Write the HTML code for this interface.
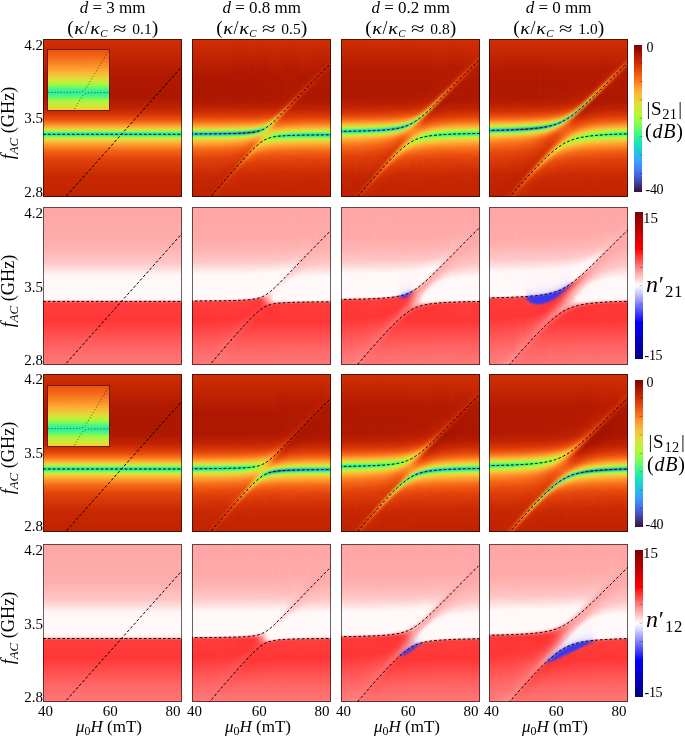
<!DOCTYPE html>
<html><head><meta charset="utf-8"><title>figure</title>
<style>
html,body{margin:0;padding:0;background:#fff}
#tx{opacity:.999}
#f{position:relative;width:685px;height:736px;overflow:hidden;background:#fff;font-family:"Liberation Serif",serif;color:#000}
.p{position:absolute;width:139px;height:158px;overflow:hidden}
.p i{position:absolute;top:0;height:100%;width:6px}
.p b i{-webkit-mask-image:linear-gradient(90deg,transparent,#000 50%,transparent);mask-image:linear-gradient(90deg,transparent,#000 50%,transparent)}
.ins{position:absolute;width:61px;height:60px;overflow:hidden}
.ins i{position:absolute;top:0;height:100%;width:2px}
svg{position:absolute;left:0;top:0}
.cb{position:absolute;left:634.5px;width:8px}
.t1,.t2{position:absolute;width:200px;text-align:center;white-space:nowrap}
.t1{top:-1px;font-size:17px;line-height:18px}
.t2{top:18px;font-size:15.5px;line-height:20px}
.t2 em{font-style:normal;font-size:19.5px;position:relative;top:.3px}
.t2 .k{display:inline-block;font-size:16.5px;transform:scaleX(1.22);margin:0 1.4px}
.t2 .sl{font-size:18px}
.t2 .ap{display:inline-block;font-size:17px;transform:scaleX(1.45);margin:0 7.5px 0 8px}
.t2 sub,.yl sub,.xl sub,.cs sub,.cn sub{font-size:70%;vertical-align:baseline;position:relative;top:.28em;line-height:0}
.t2 sub{font-style:italic}
.yl sub{font-style:italic}
.xt{position:absolute;top:702.5px;width:40px;text-align:center;font-size:15px;line-height:17px}
.xl{position:absolute;top:717px;width:120px;text-align:center;font-size:17px;line-height:19px;white-space:nowrap}
.yt{position:absolute;left:0;width:43px;text-align:right;font-size:15px;line-height:17px}
.yl{position:absolute;left:-42.1px;width:100px;height:20px;margin-top:-10px;text-align:center;font-size:18.3px;line-height:20px;white-space:nowrap;transform:rotate(-90deg)}
.ct{position:absolute;left:646.5px;font-size:14.5px;line-height:17px;white-space:nowrap}
.c4{left:645.6px;font-size:14px;letter-spacing:-.35px}
.c1{left:642.9px;font-size:15px}
.cs,.cd,.cn{position:absolute;white-space:nowrap}
.cs{left:646.4px;font-size:19px;line-height:24px;letter-spacing:.7px}
.cs sub{font-size:76%!important;letter-spacing:.3px}
.cd{left:645px;font-size:20px;line-height:24px;letter-spacing:.8px}
.cn{left:646px;font-size:24px;line-height:28px;letter-spacing:.8px}
</style></head>
<body><div id="f">
<div class="p" style="left:43px;top:39px;background:linear-gradient(#d02f05 0.5px,#af1801 38.5px,#ad1701 58.5px,#c02302 69.5px,#d63506 75.5px,#ec520f 80.5px,#f7701b 83.5px,#fcaa33 87.5px,#edcc38 89.5px,#dbde38 90.5px,#beee3b 91.5px,#92f750 92.5px,#5bf27c 93.5px,#2fe4ab 94.5px,#25dfb8 95.5px,#3eeb98 96.5px,#71f767 97.5px,#a4f644 98.5px,#c7eb38 99.5px,#dedc37 100.5px,#f6c038 102.5px,#fda832 104.5px,#f56717 111.5px,#e3440a 119.5px,#c82903 136.5px,#c12302 157.5px)"></div>
<div class="p" style="left:192px;top:39px"><i style="left:-3px;background:linear-gradient(#d02f05 0.5px,#af1801 37.5px,#ac1701 57.5px,#b61c02 65.5px,#ca2a04 72.5px,#e3450a 78.5px,#f56817 82.5px,#fd9e2e 86.5px,#f6bf38 88.5px,#ead138 89.5px,#d4e337 90.5px,#b1f33f 91.5px,#7bf562 92.5px,#46dda3 93.5px,#36b5da 94.5px,#36b5da 95.5px,#45dda4 96.5px,#78f664 97.5px,#acf540 98.5px,#cee837 99.5px,#e4d838 100.5px,#f1c939 101.5px,#fcaf35 103.5px,#fc8424 107.5px,#f46416 111.5px,#e2430a 119.5px,#ca2a04 134.5px,#be2202 157.5px)"></i><i style="left:3px;background:linear-gradient(#d02f05 0.5px,#af1801 37.5px,#ac1701 57.5px,#b61c02 65.5px,#cb2a04 72.5px,#e3450a 78.5px,#f56817 82.5px,#fd9e2e 86.5px,#f6bf38 88.5px,#e9d138 89.5px,#d3e437 90.5px,#b0f340 91.5px,#79f563 92.5px,#45dba5 93.5px,#36b2db 94.5px,#36b4d9 95.5px,#46dea1 96.5px,#7af662 97.5px,#adf43f 98.5px,#cfe737 99.5px,#e4d738 100.5px,#f1c839 101.5px,#fcae34 103.5px,#fc8323 107.5px,#f36416 111.5px,#e2420a 119.5px,#c92903 135.5px,#be2102 157.5px)"></i><i style="left:9px;background:linear-gradient(#d02f05 0.5px,#af1801 37.5px,#ac1701 57.5px,#b61c02 65.5px,#cb2a04 72.5px,#e3450a 78.5px,#f56817 82.5px,#fd9f2f 86.5px,#f5c038 88.5px,#e8d238 89.5px,#d2e537 90.5px,#aef340 91.5px,#77f466 92.5px,#44d9a8 93.5px,#37afdc 94.5px,#37b4d7 95.5px,#48df9e 96.5px,#7cf660 97.5px,#b0f43f 98.5px,#d1e637 99.5px,#e5d638 100.5px,#f2c739 101.5px,#fcae34 103.5px,#f66a18 110.5px,#e4450a 118.5px,#c82903 135.5px,#be2102 157.5px)"></i><i style="left:15px;background:linear-gradient(#d02f05 0.5px,#af1801 37.5px,#ac1701 57.5px,#b61c02 65.5px,#cb2a04 72.5px,#e4450a 78.5px,#f56817 82.5px,#fd9f2f 86.5px,#f5c138 88.5px,#e8d338 89.5px,#d1e538 90.5px,#abf442 91.5px,#73f369 92.5px,#42d6ab 93.5px,#37acdc 94.5px,#37b4d5 95.5px,#4ae19b 96.5px,#80f65d 97.5px,#b2f33e 98.5px,#d2e537 99.5px,#e6d538 100.5px,#f3c639 101.5px,#fdac34 103.5px,#fb8223 107.5px,#f36315 111.5px,#e14209 119.5px,#c62703 137.5px,#be2202 152.5px,#c42503 157.5px)"></i><i style="left:21px;background:linear-gradient(#d02f05 0.5px,#af1801 37.5px,#ac1701 57.5px,#b81e02 66.5px,#cb2b04 72.5px,#e4450a 78.5px,#f56817 82.5px,#fda02f 86.5px,#f5c138 88.5px,#e7d438 89.5px,#cfe638 90.5px,#a9f443 91.5px,#70f26d 92.5px,#41d2af 93.5px,#38a8dc 94.5px,#38b5d1 95.5px,#4de296 96.5px,#83f75a 97.5px,#b5f23d 98.5px,#d4e437 99.5px,#e8d438 100.5px,#f3c539 101.5px,#fdab33 103.5px,#f56818 110.5px,#ec520f 114.5px,#e14109 119.5px,#c42503 139.5px,#c12302 147.5px,#ce2e04 152.5px,#c42503 157.5px)"></i><i style="left:27px;background:linear-gradient(#d02f05 0.5px,#af1801 37.5px,#ac1701 57.5px,#b81e02 66.5px,#cb2b04 72.5px,#e4450a 78.5px,#f56817 82.5px,#fda12f 86.5px,#f4c338 88.5px,#e6d538 89.5px,#cde738 90.5px,#a5f545 91.5px,#6bf172 92.5px,#3fccb4 93.5px,#38a3db 94.5px,#38b6cc 95.5px,#51e490 96.5px,#89f756 97.5px,#b9f13b 98.5px,#d7e237 99.5px,#ead239 100.5px,#fda933 103.5px,#f56717 110.5px,#eb510e 114.5px,#e04109 119.5px,#c42503 137.5px,#c42503 141.5px,#d43306 145.5px,#c62703 150.5px,#c12302 157.5px)"></i><i style="left:33px;background:linear-gradient(#d02f05 0.5px,#af1801 37.5px,#ac1701 57.5px,#b81e02 66.5px,#cb2b04 72.5px,#e4450a 78.5px,#f56818 82.5px,#fda230 86.5px,#f3c438 88.5px,#e4d738 89.5px,#cae938 90.5px,#a0f548 91.5px,#65ee78 92.5px,#3dc4b9 93.5px,#399cd8 94.5px,#3ab8c5 95.5px,#57e789 96.5px,#90f751 97.5px,#beef3a 98.5px,#dae037 99.5px,#f6c039 101.5px,#fda632 103.5px,#f46516 110.5px,#ea4f0e 114.5px,#df3f09 119.5px,#c82903 132.5px,#c92903 134.5px,#db3b07 138.5px,#c82903 144.5px,#c12302 157.5px)"></i><i style="left:39px;background:linear-gradient(#d02f05 0.5px,#b21a01 30.5px,#ac1701 49.5px,#af1801 61.5px,#c02302 69.5px,#d73606 75.5px,#e84d0d 79.5px,#f9771e 83.5px,#fab436 87.5px,#e2d938 89.5px,#c6eb39 90.5px,#99f64c 91.5px,#5ee981 92.5px,#3bb8bc 93.5px,#3995d1 94.5px,#3cbcba 95.5px,#60eb7e 96.5px,#9af64b 97.5px,#c5ec39 98.5px,#dfdc38 99.5px,#efcb39 100.5px,#fcaf35 102.5px,#f7701b 108.5px,#e6490b 115.5px,#d02f05 126.5px,#d43406 128.5px,#e5480b 131.5px,#cc2b04 138.5px,#c12302 157.5px)"></i><i style="left:45px;background:linear-gradient(#d02f05 0.5px,#b21a01 30.5px,#ac1701 50.5px,#b01901 62.5px,#c42503 70.5px,#d73606 75.5px,#e94d0d 79.5px,#f66b19 82.5px,#fda531 86.5px,#f0c838 88.5px,#dedc38 89.5px,#c0ed3b 90.5px,#8ef554 91.5px,#54e08c 92.5px,#39a4ba 93.5px,#378ec1 94.5px,#41c5a8 95.5px,#6ff06e 96.5px,#a8f444 97.5px,#cee738 98.5px,#e5d638 99.5px,#f3c539 100.5px,#fda932 102.5px,#fc8524 105.5px,#f36315 109.5px,#e84b0c 113.5px,#db3a07 118.5px,#dc3d08 121.5px,#f05d13 124.5px,#f05d13 125.5px,#dc3b08 129.5px,#d13005 133.5px,#c62703 142.5px,#c12302 157.5px)"></i><i style="left:51px;background:linear-gradient(#d02f05 0.5px,#b21a01 30.5px,#ac1701 49.5px,#af1801 61.5px,#c12302 69.5px,#d33205 74.5px,#e94e0d 79.5px,#f66b19 82.5px,#fca832 86.5px,#edcd38 88.5px,#d8e038 89.5px,#b4f13f 90.5px,#7df262 91.5px,#47cb99 92.5px,#368aad 93.5px,#3794ac 94.5px,#4fd78f 95.5px,#89f458 96.5px,#bcee3c 97.5px,#dcdd38 98.5px,#f8ba37 100.5px,#fe9c2e 102.5px,#f76f1a 106.5px,#e4460b 112.5px,#e4470b 114.5px,#e9520f 115.5px,#f7761e 117.5px,#fa7d21 118.5px,#f9781e 119.5px,#ef5c13 121.5px,#e6490b 123.5px,#d83706 128.5px,#c82903 138.5px,#c12302 157.5px)"></i><i style="left:57px;background:linear-gradient(#d02f05 0.5px,#b21a01 30.5px,#ac1701 50.5px,#af1801 61.5px,#c12302 69.5px,#d43205 74.5px,#ea4f0d 79.5px,#f76e1a 82.5px,#fd9c2d 85.5px,#f5c038 87.5px,#e6d338 88.5px,#cbe739 89.5px,#9df34c 90.5px,#60e27d 91.5px,#3ba2a3 92.5px,#3684a6 93.5px,#46bf98 94.5px,#7bee65 95.5px,#b6ee40 96.5px,#dbdd38 97.5px,#f0c838 98.5px,#fda430 100.5px,#fa7a1f 103.5px,#f36215 106.5px,#f36717 108.5px,#fc9d2e 111.5px,#fda430 112.5px,#fd9c2d 113.5px,#f25f14 117.5px,#e14109 123.5px,#ca2a04 136.5px,#c12302 157.5px)"></i><i style="left:63px;background:linear-gradient(#d02f05 0.5px,#b21a01 30.5px,#ac1701 50.5px,#af1901 61.5px,#c12302 69.5px,#d83707 75.5px,#ea500e 79.5px,#f8721c 82.5px,#fda430 85.5px,#eccc38 87.5px,#d3e139 88.5px,#a4f04a 89.5px,#65e17d 90.5px,#3eabad 91.5px,#3b9eaf 92.5px,#59d388 93.5px,#96ef53 94.5px,#cae63b 95.5px,#e7d338 96.5px,#f5c138 97.5px,#fda632 99.5px,#fe992c 101.5px,#fd9b2d 102.5px,#f6bc37 105.5px,#f4c439 106.5px,#f5c239 107.5px,#fd992c 110.5px,#fa7d21 112.5px,#f26114 115.5px,#e84b0c 119.5px,#dd3c08 124.5px,#c92903 137.5px,#c12302 157.5px)"></i><i style="left:69px;background:linear-gradient(#d02f05 0.5px,#b21a01 30.5px,#ac1701 50.5px,#af1901 61.5px,#c12403 69.5px,#d53406 74.5px,#e74b0c 78.5px,#f66c19 81.5px,#fca330 84.5px,#f5bb36 85.5px,#e0d539 86.5px,#b5eb44 87.5px,#76f466 88.5px,#49f18a 89.5px,#53f183 90.5px,#85f45c 91.5px,#b4f040 92.5px,#d1e637 93.5px,#e8d639 95.5px,#ecd139 97.5px,#d7e436 102.5px,#e9d439 104.5px,#f9b937 106.5px,#fe9e2e 108.5px,#fa7b1f 111.5px,#f36215 114.5px,#e04009 122.5px,#c82903 137.5px,#c12302 157.5px)"></i><i style="left:75px;background:linear-gradient(#d02f05 0.5px,#af1801 38.5px,#af1901 61.5px,#bf2202 68.5px,#d73506 74.5px,#eb520f 78.5px,#f7721c 80.5px,#f5ad30 82.5px,#e0d036 83.5px,#c3ea39 84.5px,#b3f33c 85.5px,#beec3b 86.5px,#ebcb38 88.5px,#f4c239 89.5px,#f5c43a 91.5px,#dfdd37 94.5px,#bbf338 96.5px,#96fd45 98.5px,#98fd44 99.5px,#c0f137 101.5px,#e7d538 103.5px,#f9b938 105.5px,#fea02f 107.5px,#f9751d 111.5px,#f15e13 114.5px,#e84b0c 118.5px,#cc2b04 134.5px,#c12302 157.5px)"></i><i style="left:81px;background:linear-gradient(#d02f05 0.5px,#af1801 38.5px,#af1801 60.5px,#bd2102 67.5px,#d13005 72.5px,#e64b0d 75.5px,#ef6115 76.5px,#f58321 77.5px,#f1ab2e 78.5px,#e5ca34 79.5px,#e1ce33 80.5px,#f77e20 83.5px,#f8751d 84.5px,#fa7d20 86.5px,#fda12f 89.5px,#f6c038 91.5px,#d6e237 93.5px,#b9f13b 94.5px,#8ffa4e 95.5px,#63fa6d 96.5px,#4cf880 97.5px,#5cfa72 98.5px,#85fb54 99.5px,#aef63d 100.5px,#ccea37 101.5px,#e1db38 102.5px,#f7bf39 104.5px,#fda631 106.5px,#fa7a1f 110.5px,#f36315 113.5px,#e14209 121.5px,#ca2a04 135.5px,#c12302 157.5px)"></i><i style="left:87px;background:linear-gradient(#d02f05 0.5px,#af1801 37.5px,#af1801 60.5px,#b91e02 65.5px,#c62703 68.5px,#d93c08 70.5px,#e65210 71.5px,#f79329 73.5px,#f69b2b 74.5px,#e44b0d 77.5px,#e2420a 79.5px,#f46617 84.5px,#fcab33 89.5px,#edcd39 91.5px,#dae037 92.5px,#bcf03a 93.5px,#90f94f 94.5px,#59f678 95.5px,#32ef9b 96.5px,#35f098 97.5px,#5df773 98.5px,#91fa4d 99.5px,#b9f23a 100.5px,#d4e437 101.5px,#e7d538 102.5px,#f9ba38 104.5px,#fe972c 107.5px,#f7701b 111.5px,#e94e0d 117.5px,#cd2c04 133.5px,#c12302 157.5px)"></i><i style="left:93px;background:linear-gradient(#d02f05 0.5px,#b21a01 31.5px,#b11901 60.5px,#b81d02 62.5px,#ca2c04 64.5px,#f06617 67.5px,#f06919 68.5px,#cf3106 71.5px,#cc2b04 73.5px,#de3d08 78.5px,#ee5811 82.5px,#f9781e 85.5px,#fab336 89.5px,#e5d638 91.5px,#cde838 92.5px,#a8f642 93.5px,#73f864 94.5px,#3def94 95.5px,#24e6ae 96.5px,#36ed9b 97.5px,#67f86d 98.5px,#9bf947 99.5px,#c1ef38 100.5px,#dae137 101.5px,#ead239 102.5px,#fab737 104.5px,#f9771e 110.5px,#e94d0d 117.5px,#cd2c04 133.5px,#c12302 157.5px)"></i><i style="left:99px;background:linear-gradient(#d02f05 0.5px,#b21a01 31.5px,#af1801 53.5px,#b91f02 57.5px,#e4490c 61.5px,#e2480c 62.5px,#bf2303 65.5px,#bb1f02 67.5px,#c12302 70.5px,#d73606 76.5px,#e84b0c 80.5px,#f7701b 84.5px,#fda832 88.5px,#efca39 90.5px,#dfdc38 91.5px,#c3ed39 92.5px,#9af849 93.5px,#60f574 94.5px,#30e8a6 95.5px,#22e1b7 96.5px,#3aec99 97.5px,#6ff867 98.5px,#a2f743 99.5px,#c6ed37 100.5px,#ddde37 101.5px,#f5c239 103.5px,#fda933 105.5px,#f46717 112.5px,#e3430a 120.5px,#ca2a04 135.5px,#c12302 157.5px)"></i><i style="left:105px;background:linear-gradient(#d02f05 0.5px,#af1801 38.5px,#b01901 49.5px,#b81e02 51.5px,#dc3d08 55.5px,#d73907 56.5px,#be2303 58.5px,#b11a01 60.5px,#b31b01 64.5px,#c12302 70.5px,#d83706 76.5px,#e84c0d 80.5px,#f8731c 84.5px,#fcac33 88.5px,#edcd39 90.5px,#dadf37 91.5px,#bdf03a 92.5px,#8ff850 93.5px,#55f280 94.5px,#2ae2b2 95.5px,#23ddbc 96.5px,#3fec97 97.5px,#75f862 98.5px,#a7f741 99.5px,#c9eb37 100.5px,#dfdc37 101.5px,#f6c039 103.5px,#fda832 105.5px,#fb7e21 109.5px,#f46617 112.5px,#e2430a 120.5px,#ca2a04 135.5px,#c12302 157.5px)"></i><i style="left:111px;background:linear-gradient(#d02f05 0.5px,#af1801 38.5px,#b31b01 44.5px,#d53406 49.5px,#b41b02 53.5px,#af1801 55.5px,#b01901 62.5px,#bf2202 69.5px,#d43305 75.5px,#e94d0d 80.5px,#f8741c 84.5px,#fcae34 88.5px,#ebd039 90.5px,#d7e237 91.5px,#b8f13c 92.5px,#87f856 93.5px,#4def89 94.5px,#28ddba 95.5px,#25dbbf 96.5px,#42ec94 97.5px,#79f85f 98.5px,#abf63f 99.5px,#ccea37 100.5px,#e1db38 101.5px,#f7bf39 103.5px,#fda732 105.5px,#f46516 112.5px,#e2430a 120.5px,#ca2a04 135.5px,#c12302 157.5px)"></i><i style="left:117px;background:linear-gradient(#d02f05 0.5px,#b21a01 32.5px,#b41b02 38.5px,#cf2f05 43.5px,#b31a01 47.5px,#ac1701 55.5px,#b01901 62.5px,#c22403 70.5px,#dd3c08 77.5px,#ee5610 81.5px,#fd9029 86.5px,#f5c038 89.5px,#d4e337 91.5px,#b3f33d 92.5px,#81f85a 93.5px,#47ed90 94.5px,#27d9c0 95.5px,#26d9c1 96.5px,#45ed92 97.5px,#7df85c 98.5px,#aef53e 99.5px,#cde937 100.5px,#e2da38 101.5px,#f7be38 103.5px,#fda631 105.5px,#f46516 112.5px,#eb500e 116.5px,#e04009 121.5px,#c92903 136.5px,#c12302 157.5px)"></i><i style="left:123px;background:linear-gradient(#d02f05 0.5px,#b41b01 30.5px,#b51c02 32.5px,#ca2a04 37.5px,#b31b01 41.5px,#ac1701 51.5px,#b01901 62.5px,#c22403 70.5px,#d93807 76.5px,#ea4e0d 80.5px,#f9761e 84.5px,#fbb035 88.5px,#e8d338 90.5px,#d2e537 91.5px,#b0f33f 92.5px,#7cf85e 93.5px,#44ea96 94.5px,#26d7c5 95.5px,#28d8c1 96.5px,#48ed90 97.5px,#80f95a 98.5px,#aff53e 99.5px,#cfe837 100.5px,#e3d938 101.5px,#f8bd38 103.5px,#fda531 105.5px,#fa7c20 109.5px,#f46516 112.5px,#e2430a 120.5px,#ca2a04 135.5px,#c12302 157.5px)"></i><i style="left:129px;background:linear-gradient(#d02f05 0.5px,#b81d02 25.5px,#c62703 31.5px,#b21a01 36.5px,#ac1701 50.5px,#b01901 62.5px,#c22403 70.5px,#d93807 76.5px,#ea4f0e 80.5px,#f9761e 84.5px,#fbb235 88.5px,#e7d438 90.5px,#d1e637 91.5px,#adf440 92.5px,#78f761 93.5px,#41e89b 94.5px,#26d4c8 95.5px,#29d8c2 96.5px,#4aed8e 97.5px,#82f959 98.5px,#b1f43d 99.5px,#d0e737 100.5px,#e4d838 101.5px,#f8bd38 103.5px,#fda531 105.5px,#fa7c20 109.5px,#f46516 112.5px,#e2430a 120.5px,#ca2a04 135.5px,#c12302 157.5px)"></i><i style="left:135px;background:linear-gradient(#d02f05 0.5px,#bf2202 19.5px,#c62703 25.5px,#b81e02 28.5px,#b21a01 32.5px,#ac1701 50.5px,#b01901 62.5px,#bf2202 69.5px,#d53406 75.5px,#ea4f0e 80.5px,#f9771e 84.5px,#fbb235 88.5px,#e6d538 90.5px,#cfe737 91.5px,#abf541 92.5px,#75f764 93.5px,#3fe79e 94.5px,#27d2cb 95.5px,#2ad7c1 96.5px,#4cee8c 97.5px,#84f957 98.5px,#b3f43c 99.5px,#d1e737 100.5px,#e5d738 101.5px,#f8bc38 103.5px,#fea531 105.5px,#fa7b20 109.5px,#f46416 112.5px,#e2430a 120.5px,#ca2a04 135.5px,#c12302 157.5px)"></i><b><i style="left:0px;background:linear-gradient(#d02f05 0.5px,#af1801 37.5px,#ac1701 57.5px,#b61c02 65.5px,#cb2a04 72.5px,#e3450a 78.5px,#f56817 82.5px,#fd9e2e 86.5px,#f6bf38 88.5px,#e9d138 89.5px,#d4e437 90.5px,#b0f33f 91.5px,#7af563 92.5px,#46dda4 93.5px,#36b4db 94.5px,#36b5da 95.5px,#45dea3 96.5px,#79f663 97.5px,#adf440 98.5px,#cfe837 99.5px,#e4d838 100.5px,#f1c939 101.5px,#fcaf35 103.5px,#fc8423 107.5px,#f46416 111.5px,#e2420a 119.5px,#c92903 135.5px,#be2102 157.5px)"></i><i style="left:6px;background:linear-gradient(#d02f05 0.5px,#af1801 37.5px,#ac1701 57.5px,#b61c02 65.5px,#cb2a04 72.5px,#e3450a 78.5px,#f56817 82.5px,#fd9e2e 86.5px,#f5c038 88.5px,#e9d238 89.5px,#d3e437 90.5px,#aff340 91.5px,#78f465 92.5px,#44daa6 93.5px,#37b1db 94.5px,#36b4d8 95.5px,#47dfa0 96.5px,#7bf661 97.5px,#aef43f 98.5px,#d0e737 99.5px,#e5d738 100.5px,#f1c839 101.5px,#fcae34 103.5px,#fc8323 107.5px,#f36416 111.5px,#e2420a 119.5px,#c92903 135.5px,#be2102 157.5px)"></i><i style="left:12px;background:linear-gradient(#d02f05 0.5px,#af1801 37.5px,#ac1701 57.5px,#b61c02 65.5px,#cb2a04 72.5px,#e4450a 78.5px,#f56817 82.5px,#fd9f2f 86.5px,#f5c138 88.5px,#e8d338 89.5px,#d1e538 90.5px,#acf441 91.5px,#75f467 92.5px,#43d8aa 93.5px,#37aedc 94.5px,#37b4d6 95.5px,#49e09d 96.5px,#7ef65f 97.5px,#b1f43e 98.5px,#d1e637 99.5px,#e6d638 100.5px,#f2c739 101.5px,#fcad34 103.5px,#f56a18 110.5px,#ec530f 114.5px,#e24209 119.5px,#c82903 135.5px,#be2102 157.5px)"></i><i style="left:18px;background:linear-gradient(#d02f05 0.5px,#af1801 37.5px,#ac1701 57.5px,#b81e02 66.5px,#ce2e04 73.5px,#e4450a 78.5px,#f56817 82.5px,#fda02f 86.5px,#f5c138 88.5px,#e7d338 89.5px,#d0e638 90.5px,#aaf442 91.5px,#72f36b 92.5px,#42d4ad 93.5px,#37aadc 94.5px,#37b5d3 95.5px,#4be199 96.5px,#82f65c 97.5px,#b3f33d 98.5px,#d3e537 99.5px,#e7d538 100.5px,#f3c639 101.5px,#fdac34 103.5px,#fb8122 107.5px,#f36215 111.5px,#ea4e0d 115.5px,#df3f09 120.5px,#c32503 140.5px,#bf2202 150.5px,#ca2a04 157.5px)"></i><i style="left:24px;background:linear-gradient(#d02f05 0.5px,#af1801 37.5px,#ac1701 57.5px,#b81e02 66.5px,#cb2b04 72.5px,#e4450a 78.5px,#f56817 82.5px,#fda02f 86.5px,#f4c238 88.5px,#e6d438 89.5px,#cee738 90.5px,#a7f444 91.5px,#6df26f 92.5px,#40cfb2 93.5px,#38a5dc 94.5px,#38b5cf 95.5px,#4fe394 96.5px,#86f758 97.5px,#b7f23c 98.5px,#d5e337 99.5px,#e8d338 100.5px,#f4c439 101.5px,#fdaa33 103.5px,#fb8022 107.5px,#f26115 111.5px,#e14109 119.5px,#c42503 138.5px,#c22403 144.5px,#d13005 149.5px,#c22403 157.5px)"></i><i style="left:30px;background:linear-gradient(#d02f05 0.5px,#af1801 37.5px,#ac1701 57.5px,#b81e02 66.5px,#cb2b04 72.5px,#e4450a 78.5px,#f56817 82.5px,#fda130 86.5px,#f4c338 88.5px,#e5d638 89.5px,#cce838 90.5px,#a2f546 91.5px,#68ef75 92.5px,#3ec8b6 93.5px,#38a0da 94.5px,#39b6c9 95.5px,#54e68d 96.5px,#8cf754 97.5px,#bbf03b 98.5px,#d9e137 99.5px,#ebd139 100.5px,#fda832 103.5px,#fc8725 106.5px,#f46617 110.5px,#eb500e 114.5px,#e04009 119.5px,#c52603 135.5px,#c72803 138.5px,#d73606 142.5px,#c72803 147.5px,#c12302 157.5px)"></i><i style="left:36px;background:linear-gradient(#d02f05 0.5px,#af1801 37.5px,#ac1701 57.5px,#b81e02 66.5px,#cb2b04 72.5px,#e4460a 78.5px,#f56918 82.5px,#fda330 86.5px,#f2c538 88.5px,#e3d838 89.5px,#c8ea39 90.5px,#9df54a 91.5px,#62ec7c 92.5px,#3cbfbb 93.5px,#3999d5 94.5px,#3bb9c0 95.5px,#5be984 96.5px,#94f74e 97.5px,#c1ee39 98.5px,#dcde37 99.5px,#edce39 100.5px,#fbb135 102.5px,#fc8424 106.5px,#f36416 110.5px,#e14109 118.5px,#cc2c04 129.5px,#ce2e04 131.5px,#e04009 135.5px,#ca2a04 141.5px,#c12302 157.5px)"></i><i style="left:42px;background:linear-gradient(#d02f05 0.5px,#b21a01 30.5px,#ac1701 49.5px,#af1801 61.5px,#c02302 69.5px,#d73606 75.5px,#e94d0d 79.5px,#f9771e 83.5px,#fab536 87.5px,#e0da38 89.5px,#c3ec3a 90.5px,#94f550 91.5px,#59e586 92.5px,#3aafbc 93.5px,#3891ca 94.5px,#3ec0b2 95.5px,#6e7 96.5px,#a0f547 97.5px,#c9ea38 98.5px,#e2d938 99.5px,#f9ba37 101.5px,#fe942a 104.5px,#f76e1a 108.5px,#e5470b 115.5px,#d43306 123.5px,#eb520f 128.5px,#d83706 132.5px,#cf2e04 135.5px,#c12302 157.5px)"></i><i style="left:48px;background:linear-gradient(#d02f05 0.5px,#b21a01 30.5px,#ac1701 50.5px,#b01901 62.5px,#c42503 70.5px,#d73606 75.5px,#e94d0d 79.5px,#f66b19 82.5px,#fda732 86.5px,#efca39 88.5px,#dcde38 89.5px,#bbef3c 90.5px,#86f45a 91.5px,#4ed793 92.5px,#3797b4 93.5px,#378eb5 94.5px,#46cc9d 95.5px,#7af264 96.5px,#b1f240 97.5px,#d5e337 98.5px,#ead138 99.5px,#f5c038 100.5px,#fda330 102.5px,#f46516 108.5px,#df3f09 115.5px,#de3e09 117.5px,#e2460b 118.5px,#f56c19 121.5px,#f56a18 122.5px,#e14109 126.5px,#d53406 130.5px,#c82803 139.5px,#c12302 157.5px)"></i><i style="left:54px;background:linear-gradient(#d02f05 0.5px,#af1801 38.5px,#ac1701 57.5px,#be2102 68.5px,#d33205 74.5px,#e94e0d 79.5px,#fa7a1f 83.5px,#fd992c 85.5px,#f7bc37 87.5px,#ead038 88.5px,#d3e338 89.5px,#abf243 90.5px,#70ed6d 91.5px,#41ba9f 92.5px,#3581a9 93.5px,#3ba4a5 94.5px,#60e37d 95.5px,#9df34c 96.5px,#cbe839 97.5px,#e6d538 98.5px,#fbb035 100.5px,#f9791f 104.5px,#eb500e 109.5px,#eb5410 111.5px,#fb8a26 114.5px,#fd9029 115.5px,#fc8925 116.5px,#f46818 118.5px,#ec520f 120.5px,#dd3d08 125.5px,#c82803 138.5px,#c12302 157.5px)"></i><i style="left:60px;background:linear-gradient(#d02f05 0.5px,#af1801 38.5px,#ad1701 57.5px,#be2102 68.5px,#d43305 74.5px,#ea4f0e 79.5px,#f7701b 82.5px,#fab135 86.5px,#f2c538 87.5px,#e0d938 88.5px,#beec3d 89.5px,#86f05c 90.5px,#4dca91 91.5px,#378da6 92.5px,#3c9fa1 93.5px,#63de7b 94.5px,#a2f04b 95.5px,#d1e239 96.5px,#ebcd38 97.5px,#f8ba37 98.5px,#fd8c27 101.5px,#fa7b20 103.5px,#fa7f21 105.5px,#faae34 108.5px,#fab536 109.5px,#fcaf35 110.5px,#fa7f21 113.5px,#f46717 115.5px,#ec520f 118.5px,#e24209 122.5px,#ca2a04 136.5px,#c12302 157.5px)"></i><i style="left:66px;background:linear-gradient(#d02f05 0.5px,#b21a01 30.5px,#ac1701 50.5px,#af1901 61.5px,#c12302 69.5px,#d93807 75.5px,#eb520f 79.5px,#f8761d 82.5px,#fbac33 85.5px,#f3c137 86.5px,#ded839 87.5px,#b4ec44 88.5px,#73ed72 89.5px,#40d4b3 90.5px,#3bcac0 91.5px,#5ee28a 92.5px,#99f151 93.5px,#c7e93a 94.5px,#e2da38 95.5px,#f6c239 97.5px,#fab838 99.5px,#f5c038 101.5px,#ebd139 103.5px,#eecf39 105.5px,#fda832 108.5px,#f66c19 113.5px,#ec520f 117.5px,#e14109 122.5px,#ca2a04 136.5px,#c12302 157.5px)"></i><i style="left:72px;background:linear-gradient(#d02f05 0.5px,#b21a01 30.5px,#ac1701 50.5px,#af1901 61.5px,#c22403 69.5px,#d63406 74.5px,#e94d0d 78.5px,#f8741d 81.5px,#fba12e 83.5px,#f1be35 84.5px,#d6db3a 85.5px,#acf143 86.5px,#8afa52 87.5px,#8bf952 88.5px,#c9e73b 90.5px,#dcde38 91.5px,#e5d938 92.5px,#e2db38 95.5px,#bbf436 99.5px,#b9f535 100.5px,#d1e835 102.5px,#eecd39 104.5px,#fda531 107.5px,#fb8122 110.5px,#f46717 113.5px,#eb500e 117.5px,#e24209 121.5px,#cb2a04 135.5px,#c12302 157.5px)"></i><i style="left:78px;background:linear-gradient(#d02f05 0.5px,#af1801 38.5px,#af1801 60.5px,#bf2202 68.5px,#d83707 74.5px,#eb520f 77.5px,#f26516 78.5px,#f3a72d 80.5px,#e2cc34 81.5px,#d0e236 82.5px,#d0e036 83.5px,#f3b231 85.5px,#fba12e 86.5px,#fe9f2f 88.5px,#fcb035 90.5px,#f0ca39 92.5px,#e3d938 93.5px,#b2f53c 95.5px,#72fd60 97.5px,#6efd63 98.5px,#86fd52 99.5px,#a8f83f 100.5px,#dcdf37 102.5px,#f5c239 104.5px,#fda933 106.5px,#fa7c20 110.5px,#f36416 113.5px,#e14209 121.5px,#ca2a04 136.5px,#c12302 157.5px)"></i><i style="left:84px;background:linear-gradient(#d02f05 0.5px,#af1801 38.5px,#af1801 60.5px,#be2102 67.5px,#ca2a04 70.5px,#d93a07 72.5px,#e44a0d 73.5px,#ef6717 74.5px,#f2af30 76.5px,#eeb630 77.5px,#ee6014 80.5px,#ed5610 81.5px,#f15d13 83.5px,#f76e1a 85.5px,#fda531 89.5px,#f1c739 91.5px,#e2d938 92.5px,#c9ea38 93.5px,#a3f744 94.5px,#44f489 96.5px,#3af391 97.5px,#5af876 98.5px,#8bfa50 99.5px,#b4f43b 100.5px,#d1e736 101.5px,#e4d838 102.5px,#f8bc38 104.5px,#fea431 106.5px,#fa791f 110.5px,#f36215 113.5px,#e3440a 120.5px,#ca2a04 135.5px,#c12302 157.5px)"></i><i style="left:90px;background:linear-gradient(#d02f05 0.5px,#b21a01 31.5px,#b31b01 62.5px,#be2102 65.5px,#d13206 67.5px,#df450b 68.5px,#f57a20 70.5px,#f58022 71.5px,#d93c08 74.5px,#d63506 76.5px,#e5470b 80.5px,#f15f14 83.5px,#fd9028 87.5px,#f5c038 90.5px,#d3e437 92.5px,#b1f33e 93.5px,#80f95a 94.5px,#48f388 95.5px,#29eaa6 96.5px,#34ee9b 97.5px,#97f94a 99.5px,#bef039 100.5px,#d7e237 101.5px,#e9d339 102.5px,#f9b937 104.5px,#fe952b 107.5px,#f76f1a 111.5px,#e94d0d 117.5px,#cd2c04 133.5px,#c12302 157.5px)"></i><i style="left:96px;background:linear-gradient(#d02f05 0.5px,#b21a01 31.5px,#b01901 57.5px,#bb2002 60.5px,#d23407 62.5px,#ea5511 64.5px,#e95611 65.5px,#c72904 68.5px,#c42503 71.5px,#da3907 77.5px,#eb510e 81.5px,#fa7a1f 85.5px,#f9b636 89.5px,#e1d938 91.5px,#c8eb38 92.5px,#a0f746 93.5px,#69f76c 94.5px,#35eb9e 95.5px,#23e3b3 96.5px,#38ec9a 97.5px,#6bf86a 98.5px,#9ff845 99.5px,#c4ee38 100.5px,#dcdf37 101.5px,#ebd039 102.5px,#fab637 104.5px,#f9761d 110.5px,#e94d0d 117.5px,#cd2c04 133.5px,#c12302 157.5px)"></i><i style="left:102px;background:linear-gradient(#d02f05 0.5px,#b21a01 30.5px,#af1801 50.5px,#b91e02 54.5px,#e0420a 58.5px,#dc3e09 59.5px,#c22603 61.5px,#b51c02 63.5px,#c12302 70.5px,#d33205 75.5px,#e84c0c 80.5px,#f7711b 84.5px,#fcaa33 88.5px,#eecc39 90.5px,#dcde37 91.5px,#c0ee3a 92.5px,#94f84d 93.5px,#5af47a 94.5px,#2de5ac 95.5px,#22dfba 96.5px,#3dec98 97.5px,#72f864 98.5px,#a5f742 99.5px,#c8ec37 100.5px,#dedd37 101.5px,#f6c139 103.5px,#fda832 105.5px,#fb7e21 109.5px,#f46617 112.5px,#e2430a 120.5px,#ca2a04 135.5px,#c12302 157.5px)"></i><i style="left:108px;background:linear-gradient(#d02f05 0.5px,#af1801 38.5px,#b31b01 47.5px,#d83807 52.5px,#b41c02 56.5px,#af1901 58.5px,#b11901 63.5px,#c12403 70.5px,#d83706 76.5px,#e94d0d 80.5px,#f8731c 84.5px,#fcad34 88.5px,#ecce39 90.5px,#d9e137 91.5px,#baf13b 92.5px,#8bf853 93.5px,#50f185 94.5px,#29dfb6 95.5px,#24dcbe 96.5px,#41ec96 97.5px,#77f861 98.5px,#a9f640 99.5px,#caea37 100.5px,#e0db38 101.5px,#f7bf39 103.5px,#fda832 105.5px,#fb7d21 109.5px,#f46616 112.5px,#e2430a 120.5px,#c92903 136.5px,#c12302 157.5px)"></i><i style="left:114px;background:linear-gradient(#d02f05 0.5px,#b01901 38.5px,#b41b01 41.5px,#d23105 46.5px,#b91e02 49.5px,#af1801 52.5px,#ad1701 59.5px,#c22403 70.5px,#dd3c08 77.5px,#ed5610 81.5px,#fd8f28 86.5px,#f6bf38 89.5px,#d6e337 91.5px,#b5f23d 92.5px,#84f858 93.5px,#4aee8d 94.5px,#27dbbd 95.5px,#26dac0 96.5px,#44ec93 97.5px,#7bf85e 98.5px,#acf53f 99.5px,#cce937 100.5px,#e2da38 101.5px,#f7be38 103.5px,#fda631 105.5px,#f46516 112.5px,#eb500e 116.5px,#e14109 121.5px,#c92903 136.5px,#c12302 157.5px)"></i><i style="left:120px;background:linear-gradient(#d02f05 0.5px,#b21a01 32.5px,#b51c02 35.5px,#cc2c04 40.5px,#b31a01 44.5px,#ac1701 53.5px,#b01901 62.5px,#c22403 70.5px,#dd3c08 77.5px,#ee5610 81.5px,#fd9129 86.5px,#f5c138 89.5px,#d4e437 91.5px,#b2f33e 92.5px,#7ff85c 93.5px,#45ec93 94.5px,#26d8c2 95.5px,#27d9c1 96.5px,#47ed90 97.5px,#7ff95b 98.5px,#aff53e 99.5px,#cee837 100.5px,#e3d938 101.5px,#f7bd38 103.5px,#fda531 105.5px,#f46516 112.5px,#eb500e 116.5px,#e04009 121.5px,#c92903 136.5px,#c12302 157.5px)"></i><i style="left:126px;background:linear-gradient(#d02f05 0.5px,#b51c02 27.5px,#c82903 34.5px,#b31b01 38.5px,#ac1701 51.5px,#b01901 62.5px,#c22403 70.5px,#d93807 76.5px,#ea4f0e 80.5px,#f9761e 84.5px,#fbb135 88.5px,#e8d338 90.5px,#d2e537 91.5px,#aff43f 92.5px,#7af760 93.5px,#42e998 94.5px,#26d5c7 95.5px,#28d8c1 96.5px,#49ed8e 97.5px,#81f959 98.5px,#b1f43d 99.5px,#cfe837 100.5px,#e3d838 101.5px,#f8bd38 103.5px,#fda531 105.5px,#fa7c20 109.5px,#f46516 112.5px,#e2430a 120.5px,#ca2a04 135.5px,#c12302 157.5px)"></i><i style="left:132px;background:linear-gradient(#d02f05 0.5px,#bb2002 22.5px,#c62703 28.5px,#b31a01 33.5px,#ac1701 50.5px,#b01901 62.5px,#c22403 70.5px,#d93807 76.5px,#ea4f0e 80.5px,#f9771e 84.5px,#fbb235 88.5px,#e7d438 90.5px,#d0e637 91.5px,#adf440 92.5px,#77f762 93.5px,#40e79d 94.5px,#27d3ca 95.5px,#2ad7c2 96.5px,#4bee8d 97.5px,#83f958 98.5px,#b2f43d 99.5px,#d1e737 100.5px,#e4d738 101.5px,#f8bc38 103.5px,#fea531 105.5px,#fc8524 108.5px,#f46416 112.5px,#e2430a 120.5px,#ca2a04 135.5px,#c12302 157.5px)"></i><i style="left:138px;background:linear-gradient(#d02f05 0.5px,#c12302 17.5px,#c72803 22.5px,#b81e02 26.5px,#b21a01 32.5px,#ac1701 50.5px,#ad1701 59.5px,#bf2202 69.5px,#d53406 75.5px,#ea4f0e 80.5px,#f9771e 84.5px,#fbb335 88.5px,#e6d538 90.5px,#cfe737 91.5px,#aaf541 92.5px,#74f665 93.5px,#3ee6a0 94.5px,#27d1cc 95.5px,#2bd7c2 96.5px,#4dee8c 97.5px,#85f957 98.5px,#b3f43c 99.5px,#d1e637 100.5px,#e5d738 101.5px,#f8bc38 103.5px,#fea431 105.5px,#f46416 112.5px,#e2430a 120.5px,#ca2a04 135.5px,#c12302 157.5px)"></i></b></div>
<div class="p" style="left:341px;top:39px"><i style="left:-3px;background:linear-gradient(#d02f05 0.5px,#b51b01 28.5px,#af1801 41.5px,#b01901 58.5px,#c32403 68.5px,#d53406 73.5px,#e74a0c 77.5px,#f56817 80.5px,#fda431 84.5px,#f1c839 86.5px,#e0da38 87.5px,#c5ec39 88.5px,#99f74b 89.5px,#5ef17b 90.5px,#32dab9 91.5px,#28ccd2 92.5px,#38dfad 93.5px,#69f46f 94.5px,#a2f645 95.5px,#c9ea38 96.5px,#e2d938 97.5px,#f0c939 98.5px,#fcad34 100.5px,#fd8c27 103.5px,#f46617 108.5px,#e24209 117.5px,#c62703 136.5px,#be2102 157.5px)"></i><i style="left:3px;background:linear-gradient(#d02f05 0.5px,#b51b01 28.5px,#af1801 41.5px,#af1801 57.5px,#c32403 68.5px,#d53406 73.5px,#ec530f 78.5px,#f8751d 81.5px,#fda631 84.5px,#f0c939 86.5px,#dedc38 87.5px,#c2ed3a 88.5px,#94f74e 89.5px,#59ef82 90.5px,#30d6bf 91.5px,#29ccd2 92.5px,#3ce1a8 93.5px,#6ff56a 94.5px,#a7f543 95.5px,#cce838 96.5px,#e4d838 97.5px,#f2c739 98.5px,#fdab33 100.5px,#fd8a26 103.5px,#f66c19 107.5px,#eb510e 112.5px,#e14209 117.5px,#c72703 135.5px,#be2102 157.5px)"></i><i style="left:9px;background:linear-gradient(#d02f05 0.5px,#b51b01 28.5px,#af1801 41.5px,#af1801 57.5px,#c32403 68.5px,#d53406 73.5px,#ec530f 78.5px,#f9761e 81.5px,#fda732 84.5px,#efca39 86.5px,#dcdd37 87.5px,#beef3b 88.5px,#8ef752 89.5px,#53ed89 90.5px,#2fd3c5 91.5px,#2bccd1 92.5px,#40e3a2 93.5px,#76f664 94.5px,#acf440 95.5px,#d0e637 96.5px,#e6d538 97.5px,#f3c539 98.5px,#fda933 100.5px,#fc8825 103.5px,#f66a18 107.5px,#eb510e 112.5px,#e14109 117.5px,#c62703 135.5px,#be2102 157.5px)"></i><i style="left:15px;background:linear-gradient(#d02f05 0.5px,#b21a01 32.5px,#af1801 56.5px,#ba1f02 65.5px,#d13005 72.5px,#e84c0c 77.5px,#f56a18 80.5px,#fca932 84.5px,#edcd39 86.5px,#d9df37 87.5px,#b9f03c 88.5px,#86f758 89.5px,#4ce992 90.5px,#2ececc 91.5px,#2dccd0 92.5px,#46e69a 93.5px,#7ef75e 94.5px,#b3f23e 95.5px,#d4e437 96.5px,#e9d238 97.5px,#fbb436 99.5px,#fc8624 103.5px,#f56918 107.5px,#ea500e 112.5px,#df3e08 118.5px,#c92903 132.5px,#be2202 147.5px,#c02202 151.5px,#d33205 155.5px,#d43305 157.5px)"></i><i style="left:21px;background:linear-gradient(#d02f05 0.5px,#b21a01 32.5px,#af1801 56.5px,#b81e02 64.5px,#cd2d04 71.5px,#e84c0d 77.5px,#f66b19 80.5px,#fcab33 84.5px,#ebcf38 86.5px,#d6e237 87.5px,#b3f23f 88.5px,#7df660 89.5px,#45e49e 90.5px,#2ec9d3 91.5px,#30cdcb 92.5px,#4fea90 93.5px,#89f756 94.5px,#baf03c 95.5px,#d9e037 96.5px,#ecce39 97.5px,#fcb035 99.5px,#fd8c27 102.5px,#f66d19 106.5px,#ec520f 111.5px,#e03f09 117.5px,#cc2c04 129.5px,#c12302 140.5px,#c52603 145.5px,#dd3d08 149.5px,#cb2b04 153.5px,#c32503 157.5px)"></i><i style="left:27px;background:linear-gradient(#d02f05 0.5px,#b21a01 32.5px,#af1801 56.5px,#bb1f02 65.5px,#d23105 72.5px,#e94d0d 77.5px,#f66c19 80.5px,#fcae34 84.5px,#e8d238 86.5px,#d0e538 87.5px,#aaf443 88.5px,#71f46b 89.5px,#3eddad 90.5px,#2ec4d9 91.5px,#34d1c3 92.5px,#5aee82 93.5px,#96f64d 94.5px,#c3ec39 95.5px,#dfdb38 96.5px,#f0ca39 97.5px,#fcab33 99.5px,#fc8825 102.5px,#f56918 106.5px,#eb500e 111.5px,#de3e08 117.5px,#c32503 136.5px,#c72803 138.5px,#e6490c 142.5px,#cc2c04 147.5px,#c12302 157.5px)"></i><i style="left:33px;background:linear-gradient(#d02f05 0.5px,#b21a01 32.5px,#af1801 55.5px,#b81e02 64.5px,#ce2d04 71.5px,#e5460b 76.5px,#f76e1a 80.5px,#fd9f2f 83.5px,#f3c338 85.5px,#e4d738 86.5px,#c9e939 87.5px,#9df54a 88.5px,#61ef7b 89.5px,#38d2bf 90.5px,#30c0db 91.5px,#3cd8b4 92.5px,#6cf270 93.5px,#a6f444 94.5px,#cee738 95.5px,#e6d538 96.5px,#f4c338 97.5px,#fda531 99.5px,#fb8223 102.5px,#f46516 106.5px,#e94d0d 111.5px,#dc3c08 117.5px,#ca2a04 130.5px,#d33406 132.5px,#ee5a12 135.5px,#ee5811 136.5px,#d83807 139.5px,#ce2e04 141.5px,#c12302 157.5px)"></i><i style="left:39px;background:linear-gradient(#d02f05 0.5px,#b21a01 32.5px,#af1801 55.5px,#b91e02 64.5px,#cf2e04 71.5px,#e5470b 76.5px,#f36416 79.5px,#fda330 83.5px,#f0c938 85.5px,#dddc38 86.5px,#bdee3c 87.5px,#8af657 88.5px,#4fe594 89.5px,#35c3d2 90.5px,#34c1d5 91.5px,#4ce39a 92.5px,#85f55b 93.5px,#baef3d 94.5px,#dbde38 95.5px,#eecb39 96.5px,#fdaa33 98.5px,#fc8323 101.5px,#f46416 105.5px,#e84c0c 110.5px,#d93707 117.5px,#d33205 124.5px,#e2490d 126.5px,#f5701b 128.5px,#f8751d 129.5px,#dd3e08 133.5px,#d33205 135.5px,#c62703 144.5px,#c12302 157.5px)"></i><i style="left:45px;background:linear-gradient(#d02f05 0.5px,#b21a01 32.5px,#af1801 54.5px,#b91e02 64.5px,#cf2e04 71.5px,#e6490b 76.5px,#f46617 79.5px,#fca932 83.5px,#ead038 85.5px,#d2e438 86.5px,#a9f344 87.5px,#6df072 88.5px,#3fd0b8 89.5px,#35b6dc 90.5px,#3fcfba 91.5px,#6cef74 92.5px,#a8f345 93.5px,#d2e438 94.5px,#ead038 95.5px,#fcab33 97.5px,#fb8022 100.5px,#f46516 103.5px,#e84c0c 108.5px,#d93807 114.5px,#d73606 116.5px,#dd3e09 118.5px,#e54d0e 119.5px,#f78223 121.5px,#fb942a 122.5px,#fc932a 123.5px,#ec5611 126.5px,#e6490c 127.5px,#d93807 130.5px,#c82903 139.5px,#c12302 157.5px)"></i><i style="left:51px;background:linear-gradient(#d02f05 0.5px,#b21a01 32.5px,#af1801 53.5px,#b71d02 63.5px,#cc2c04 70.5px,#e2430a 75.5px,#f56b19 79.5px,#fd9e2e 82.5px,#f1c638 84.5px,#dddb38 85.5px,#baee3e 86.5px,#81f261 87.5px,#4ad7a4 88.5px,#38b3d6 89.5px,#3ec3c3 90.5px,#65e97e 91.5px,#a4f249 92.5px,#d2e239 93.5px,#ebcd38 94.5px,#fda430 96.5px,#fb8223 98.5px,#f26115 101.5px,#e14109 108.5px,#df4009 110.5px,#e74f0e 112.5px,#ee6517 113.5px,#f7a42e 115.5px,#f8b535 116.5px,#f9b235 117.5px,#f98524 119.5px,#f05d13 121.5px,#e14109 125.5px,#cb2a04 136.5px,#c12302 157.5px)"></i><i style="left:57px;background:linear-gradient(#d02f05 0.5px,#b21a01 32.5px,#af1801 53.5px,#b91e02 64.5px,#cd2c04 70.5px,#e4460b 75.5px,#f36416 78.5px,#fbab33 82.5px,#f3c137 83.5px,#e0d838 84.5px,#bbec3f 85.5px,#80ef65 86.5px,#4ad0aa 87.5px,#3ab3d1 88.5px,#4acdad 89.5px,#80ec67 90.5px,#bee940 91.5px,#e3d338 92.5px,#f5bb36 93.5px,#fca430 94.5px,#fa7f21 96.5px,#f46717 98.5px,#ed540f 101.5px,#eb520f 104.5px,#f26516 106.5px,#f67b1f 107.5px,#f0b932 109.5px,#e9ce36 110.5px,#e9d238 111.5px,#f0c637 112.5px,#fb962b 114.5px,#f7701b 116.5px,#ec540f 119.5px,#e4450a 122.5px,#cb2b04 135.5px,#c12302 157.5px)"></i><i style="left:63px;background:linear-gradient(#d02f05 0.5px,#b51b01 28.5px,#af1801 42.5px,#b21a01 59.5px,#c32503 67.5px,#d73606 72.5px,#ec540f 76.5px,#f66e1a 78.5px,#faad33 81.5px,#eec637 82.5px,#d0df3c 83.5px,#97ee57 84.5px,#56e295 85.5px,#3bcfc0 86.5px,#53db9f 87.5px,#92ea5f 88.5px,#cddf3e 89.5px,#edc738 90.5px,#fab034 91.5px,#fd9d2e 92.5px,#fa7b20 95.5px,#f8731c 97.5px,#f9751d 99.5px,#fb8a26 101.5px,#fa9d2d 102.5px,#e6cf36 104.5px,#d7e236 105.5px,#d2e735 106.5px,#dcdf36 107.5px,#f7b936 109.5px,#fca531 110.5px,#fc8424 112.5px,#f66d19 114.5px,#ed5510 117.5px,#e6480b 120.5px,#ca2a04 135.5px,#c12302 157.5px)"></i><i style="left:69px;background:linear-gradient(#d02f05 0.5px,#b51b01 28.5px,#af1801 42.5px,#b21a01 59.5px,#be2102 65.5px,#d13005 70.5px,#e6490c 74.5px,#f8741d 77.5px,#f8a830 79.5px,#e5c838 80.5px,#b5e548 81.5px,#71f06e 82.5px,#4cee8a 83.5px,#6dec75 84.5px,#b1e34d 85.5px,#e1cb3a 86.5px,#f6b233 87.5px,#fc9f2e 88.5px,#fd942a 89.5px,#fd8b26 91.5px,#fe942a 95.5px,#f5bc36 98.5px,#d3e337 100.5px,#bff136 101.5px,#b7f636 102.5px,#c1f136 103.5px,#d5e436 104.5px,#e7d438 105.5px,#fbb335 107.5px,#f8721c 112.5px,#e84c0c 118.5px,#da3907 125.5px,#cb2b04 134.5px,#c12302 157.5px)"></i><i style="left:75px;background:linear-gradient(#d02f05 0.5px,#b21a01 32.5px,#af1801 51.5px,#bd2102 64.5px,#d13005 69.5px,#e3450a 72.5px,#f26516 74.5px,#f68322 75.5px,#eeab2f 76.5px,#ccd43e 77.5px,#98ed54 78.5px,#80f160 79.5px,#a1e252 80.5px,#d5c13a 81.5px,#f19b2a 82.5px,#f77e20 83.5px,#f66f1a 84.5px,#f56918 86.5px,#fb8122 90.5px,#f8b836 94.5px,#edcb38 95.5px,#bcf03a 97.5px,#9ffa43 98.5px,#90fe49 99.5px,#9afc44 100.5px,#b3f53a 101.5px,#e3d938 103.5px,#f8bb38 105.5px,#fe9f2f 107.5px,#f8731c 111.5px,#e94d0d 117.5px,#db3a07 124.5px,#cc2c04 133.5px,#c12302 157.5px)"></i><i style="left:81px;background:linear-gradient(#d02f05 0.5px,#b21a01 32.5px,#af1801 49.5px,#b51c01 59.5px,#be2102 63.5px,#d03005 67.5px,#e1450b 69.5px,#ec5e14 70.5px,#f08622 71.5px,#e3b631 72.5px,#c5dc3c 73.5px,#b4e441 74.5px,#c5c739 75.5px,#df9427 76.5px,#e66516 77.5px,#e2490c 78.5px,#de3e09 79.5px,#dd3d08 80.5px,#e74a0c 83.5px,#f26215 86.5px,#f9791f 88.5px,#fcab33 91.5px,#e8d238 93.5px,#d0e538 94.5px,#aef43f 95.5px,#86fb53 96.5px,#6afc66 97.5px,#6ffc62 98.5px,#b4f43b 100.5px,#e4d738 102.5px,#f9ba38 104.5px,#fea130 106.5px,#f46617 112.5px,#e2430a 120.5px,#c92903 136.5px,#c12302 157.5px)"></i><i style="left:87px;background:linear-gradient(#d02f05 0.5px,#b21a01 33.5px,#af1801 46.5px,#bb1f02 60.5px,#c42503 62.5px,#d73b08 64.5px,#e55511 65.5px,#ef7e1f 66.5px,#ecac2d 67.5px,#e1c732 68.5px,#deba2d 69.5px,#dc5711 71.5px,#d13708 72.5px,#c92a04 73.5px,#c82903 75.5px,#d93807 79.5px,#ec530f 83.5px,#f8731c 86.5px,#fda230 89.5px,#f1c738 91.5px,#e0da38 92.5px,#c4ec39 93.5px,#9df846 94.5px,#6ffb64 95.5px,#50f87c 96.5px,#59f975 97.5px,#80fb57 98.5px,#aaf73f 99.5px,#caeb37 100.5px,#e0dc37 101.5px,#f7bf38 103.5px,#fda631 105.5px,#fa7b20 109.5px,#f36316 112.5px,#e24209 120.5px,#c82903 136.5px,#c12302 157.5px)"></i><i style="left:93px;background:linear-gradient(#d02f05 0.5px,#b21a01 33.5px,#b21a01 50.5px,#b81e02 55.5px,#c12403 57.5px,#cb2d05 58.5px,#d93f0a 59.5px,#f38523 61.5px,#f5a22d 62.5px,#f09c2a 63.5px,#d6490e 65.5px,#c62d06 66.5px,#b81e02 68.5px,#bd2102 71.5px,#d63506 77.5px,#e84c0d 81.5px,#f9751d 85.5px,#fda330 88.5px,#f2c638 90.5px,#e2d938 91.5px,#c8ea38 92.5px,#a3f744 93.5px,#48f685 95.5px,#42f589 96.5px,#65f96c 97.5px,#95fa4a 98.5px,#bbf139 99.5px,#d6e337 100.5px,#e8d438 101.5px,#fab837 103.5px,#fe952b 106.5px,#f7701b 110.5px,#e74a0c 117.5px,#cb2a04 134.5px,#c12302 157.5px)"></i><i style="left:99px;background:linear-gradient(#d02f05 0.5px,#b21a01 33.5px,#b71d02 50.5px,#c52804 52.5px,#d23607 53.5px,#f06e1b 55.5px,#f78524 56.5px,#f38223 57.5px,#d13d0b 59.5px,#bf2604 60.5px,#b41c02 61.5px,#af1901 64.5px,#be2102 70.5px,#d63406 76.5px,#e74b0c 80.5px,#f8721c 84.5px,#fcae34 88.5px,#e9d138 90.5px,#d4e337 91.5px,#b4f33d 92.5px,#86fa55 93.5px,#52f67c 94.5px,#36f196 95.5px,#45f488 96.5px,#74fa61 97.5px,#a4f842 98.5px,#c6ed37 99.5px,#dede37 100.5px,#f6c139 102.5px,#fda832 104.5px,#f46717 111.5px,#eb510e 115.5px,#e14109 120.5px,#c82903 136.5px,#c12302 157.5px)"></i><i style="left:105px;background:linear-gradient(#d02f05 0.5px,#b51c01 28.5px,#b61c02 44.5px,#c22503 46.5px,#ce3006 47.5px,#ec5c14 49.5px,#f36e1b 50.5px,#f06b1a 51.5px,#ce3508 53.5px,#bd2303 54.5px,#b31b02 55.5px,#ac1701 61.5px,#c02302 70.5px,#d83706 76.5px,#e94e0d 80.5px,#f66b19 83.5px,#fda531 87.5px,#f1c739 89.5px,#e2d938 90.5px,#c9ea38 91.5px,#a3f744 92.5px,#3ff28f 94.5px,#30ef9c 95.5px,#4df582 96.5px,#80fa58 97.5px,#aef53e 98.5px,#cde937 99.5px,#e2d938 100.5px,#f8bd38 102.5px,#fda531 104.5px,#f46516 111.5px,#e2430a 119.5px,#c82803 136.5px,#c12302 157.5px)"></i><i style="left:111px;background:linear-gradient(#d02f05 0.5px,#b51c01 28.5px,#b61c02 38.5px,#cb2d05 41.5px,#ee5c13 44.5px,#ea5812 45.5px,#ca2f06 47.5px,#bc2103 48.5px,#af1901 50.5px,#ad1701 60.5px,#bf2202 69.5px,#d53406 75.5px,#eb510e 80.5px,#fa7d20 84.5px,#fcaa33 87.5px,#eecc39 89.5px,#dcde37 90.5px,#bfef39 91.5px,#95f94c 92.5px,#5ef774 93.5px,#33ef9b 94.5px,#2fee9e 95.5px,#55f67b 96.5px,#8afa52 97.5px,#b5f33b 98.5px,#d3e637 99.5px,#e6d638 100.5px,#f9ba38 102.5px,#fea330 104.5px,#f46516 111.5px,#eb500e 115.5px,#e14109 120.5px,#c82803 136.5px,#c12302 157.5px)"></i><i style="left:117px;background:linear-gradient(#d02f05 0.5px,#b51c02 31.5px,#bf2202 34.5px,#e74d0e 38.5px,#e3490d 39.5px,#ba2002 42.5px,#b11901 44.5px,#ad1701 59.5px,#c02202 69.5px,#d63506 75.5px,#ec530f 80.5px,#fd8e28 85.5px,#f6bf38 88.5px,#d6e237 90.5px,#b7f23c 91.5px,#89f954 92.5px,#51f57f 93.5px,#2ceca2 94.5px,#31ed9d 95.5px,#5cf775 96.5px,#92f94d 97.5px,#bbf13a 98.5px,#d6e337 99.5px,#e8d438 100.5px,#fab837 102.5px,#fe962b 105.5px,#f8721c 109.5px,#e84c0c 116.5px,#d93807 124.5px,#ca2a04 134.5px,#c12302 157.5px)"></i><i style="left:123px;background:linear-gradient(#d13005 0.5px,#ba1f02 26.5px,#c62803 29.5px,#e0420a 32.5px,#dd3f09 33.5px,#c42704 35.5px,#b51c02 37.5px,#ac1701 49.5px,#af1801 61.5px,#c02302 69.5px,#d73606 75.5px,#e84c0d 79.5px,#f8751d 83.5px,#fbb135 87.5px,#e7d438 89.5px,#d2e537 90.5px,#b0f43e 91.5px,#7ef95b 92.5px,#47f289 93.5px,#28eaa8 94.5px,#34ed9b 95.5px,#98f949 97.5px,#bfef39 98.5px,#d9e137 99.5px,#ead239 100.5px,#fab637 102.5px,#fe952b 105.5px,#f8711b 109.5px,#e84b0c 116.5px,#cb2b04 133.5px,#c12302 157.5px)"></i><i style="left:129px;background:linear-gradient(#d13005 0.5px,#bf2202 20.5px,#c72803 23.5px,#db3b08 26.5px,#b61c02 31.5px,#af1801 39.5px,#af1901 61.5px,#c12302 69.5px,#d33205 74.5px,#e94d0d 79.5px,#f9771e 83.5px,#fab436 87.5px,#e5d638 89.5px,#cde837 90.5px,#aaf541 91.5px,#76f961 92.5px,#40f090 93.5px,#26e8ab 94.5px,#37ee99 95.5px,#68f86b 96.5px,#9df846 97.5px,#c3ee38 98.5px,#dcdf37 99.5px,#f5c239 101.5px,#fda933 103.5px,#fb8122 107.5px,#f36315 111.5px,#e2420a 119.5px,#c82803 136.5px,#c12302 157.5px)"></i><i style="left:135px;background:linear-gradient(#d13005 0.5px,#c62703 15.5px,#d73706 20.5px,#b81d02 26.5px,#af1801 38.5px,#af1801 60.5px,#c12302 69.5px,#d83706 75.5px,#e94e0d 79.5px,#f66b19 82.5px,#fda531 86.5px,#f2c639 88.5px,#e3d838 89.5px,#caea38 90.5px,#a4f643 91.5px,#6ff867 92.5px,#3aee96 93.5px,#25e7ad 94.5px,#3aee97 95.5px,#6df868 96.5px,#a1f844 97.5px,#c6ed38 98.5px,#dedd37 99.5px,#f6c039 101.5px,#fda832 103.5px,#f56918 110.5px,#e4450a 118.5px,#c92903 135.5px,#c12302 157.5px)"></i><b><i style="left:0px;background:linear-gradient(#d02f05 0.5px,#b51b01 28.5px,#af1801 41.5px,#af1801 57.5px,#c32403 68.5px,#d53406 73.5px,#e74a0c 77.5px,#f56817 80.5px,#fda531 84.5px,#f0c839 86.5px,#e0db38 87.5px,#c3ec39 88.5px,#96f74d 89.5px,#5bf07e 90.5px,#31d8bc 91.5px,#29ccd2 92.5px,#3ae0ab 93.5px,#6cf56d 94.5px,#a4f644 95.5px,#cbe938 96.5px,#e3d838 97.5px,#f1c839 98.5px,#fcac34 100.5px,#fd8b26 103.5px,#f66c19 107.5px,#ec520f 112.5px,#e24209 117.5px,#c82803 134.5px,#be2102 157.5px)"></i><i style="left:6px;background:linear-gradient(#d02f05 0.5px,#b51b01 28.5px,#af1801 41.5px,#af1801 57.5px,#c32403 68.5px,#da3907 74.5px,#ec530f 78.5px,#f9761d 81.5px,#fda631 84.5px,#efca39 86.5px,#dedc38 87.5px,#c0ee3a 88.5px,#91f750 89.5px,#56ee85 90.5px,#30d4c2 91.5px,#2acbd2 92.5px,#3ee2a6 93.5px,#72f668 94.5px,#a9f542 95.5px,#cee737 96.5px,#e5d638 97.5px,#f3c639 98.5px,#fdaa33 100.5px,#fd8926 103.5px,#f46516 108.5px,#e14109 117.5px,#c72703 135.5px,#be2102 157.5px)"></i><i style="left:12px;background:linear-gradient(#d02f05 0.5px,#b21a01 32.5px,#af1801 56.5px,#b81d02 64.5px,#cd2d04 71.5px,#e84b0c 77.5px,#f56918 80.5px,#fca832 84.5px,#eecc39 86.5px,#dbdf37 87.5px,#bcef3b 88.5px,#8af755 89.5px,#4feb8d 90.5px,#2ed0c8 91.5px,#2cccd1 92.5px,#43e59f 93.5px,#7af661 94.5px,#aff33f 95.5px,#d2e537 96.5px,#e7d438 97.5px,#f4c439 98.5px,#fda832 100.5px,#fc8725 103.5px,#f36315 108.5px,#e14109 117.5px,#c32503 138.5px,#be2102 153.5px,#c62803 157.5px)"></i><i style="left:18px;background:linear-gradient(#d02f05 0.5px,#b51b01 28.5px,#af1801 41.5px,#af1901 57.5px,#c32503 68.5px,#da3907 74.5px,#ed5510 78.5px,#fc8825 82.5px,#f7bc37 85.5px,#ecce38 86.5px,#d8e137 87.5px,#b6f13d 88.5px,#82f65c 89.5px,#48e798 90.5px,#2ecbcf 91.5px,#2eccce 92.5px,#4ae895 93.5px,#83f75a 94.5px,#b6f13d 95.5px,#d7e237 96.5px,#f6c038 98.5px,#fda531 100.5px,#fc8424 103.5px,#f36215 108.5px,#de3e08 118.5px,#c12302 140.5px,#c02202 147.5px,#d93807 152.5px,#c72803 157.5px)"></i><i style="left:24px;background:linear-gradient(#d02f05 0.5px,#b21a01 32.5px,#af1801 56.5px,#bb1f02 65.5px,#d23105 72.5px,#e84c0d 77.5px,#f66c19 80.5px,#fcac33 84.5px,#ead138 86.5px,#d3e438 87.5px,#aff340 88.5px,#77f565 89.5px,#41e1a5 90.5px,#2ec6d6 91.5px,#32cfc7 92.5px,#54ec89 93.5px,#8ff752 94.5px,#bfee3a 95.5px,#dcde37 96.5px,#eecc39 97.5px,#fcae34 99.5px,#fd8a26 102.5px,#f66b19 106.5px,#eb510e 111.5px,#df3f08 117.5px,#c12302 139.5px,#c92a04 142.5px,#e0420a 145.5px,#e1420a 146.5px,#cc2b04 150.5px,#c22403 157.5px)"></i><i style="left:30px;background:linear-gradient(#d02f05 0.5px,#b21a01 32.5px,#af1801 56.5px,#b81e02 64.5px,#ce2d04 71.5px,#e4460b 76.5px,#f26115 79.5px,#fd9d2e 83.5px,#f4c138 85.5px,#e6d438 86.5px,#cde738 87.5px,#a4f546 88.5px,#69f272 89.5px,#3bd7b5 90.5px,#2fc1db 91.5px,#38d4bc 92.5px,#62f079 93.5px,#9ef649 94.5px,#c8ea39 95.5px,#e3d838 96.5px,#f2c739 97.5px,#fda832 99.5px,#fc8524 102.5px,#f56817 106.5px,#ea4f0d 111.5px,#de3d08 117.5px,#c62703 133.5px,#cc2d04 135.5px,#e84e0e 138.5px,#ea510e 139.5px,#cd2d04 144.5px,#c12302 157.5px)"></i><i style="left:36px;background:linear-gradient(#d02f05 0.5px,#b21a01 32.5px,#af1801 55.5px,#b81e02 64.5px,#ce2d04 71.5px,#e5470b 76.5px,#f36215 79.5px,#fda12f 83.5px,#f2c638 85.5px,#e1d938 86.5px,#c4ec3a 87.5px,#94f64f 88.5px,#58eb87 89.5px,#36cbc8 90.5px,#32bfda 91.5px,#43dda8 92.5px,#77f466 93.5px,#b0f240 94.5px,#d4e338 95.5px,#ead038 96.5px,#fcaf34 98.5px,#fc8825 101.5px,#f56817 105.5px,#ea4f0d 110.5px,#dd3c08 116.5px,#ce2e04 127.5px,#da3d09 129.5px,#ef5f15 131.5px,#f36717 132.5px,#f16115 133.5px,#da3a07 136.5px,#d02f05 138.5px,#c62703 145.5px,#c12302 157.5px)"></i><i style="left:42px;background:linear-gradient(#d02f05 0.5px,#b21a01 32.5px,#af1801 54.5px,#b91e02 64.5px,#cf2e04 71.5px,#e6480b 76.5px,#f8731c 80.5px,#fda631 83.5px,#edcc38 85.5px,#d8e038 86.5px,#b4f13f 87.5px,#7df462 88.5px,#46dca5 89.5px,#35bcd9 90.5px,#38c6cb 91.5px,#59e988 92.5px,#95f54f 93.5px,#c5eb3a 94.5px,#e2d838 95.5px,#f3c538 96.5px,#fda330 98.5px,#fa7d20 101.5px,#f46516 104.5px,#e6480b 110.5px,#d83706 116.5px,#d43205 119.5px,#d83807 121.5px,#df430b 122.5px,#f98223 125.5px,#fb8423 126.5px,#e1430a 130.5px,#d43306 133.5px,#c82903 140.5px,#c12302 157.5px)"></i><i style="left:48px;background:linear-gradient(#d02f05 0.5px,#b21a01 32.5px,#af1801 54.5px,#b71d02 63.5px,#cb2b04 70.5px,#e2430a 75.5px,#f56918 79.5px,#fd9a2d 82.5px,#f4c138 84.5px,#e5d538 85.5px,#c8e93a 86.5px,#98f44f 87.5px,#5be788 88.5px,#3ac1ca 89.5px,#37b7d7 90.5px,#4cdca0 91.5px,#85f35d 92.5px,#bced3d 93.5px,#dfda38 94.5px,#f2c538 95.5px,#fda02f 97.5px,#fb8222 99.5px,#f36416 102.5px,#dd3c08 111.5px,#db3a07 113.5px,#e2460b 115.5px,#ea5912 116.5px,#f8942a 118.5px,#fba531 119.5px,#fca230 120.5px,#f16115 123.5px,#eb520f 124.5px,#db3a07 128.5px,#c82803 139.5px,#c12302 157.5px)"></i><i style="left:54px;background:linear-gradient(#d02f05 0.5px,#b21a01 32.5px,#af1801 53.5px,#b91e02 64.5px,#cc2c04 70.5px,#e3440a 75.5px,#f26014 78.5px,#fca430 82.5px,#ebce38 84.5px,#d1e339 85.5px,#a3f249 86.5px,#65e87f 87.5px,#3ec0c2 88.5px,#3ab3d1 89.5px,#52d99c 90.5px,#8df15a 91.5px,#c5e83c 92.5px,#e6d238 93.5px,#f6bb36 94.5px,#fca531 95.5px,#fb8022 97.5px,#f56817 99.5px,#ec520f 102.5px,#e6480b 105.5px,#e5470b 107.5px,#ec5912 109.5px,#f2701b 110.5px,#f4b131 112.5px,#f1c437 113.5px,#f3c338 114.5px,#fb982b 116.5px,#f56c19 118.5px,#f15f14 119.5px,#e14109 124.5px,#ca2a04 136.5px,#c12302 157.5px)"></i><i style="left:60px;background:linear-gradient(#d02f05 0.5px,#b21a01 32.5px,#af1801 53.5px,#b81d02 63.5px,#cd2d04 70.5px,#e5480b 75.5px,#f46818 78.5px,#fca02f 81.5px,#f8b635 82.5px,#e9ce38 83.5px,#cae53c 84.5px,#92ef59 85.5px,#54db9a 86.5px,#3bbecb 87.5px,#4acdb0 88.5px,#81ea6b 89.5px,#bfe641 90.5px,#e6d038 91.5px,#f7b735 92.5px,#fca12f 93.5px,#fb7f21 95.5px,#f66b19 97.5px,#f26114 99.5px,#f26014 101.5px,#f6701b 103.5px,#f89d2c 105.5px,#e4d336 107.5px,#ddde36 108.5px,#e2d937 109.5px,#f9b133 111.5px,#fc9b2d 112.5px,#f66d19 115.5px,#ed540f 118.5px,#e5460b 121.5px,#cb2a04 135.5px,#c12302 157.5px)"></i><i style="left:66px;background:linear-gradient(#d02f05 0.5px,#b21a01 32.5px,#af1801 52.5px,#b81e02 63.5px,#cf2f05 70.5px,#e3450a 74.5px,#f46717 77.5px,#faa731 80.5px,#eec337 81.5px,#cbdf3f 82.5px,#8ced5e 83.5px,#4ce794 84.5px,#41e1a4 85.5px,#73e977 86.5px,#b7e449 87.5px,#e3ce39 88.5px,#f6b735 89.5px,#fca430 90.5px,#fd8e28 92.5px,#fc8424 96.5px,#fd9129 98.5px,#f8b133 100.5px,#dbdc36 102.5px,#cbeb35 103.5px,#c7ef35 104.5px,#d2e736 105.5px,#f2c538 107.5px,#fda230 109.5px,#fc8524 111.5px,#f46617 114.5px,#e74a0c 119.5px,#cc2b04 134.5px,#c12302 157.5px)"></i><i style="left:72px;background:linear-gradient(#d02f05 0.5px,#b51b01 28.5px,#af1801 42.5px,#b21a01 58.5px,#bf2202 65.5px,#d33205 70.5px,#e4460b 73.5px,#f16014 75.5px,#f99228 77.5px,#eeb633 78.5px,#c8d941 79.5px,#8cef5c 80.5px,#66f372 81.5px,#81ec65 82.5px,#bed947 83.5px,#e9ba35 84.5px,#f99e2d 85.5px,#fc8c27 86.5px,#fb8223 87.5px,#fb7f22 89.5px,#fe952b 93.5px,#f5be37 96.5px,#d1e437 98.5px,#b7f339 99.5px,#a6fa3d 100.5px,#a9fa3b 101.5px,#bcf237 102.5px,#e7d538 104.5px,#fab636 106.5px,#fd8d27 109.5px,#f76e1a 112.5px,#e84b0c 118.5px,#cb2b04 134.5px,#c12302 157.5px)"></i><i style="left:78px;background:linear-gradient(#d02f05 0.5px,#b21a01 33.5px,#af1801 50.5px,#b51c02 60.5px,#bf2202 64.5px,#d02f05 68.5px,#e5480c 71.5px,#ed5d13 72.5px,#f37f20 73.5px,#eaac2f 74.5px,#c8d63e 75.5px,#a0ec4d 76.5px,#9fe64f 77.5px,#c6c53d 78.5px,#e69629 79.5px,#ef6f1a 80.5px,#ed5912 81.5px,#ea500e 83.5px,#ef5811 85.5px,#f7711b 88.5px,#fd992c 91.5px,#f6bd37 93.5px,#e8d138 94.5px,#d1e538 95.5px,#b0f43e 96.5px,#8dfc4e 97.5px,#7afe59 98.5px,#86fd51 99.5px,#c4ee37 101.5px,#dbdf37 102.5px,#f6c139 104.5px,#fda631 106.5px,#fa791f 110.5px,#f26115 113.5px,#e04009 121.5px,#c92903 136.5px,#c12302 157.5px)"></i><i style="left:84px;background:linear-gradient(#d02f05 0.5px,#b21a01 32.5px,#af1801 48.5px,#bd2102 62.5px,#cd2d04 65.5px,#e1490d 67.5px,#ec6918 68.5px,#ee9727 69.5px,#dec432 70.5px,#ced936 71.5px,#d1c431 72.5px,#de9023 73.5px,#e05d14 74.5px,#d83f0a 75.5px,#d23206 76.5px,#d33205 78.5px,#e4460b 82.5px,#f15f14 85.5px,#f9771e 87.5px,#fca832 90.5px,#ecce38 92.5px,#d6e137 93.5px,#b6f23c 94.5px,#65fb6b 96.5px,#5bfa73 97.5px,#75fc5e 98.5px,#9ef945 99.5px,#c0ef38 100.5px,#d9e137 101.5px,#f5c339 103.5px,#fda933 105.5px,#fa7d20 109.5px,#f46516 112.5px,#e24209 120.5px,#c92903 136.5px,#c12302 157.5px)"></i><i style="left:90px;background:linear-gradient(#d02f05 0.5px,#b21a01 33.5px,#b21a01 52.5px,#ba1f02 58.5px,#c52703 60.5px,#d03206 61.5px,#de470d 62.5px,#ec6b19 63.5px,#f29728 64.5px,#eeb430 65.5px,#e9ac2c 66.5px,#d95010 68.5px,#cb3207 69.5px,#c22503 70.5px,#c22403 73.5px,#d83706 78.5px,#ea500e 82.5px,#fa7c20 86.5px,#fcac33 89.5px,#e9d138 91.5px,#d4e437 92.5px,#b3f33d 93.5px,#86fa54 94.5px,#58f876 95.5px,#46f685 96.5px,#5df972 97.5px,#8bfb50 98.5px,#b4f43b 99.5px,#d1e737 100.5px,#e4d738 101.5px,#f8bb38 103.5px,#fea330 105.5px,#fa791f 109.5px,#f36215 112.5px,#e14209 120.5px,#c82903 136.5px,#c12302 157.5px)"></i><i style="left:96px;background:linear-gradient(#d02f05 0.5px,#b21a01 33.5px,#b61c02 52.5px,#be2202 54.5px,#d53a08 56.5px,#f2781f 58.5px,#f79229 59.5px,#f38e27 60.5px,#d3430d 62.5px,#c22905 63.5px,#b71e02 64.5px,#b31a01 66.5px,#bc2002 70.5px,#d43305 76.5px,#ea500e 81.5px,#fa7b1f 85.5px,#fca932 88.5px,#eecc39 90.5px,#dbdf37 91.5px,#beef3a 92.5px,#94f94c 93.5px,#60f871 94.5px,#3df38f 95.5px,#43f589 96.5px,#6cfa67 97.5px,#9df946 98.5px,#c1ef38 99.5px,#dae037 100.5px,#f5c339 102.5px,#fdaa33 104.5px,#fb7f22 108.5px,#f26114 112.5px,#e14109 120.5px,#c82903 136.5px,#c12302 157.5px)"></i><i style="left:102px;background:linear-gradient(#d02f05 0.5px,#b21a01 33.5px,#b61d02 47.5px,#c32603 49.5px,#d03306 50.5px,#ee6417 52.5px,#f6791f 53.5px,#f2761e 54.5px,#cf390a 56.5px,#be2504 57.5px,#b31b02 58.5px,#ad1701 62.5px,#bf2202 70.5px,#d73606 76.5px,#e84d0d 80.5px,#f9751d 84.5px,#fda130 87.5px,#f4c338 89.5px,#e6d538 90.5px,#cee737 91.5px,#abf540 92.5px,#7afa5d 93.5px,#47f486 94.5px,#32f09a 95.5px,#49f585 96.5px,#7afa5c 97.5px,#a9f640 98.5px,#caeb37 99.5px,#e0db38 100.5px,#f7bf38 102.5px,#fda632 104.5px,#f46617 111.5px,#e3430a 119.5px,#c82803 136.5px,#c12302 157.5px)"></i><i style="left:108px;background:linear-gradient(#d02f05 0.5px,#b51c01 28.5px,#b61c02 41.5px,#cc2e05 44.5px,#f16417 47.5px,#ed6116 48.5px,#cc3207 50.5px,#b31b02 52.5px,#ad1701 54.5px,#ad1701 61.5px,#c12302 70.5px,#d93807 76.5px,#ea500e 80.5px,#f66e1a 83.5px,#fda832 87.5px,#f0ca39 89.5px,#dfdc37 90.5px,#c4ed38 91.5px,#9cf848 92.5px,#38f095 94.5px,#2fee9d 95.5px,#51f57e 96.5px,#86fa55 97.5px,#b2f43c 98.5px,#d0e737 99.5px,#e4d838 100.5px,#f8bc38 102.5px,#fea330 104.5px,#f46516 111.5px,#eb500e 115.5px,#e14109 120.5px,#c82803 136.5px,#c12302 157.5px)"></i><i style="left:114px;background:linear-gradient(#d02f05 0.5px,#b41b01 29.5px,#b61c02 35.5px,#c92b04 38.5px,#ea5410 41.5px,#e7500f 42.5px,#bb2002 45.5px,#ae1801 48.5px,#ad1701 60.5px,#bf2202 69.5px,#d63506 75.5px,#eb520f 80.5px,#fd8d27 85.5px,#f7bd38 88.5px,#d9e037 90.5px,#bbf03b 91.5px,#8ef950 92.5px,#57f67a 93.5px,#2fed9f 94.5px,#30ed9e 95.5px,#59f678 96.5px,#8efa4f 97.5px,#b8f23a 98.5px,#d5e437 99.5px,#e7d538 100.5px,#f9b937 102.5px,#fe972c 105.5px,#f8721c 109.5px,#e84c0c 116.5px,#d93807 124.5px,#ca2a04 134.5px,#c12302 157.5px)"></i><i style="left:120px;background:linear-gradient(#d02f05 0.5px,#b71d02 28.5px,#bf2202 31.5px,#e4470b 35.5px,#e0440b 36.5px,#ba1f02 39.5px,#b01901 42.5px,#ac1701 58.5px,#c02302 69.5px,#d23105 74.5px,#e84c0c 79.5px,#f8741c 83.5px,#fbb035 87.5px,#e9d238 89.5px,#d4e437 90.5px,#b3f33d 91.5px,#83f957 92.5px,#4cf384 93.5px,#2aeba5 94.5px,#32ed9c 95.5px,#95f94b 97.5px,#bdf039 98.5px,#d8e237 99.5px,#e9d239 100.5px,#fab737 102.5px,#fe952b 105.5px,#f8711b 109.5px,#e84c0c 116.5px,#d93807 124.5px,#ca2a04 134.5px,#c12302 157.5px)"></i><i style="left:126px;background:linear-gradient(#d13005 0.5px,#bc2002 23.5px,#c72803 26.5px,#dd3e08 29.5px,#da3b08 30.5px,#ba1f02 33.5px,#b31a01 35.5px,#ac1701 50.5px,#af1901 61.5px,#c12302 69.5px,#d33205 74.5px,#e94d0d 79.5px,#f9761e 83.5px,#fbb235 87.5px,#e6d538 89.5px,#cfe737 90.5px,#adf540 91.5px,#7af95e 92.5px,#43f18d 93.5px,#27e9a9 94.5px,#35ee9a 95.5px,#66f86e 96.5px,#9bf848 97.5px,#c1ef38 98.5px,#dbe037 99.5px,#ebd039 100.5px,#fab637 102.5px,#f8711b 109.5px,#e84b0c 116.5px,#cb2b04 133.5px,#c12302 157.5px)"></i><i style="left:132px;background:linear-gradient(#d13005 0.5px,#c32403 18.5px,#d93807 23.5px,#b81d02 28.5px,#af1801 38.5px,#af1901 61.5px,#c12302 69.5px,#d43205 74.5px,#e94e0d 79.5px,#f9771e 83.5px,#fab436 87.5px,#e4d738 89.5px,#cce937 90.5px,#a7f642 91.5px,#72f864 92.5px,#3def93 93.5px,#25e8ac 94.5px,#38ee98 95.5px,#6bf869 96.5px,#9ff845 97.5px,#c4ed38 98.5px,#dcde37 99.5px,#f6c139 101.5px,#fda832 103.5px,#fb8022 107.5px,#f36215 111.5px,#e2420a 119.5px,#c82803 136.5px,#c12302 157.5px)"></i><i style="left:138px;background:linear-gradient(#d13005 0.5px,#c82803 12.5px,#d63506 17.5px,#bb1f02 23.5px,#af1801 38.5px,#af1801 60.5px,#c22403 69.5px,#d43305 74.5px,#ea4e0d 79.5px,#f66c19 82.5px,#fda631 86.5px,#f1c739 88.5px,#e2d938 89.5px,#c8eb38 90.5px,#a2f745 91.5px,#6cf869 92.5px,#38ed99 93.5px,#24e7ae 94.5px,#3bee96 95.5px,#6ff866 96.5px,#a3f743 97.5px,#c7ec37 98.5px,#dedd37 99.5px,#f6c039 101.5px,#fda832 103.5px,#fb8022 107.5px,#f36215 111.5px,#e24209 119.5px,#c82803 136.5px,#c12302 157.5px)"></i></b></div>
<div class="p" style="left:489px;top:39px"><i style="left:-3px;background:linear-gradient(#d13005 0.5px,#b21a01 33.5px,#af1801 53.5px,#b91e02 64.5px,#ce2e04 71.5px,#e5470b 76.5px,#f76f1a 80.5px,#fda02f 83.5px,#f3c438 85.5px,#e3d738 86.5px,#c8ea39 87.5px,#9bf54b 88.5px,#60ec7e 89.5px,#3cc2c0 90.5px,#38a2dc 91.5px,#3cc2bf 92.5px,#60ec7e 93.5px,#9bf64b 94.5px,#c6eb39 95.5px,#e1d938 96.5px,#f1c839 97.5px,#fdaa33 99.5px,#fc8825 102.5px,#f66a18 106.5px,#ec520f 111.5px,#e04009 117.5px,#c62703 135.5px,#be2102 157.5px)"></i><i style="left:3px;background:linear-gradient(#d13005 0.5px,#b21a01 33.5px,#af1801 52.5px,#b91e02 64.5px,#ce2e04 71.5px,#e5470b 76.5px,#f36315 79.5px,#fda130 83.5px,#f1c638 85.5px,#e0da38 86.5px,#c3ec3a 87.5px,#94f64f 88.5px,#59e887 89.5px,#3ab9c5 90.5px,#389fd9 91.5px,#3ec7b7 92.5px,#68ef75 93.5px,#a2f547 94.5px,#cbe838 95.5px,#e4d738 96.5px,#f3c539 97.5px,#fda832 99.5px,#fc8524 102.5px,#f56918 106.5px,#eb510e 111.5px,#df3f09 117.5px,#c62703 135.5px,#be2102 157.5px)"></i><i style="left:9px;background:linear-gradient(#d13005 0.5px,#b21a01 33.5px,#af1801 52.5px,#b91e02 64.5px,#cf2e04 71.5px,#e5480b 76.5px,#f36416 79.5px,#fda330 83.5px,#f0c938 85.5px,#dedc38 86.5px,#beee3b 87.5px,#8cf555 88.5px,#52e190 89.5px,#39adc8 90.5px,#399dd2 91.5px,#42cdac 92.5px,#71f16c 93.5px,#aaf442 94.5px,#d1e538 95.5px,#e8d338 96.5px,#f5c238 97.5px,#fda431 99.5px,#fc8323 102.5px,#f66d19 105.5px,#ed540f 110.5px,#e14109 116.5px,#c62703 134.5px,#bc2002 157.5px)"></i><i style="left:15px;background:linear-gradient(#d13005 0.5px,#b51c01 28.5px,#af1801 43.5px,#b21a01 60.5px,#c12302 67.5px,#d83606 73.5px,#ea500e 77.5px,#f8731c 80.5px,#fda631 83.5px,#eecb38 85.5px,#dadf38 86.5px,#b7f03d 87.5px,#82f45e 88.5px,#4bd79b 89.5px,#39a0c7 90.5px,#399dc9 91.5px,#48d49f 92.5px,#7df461 93.5px,#b4f13f 94.5px,#d7e238 95.5px,#ebcf39 96.5px,#f7be38 97.5px,#fea12f 99.5px,#fb7f22 102.5px,#f46516 106.5px,#ea4e0d 111.5px,#de3e08 117.5px,#c12302 139.5px,#bf2202 157.5px)"></i><i style="left:21px;background:linear-gradient(#d13005 0.5px,#b51c01 28.5px,#af1801 43.5px,#b21a01 60.5px,#c12302 67.5px,#d33205 72.5px,#eb510e 77.5px,#f8751d 80.5px,#fd962b 82.5px,#f7bc37 84.5px,#ebcf38 85.5px,#d4e338 86.5px,#aef241 87.5px,#75f169 88.5px,#43c9a4 89.5px,#3890c0 90.5px,#39a2ba 91.5px,#52de8f 92.5px,#8cf556 93.5px,#beee3b 94.5px,#dddd38 95.5px,#f9b937 97.5px,#fd8f28 100.5px,#f8741c 103.5px,#e7490c 112.5px,#d23105 124.5px,#be2102 141.5px,#bf2202 149.5px,#dd3d08 154.5px,#d43306 157.5px)"></i><i style="left:27px;background:linear-gradient(#d13005 0.5px,#b51c01 28.5px,#af1801 43.5px,#b31a01 60.5px,#c22403 67.5px,#d93707 73.5px,#ec520f 77.5px,#f9771e 80.5px,#fcac33 83.5px,#e7d338 85.5px,#cde738 86.5px,#a2f448 87.5px,#65ea77 88.5px,#3db3a8 89.5px,#3683b2 90.5px,#3baeab 91.5px,#61e87c 92.5px,#9df44a 93.5px,#cae939 94.5px,#e5d638 95.5px,#fbb335 97.5px,#fc8926 100.5px,#f9761e 102.5px,#e74a0c 111.5px,#d43205 122.5px,#be2102 139.5px,#c42603 143.5px,#e64a0c 147.5px,#e74b0c 148.5px,#d02f05 152.5px,#c52603 157.5px)"></i><i style="left:33px;background:linear-gradient(#d13005 0.5px,#b51c01 28.5px,#af1801 43.5px,#b21a01 59.5px,#c22403 67.5px,#d43306 72.5px,#e74b0c 76.5px,#f66b19 79.5px,#fd9d2e 82.5px,#f2c438 84.5px,#e1d938 85.5px,#c2ec3b 86.5px,#90f454 87.5px,#54db89 88.5px,#3898a9 89.5px,#3584aa 90.5px,#44c49b 91.5px,#78f066 92.5px,#b2f140 93.5px,#d7e138 94.5px,#eccd38 95.5px,#fcaa33 97.5px,#fb8222 100.5px,#f56918 103.5px,#e94e0d 109.5px,#dd3d08 115.5px,#c82803 128.5px,#c32503 135.5px,#cd2e05 137.5px,#ec5811 140.5px,#f05d13 141.5px,#d13105 146.5px,#c32503 157.5px)"></i><i style="left:39px;background:linear-gradient(#d13005 0.5px,#b51c01 28.5px,#af1801 43.5px,#b21a01 59.5px,#c22403 67.5px,#da3907 73.5px,#ed5510 77.5px,#fa7e21 80.5px,#f9b636 83.5px,#eecb38 84.5px,#d8e038 85.5px,#b1f141 86.5px,#77ef68 87.5px,#44bf9a 88.5px,#3581a6 89.5px,#399ca4 90.5px,#5bdf82 91.5px,#98f34f 92.5px,#c8e93a 93.5px,#e5d538 94.5px,#fbaf34 96.5px,#fb8223 99.5px,#f76f1a 101.5px,#e6490b 109.5px,#d43306 118.5px,#c82903 128.5px,#d13206 130.5px,#f7731c 134.5px,#f6711b 135.5px,#e0420a 138.5px,#d53406 140.5px,#c82903 146.5px,#c12302 157.5px)"></i><i style="left:45px;background:linear-gradient(#d13005 0.5px,#b51c01 28.5px,#af1801 44.5px,#b21a01 59.5px,#c32403 67.5px,#d63506 72.5px,#e94e0d 76.5px,#f8721c 79.5px,#fcaa32 82.5px,#f5bf37 83.5px,#e5d438 84.5px,#c8e83a 85.5px,#95f351 86.5px,#58da85 87.5px,#3896a3 88.5px,#3687a4 89.5px,#4bc992 90.5px,#84f05e 91.5px,#bdec3d 92.5px,#e0d938 93.5px,#f2c438 94.5px,#fd9e2e 96.5px,#fb7f21 98.5px,#f56a18 100.5px,#ee5610 103.5px,#e24209 109.5px,#cf2e04 118.5px,#d03005 122.5px,#dd410a 124.5px,#f98825 127.5px,#fc9129 128.5px,#fb8825 129.5px,#e74c0d 132.5px,#d73606 135.5px,#c92903 143.5px,#c12302 157.5px)"></i><i style="left:51px;background:linear-gradient(#d13005 0.5px,#b51c01 28.5px,#af1801 44.5px,#b21a01 59.5px,#c32503 67.5px,#d23105 71.5px,#e6490c 75.5px,#f56918 78.5px,#fd9f2f 81.5px,#edcb38 83.5px,#d4e139 84.5px,#a7f147 85.5px,#68e577 86.5px,#3eaaa4 87.5px,#378cab 88.5px,#4ac296 89.5px,#82ed61 90.5px,#bdeb3f 91.5px,#e1d738 92.5px,#f4c037 93.5px,#fd962b 95.5px,#f56818 98.5px,#eb510e 101.5px,#e4460a 104.5px,#d53306 112.5px,#d83807 116.5px,#e75210 118.5px,#faa631 121.5px,#fbae34 122.5px,#fba330 123.5px,#f05d13 126.5px,#e5470b 128.5px,#dd3d08 130.5px,#ca2a04 139.5px,#c12302 157.5px)"></i><i style="left:57px;background:linear-gradient(#d13005 0.5px,#b51c01 28.5px,#af1801 44.5px,#b21a01 58.5px,#c12302 66.5px,#d43305 71.5px,#e84c0d 75.5px,#f7711b 78.5px,#fd982c 80.5px,#f0c638 82.5px,#d8dd39 83.5px,#a9ef48 84.5px,#69e47d 85.5px,#40b7ba 86.5px,#3dabc2 87.5px,#5bd78f 88.5px,#9bee53 89.5px,#d1e03b 90.5px,#eec737 91.5px,#faae33 92.5px,#fb8222 94.5px,#f26215 96.5px,#ea4f0e 98.5px,#e14109 101.5px,#da3907 107.5px,#e1430a 110.5px,#ef6215 112.5px,#f57f20 113.5px,#f3bb34 115.5px,#f0c738 116.5px,#f3c137 117.5px,#fb9329 119.5px,#f56a18 121.5px,#ec540f 123.5px,#e2430a 126.5px,#cb2b04 137.5px,#c12302 157.5px)"></i><i style="left:63px;background:linear-gradient(#d13005 0.5px,#b21a01 33.5px,#af1801 49.5px,#b71d02 62.5px,#c92903 68.5px,#e04109 73.5px,#f15e14 76.5px,#fc962b 79.5px,#f9af33 80.5px,#ecc938 81.5px,#cae23e 82.5px,#8eec5f 83.5px,#51d6a3 84.5px,#3dc0c8 85.5px,#58d69d 86.5px,#98e95a 87.5px,#d3db3c 88.5px,#f1bf36 89.5px,#fba32f 90.5px,#f8761d 92.5px,#ec520f 95.5px,#e4460a 98.5px,#e4460a 102.5px,#ef5b12 105.5px,#f46c19 106.5px,#f7a12d 108.5px,#e4d536 110.5px,#dfdc37 111.5px,#e6d437 112.5px,#faaa32 114.5px,#f8741d 117.5px,#ee5711 120.5px,#e5470b 123.5px,#cb2b04 136.5px,#c12302 157.5px)"></i><i style="left:69px;background:linear-gradient(#d13005 0.5px,#b21a01 33.5px,#af1801 48.5px,#ba1f02 63.5px,#d02f05 69.5px,#e5470b 73.5px,#f7711b 76.5px,#faa22e 78.5px,#edc036 79.5px,#c6dd43 80.5px,#84e56e 81.5px,#4dd1ad 82.5px,#4ccdb2 83.5px,#82e075 84.5px,#c5d945 85.5px,#edbc35 86.5px,#fa9e2d 87.5px,#f8751d 89.5px,#f36215 91.5px,#ef5911 95.5px,#f15e13 98.5px,#f66f1a 100.5px,#f97e21 101.5px,#f8aa31 103.5px,#dddb36 105.5px,#cfe835 106.5px,#cfea35 107.5px,#dbdf36 108.5px,#f7bb37 110.5px,#fca932 111.5px,#fa7d20 114.5px,#f56817 116.5px,#e7490c 121.5px,#cc2b04 135.5px,#c12302 157.5px)"></i><i style="left:75px;background:linear-gradient(#d13005 0.5px,#b21a01 33.5px,#b21a01 55.5px,#bc2002 63.5px,#cf2e05 68.5px,#e04109 71.5px,#ee5911 73.5px,#f88b25 75.5px,#eeb132 76.5px,#c5d347 77.5px,#82dc76 78.5px,#56cea5 79.5px,#6cd093 80.5px,#add15b 81.5px,#e3b738 82.5px,#f69328 83.5px,#f7781e 84.5px,#f26114 86.5px,#f15e13 89.5px,#f56918 93.5px,#fb8122 96.5px,#f7b635 99.5px,#d7e037 101.5px,#c3ef36 102.5px,#baf535 103.5px,#c1f135 104.5px,#d3e636 105.5px,#f2c739 107.5px,#fda832 109.5px,#f66c19 114.5px,#e94d0d 119.5px,#da3907 126.5px,#cb2b04 135.5px,#c12302 157.5px)"></i><i style="left:81px;background:linear-gradient(#d13005 0.5px,#b21a01 33.5px,#b21a01 54.5px,#bf2202 63.5px,#d23105 67.5px,#e1420a 69.5px,#ea530f 70.5px,#f1701a 71.5px,#ed9b2b 72.5px,#c9c545 73.5px,#8cd671 74.5px,#6ccf90 75.5px,#8ec676 76.5px,#caad44 77.5px,#e88123 78.5px,#ea5c13 79.5px,#e4490c 80.5px,#e1420a 81.5px,#e2420a 83.5px,#f46717 90.5px,#fa7c20 92.5px,#fbad33 95.5px,#e5d538 97.5px,#b6f539 99.5px,#a6fb3c 100.5px,#a7fb3b 101.5px,#b8f537 102.5px,#e1db38 104.5px,#efcc39 105.5px,#fcb035 107.5px,#f66c19 113.5px,#e74a0c 119.5px,#cb2b04 135.5px,#c12302 157.5px)"></i><i style="left:87px;background:linear-gradient(#d13005 0.5px,#b21a01 33.5px,#b21a01 52.5px,#bf2202 61.5px,#c82903 63.5px,#d93b08 65.5px,#e55210 66.5px,#eb7b1f 67.5px,#d9ab36 68.5px,#a9c856 69.5px,#85c66e 70.5px,#9bb35f 71.5px,#c98f37 72.5px,#db5f18 73.5px,#d53d0a 74.5px,#cc2e05 75.5px,#c92904 76.5px,#cc2b04 78.5px,#ed5510 86.5px,#f8741d 89.5px,#fda431 92.5px,#efca38 94.5px,#c3ee38 96.5px,#91fe49 98.5px,#8ffe4a 99.5px,#baf338 101.5px,#e4d838 103.5px,#f8bc38 105.5px,#fea230 107.5px,#f9771e 111.5px,#f26014 114.5px,#e84c0c 118.5px,#cc2b04 134.5px,#c12302 157.5px)"></i><i style="left:93px;background:linear-gradient(#d13005 0.5px,#b21a01 33.5px,#b21a01 49.5px,#bc2002 57.5px,#c72804 59.5px,#d13407 60.5px,#df4c0e 61.5px,#e7761e 62.5px,#d7a838 63.5px,#afc857 64.5px,#9dc363 65.5px,#b79d48 66.5px,#d06922 67.5px,#ce3e0c 68.5px,#c22804 69.5px,#b91e02 71.5px,#bd2002 73.5px,#d13005 78.5px,#e84c0d 83.5px,#f8731c 87.5px,#fda02f 90.5px,#f3c438 92.5px,#e4d638 93.5px,#aff63d 95.5px,#8efc4c 96.5px,#77fe5b 97.5px,#7cfe58 98.5px,#b5f53a 100.5px,#e2da38 102.5px,#f7be38 104.5px,#fda531 106.5px,#fa7a1f 110.5px,#f36315 113.5px,#e3440a 120.5px,#ca2a04 135.5px,#c12302 157.5px)"></i><i style="left:99px;background:linear-gradient(#d13005 0.5px,#b21a01 33.5px,#b21a01 46.5px,#ba1f02 52.5px,#c72904 54.5px,#d43908 55.5px,#e25813 56.5px,#e68824 57.5px,#d3b837 58.5px,#bacb44 59.5px,#bdae3b 60.5px,#cc7422 61.5px,#cb410d 62.5px,#be2604 63.5px,#b41c02 64.5px,#b01901 66.5px,#bc2002 71.5px,#d33205 77.5px,#ea4e0d 82.5px,#f9771e 86.5px,#fda431 89.5px,#f2c639 91.5px,#e2d938 92.5px,#aaf73f 94.5px,#83fc54 95.5px,#66fc69 96.5px,#66fc69 97.5px,#83fc54 98.5px,#a7f83f 99.5px,#dcdf37 101.5px,#f5c339 103.5px,#fdaa33 105.5px,#fb7f21 109.5px,#f46717 112.5px,#e2430a 120.5px,#c92903 136.5px,#c12302 157.5px)"></i><i style="left:105px;background:linear-gradient(#d13005 0.5px,#b21a01 34.5px,#ba1f02 47.5px,#cc2f06 49.5px,#dc470d 50.5px,#e96e1a 51.5px,#e99e28 52.5px,#dfbb2f 53.5px,#d9aa2a 54.5px,#ce430c 56.5px,#bf2704 57.5px,#b41c02 58.5px,#ad1701 63.5px,#bd2002 70.5px,#d33205 76.5px,#e94e0d 81.5px,#f9761d 85.5px,#fda130 88.5px,#f4c338 90.5px,#e6d538 91.5px,#d1e637 92.5px,#b1f43d 93.5px,#60fa6f 95.5px,#51f97a 96.5px,#68fb69 97.5px,#90fb4c 98.5px,#b5f43a 99.5px,#d1e736 100.5px,#e4d838 101.5px,#f8bc38 103.5px,#fe992d 106.5px,#f8731c 110.5px,#e84c0c 117.5px,#cb2b04 134.5px,#c12302 157.5px)"></i><i style="left:111px;background:linear-gradient(#d13005 0.5px,#b51b01 29.5px,#b81d02 41.5px,#c72a04 43.5px,#d63c09 44.5px,#e65b14 45.5px,#f08422 46.5px,#f0a22b 47.5px,#ea9827 48.5px,#d0400b 50.5px,#c02704 51.5px,#b61d02 52.5px,#ad1701 55.5px,#ac1701 61.5px,#bf2202 70.5px,#d63506 76.5px,#e74b0c 80.5px,#f7711b 84.5px,#fcab33 88.5px,#edcd39 90.5px,#dbdf37 91.5px,#c0ef39 92.5px,#99f948 93.5px,#6bfa67 94.5px,#49f783 95.5px,#4cf780 96.5px,#71fb62 97.5px,#9df945 98.5px,#c0f038 99.5px,#d9e137 100.5px,#f4c439 102.5px,#fdac34 104.5px,#f56918 111.5px,#e4450a 119.5px,#c92903 136.5px,#c12302 157.5px)"></i><i style="left:117px;background:linear-gradient(#d13005 0.5px,#b51c02 29.5px,#b71d02 35.5px,#c42703 37.5px,#d13507 38.5px,#e14d0f 39.5px,#ef6e1b 40.5px,#f58925 41.5px,#f18423 42.5px,#d03c0a 44.5px,#c02604 45.5px,#b71d02 46.5px,#ad1701 51.5px,#ad1701 60.5px,#c12302 70.5px,#d83706 76.5px,#e94e0d 80.5px,#f9771e 84.5px,#fbb235 88.5px,#e7d538 90.5px,#d1e637 91.5px,#b0f43d 92.5px,#83fa56 93.5px,#54f77b 94.5px,#3cf48f 95.5px,#4ef77f 96.5px,#7bfb5b 97.5px,#a8f740 98.5px,#c8ec37 99.5px,#dedd37 100.5px,#f6c039 102.5px,#fda832 104.5px,#f56817 111.5px,#ec520f 115.5px,#e14209 120.5px,#c92903 136.5px,#c12302 157.5px)"></i><i style="left:123px;background:linear-gradient(#d13005 0.5px,#b81e02 29.5px,#cd2f05 32.5px,#f3711c 35.5px,#f06f1c 36.5px,#d03709 38.5px,#c12604 39.5px,#b41b01 41.5px,#ad1701 58.5px,#b11a01 63.5px,#c22403 70.5px,#d93807 76.5px,#ea500e 80.5px,#f66e1a 83.5px,#fda732 87.5px,#f0c939 89.5px,#e0da38 90.5px,#c7eb38 91.5px,#a2f744 92.5px,#43f48a 94.5px,#36f195 95.5px,#53f77c 96.5px,#84fa55 97.5px,#b0f53d 98.5px,#cee837 99.5px,#e3d938 100.5px,#f8bd38 102.5px,#fda531 104.5px,#f46717 111.5px,#eb510e 115.5px,#e14109 120.5px,#c92903 136.5px,#c12302 157.5px)"></i><i style="left:129px;background:linear-gradient(#d13005 0.5px,#be2202 24.5px,#cb2c04 26.5px,#ed5d14 29.5px,#ec5d14 30.5px,#ce3307 32.5px,#c12503 33.5px,#b51c02 35.5px,#af1801 42.5px,#af1801 61.5px,#c32503 70.5px,#da3907 76.5px,#eb520f 80.5px,#fd8c27 85.5px,#f7bc38 88.5px,#dbdf37 90.5px,#bfef39 91.5px,#95f94b 92.5px,#61f871 93.5px,#37f195 94.5px,#34f098 95.5px,#59f777 96.5px,#8cfa50 97.5px,#b6f33b 98.5px,#d3e637 99.5px,#e6d638 100.5px,#f9bb38 102.5px,#fea330 104.5px,#fa7c20 108.5px,#f25f14 112.5px,#e14109 120.5px,#c82903 136.5px,#c12302 157.5px)"></i><i style="left:135px;background:linear-gradient(#d13005 0.5px,#c42503 18.5px,#cb2b04 20.5px,#e74f0e 23.5px,#e7500f 24.5px,#c22503 27.5px,#b61c02 30.5px,#af1801 60.5px,#c02302 69.5px,#d23105 74.5px,#e84b0c 79.5px,#f8741c 83.5px,#fbaf34 87.5px,#ead138 89.5px,#d6e337 90.5px,#b7f23b 91.5px,#8af952 92.5px,#54f67c 93.5px,#30ee9d 94.5px,#35f098 95.5px,#5ff872 96.5px,#93f94c 97.5px,#bbf139 98.5px,#d6e337 99.5px,#e8d438 100.5px,#f9b837 102.5px,#fe962b 105.5px,#f8731c 109.5px,#e94d0d 116.5px,#da3907 124.5px,#cb2b04 134.5px,#c12302 157.5px)"></i><b><i style="left:0px;background:linear-gradient(#d13005 0.5px,#b21a01 33.5px,#af1801 53.5px,#b91e02 64.5px,#ce2e04 71.5px,#e5470b 76.5px,#f36215 79.5px,#fda12f 83.5px,#f2c538 85.5px,#e2d938 86.5px,#c6eb39 87.5px,#98f64d 88.5px,#5dea82 89.5px,#3bbdc2 90.5px,#38a0db 91.5px,#3dc4bb 92.5px,#64ee7a 93.5px,#9ef549 94.5px,#c9ea38 95.5px,#e3d838 96.5px,#f2c739 97.5px,#fda933 99.5px,#fc8725 102.5px,#f7701b 105.5px,#ed5510 110.5px,#e24209 116.5px,#c62703 135.5px,#be2102 157.5px)"></i><i style="left:6px;background:linear-gradient(#d13005 0.5px,#b21a01 33.5px,#af1801 52.5px,#b91e02 64.5px,#cf2e04 71.5px,#e5470b 76.5px,#f36315 79.5px,#fda230 83.5px,#f1c838 85.5px,#dfdb38 86.5px,#c1ed3a 87.5px,#90f652 88.5px,#56e58c 89.5px,#3ab3c7 90.5px,#399ed6 91.5px,#40cab2 92.5px,#6cf071 93.5px,#a6f445 94.5px,#cee738 95.5px,#e6d538 96.5px,#f4c439 97.5px,#fda632 99.5px,#fc8424 102.5px,#f76e1a 105.5px,#ed540f 110.5px,#e14109 116.5px,#c72703 134.5px,#bc2002 157.5px)"></i><i style="left:12px;background:linear-gradient(#d13005 0.5px,#b51c01 28.5px,#af1801 43.5px,#b21a01 60.5px,#c12302 67.5px,#d73606 73.5px,#ea500e 77.5px,#f8721c 80.5px,#fda531 83.5px,#efca38 85.5px,#dcde38 86.5px,#bbef3c 87.5px,#87f559 88.5px,#4edd96 89.5px,#39a7c8 90.5px,#399dce 91.5px,#45d0a6 92.5px,#77f367 93.5px,#aff340 94.5px,#d4e438 95.5px,#e9d138 96.5px,#f6c038 97.5px,#fda330 99.5px,#fb8122 102.5px,#f46617 106.5px,#ea4f0e 111.5px,#df3e08 117.5px,#c42503 136.5px,#bc2002 157.5px)"></i><i style="left:18px;background:linear-gradient(#d13005 0.5px,#b51c01 28.5px,#af1801 43.5px,#b21a01 60.5px,#c12302 67.5px,#d33205 72.5px,#eb500e 77.5px,#f8731c 80.5px,#fd952a 82.5px,#f8ba37 84.5px,#eccd38 85.5px,#d7e138 86.5px,#b3f13f 87.5px,#7cf363 88.5px,#47d1a0 89.5px,#3898c5 90.5px,#389fc2 91.5px,#4cd997 92.5px,#84f45c 93.5px,#b9f03d 94.5px,#dadf38 95.5px,#edcd39 96.5px,#f8bc38 97.5px,#fd9229 100.5px,#f9761d 103.5px,#ef5a12 108.5px,#e5470b 113.5px,#ca2a04 130.5px,#bc2002 149.5px,#bf2202 153.5px,#d73606 157.5px)"></i><i style="left:24px;background:linear-gradient(#d13005 0.5px,#b51c01 28.5px,#af1801 43.5px,#b21a01 60.5px,#c12302 67.5px,#d83706 73.5px,#eb520f 77.5px,#f9761d 80.5px,#fd982c 82.5px,#f6bd37 84.5px,#e9d138 85.5px,#d1e538 86.5px,#a8f344 87.5px,#6dee70 88.5px,#40bfa7 89.5px,#3789b9 90.5px,#39a7b2 91.5px,#59e386 92.5px,#94f550 93.5px,#c4eb3a 94.5px,#e1d938 95.5px,#fab636 97.5px,#fd8c27 100.5px,#f8721b 103.5px,#e6480b 112.5px,#d13005 124.5px,#be2102 140.5px,#c12403 146.5px,#e3440a 151.5px,#c92903 157.5px)"></i><i style="left:30px;background:linear-gradient(#d13005 0.5px,#b51c01 28.5px,#af1801 43.5px,#b21a01 59.5px,#c22403 67.5px,#d93807 73.5px,#ec530f 77.5px,#f9781e 80.5px,#fbae34 83.5px,#e4d638 85.5px,#c8e939 86.5px,#99f44d 87.5px,#5de480 88.5px,#3aa6a9 89.5px,#3682ae 90.5px,#3fb8a3 91.5px,#6cec71 92.5px,#a7f345 93.5px,#d0e538 94.5px,#e8d238 95.5px,#fcaf34 97.5px,#fc8624 100.5px,#f66c19 103.5px,#ea500e 109.5px,#df3e08 115.5px,#c92a03 128.5px,#c02202 138.5px,#c82904 140.5px,#eb530f 144.5px,#ea510f 145.5px,#d03005 149.5px,#c32503 157.5px)"></i><i style="left:36px;background:linear-gradient(#d13005 0.5px,#b51c01 28.5px,#af1801 43.5px,#b21a01 59.5px,#c22403 67.5px,#d53306 72.5px,#e84c0c 76.5px,#f66c19 79.5px,#fda02f 82.5px,#f0c738 84.5px,#dddc38 85.5px,#bbee3d 86.5px,#84f25c 87.5px,#4ccf92 88.5px,#368ba8 89.5px,#378da8 90.5px,#4dd291 91.5px,#87f35a 92.5px,#bdee3c 93.5px,#dedb38 94.5px,#f0c838 95.5px,#fda531 97.5px,#fa7d20 100.5px,#f46516 103.5px,#e84c0c 109.5px,#dc3b07 115.5px,#c62703 128.5px,#c72803 132.5px,#d43507 134.5px,#f26516 137.5px,#f36617 138.5px,#df4009 141.5px,#d33205 143.5px,#c82903 148.5px,#c22403 157.5px)"></i><i style="left:42px;background:linear-gradient(#d13005 0.5px,#b51c01 28.5px,#af1801 44.5px,#b21a01 59.5px,#c32403 67.5px,#d53406 72.5px,#e94d0d 76.5px,#f7701b 79.5px,#fca631 82.5px,#eacf38 84.5px,#d1e439 85.5px,#a5f247 86.5px,#68e775 87.5px,#3daba0 88.5px,#357ea4 89.5px,#3fb09e 90.5px,#6de971 91.5px,#aaf145 92.5px,#d4e238 93.5px,#eccd38 94.5px,#fca732 96.5px,#fa7b20 99.5px,#f36215 102.5px,#e84c0d 107.5px,#d83606 115.5px,#cb2b04 123.5px,#d03005 126.5px,#d73908 127.5px,#f6771e 130.5px,#fa8223 131.5px,#f97c20 132.5px,#e3460b 135.5px,#d43305 138.5px,#c82803 145.5px,#c12302 157.5px)"></i><i style="left:48px;background:linear-gradient(#d13005 0.5px,#b21a01 33.5px,#b21a01 58.5px,#c02202 66.5px,#d63506 72.5px,#ea500e 76.5px,#f8751d 79.5px,#fbaf34 82.5px,#f2c438 83.5px,#deda38 84.5px,#baed3e 85.5px,#81ef61 86.5px,#49c595 87.5px,#3688a6 88.5px,#3b9fa2 89.5px,#61df7d 90.5px,#a0f14c 91.5px,#d0e439 92.5px,#eace38 93.5px,#f8b936 94.5px,#fb8223 97.5px,#f56a18 99.5px,#ed5410 102.5px,#e6490b 105.5px,#d23105 115.5px,#d43406 119.5px,#e34a0d 121.5px,#fb982c 124.5px,#fca02f 125.5px,#fc952b 126.5px,#eb5310 129.5px,#dc3b08 132.5px,#ca2a04 140.5px,#c12302 157.5px)"></i><i style="left:54px;background:linear-gradient(#d13005 0.5px,#b21a01 33.5px,#b21a01 58.5px,#c02302 66.5px,#d33205 71.5px,#e74a0c 75.5px,#f66d1a 78.5px,#fca631 81.5px,#f6bc37 82.5px,#e5d338 83.5px,#c4e93c 84.5px,#8cf05a 85.5px,#51cf95 86.5px,#399ab7 87.5px,#3facac 88.5px,#6ae279 89.5px,#aaee48 90.5px,#d8dd39 91.5px,#f0c537 92.5px,#fd982c 94.5px,#f46617 97.5px,#e94d0d 100.5px,#e14209 103.5px,#d73506 110.5px,#dd3d08 113.5px,#eb5b13 115.5px,#f7b233 118.5px,#f7bb37 119.5px,#f9b234 120.5px,#f46b19 123.5px,#ef5b12 124.5px,#e04009 128.5px,#cb2a04 138.5px,#c12302 157.5px)"></i><i style="left:60px;background:linear-gradient(#d13005 0.5px,#b21a01 33.5px,#af1801 50.5px,#b91e02 63.5px,#d02f05 70.5px,#e4460b 74.5px,#f46717 77.5px,#fca12f 80.5px,#f6b936 81.5px,#e4d238 82.5px,#bee940 83.5px,#7fec69 84.5px,#49ccae 85.5px,#3db5cb 86.5px,#56d49c 87.5px,#94eb5a 88.5px,#cee03d 89.5px,#eec637 90.5px,#faab32 91.5px,#fc9229 92.5px,#f56b19 94.5px,#e84c0d 97.5px,#df3f08 101.5px,#df3f09 105.5px,#eb5510 108.5px,#f68322 110.5px,#efc034 112.5px,#e9d137 113.5px,#ead038 114.5px,#f9a931 116.5px,#fa7d20 118.5px,#f66d1a 119.5px,#ef5911 121.5px,#e5470b 124.5px,#cc2b04 136.5px,#c12302 157.5px)"></i><i style="left:66px;background:linear-gradient(#d13005 0.5px,#b51c01 28.5px,#af1801 45.5px,#b51b01 60.5px,#c32403 66.5px,#d73606 71.5px,#e84c0d 74.5px,#f8771e 77.5px,#fba630 79.5px,#efc237 80.5px,#cede3e 81.5px,#90ea60 82.5px,#52d6a3 83.5px,#41c7c1 84.5px,#65dc8f 85.5px,#a9e552 86.5px,#ded03a 87.5px,#f6b233 88.5px,#fb962a 89.5px,#f66f1a 91.5px,#f05b12 93.5px,#eb510e 95.5px,#ea4e0d 99.5px,#f15f14 102.5px,#f56d1a 103.5px,#f99b2c 105.5px,#e5d136 107.5px,#d9e136 108.5px,#d7e336 109.5px,#e2d937 110.5px,#fab134 112.5px,#fd9d2e 113.5px,#fa7e21 115.5px,#f46717 117.5px,#e6480b 122.5px,#d83706 128.5px,#cb2b04 136.5px,#c12302 157.5px)"></i><i style="left:72px;background:linear-gradient(#d13005 0.5px,#b21a01 33.5px,#af1801 47.5px,#b71d02 61.5px,#c92903 67.5px,#dc3c08 71.5px,#ef5b12 74.5px,#fa8524 76.5px,#f8a42e 77.5px,#e3c639 78.5px,#aedf53 79.5px,#6ada8b 80.5px,#4ccbb2 81.5px,#6dd68e 82.5px,#b2d954 83.5px,#e5bf38 84.5px,#f89e2d 85.5px,#f8731c 87.5px,#f36416 89.5px,#f36215 93.5px,#f56918 96.5px,#f97a1f 98.5px,#f7b334 101.5px,#d8e036 103.5px,#c8ed35 104.5px,#c5f034 105.5px,#d0e835 106.5px,#f1c838 108.5px,#fda732 110.5px,#f56918 115.5px,#e84b0c 120.5px,#d93707 127.5px,#cc2b04 135.5px,#c12302 157.5px)"></i><i style="left:78px;background:linear-gradient(#d13005 0.5px,#b21a01 33.5px,#b21a01 54.5px,#bd2102 63.5px,#d33205 68.5px,#e74b0d 71.5px,#ef5d13 72.5px,#f5791e 73.5px,#f0a12d 74.5px,#cdc943 75.5px,#8dd96f 76.5px,#61d09a 77.5px,#77cd89 78.5px,#b7c454 79.5px,#e6a130 80.5px,#f37b1f 81.5px,#f06215 82.5px,#eb510e 84.5px,#ec520f 86.5px,#f76d1a 92.5px,#fb8122 94.5px,#fca12f 96.5px,#eec938 98.5px,#c5ee36 100.5px,#b3f738 101.5px,#b1f838 102.5px,#d2e636 104.5px,#f1c839 106.5px,#fcac33 108.5px,#f7701b 113.5px,#e84b0c 119.5px,#cc2c04 134.5px,#c12302 157.5px)"></i><i style="left:84px;background:linear-gradient(#d13005 0.5px,#b21a01 33.5px,#b21a01 53.5px,#bf2202 62.5px,#cc2c04 65.5px,#dc3d08 67.5px,#e64f0e 68.5px,#ee701b 69.5px,#e69f2e 70.5px,#bdc64c 71.5px,#86d174 72.5px,#7ec77f 73.5px,#adb359 74.5px,#d9892d 75.5px,#e35c15 76.5px,#dc410a 77.5px,#d63506 78.5px,#d53406 80.5px,#e3440a 84.5px,#f15e13 88.5px,#fb8022 91.5px,#fda22f 93.5px,#f0c838 95.5px,#c6ec37 97.5px,#abf83c 98.5px,#9afd43 99.5px,#9cfd41 100.5px,#aef83a 101.5px,#dbe037 103.5px,#ead139 104.5px,#fab637 106.5px,#f8711b 112.5px,#e94d0d 118.5px,#db3a07 125.5px,#cc2c04 134.5px,#c12302 157.5px)"></i><i style="left:90px;background:linear-gradient(#d13005 0.5px,#b21a01 33.5px,#b21a01 51.5px,#bd2102 59.5px,#c62703 61.5px,#da3f0a 63.5px,#e65f15 64.5px,#e58e28 65.5px,#c5b943 66.5px,#99c65e 67.5px,#96b65e 68.5px,#bd943e 69.5px,#d4631c 70.5px,#d03c0a 71.5px,#c62904 72.5px,#c02303 73.5px,#c22403 75.5px,#d73606 80.5px,#ed5510 85.5px,#f8741d 88.5px,#fda430 91.5px,#f0c838 93.5px,#dfdb37 94.5px,#c6ec37 95.5px,#8bfd4d 97.5px,#81fe54 98.5px,#8ffd4a 99.5px,#aaf83d 100.5px,#dbe037 102.5px,#f5c339 104.5px,#fdaa33 106.5px,#fa7d20 110.5px,#f46416 113.5px,#e14209 121.5px,#c82903 137.5px,#c12302 157.5px)"></i><i style="left:96px;background:linear-gradient(#d13005 0.5px,#b21a01 33.5px,#b21a01 48.5px,#bd2002 55.5px,#cb2e05 57.5px,#d9410b 58.5px,#e56517 59.5px,#e0972c 60.5px,#c1c346 61.5px,#a7cc55 62.5px,#b5a946 63.5px,#cc6f24 64.5px,#cc400d 65.5px,#c02704 66.5px,#b41b01 68.5px,#bc2002 72.5px,#d53406 78.5px,#eb520f 83.5px,#fa7c20 87.5px,#fcac33 90.5px,#ebcf38 92.5px,#d8e137 93.5px,#bcf139 94.5px,#77fd5c 96.5px,#6bfd65 97.5px,#7dfd57 98.5px,#9efa43 99.5px,#bef138 100.5px,#e7d538 102.5px,#f9ba38 104.5px,#fea130 106.5px,#f9781e 110.5px,#f26115 113.5px,#e14109 121.5px,#c82803 137.5px,#c12302 157.5px)"></i><i style="left:102px;background:linear-gradient(#d13005 0.5px,#b21a01 34.5px,#b21a01 44.5px,#bc2002 50.5px,#d03407 52.5px,#df4f0f 53.5px,#e87a1e 54.5px,#e0ab2e 55.5px,#cfc537 56.5px,#ccaf31 57.5px,#d2761e 58.5px,#cc420d 59.5px,#be2604 60.5px,#b31b02 61.5px,#ad1701 63.5px,#be2102 71.5px,#d63506 77.5px,#e74b0c 81.5px,#f7711b 85.5px,#fcac33 89.5px,#ecce39 91.5px,#d9e037 92.5px,#bef039 93.5px,#98fa48 94.5px,#70fc62 95.5px,#59fa74 96.5px,#65fb6a 97.5px,#89fc50 98.5px,#aff63c 99.5px,#e0db37 101.5px,#f7bf39 103.5px,#fda732 105.5px,#f46516 112.5px,#e2430a 120.5px,#ca2a04 135.5px,#c12302 157.5px)"></i><i style="left:108px;background:linear-gradient(#d13005 0.5px,#b41b01 29.5px,#b21a01 38.5px,#b81e02 44.5px,#c92c05 46.5px,#d9410b 47.5px,#e86416 48.5px,#ed9125 49.5px,#e9af2c 50.5px,#e3a228 51.5px,#cf420c 53.5px,#c02704 54.5px,#b51d02 55.5px,#ad1701 57.5px,#ad1701 62.5px,#be2102 70.5px,#d53406 76.5px,#ea500e 81.5px,#fa7a1f 85.5px,#fda732 88.5px,#f0c839 90.5px,#e1da38 91.5px,#c8eb38 92.5px,#a5f742 93.5px,#53f97a 95.5px,#4df87e 96.5px,#6cfb66 97.5px,#97fa48 98.5px,#bbf239 99.5px,#d5e437 100.5px,#f2c739 102.5px,#fcae34 104.5px,#fc8323 108.5px,#f36416 112.5px,#e2420a 120.5px,#ca2a04 135.5px,#c12302 157.5px)"></i><i style="left:114px;background:linear-gradient(#d13005 0.5px,#b51b01 29.5px,#b71d02 38.5px,#c52804 40.5px,#d33808 41.5px,#e45411 42.5px,#f0791e 43.5px,#f39528 44.5px,#ee8e25 45.5px,#d13e0b 47.5px,#c02704 48.5px,#b61d02 49.5px,#ad1701 53.5px,#ac1701 60.5px,#c02302 70.5px,#d73606 76.5px,#e84c0d 80.5px,#f8741c 84.5px,#fbaf34 88.5px,#ead138 90.5px,#d6e337 91.5px,#b8f23b 92.5px,#8efa4f 93.5px,#5ef971 94.5px,#41f58a 95.5px,#4cf780 96.5px,#76fb5f 97.5px,#a3f842 98.5px,#c4ee37 99.5px,#dcdf37 100.5px,#f5c239 102.5px,#fdaa33 104.5px,#fb8122 108.5px,#f36215 112.5px,#e24209 120.5px,#c92903 136.5px,#c12302 157.5px)"></i><i style="left:120px;background:linear-gradient(#d13005 0.5px,#b81d02 26.5px,#b81d02 32.5px,#c32603 34.5px,#cf3106 35.5px,#ed6417 37.5px,#f57d21 38.5px,#f17a20 39.5px,#d03a09 41.5px,#c12604 42.5px,#b31b01 44.5px,#ad1701 59.5px,#c22403 70.5px,#d43306 75.5px,#ea4f0e 80.5px,#f66d19 83.5px,#fda531 87.5px,#f2c639 89.5px,#cce937 91.5px,#a9f640 92.5px,#7afa5d 93.5px,#4bf683 94.5px,#38f393 95.5px,#50f77e 96.5px,#80fb58 97.5px,#acf63e 98.5px,#cbea37 99.5px,#e1db38 100.5px,#f7bf39 102.5px,#fda732 104.5px,#f56717 111.5px,#e3440a 119.5px,#ca2a04 135.5px,#c12302 157.5px)"></i><i style="left:126px;background:linear-gradient(#d13005 0.5px,#ba1f02 24.5px,#bd2002 27.5px,#cb2d05 29.5px,#f06618 32.5px,#ee6618 33.5px,#cf3508 35.5px,#c12503 36.5px,#b41b01 38.5px,#af1801 61.5px,#c02202 69.5px,#d53406 75.5px,#eb510e 80.5px,#fa7d20 84.5px,#fcaa33 87.5px,#efcb39 89.5px,#dddd37 90.5px,#c3ed38 91.5px,#9cf847 92.5px,#3df290 94.5px,#35f197 95.5px,#56f779 96.5px,#89fa52 97.5px,#b3f43c 98.5px,#d1e737 99.5px,#e4d838 100.5px,#f8bc38 102.5px,#fea431 104.5px,#f46617 111.5px,#eb510e 115.5px,#e14109 120.5px,#c92903 136.5px,#c12302 157.5px)"></i><i style="left:132px;background:linear-gradient(#d13005 0.5px,#c12302 21.5px,#cb2c04 23.5px,#ea5511 26.5px,#e95611 27.5px,#c12503 30.5px,#b61c02 32.5px,#af1801 41.5px,#af1801 60.5px,#c02302 69.5px,#d63506 75.5px,#ec530f 80.5px,#fd8e28 85.5px,#f6be38 88.5px,#d8e137 90.5px,#bbf13a 91.5px,#90f94e 92.5px,#5af776 93.5px,#33ef99 94.5px,#34f098 95.5px,#5cf775 96.5px,#90fa4e 97.5px,#b9f23a 98.5px,#d5e437 99.5px,#e7d538 100.5px,#f9b938 102.5px,#fe982c 105.5px,#f8731c 109.5px,#e94d0d 116.5px,#dc3b07 123.5px,#cc2c04 133.5px,#c12302 157.5px)"></i><i style="left:138px;background:linear-gradient(#d13005 0.5px,#c62703 15.5px,#cc2c04 17.5px,#e4490c 20.5px,#e54b0d 21.5px,#cf3106 23.5px,#be2102 25.5px,#b21a01 33.5px,#af1801 60.5px,#c12302 69.5px,#d73606 75.5px,#e84c0d 79.5px,#f8741d 83.5px,#fbb135 87.5px,#e8d338 89.5px,#d3e437 90.5px,#b3f33d 91.5px,#85f956 92.5px,#4ef581 93.5px,#2deda1 94.5px,#35ef98 95.5px,#96f94a 97.5px,#bef039 98.5px,#d8e237 99.5px,#e9d339 100.5px,#fab737 102.5px,#fe962b 105.5px,#f8721c 109.5px,#e94c0d 116.5px,#da3907 124.5px,#cb2a04 134.5px,#c12302 157.5px)"></i></b></div>
<div class="p" style="left:43px;top:207px;background:linear-gradient(#ffa5a5 0.5px,#ffaeae 37.5px,#ffc6c6 55.5px,#fff7f7 68.5px,#fff9f9 90.5px,#fff1f1 92.5px,#ffcece 93.5px,#ff8b8b 94.5px,#ff5151 95.5px,#ff3d3d 96.5px,#ff3636 113.5px,#ff6464 139.5px,#ff7878 157.5px)"></div>
<div class="p" style="left:192px;top:207px"><i style="left:-3px;background:linear-gradient(#ffa5a5 0.5px,#ffa9a9 29.5px,#ffb1b1 40.5px,#ffc6c6 54.5px,#fff8f8 67.5px,#fff9f9 90.5px,#fff8f8 91.5px,#ffefef 92.5px,#ffbdbd 93.5px,#ff6b6b 94.5px,#ff4242 95.5px,#ff3d3d 96.5px,#ff3535 113.5px,#ff5f5f 136.5px,#ff7979 157.5px)"></i><i style="left:3px;background:linear-gradient(#ffa5a5 0.5px,#ffa9a9 29.5px,#ffb1b1 40.5px,#ffc6c6 54.5px,#fff8f8 67.5px,#fff9f9 90.5px,#fff8f8 91.5px,#fee 92.5px,#ffbaba 93.5px,#ff6969 94.5px,#ff4242 95.5px,#ff3d3d 96.5px,#ff3535 113.5px,#ff6464 139.5px,#ff7979 157.5px)"></i><i style="left:9px;background:linear-gradient(#ffa5a5 0.5px,#ffa9a9 29.5px,#ffb1b1 40.5px,#ffc6c6 54.5px,#fff8f8 67.5px,#fff9f9 90.5px,#fff8f8 91.5px,#ffeded 92.5px,#ffb7b7 93.5px,#ff6767 94.5px,#ff4242 95.5px,#ff3d3d 96.5px,#ff3535 113.5px,#ff6060 136.5px,#ff7b7b 157.5px)"></i><i style="left:15px;background:linear-gradient(#ffa5a5 0.5px,#ffa9a9 29.5px,#ffb1b1 40.5px,#ffc9c9 55.5px,#fff8f8 67.5px,#fff9f9 90.5px,#fff8f8 91.5px,#ffebeb 92.5px,#ffb2b2 93.5px,#ff6262 94.5px,#ff4141 95.5px,#ff3d3d 96.5px,#ff3535 113.5px,#ff6060 136.5px,#ff7d7d 157.5px)"></i><i style="left:21px;background:linear-gradient(#ffa5a5 0.5px,#ffa9a9 29.5px,#ffb1b1 40.5px,#ffc9c9 55.5px,#fff8f8 67.5px,#fff9f9 90.5px,#fff8f8 91.5px,#ffeaea 92.5px,#ffadad 93.5px,#ff5f5f 94.5px,#ff4040 95.5px,#ff3d3d 96.5px,#ff3535 113.5px,#ff6c6c 143.5px,#ff7575 157.5px)"></i><i style="left:27px;background:linear-gradient(#ffa5a5 0.5px,#ffa9a9 29.5px,#ffb1b1 40.5px,#ffc9c9 55.5px,#fff8f8 67.5px,#fff9f9 90.5px,#fff8f8 91.5px,#ffe8e8 92.5px,#ffa8a8 93.5px,#ff5b5b 94.5px,#ff3f3f 95.5px,#ff3d3d 96.5px,#ff3636 113.5px,#ff6c6c 140.5px,#ff7575 157.5px)"></i><i style="left:33px;background:linear-gradient(#ffa5a5 0.5px,#ffa9a9 29.5px,#ffb1b1 40.5px,#ffc9c9 55.5px,#fff8f8 67.5px,#fff9f9 90.5px,#fff7f7 91.5px,#ffe2e2 92.5px,#f55 94.5px,#ff3f3f 95.5px,#ff3535 112.5px,#ff6565 134.5px,#ff6565 141.5px,#f77 157.5px)"></i><i style="left:39px;background:linear-gradient(#ffa5a5 0.5px,#ffa9a9 29.5px,#ffb1b1 40.5px,#ffc9c9 55.5px,#fff8f8 67.5px,#fff9f9 90.5px,#fff6f6 91.5px,#fdd 92.5px,#ff4f4f 94.5px,#ff3e3e 95.5px,#ff3636 112.5px,#ff5e5e 128.5px,#ff5e5e 136.5px,#f77 157.5px)"></i><i style="left:45px;background:linear-gradient(#ffa5a5 0.5px,#ffa9a9 29.5px,#ffb2b2 40.5px,#ffc7c7 54.5px,#fff8f8 67.5px,#fff9f9 90.5px,#fff4f4 91.5px,#ffd0d0 92.5px,#ff7e7e 93.5px,#ff4848 94.5px,#ff3d3d 95.5px,#ff3636 111.5px,#ff5454 121.5px,#ff5050 128.5px,#f77 157.5px)"></i><i style="left:51px;background:linear-gradient(#ffa5a5 0.5px,#ffa9a9 29.5px,#ffb2b2 40.5px,#ffc7c7 54.5px,#fff8f8 67.5px,#fff9f9 89.5px,#fff8f8 90.5px,#fee 91.5px,#ffb7b7 92.5px,#f66 93.5px,#ff4242 94.5px,#ff3d3d 95.5px,#ff3636 108.5px,#ff4b4b 115.5px,#ff4545 123.5px,#ff6464 140.5px,#f77 157.5px)"></i><i style="left:57px;background:linear-gradient(#ffa5a5 0.5px,#ffa9a9 29.5px,#ffb2b2 40.5px,#ffc7c7 54.5px,#fff9f9 67.5px,#fff9f9 89.5px,#fff5f5 90.5px,#ffd4d4 91.5px,#ff8484 92.5px,#ff4a4a 93.5px,#ff3e3e 94.5px,#ff3535 103.5px,#f44 109.5px,#ff3b3b 116.5px,#ff6464 140.5px,#f77 157.5px)"></i><i style="left:63px;background:linear-gradient(#ffa5a5 0.5px,#ffa9a9 29.5px,#ffb2b2 40.5px,#ffc7c7 54.5px,#fff7f7 66.5px,#fff9f9 88.5px,#fff4f4 89.5px,#ffd2d2 90.5px,#ff8585 91.5px,#ff4848 92.5px,#ff3838 93.5px,#ff3535 98.5px,#ff3d3d 104.5px,#ff3535 113.5px,#ff6464 140.5px,#f77 157.5px)"></i><i style="left:69px;background:linear-gradient(#ffa5a5 0.5px,#ffa9a9 29.5px,#ffb2b2 40.5px,#ffc8c8 54.5px,#fff8f8 66.5px,#fff9f9 86.5px,#fff5f5 87.5px,#ffe4e4 88.5px,#ff9c9c 90.5px,#ff7f7f 91.5px,#ff6d6d 92.5px,#ff5757 95.5px,#ff3737 102.5px,#ff3636 114.5px,#ff6060 137.5px,#f77 157.5px)"></i><i style="left:75px;background:linear-gradient(#ffa5a5 0.5px,#ffa9a9 29.5px,#ffb6b6 44.5px,#ffc8c8 54.5px,#fff8f8 66.5px,#fff9f9 82.5px,#fff6f6 84.5px,#ffd6d6 87.5px,#ffc2c2 91.5px,#faa 94.5px,#ff9b9b 95.5px,#ff4a4a 98.5px,#ff3b3b 99.5px,#ff3636 100.5px,#ff3636 114.5px,#ff6060 137.5px,#f77 157.5px)"></i><i style="left:81px;background:linear-gradient(#ffa5a5 0.5px,#ffadad 35.5px,#ffc6c6 53.5px,#fff7f7 65.5px,#fff9f9 77.5px,#ffebeb 81.5px,#fff8f8 85.5px,#fff9f9 91.5px,#fff3f3 93.5px,#ffdada 94.5px,#ff4e4e 97.5px,#ff3a3a 98.5px,#ff3737 99.5px,#ff3636 114.5px,#ff6060 137.5px,#f77 157.5px)"></i><i style="left:87px;background:linear-gradient(#ffa5a5 0.5px,#ffa9a9 29.5px,#ffb5b5 43.5px,#ffcaca 54.5px,#fff1f1 62.5px,#fff9f9 65.5px,#fff8f8 71.5px,#ffe4e4 75.5px,#fff9f9 80.5px,#fff9f9 92.5px,#fff4f4 93.5px,#ffd9d9 94.5px,#ff6161 96.5px,#ff3f3f 97.5px,#ff3838 98.5px,#ff3636 114.5px,#ff6565 140.5px,#f77 157.5px)"></i><i style="left:93px;background:linear-gradient(#ffa5a5 0.5px,#ffa9a9 29.5px,#ffb6b6 43.5px,#ffc9c9 53.5px,#fff7f7 63.5px,#fff6f6 65.5px,#ffd7d7 69.5px,#fff8f8 75.5px,#fff9f9 91.5px,#fff2f2 93.5px,#ffd0d0 94.5px,#ff5252 96.5px,#ff3b3b 97.5px,#ff3636 114.5px,#ff6565 140.5px,#f77 157.5px)"></i><i style="left:99px;background:linear-gradient(#ffa5a5 0.5px,#ffaeae 35.5px,#ffc0c0 49.5px,#ffe3e3 58.5px,#fcc 62.5px,#ffcaca 64.5px,#ffecec 69.5px,#fff8f8 72.5px,#fff9f9 91.5px,#fff0f0 93.5px,#ffc7c7 94.5px,#ff7f7f 95.5px,#ff4a4a 96.5px,#ff3a3a 97.5px,#ff3636 114.5px,#ff6565 140.5px,#f77 157.5px)"></i><i style="left:105px;background:linear-gradient(#ffa5a5 0.5px,#ffa9a9 29.5px,#ffb6b6 42.5px,#ffcaca 52.5px,#ffbebe 57.5px,#ffc9c9 61.5px,#fff7f7 70.5px,#fff9f9 91.5px,#fff8f8 92.5px,#fee 93.5px,#ffc0c0 94.5px,#ff7676 95.5px,#ff4545 96.5px,#ff3a3a 97.5px,#ff3636 114.5px,#ff6565 140.5px,#f77 157.5px)"></i><i style="left:111px;background:linear-gradient(#ffa5a5 0.5px,#ffa9a9 28.5px,#ffbdbd 46.5px,#ffb7b7 51.5px,#ffc9c9 59.5px,#fff1f1 67.5px,#fff8f8 70.5px,#fff9f9 91.5px,#fff8f8 92.5px,#ffecec 93.5px,#ffbaba 94.5px,#ff6e6e 95.5px,#ff4242 96.5px,#ff3b3b 97.5px,#ff3636 114.5px,#ff6565 140.5px,#f77 157.5px)"></i><i style="left:117px;background:linear-gradient(#ffa5a5 0.5px,#ffa9a9 28.5px,#ffb5b5 39.5px,#ffb2b2 46.5px,#ffcaca 58.5px,#fff8f8 69.5px,#fff9f9 91.5px,#fff8f8 92.5px,#ffeaea 93.5px,#ffb5b5 94.5px,#ff6a6a 95.5px,#ff4141 96.5px,#ff3b3b 97.5px,#ff3636 114.5px,#ff6565 140.5px,#f77 157.5px)"></i><i style="left:123px;background:linear-gradient(#ffa5a5 0.5px,#ffadad 40.5px,#ffc6c6 56.5px,#fff8f8 69.5px,#fff9f9 91.5px,#fff8f8 92.5px,#ffe9e9 93.5px,#ffb1b1 94.5px,#f66 95.5px,#ff4040 96.5px,#ff3b3b 97.5px,#ff3636 114.5px,#ff6565 140.5px,#f77 157.5px)"></i><i style="left:129px;background:linear-gradient(#ffa5a5 0.5px,#ffaeae 39.5px,#ffc4c4 55.5px,#fff9f9 69.5px,#fff9f9 91.5px,#fff8f8 92.5px,#ffe7e7 93.5px,#ffadad 94.5px,#ff6262 95.5px,#ff3f3f 96.5px,#ff3c3c 97.5px,#ff3636 114.5px,#ff6565 140.5px,#f77 157.5px)"></i><i style="left:135px;background:linear-gradient(#ffa5a5 0.5px,#ffaeae 38.5px,#ffc5c5 55.5px,#fff9f9 69.5px,#fff9f9 91.5px,#fff7f7 92.5px,#ffe6e6 93.5px,#faa 94.5px,#ff6060 95.5px,#ff3f3f 96.5px,#ff3c3c 97.5px,#ff3636 114.5px,#ff6565 140.5px,#f77 157.5px)"></i><b><i style="left:0px;background:linear-gradient(#ffa5a5 0.5px,#ffa9a9 29.5px,#ffb1b1 40.5px,#ffc6c6 54.5px,#fff8f8 67.5px,#fff9f9 90.5px,#fff8f8 91.5px,#fee 92.5px,#ffbcbc 93.5px,#ff6a6a 94.5px,#ff4242 95.5px,#ff3d3d 96.5px,#ff3535 113.5px,#ff6464 139.5px,#ff7979 157.5px)"></i><i style="left:6px;background:linear-gradient(#ffa5a5 0.5px,#ffa9a9 29.5px,#ffb1b1 40.5px,#ffc6c6 54.5px,#fff8f8 67.5px,#fff9f9 90.5px,#fff8f8 91.5px,#fee 92.5px,#ffb9b9 93.5px,#ff6969 94.5px,#ff4242 95.5px,#ff3d3d 96.5px,#ff3535 113.5px,#ff6464 139.5px,#ff7979 157.5px)"></i><i style="left:12px;background:linear-gradient(#ffa5a5 0.5px,#ffa9a9 29.5px,#ffb1b1 40.5px,#ffc6c6 54.5px,#fff8f8 67.5px,#fff9f9 90.5px,#fff8f8 91.5px,#ffecec 92.5px,#ffb5b5 93.5px,#ff6565 94.5px,#ff4141 95.5px,#ff3d3d 96.5px,#ff3535 113.5px,#ff5d5d 134.5px,#ff7d7d 157.5px)"></i><i style="left:18px;background:linear-gradient(#ffa5a5 0.5px,#ffa9a9 29.5px,#ffb1b1 40.5px,#ffc9c9 55.5px,#fff8f8 67.5px,#fff9f9 90.5px,#fff8f8 91.5px,#ffebeb 92.5px,#ffafaf 93.5px,#ff6060 94.5px,#ff4040 95.5px,#ff3d3d 96.5px,#ff3535 113.5px,#ff6868 141.5px,#ff7878 157.5px)"></i><i style="left:24px;background:linear-gradient(#ffa5a5 0.5px,#ffa9a9 29.5px,#ffb1b1 40.5px,#ffc9c9 55.5px,#fff8f8 67.5px,#fff9f9 90.5px,#fff8f8 91.5px,#ffe9e9 92.5px,#ffabab 93.5px,#ff5d5d 94.5px,#ff4040 95.5px,#ff3d3d 96.5px,#ff3636 113.5px,#ff7070 144.5px,#ff7575 157.5px)"></i><i style="left:30px;background:linear-gradient(#ffa5a5 0.5px,#ffa9a9 29.5px,#ffb1b1 40.5px,#ffc9c9 55.5px,#fff8f8 67.5px,#fff9f9 90.5px,#fff8f8 91.5px,#ffe6e6 92.5px,#ff5858 94.5px,#ff3f3f 95.5px,#ff3d3d 96.5px,#ff3636 113.5px,#ff6969 137.5px,#f77 157.5px)"></i><i style="left:36px;background:linear-gradient(#ffa5a5 0.5px,#ffa9a9 29.5px,#ffb1b1 40.5px,#ffc9c9 55.5px,#fff8f8 67.5px,#fff9f9 90.5px,#fff7f7 91.5px,#ffe0e0 92.5px,#ff5252 94.5px,#ff3e3e 95.5px,#ff3535 112.5px,#ff4646 121.5px,#ff6262 131.5px,#ff6161 138.5px,#f77 157.5px)"></i><i style="left:42px;background:linear-gradient(#ffa5a5 0.5px,#ffa9a9 29.5px,#ffb2b2 40.5px,#ffc9c9 55.5px,#fff8f8 67.5px,#fff9f9 90.5px,#fff5f5 91.5px,#ffd6d6 92.5px,#ff8787 93.5px,#ff4b4b 94.5px,#ff3e3e 95.5px,#ff3535 111.5px,#ff4343 118.5px,#ff5858 124.5px,#ff5656 131.5px,#f77 157.5px)"></i><i style="left:48px;background:linear-gradient(#ffa5a5 0.5px,#ffa9a9 29.5px,#ffb2b2 40.5px,#ffc7c7 54.5px,#fff8f8 67.5px,#fff9f9 89.5px,#fff2f2 91.5px,#ffc5c5 92.5px,#ff7272 93.5px,#f44 94.5px,#ff3d3d 95.5px,#ff3636 110.5px,#ff5050 118.5px,#ff4a4a 125.5px,#ff6868 143.5px,#f77 157.5px)"></i><i style="left:54px;background:linear-gradient(#ffa5a5 0.5px,#ffa9a9 29.5px,#ffb2b2 40.5px,#ffc7c7 54.5px,#fff9f9 67.5px,#fff9f9 89.5px,#fff8f8 90.5px,#ffe5e5 91.5px,#ff5757 93.5px,#ff3f3f 94.5px,#ff3d3d 95.5px,#ff3535 105.5px,#ff4747 112.5px,#ff3f3f 117.5px,#ff4242 121.5px,#ff6464 140.5px,#f77 157.5px)"></i><i style="left:60px;background:linear-gradient(#ffa5a5 0.5px,#ffa9a9 29.5px,#ffb2b2 40.5px,#ffc7c7 54.5px,#fff9f9 67.5px,#fff9f9 88.5px,#fff8f8 89.5px,#ffecec 90.5px,#ffb3b3 91.5px,#ff6363 92.5px,#ff4141 93.5px,#ff3d3d 94.5px,#ff3535 100.5px,#ff4040 106.5px,#ff3737 111.5px,#ff3939 116.5px,#ff6464 140.5px,#f77 157.5px)"></i><i style="left:66px;background:linear-gradient(#ffa5a5 0.5px,#ffa9a9 29.5px,#ffb2b2 40.5px,#ffc7c7 54.5px,#fff7f7 66.5px,#fff9f9 87.5px,#fff6f6 88.5px,#ffe0e0 89.5px,#ff6c6c 91.5px,#ff4b4b 92.5px,#ff3d3d 94.5px,#ff3636 114.5px,#ff6464 140.5px,#f77 157.5px)"></i><i style="left:72px;background:linear-gradient(#ffa5a5 0.5px,#ffa9a9 29.5px,#ffb2b2 40.5px,#ffc8c8 54.5px,#fff8f8 66.5px,#fff9f9 84.5px,#fff4f4 86.5px,#ffb5b5 89.5px,#ff9393 93.5px,#ff4343 99.5px,#ff3636 101.5px,#ff3636 114.5px,#ff6060 137.5px,#f77 157.5px)"></i><i style="left:78px;background:linear-gradient(#ffa5a5 0.5px,#ffa9a9 29.5px,#ffb5b5 43.5px,#ffcbcb 55.5px,#fff7f7 65.5px,#fff9f9 80.5px,#ffebeb 84.5px,#fff5f5 89.5px,#fee 92.5px,#ffdfdf 93.5px,#ffc7c7 94.5px,#ffa9a9 95.5px,#ff5a5a 97.5px,#ff4141 98.5px,#ff3737 99.5px,#ff3636 114.5px,#ff6060 137.5px,#f77 157.5px)"></i><i style="left:84px;background:linear-gradient(#ffa5a5 0.5px,#ffa9a9 29.5px,#ffb7b7 44.5px,#ffc9c9 54.5px,#fff8f8 65.5px,#fff9f9 74.5px,#ffe8e8 78.5px,#fff8f8 82.5px,#fff9f9 92.5px,#fff4f4 93.5px,#ffdcdc 94.5px,#ff6c6c 96.5px,#ff4545 97.5px,#ff3838 98.5px,#ff3636 114.5px,#ff6060 137.5px,#f77 157.5px)"></i><i style="left:90px;background:linear-gradient(#ffa5a5 0.5px,#ffa9a9 29.5px,#ffb5b5 43.5px,#ffcbcb 54.5px,#fff8f8 64.5px,#fff8f8 68.5px,#ffdfdf 72.5px,#fff8f8 77.5px,#fff9f9 91.5px,#fff3f3 93.5px,#ffd4d4 94.5px,#ff5858 96.5px,#ff3c3c 97.5px,#ff3939 98.5px,#ff3d3d 101.5px,#ff3636 114.5px,#ff6565 140.5px,#f77 157.5px)"></i><i style="left:96px;background:linear-gradient(#ffa5a5 0.5px,#ffaeae 35.5px,#ffc4c4 51.5px,#fff0f0 61.5px,#ffd0d0 66.5px,#ffd7d7 68.5px,#ffefef 71.5px,#fff7f7 73.5px,#fff9f9 91.5px,#fff1f1 93.5px,#ffcbcb 94.5px,#ff8585 95.5px,#ff4d4d 96.5px,#ff3a3a 97.5px,#ff3636 114.5px,#ff6565 140.5px,#f77 157.5px)"></i><i style="left:102px;background:linear-gradient(#ffa5a5 0.5px,#ffadad 34.5px,#fbb 46.5px,#ffd4d4 55.5px,#ffc3c3 60.5px,#fcc 63.5px,#ffeded 68.5px,#fff8f8 71.5px,#fff9f9 91.5px,#ffefef 93.5px,#ffc4c4 94.5px,#ff7a7a 95.5px,#ff4747 96.5px,#ff3a3a 97.5px,#ff3636 114.5px,#ff6565 140.5px,#f77 157.5px)"></i><i style="left:108px;background:linear-gradient(#ffa5a5 0.5px,#ffa9a9 29.5px,#ffc3c3 49.5px,#ffbaba 54.5px,#ffcaca 60.5px,#ffefef 67.5px,#fff8f8 70.5px,#fff9f9 91.5px,#fff8f8 92.5px,#ffeded 93.5px,#ffbdbd 94.5px,#ff7272 95.5px,#f44 96.5px,#ff3b3b 97.5px,#ff3636 114.5px,#ff6565 140.5px,#f77 157.5px)"></i><i style="left:114px;background:linear-gradient(#ffa5a5 0.5px,#ffa9a9 28.5px,#ffb9b9 42.5px,#ffb5b5 49.5px,#ffcbcb 59.5px,#fff7f7 69.5px,#fff9f9 91.5px,#fff8f8 92.5px,#ffebeb 93.5px,#ffb7b7 94.5px,#ff6c6c 95.5px,#ff4242 96.5px,#ff3b3b 97.5px,#ff3636 114.5px,#ff6565 140.5px,#f77 157.5px)"></i><i style="left:120px;background:linear-gradient(#ffa5a5 0.5px,#ffb1b1 44.5px,#ffc8c8 57.5px,#fff8f8 69.5px,#fff9f9 91.5px,#fff8f8 92.5px,#ffe9e9 93.5px,#ffb3b3 94.5px,#ff6868 95.5px,#ff4141 96.5px,#ff3b3b 97.5px,#ff3636 114.5px,#ff6565 140.5px,#f77 157.5px)"></i><i style="left:126px;background:linear-gradient(#ffa5a5 0.5px,#ffadad 39.5px,#ffc6c6 56.5px,#fff8f8 69.5px,#fff9f9 91.5px,#fff8f8 92.5px,#ffe8e8 93.5px,#ffafaf 94.5px,#ff6464 95.5px,#ff4040 96.5px,#ff3b3b 97.5px,#ff3636 114.5px,#ff6565 140.5px,#f77 157.5px)"></i><i style="left:132px;background:linear-gradient(#ffa5a5 0.5px,#ffadad 38.5px,#ffc7c7 56.5px,#fff9f9 69.5px,#fff9f9 91.5px,#fff7f7 92.5px,#ffe7e7 93.5px,#ffacac 94.5px,#ff6161 95.5px,#ff3f3f 96.5px,#ff3c3c 97.5px,#ff3636 114.5px,#ff6565 140.5px,#f77 157.5px)"></i><i style="left:138px;background:linear-gradient(#ffa5a5 0.5px,#ffaeae 38.5px,#ffc8c8 56.5px,#fff7f7 68.5px,#fff9f9 91.5px,#fff7f7 92.5px,#ffe6e6 93.5px,#ffa9a9 94.5px,#ff5e5e 95.5px,#ff3e3e 96.5px,#ff3c3c 97.5px,#ff3636 114.5px,#ff6565 140.5px,#f77 157.5px)"></i></b></div>
<div class="p" style="left:341px;top:207px"><i style="left:-3px;background:linear-gradient(#ffa5a5 0.5px,#ffa9a9 29.5px,#ffb2b2 40.5px,#ffc7c7 54.5px,#fff9f9 67.5px,#fff9f9 89.5px,#fff5f5 90.5px,#ffd7d7 91.5px,#ff8d8d 92.5px,#ff4e4e 93.5px,#ff3c3c 94.5px,#ff3535 111.5px,#ff6464 137.5px,#ff7c7c 157.5px)"></i><i style="left:3px;background:linear-gradient(#ffa5a5 0.5px,#ffa9a9 29.5px,#ffb2b2 40.5px,#ffc7c7 54.5px,#fff2f2 64.5px,#fff9f9 67.5px,#fff9f9 89.5px,#fff3f3 90.5px,#ffd1d1 91.5px,#ff8484 92.5px,#ff4a4a 93.5px,#ff3c3c 94.5px,#ff3535 111.5px,#ff6464 137.5px,#ff7e7e 157.5px)"></i><i style="left:9px;background:linear-gradient(#ffa5a5 0.5px,#ffa9a9 29.5px,#ffb2b2 40.5px,#ffc7c7 54.5px,#fff7f7 66.5px,#fff9f9 88.5px,#fff2f2 90.5px,#ffcbcb 91.5px,#ff7d7d 92.5px,#ff4747 93.5px,#ff3c3c 94.5px,#ff3535 111.5px,#ff6060 134.5px,#ff7676 151.5px,#ff8686 157.5px)"></i><i style="left:15px;background:linear-gradient(#ffa5a5 0.5px,#ffa9a9 29.5px,#ffb2b2 40.5px,#ffc8c8 54.5px,#fff7f7 66.5px,#fff9f9 88.5px,#ffefef 90.5px,#ffc1c1 91.5px,#ff7272 92.5px,#ff4343 93.5px,#ff3c3c 94.5px,#ff3636 111.5px,#ff8383 153.5px,#ff7b7b 157.5px)"></i><i style="left:21px;background:linear-gradient(#ffa5a5 0.5px,#ffa9a9 29.5px,#ffb2b2 40.5px,#ffc8c8 54.5px,#fff7f7 66.5px,#fff9f9 88.5px,#fff8f8 89.5px,#ffecec 90.5px,#ffb6b6 91.5px,#ff6767 92.5px,#ff4141 93.5px,#ff3c3c 94.5px,#ff3535 110.5px,#ff7878 145.5px,#ff7171 153.5px,#ff7575 157.5px)"></i><i style="left:27px;background:linear-gradient(#ffa5a5 0.5px,#ffa9a9 29.5px,#ffb2b2 40.5px,#ffc8c8 54.5px,#fff8f8 66.5px,#fff9f9 88.5px,#fff7f7 89.5px,#ffe5e5 90.5px,#ffa5a5 91.5px,#ff5b5b 92.5px,#ff3f3f 93.5px,#ff3d3d 94.5px,#ff3636 110.5px,#ff7373 139.5px,#ff6a6a 146.5px,#ff7575 157.5px)"></i><i style="left:33px;background:linear-gradient(#ffa5a5 0.5px,#ffadad 35.5px,#ffc3c3 52.5px,#fff8f8 66.5px,#fff9f9 88.5px,#fff5f5 89.5px,#ffd9d9 90.5px,#ff8e8e 91.5px,#ff4e4e 92.5px,#ff3d3d 93.5px,#ff3535 109.5px,#ff4646 118.5px,#ff6f6f 132.5px,#ff6262 140.5px,#ff7575 157.5px)"></i><i style="left:39px;background:linear-gradient(#ffa5a5 0.5px,#ffadad 35.5px,#ffc6c6 53.5px,#fff8f8 66.5px,#fff9f9 87.5px,#fff0f0 89.5px,#ffc1c1 90.5px,#ff7171 91.5px,#ff4343 92.5px,#ff3d3d 93.5px,#ff3535 108.5px,#ff4848 116.5px,#ff6a6a 125.5px,#ff5959 134.5px,#f77 157.5px)"></i><i style="left:45px;background:linear-gradient(#ffa5a5 0.5px,#ffadad 35.5px,#ffc6c6 53.5px,#fff8f8 66.5px,#fff9f9 87.5px,#fff6f6 88.5px,#ffdede 89.5px,#ff5353 91.5px,#ff3e3e 92.5px,#ff3636 106.5px,#ff4747 112.5px,#ff6868 119.5px,#ff4d4d 127.5px,#f77 157.5px)"></i><i style="left:51px;background:linear-gradient(#ffa5a5 0.5px,#ffadad 35.5px,#ffc6c6 53.5px,#fff9f9 66.5px,#fff9f9 86.5px,#fff8f8 87.5px,#ffe8e8 88.5px,#ffabab 89.5px,#ff5f5f 90.5px,#ff3f3f 91.5px,#ff3d3d 92.5px,#ff3737 103.5px,#ff4646 107.5px,#ff6969 113.5px,#ff6363 115.5px,#ff4a4a 118.5px,#ff4343 121.5px,#ff6868 143.5px,#f77 157.5px)"></i><i style="left:57px;background:linear-gradient(#ffa5a5 0.5px,#ffa9a9 29.5px,#ffb5b5 43.5px,#ffcaca 54.5px,#fff8f8 65.5px,#fbf5f9 80.5px,#f2edfa 84.5px,#e5e0f9 86.5px,#cbc0f2 87.5px,#9881e1 88.5px,#764ccb 89.5px,#983c9b 90.5px,#d93a5d 91.5px,#f9393f 92.5px,#ff3737 94.5px,#ff3a3a 99.5px,#ff6a6a 107.5px,#ff6565 109.5px,#ff4040 113.5px,#ff3b3b 116.5px,#ff6464 140.5px,#f77 157.5px)"></i><i style="left:63px;background:linear-gradient(#ffa5a5 0.5px,#ffa9a9 29.5px,#ffb6b6 43.5px,#ffcaca 54.5px,#fff8f8 65.5px,#faf5f9 78.5px,#f0ebfa 82.5px,#e2ddf9 84.5px,#c9bff3 85.5px,#5f52e6 87.5px,#523ddd 88.5px,#803ab0 89.5px,#c83b6e 90.5px,#f33c47 91.5px,#fe3f40 92.5px,#ff6e6e 102.5px,#ff6969 104.5px,#ff3d3d 108.5px,#ff3535 113.5px,#ff6060 137.5px,#f77 157.5px)"></i><i style="left:69px;background:linear-gradient(#ffa5a5 0.5px,#ffa9a9 29.5px,#ffb1b1 39.5px,#ffc8c8 53.5px,#fff7f7 64.5px,#fcf6f9 80.5px,#f9f1f7 81.5px,#eedbeb 82.5px,#dcaecf 83.5px,#da85a7 84.5px,#eb7183 85.5px,#fa6b70 86.5px,#fe6b6c 87.5px,#ff9595 96.5px,#ff9898 98.5px,#ff9090 99.5px,#ff4747 103.5px,#ff3737 105.5px,#ff3636 114.5px,#ff6565 140.5px,#f77 157.5px)"></i><i style="left:75px;background:linear-gradient(#ffa5a5 0.5px,#ffa9a9 29.5px,#ffb6b6 43.5px,#ffc9c9 53.5px,#fff7f7 63.5px,#fff9f9 75.5px,#fff5f5 77.5px,#ffe7e7 78.5px,#ffb0b0 80.5px,#ff9f9f 81.5px,#f99 82.5px,#ffcaca 93.5px,#ffc5c5 95.5px,#ffabab 97.5px,#ff9292 98.5px,#ff5050 100.5px,#ff3e3e 101.5px,#ff3535 103.5px,#ff3636 114.5px,#ff6060 137.5px,#ff7878 157.5px)"></i><i style="left:81px;background:linear-gradient(#ffa5a5 0.5px,#ffa9a9 29.5px,#ffb5b5 42.5px,#ffc8c8 52.5px,#fff3f3 61.5px,#fff9f9 65.5px,#fff5f5 72.5px,#ffe7e7 73.5px,#ffb7b7 75.5px,#faa 76.5px,#ffa6a6 77.5px,#ffabab 79.5px,#ffb8b8 81.5px,#fff1f1 86.5px,#fff8f8 88.5px,#fff9f9 92.5px,#fff4f4 94.5px,#ffe0e0 95.5px,#ffbaba 96.5px,#ff5f5f 98.5px,#ff4242 99.5px,#ff3535 101.5px,#ff3636 114.5px,#ff6363 139.5px,#ff7878 157.5px)"></i><i style="left:87px;background:linear-gradient(#ffa5a5 0.5px,#ffa9a9 28.5px,#ffb6b6 42.5px,#ffc7c7 51.5px,#fff0f0 59.5px,#fff9f9 63.5px,#fff6f6 66.5px,#ffeded 67.5px,#ffb2b2 70.5px,#ffabab 72.5px,#ffbaba 75.5px,#ffe7e7 79.5px,#fff6f6 81.5px,#fff9f9 92.5px,#fff8f8 93.5px,#ffeded 94.5px,#ffcaca 95.5px,#ff6060 97.5px,#ff4141 98.5px,#ff3737 99.5px,#ff3535 113.5px,#ff6161 137.5px,#ff7878 157.5px)"></i><i style="left:93px;background:linear-gradient(#ffa5a5 0.5px,#ffa9a9 28.5px,#ffb5b5 41.5px,#ffc7c7 50.5px,#fee 57.5px,#fff3f3 59.5px,#ffe6e6 61.5px,#ffb5b5 64.5px,#ffadad 66.5px,#ffbfbf 70.5px,#ffeded 75.5px,#fff7f7 77.5px,#fff9f9 92.5px,#fff6f6 93.5px,#ffe1e1 94.5px,#ffafaf 95.5px,#ff7272 96.5px,#ff4848 97.5px,#ff3838 98.5px,#ff3535 113.5px,#ff6161 137.5px,#ff7878 157.5px)"></i><i style="left:99px;background:linear-gradient(#ffa5a5 0.5px,#ffadad 33.5px,#ffbebe 45.5px,#ffdada 53.5px,#ffd4d4 55.5px,#ffb4b4 58.5px,#ffaeae 60.5px,#ffc4c4 66.5px,#ffefef 72.5px,#fff7f7 74.5px,#fff9f9 91.5px,#fff2f2 93.5px,#ffd2d2 94.5px,#ff5c5c 96.5px,#ff3e3e 97.5px,#ff3737 98.5px,#ff3535 113.5px,#ff6464 139.5px,#ff7878 157.5px)"></i><i style="left:105px;background:linear-gradient(#ffa5a5 0.5px,#faa 28.5px,#ffb5b5 39.5px,#ffc6c6 47.5px,#ffacac 54.5px,#ffc7c7 63.5px,#fff7f7 72.5px,#fff9f9 91.5px,#fff8f8 92.5px,#ffeded 93.5px,#ffc3c3 94.5px,#ff8282 95.5px,#ff4e4e 96.5px,#ff3a3a 97.5px,#ff3838 98.5px,#ff3535 113.5px,#ff6464 139.5px,#ff7878 157.5px)"></i><i style="left:111px;background:linear-gradient(#ffa5a5 0.5px,#faa 27.5px,#fbb 41.5px,#faa 48.5px,#ffc5c5 60.5px,#fff7f7 71.5px,#fff9f9 91.5px,#fff7f7 92.5px,#ffe8e8 93.5px,#ffb6b6 94.5px,#ff7373 95.5px,#ff4646 96.5px,#ff3838 97.5px,#ff3535 113.5px,#ff6464 139.5px,#ff7878 157.5px)"></i><i style="left:117px;background:linear-gradient(#ffa5a5 0.5px,#ffa9a9 25.5px,#ffb5b5 35.5px,#faa 44.5px,#ffc7c7 59.5px,#fff7f7 70.5px,#fff9f9 91.5px,#fff6f6 92.5px,#ffe2e2 93.5px,#ffabab 94.5px,#ff6767 95.5px,#ff4141 96.5px,#ff3838 97.5px,#ff3d3d 100.5px,#ff3636 113.5px,#ff5f5f 136.5px,#ff7878 157.5px)"></i><i style="left:123px;background:linear-gradient(#ffa5a5 0.5px,#ffafaf 30.5px,#faa 40.5px,#ffc4c4 57.5px,#fff8f8 70.5px,#fff9f9 91.5px,#fff5f5 92.5px,#fdd 93.5px,#ff5f5f 95.5px,#ff3e3e 96.5px,#ff3838 97.5px,#ff3d3d 100.5px,#ff3636 113.5px,#ff5f5f 136.5px,#ff7878 157.5px)"></i><i style="left:129px;background:linear-gradient(#ffa5a5 0.5px,#ffa9a9 37.5px,#ffc3c3 56.5px,#fff9f9 70.5px,#fff9f9 91.5px,#fff4f4 92.5px,#ffd8d8 93.5px,#ff5959 95.5px,#ff3c3c 96.5px,#ff3939 97.5px,#ff3d3d 100.5px,#ff3636 113.5px,#ff5f5f 136.5px,#ff7878 157.5px)"></i><i style="left:135px;background:linear-gradient(#ffa5a5 0.5px,#ffa5a5 25.5px,#ffadad 40.5px,#ffc4c4 56.5px,#fff7f7 69.5px,#fff9f9 90.5px,#fff3f3 92.5px,#ffd4d4 93.5px,#ff5454 95.5px,#ff3b3b 96.5px,#ff3636 113.5px,#ff5f5f 136.5px,#ff7878 157.5px)"></i><b><i style="left:0px;background:linear-gradient(#ffa5a5 0.5px,#ffa9a9 29.5px,#ffb2b2 40.5px,#ffc7c7 54.5px,#fee 63.5px,#fff9f9 67.5px,#fff9f9 89.5px,#fff4f4 90.5px,#ffd4d4 91.5px,#ff8989 92.5px,#ff4c4c 93.5px,#ff3d3d 94.5px,#ff3535 111.5px,#ff6464 137.5px,#ff7c7c 157.5px)"></i><i style="left:6px;background:linear-gradient(#ffa5a5 0.5px,#ffa9a9 29.5px,#ffb2b2 40.5px,#ffc7c7 54.5px,#fff7f7 66.5px,#fff9f9 88.5px,#fff3f3 90.5px,#ffcece 91.5px,#ff8080 92.5px,#ff4848 93.5px,#ff3c3c 94.5px,#ff3535 111.5px,#ff6060 134.5px,#ff8080 157.5px)"></i><i style="left:12px;background:linear-gradient(#ffa5a5 0.5px,#ffa9a9 29.5px,#ffb2b2 40.5px,#ffc8c8 54.5px,#fff7f7 66.5px,#fff9f9 88.5px,#fff1f1 90.5px,#ffc7c7 91.5px,#ff7878 92.5px,#ff4646 93.5px,#ff3c3c 94.5px,#ff3636 111.5px,#ff6161 134.5px,#f77 150.5px,#ff8a8a 157.5px)"></i><i style="left:18px;background:linear-gradient(#ffa5a5 0.5px,#ffa9a9 29.5px,#ffb2b2 40.5px,#ffc8c8 54.5px,#fff7f7 66.5px,#fff9f9 88.5px,#fff8f8 89.5px,#fee 90.5px,#ffbcbc 91.5px,#ff6c6c 92.5px,#ff4242 93.5px,#ff3c3c 94.5px,#ff3636 111.5px,#ff7d7d 149.5px,#ff7575 157.5px)"></i><i style="left:24px;background:linear-gradient(#ffa5a5 0.5px,#ffa9a9 29.5px,#ffb2b2 40.5px,#ffc8c8 54.5px,#fff8f8 66.5px,#fff9f9 88.5px,#fff8f8 89.5px,#ffe8e8 90.5px,#ffadad 91.5px,#ff6060 92.5px,#ff3f3f 93.5px,#ff3d3d 94.5px,#ff3535 110.5px,#ff7474 141.5px,#ff6e6e 149.5px,#ff7575 157.5px)"></i><i style="left:30px;background:linear-gradient(#ffa5a5 0.5px,#ffadad 35.5px,#ffc5c5 53.5px,#fff8f8 66.5px,#fff9f9 88.5px,#fff6f6 89.5px,#ffdfdf 90.5px,#ff5454 92.5px,#ff3e3e 93.5px,#ff3636 110.5px,#ff7070 135.5px,#ff6767 143.5px,#ff7575 157.5px)"></i><i style="left:36px;background:linear-gradient(#ffa5a5 0.5px,#ffadad 35.5px,#ffc3c3 52.5px,#fff8f8 66.5px,#fff9f9 88.5px,#fff3f3 89.5px,#ffcece 90.5px,#ff8080 91.5px,#ff4848 92.5px,#ff3d3d 93.5px,#ff3636 109.5px,#ff4949 118.5px,#ff6b6b 128.5px,#ff5e5e 137.5px,#ff7575 157.5px)"></i><i style="left:42px;background:linear-gradient(#ffa5a5 0.5px,#ffadad 35.5px,#ffc6c6 53.5px,#fff8f8 66.5px,#fff9f9 87.5px,#fff8f8 88.5px,#ffe9e9 89.5px,#ffafaf 90.5px,#ff6161 91.5px,#ff4040 92.5px,#ff3d3d 93.5px,#ff3535 107.5px,#ff4747 114.5px,#ff6969 122.5px,#ff5353 130.5px,#f77 157.5px)"></i><i style="left:48px;background:linear-gradient(#ffa5a5 0.5px,#ffa9a9 29.5px,#ffb1b1 39.5px,#ffc6c6 53.5px,#fff9f9 66.5px,#fff9f9 86.5px,#fff2f2 88.5px,#ffcbcb 89.5px,#ff7c7c 90.5px,#ff4747 91.5px,#ff3d3d 92.5px,#ff3737 105.5px,#ff4343 109.5px,#ff6767 116.5px,#ff6363 118.5px,#ff4a4a 122.5px,#ff4747 124.5px,#ff6868 143.5px,#f77 157.5px)"></i><i style="left:54px;background:linear-gradient(#ffa5a5 0.5px,#ffa9a9 29.5px,#ffb1b1 39.5px,#ffc7c7 53.5px,#fff7f7 65.5px,#fff8f9 86.5px,#fef2f3 87.5px,#fdcdcf 88.5px,#fd8082 89.5px,#fe4849 90.5px,#ff3c3c 91.5px,#ff3737 101.5px,#f44 104.5px,#ff6969 110.5px,#ff6363 112.5px,#ff4343 116.5px,#ff3f3f 119.5px,#ff6464 140.5px,#f77 157.5px)"></i><i style="left:60px;background:linear-gradient(#ffa5a5 0.5px,#ffa9a9 29.5px,#ffb5b5 43.5px,#ffcaca 54.5px,#fff8f8 65.5px,#faf5f9 79.5px,#f1ebfa 83.5px,#e3defa 85.5px,#ccc3f4 86.5px,#9989e9 87.5px,#5f52e7 88.5px,#443be8 89.5px,#6338c9 90.5px,#b5377c 91.5px,#f03643 92.5px,#fe3637 93.5px,#ff4040 97.5px,#ff6565 103.5px,#ff6b6b 105.5px,#ff6161 107.5px,#ff4141 110.5px,#ff3838 114.5px,#ff6464 140.5px,#f77 157.5px)"></i><i style="left:66px;background:linear-gradient(#ffa5a5 0.5px,#ffa9a9 29.5px,#ffb6b6 43.5px,#ffcbcb 54.5px,#fff7f7 64.5px,#fcf6f9 76.5px,#f1ecfa 81.5px,#ece6fa 82.5px,#ded8f8 83.5px,#beb0ef 84.5px,#9078df 85.5px,#8252c6 86.5px,#aa4a99 87.5px,#de4d6b 88.5px,#f85056 89.5px,#fe5455 90.5px,#ff7878 100.5px,#ff6d6d 102.5px,#ff3b3b 106.5px,#ff3535 108.5px,#ff3636 114.5px,#ff6565 140.5px,#f77 157.5px)"></i><i style="left:72px;background:linear-gradient(#ffa5a5 0.5px,#ffa9a9 29.5px,#ffb2b2 39.5px,#ffc9c9 53.5px,#fff8f8 64.5px,#fff9f9 78.5px,#fff7f7 79.5px,#ffebeb 80.5px,#ff9191 83.5px,#ff8484 84.5px,#ff8484 85.5px,#ff9d9d 88.5px,#ffa5a5 90.5px,#ffacac 95.5px,#ffa8a8 97.5px,#ff9f9f 98.5px,#ff5252 101.5px,#ff4040 102.5px,#ff3535 104.5px,#ff3636 114.5px,#ff6060 137.5px,#f77 157.5px)"></i><i style="left:78px;background:linear-gradient(#ffa5a5 0.5px,#ffa9a9 29.5px,#ffb5b5 42.5px,#ffcaca 53.5px,#fff8f8 63.5px,#fff9f9 72.5px,#fff1f1 75.5px,#ffaeae 78.5px,#ffa3a3 80.5px,#ffb5b5 84.5px,#ffeded 90.5px,#fff5f5 93.5px,#fff0f0 94.5px,#ffe0e0 95.5px,#ffa1a1 97.5px,#ff5454 99.5px,#ff3e3e 100.5px,#ff3737 101.5px,#ff3636 114.5px,#ff6363 139.5px,#ff7878 157.5px)"></i><i style="left:84px;background:linear-gradient(#ffa5a5 0.5px,#ffa9a9 28.5px,#ffb5b5 42.5px,#ffc9c9 52.5px,#fff2f2 60.5px,#fff9f9 64.5px,#fff6f6 69.5px,#ffecec 70.5px,#ffaeae 73.5px,#ffa8a8 75.5px,#ffbaba 78.5px,#ffe9e9 82.5px,#fff7f7 84.5px,#fff9f9 92.5px,#fff2f2 94.5px,#ffd7d7 95.5px,#ff7474 97.5px,#ff4c4c 98.5px,#ff3a3a 99.5px,#ff3636 100.5px,#ff3535 113.5px,#ff6363 139.5px,#ff7878 157.5px)"></i><i style="left:90px;background:linear-gradient(#ffa5a5 0.5px,#ffa9a9 28.5px,#ffb6b6 42.5px,#ffc9c9 51.5px,#ffefef 58.5px,#fff8f8 61.5px,#fff5f5 63.5px,#ffebeb 64.5px,#ffb4b4 67.5px,#ffacac 69.5px,#ffbaba 72.5px,#ffecec 77.5px,#fff7f7 79.5px,#fff9f9 92.5px,#fff7f7 93.5px,#ffe8e8 94.5px,#ffbcbc 95.5px,#ff8282 96.5px,#ff5252 97.5px,#ff3b3b 98.5px,#ff3636 99.5px,#ff3535 113.5px,#ff6161 137.5px,#ff7878 157.5px)"></i><i style="left:96px;background:linear-gradient(#ffa5a5 0.5px,#ffa9a9 28.5px,#ffb6b6 41.5px,#ffc6c6 49.5px,#ffe8e8 56.5px,#ffdede 58.5px,#ffb5b5 61.5px,#ffaeae 63.5px,#ffc3c3 68.5px,#fff6f6 75.5px,#fff9f9 91.5px,#fff4f4 93.5px,#ffdada 94.5px,#f66 96.5px,#ff4242 97.5px,#ff3737 98.5px,#ff3535 113.5px,#ff6464 139.5px,#ff7878 157.5px)"></i><i style="left:102px;background:linear-gradient(#ffa5a5 0.5px,#ffaeae 33.5px,#fbb 43.5px,#ffcece 50.5px,#ffcaca 52.5px,#ffb2b2 55.5px,#ffaeae 57.5px,#ffc4c4 64.5px,#fff7f7 73.5px,#fff9f9 91.5px,#ffefef 93.5px,#ffcbcb 94.5px,#ff5454 96.5px,#ff3b3b 97.5px,#ff3737 98.5px,#ff3535 113.5px,#ff6464 139.5px,#ff7878 157.5px)"></i><i style="left:108px;background:linear-gradient(#ffa5a5 0.5px,#ffa9a9 27.5px,#ffc0c0 44.5px,#ffabab 51.5px,#ffc4c4 61.5px,#ffefef 69.5px,#fff8f8 72.5px,#fff9f9 91.5px,#fff8f8 92.5px,#ffeaea 93.5px,#ffbdbd 94.5px,#ff7a7a 95.5px,#ff4949 96.5px,#ff3939 97.5px,#ff3535 113.5px,#ff6464 139.5px,#ff7878 157.5px)"></i><i style="left:114px;background:linear-gradient(#ffa5a5 0.5px,#ffa9a9 26.5px,#ffb8b8 38.5px,#faa 46.5px,#ffc7c7 60.5px,#fff8f8 71.5px,#fff9f9 91.5px,#fff7f7 92.5px,#ffe5e5 93.5px,#ffb0b0 94.5px,#ff6d6d 95.5px,#ff4343 96.5px,#ff3838 97.5px,#ff3c3c 100.5px,#ff3535 113.5px,#ff5f5f 136.5px,#ff7878 157.5px)"></i><i style="left:120px;background:linear-gradient(#ffa5a5 0.5px,#ffa9a9 24.5px,#ffb1b1 32.5px,#faa 42.5px,#ffc5c5 58.5px,#fff7f7 70.5px,#fff9f9 91.5px,#fff6f6 92.5px,#ffe0e0 93.5px,#ff6363 95.5px,#ff3f3f 96.5px,#ff3838 97.5px,#ff3d3d 100.5px,#ff3636 113.5px,#ff5f5f 136.5px,#ff7878 157.5px)"></i><i style="left:126px;background:linear-gradient(#ffa5a5 0.5px,#ffadad 26.5px,#ffa9a9 38.5px,#ffc2c2 56.5px,#fff8f8 70.5px,#fff9f9 91.5px,#fff5f5 92.5px,#ffdbdb 93.5px,#ff5c5c 95.5px,#ff3d3d 96.5px,#ff3838 97.5px,#ff3d3d 100.5px,#ff3636 113.5px,#ff5f5f 136.5px,#ff7878 157.5px)"></i><i style="left:132px;background:linear-gradient(#ffa5a5 0.5px,#ffa9a9 36.5px,#ffc4c4 56.5px,#fff9f9 70.5px,#fff9f9 91.5px,#fff4f4 92.5px,#ffd6d6 93.5px,#ff5656 95.5px,#ff3c3c 96.5px,#ff3939 97.5px,#ff3636 113.5px,#ff5f5f 136.5px,#ff7878 157.5px)"></i><i style="left:138px;background:linear-gradient(#ffa5a5 0.5px,#ffa5a5 24.5px,#ffaeae 40.5px,#ffc5c5 56.5px,#fff8f8 69.5px,#fff9f9 90.5px,#fff3f3 92.5px,#ffd2d2 93.5px,#ff5252 95.5px,#ff3b3b 96.5px,#ff3636 113.5px,#ff5f5f 136.5px,#ff7878 157.5px)"></i></b></div>
<div class="p" style="left:489px;top:207px"><i style="left:-3px;background:linear-gradient(#ffa5a5 0.5px,#ffadad 34.5px,#ffc6c6 52.5px,#fff9f9 65.5px,#fff9f9 87.5px,#fff8f8 88.5px,#ffecec 89.5px,#ffb5b5 90.5px,#ff6464 91.5px,#ff4141 92.5px,#ff3d3d 93.5px,#ff3535 110.5px,#ff6161 134.5px,#ff7d7d 157.5px)"></i><i style="left:3px;background:linear-gradient(#ffa5a5 0.5px,#ffa9a9 28.5px,#ffb1b1 38.5px,#ffc7c7 52.5px,#fff9f9 65.5px,#fff9f9 87.5px,#fff8f8 88.5px,#ffe9e9 89.5px,#ffabab 90.5px,#ff5d5d 91.5px,#ff4040 92.5px,#ff3d3d 93.5px,#ff3535 110.5px,#ff6464 136.5px,#ff8080 157.5px)"></i><i style="left:9px;background:linear-gradient(#ffa5a5 0.5px,#ffa9a9 28.5px,#ffb1b1 38.5px,#ffc7c7 52.5px,#fff9f9 65.5px,#fff9f9 87.5px,#fff7f7 88.5px,#ffe3e3 89.5px,#f55 91.5px,#ff3f3f 92.5px,#ff3d3d 93.5px,#ff3535 110.5px,#ff8686 157.5px)"></i><i style="left:15px;background:linear-gradient(#ffa5a5 0.5px,#ffa9a9 28.5px,#ffb1b1 38.5px,#ffc7c7 52.5px,#fff7f7 64.5px,#fff9f9 87.5px,#fff6f6 88.5px,#ffdcdc 89.5px,#ff9090 90.5px,#ff4e4e 91.5px,#ff3e3e 92.5px,#ff3535 105.5px,#ff3636 110.5px,#ff6060 132.5px,#ff7676 148.5px,#ff9696 157.5px)"></i><i style="left:21px;background:linear-gradient(#ffa5a5 0.5px,#ffa9a9 28.5px,#ffb1b1 38.5px,#ffc7c7 52.5px,#fff7f7 64.5px,#fff9f9 87.5px,#fff4f4 88.5px,#ffcfcf 89.5px,#ff7d7d 90.5px,#ff4747 91.5px,#ff3d3d 92.5px,#ff3636 110.5px,#ff7575 144.5px,#ff8d8d 151.5px,#f77 157.5px)"></i><i style="left:27px;background:linear-gradient(#ffa5a5 0.5px,#ffa9a9 28.5px,#ffb2b2 38.5px,#ffc8c8 52.5px,#fff8f8 64.5px,#fff9f9 86.5px,#fff9f9 87.5px,#ffefef 88.5px,#fbb 89.5px,#ff6969 90.5px,#ff4242 91.5px,#ff3d3d 92.5px,#ff3636 109.5px,#ff8383 144.5px,#ff7171 150.5px,#ff7575 157.5px)"></i><i style="left:33px;background:linear-gradient(#ffa5a5 0.5px,#ffa9a9 28.5px,#ffb2b2 38.5px,#ffc8c8 52.5px,#fff8f8 64.5px,#fdf7f9 86.5px,#fcf5f8 87.5px,#f9e0e6 88.5px,#f25460 90.5px,#f73f46 91.5px,#ff3d3d 93.5px,#ff3535 108.5px,#ff4747 117.5px,#ff7c7c 137.5px,#ff6969 145.5px,#ff7575 157.5px)"></i><i style="left:39px;background:linear-gradient(#ffa5a5 0.5px,#ffa9a9 27.5px,#ffb2b2 38.5px,#ffc8c8 52.5px,#fff8f8 64.5px,#fbf5f9 80.5px,#eee9fa 85.5px,#e7e3fa 86.5px,#d8d2f9 87.5px,#afa3ef 88.5px,#7162e6 89.5px,#453eea 90.5px,#3837ef 91.5px,#3737f0 92.5px,#3a37ee 93.5px,#4d39dd 94.5px,#893ba9 95.5px,#d43d65 96.5px,#f83d43 97.5px,#ff3c3d 98.5px,#ff3535 102.5px,#ff3737 108.5px,#ff4747 115.5px,#f77 130.5px,#ff6161 139.5px,#ff7575 157.5px)"></i><i style="left:45px;background:linear-gradient(#ffa5a5 0.5px,#ffa9a9 27.5px,#ffb2b2 38.5px,#ffc6c6 51.5px,#fff9f9 64.5px,#faf4f9 80.5px,#f0ebfa 84.5px,#e0dbfa 86.5px,#c4bbf4 87.5px,#8b7ce8 88.5px,#5348e7 89.5px,#3b39ee 90.5px,#3737f0 93.5px,#3b37ed 95.5px,#5c39d0 96.5px,#ad3b87 97.5px,#ee3b4b 98.5px,#fe393a 99.5px,#ff3535 104.5px,#ff3b3b 108.5px,#ff7575 123.5px,#ff7474 125.5px,#ff5f5f 129.5px,#ff5858 132.5px,#ff7575 157.5px)"></i><i style="left:51px;background:linear-gradient(#ffa5a5 0.5px,#ffa9a9 27.5px,#ffb5b5 41.5px,#ffc9c9 52.5px,#fff8f8 63.5px,#faf5f9 79.5px,#f1ebfa 83.5px,#e3defa 85.5px,#cbc4f6 86.5px,#5c4fe6 88.5px,#3d3aed 89.5px,#3737f0 92.5px,#3837ef 94.5px,#4938e1 95.5px,#883aa8 96.5px,#d93a5d 97.5px,#fa373c 98.5px,#ff3636 99.5px,#ff3636 103.5px,#ff3f3f 106.5px,#ff7676 117.5px,#ff7373 119.5px,#ff5252 124.5px,#ff4d4d 127.5px,#f77 157.5px)"></i><i style="left:57px;background:linear-gradient(#ffa5a5 0.5px,#ffa9a9 27.5px,#ffb5b5 41.5px,#ffcaca 52.5px,#fff8f8 63.5px,#faf4f9 78.5px,#f0ebfa 82.5px,#e1dcfa 84.5px,#c6bdf4 85.5px,#8f7fe8 86.5px,#564ae7 87.5px,#3c39ee 88.5px,#3737f0 90.5px,#3937ee 92.5px,#4e38dc 93.5px,#8e39a2 94.5px,#d9385b 95.5px,#fa363b 96.5px,#ff3535 97.5px,#ff4141 102.5px,#ff7a7a 111.5px,#f77 113.5px,#ff4c4c 118.5px,#f44 121.5px,#ff6868 143.5px,#f77 157.5px)"></i><i style="left:63px;background:linear-gradient(#ffa5a5 0.5px,#ffa9a9 27.5px,#ffb6b6 41.5px,#ffcbcb 52.5px,#fff7f7 62.5px,#fbf5f9 76.5px,#f1ecfa 80.5px,#e5e0fa 82.5px,#d1cbf7 83.5px,#a496ec 84.5px,#6858e5 85.5px,#423ceb 86.5px,#3837ef 87.5px,#3837f0 88.5px,#3e37ea 89.5px,#5e38cd 90.5px,#e33651 92.5px,#fb363a 93.5px,#ff3838 94.5px,#ff4b4b 98.5px,#ff8484 106.5px,#ff7c7c 108.5px,#ff4545 113.5px,#ff3d3d 117.5px,#ff6464 140.5px,#f77 157.5px)"></i><i style="left:69px;background:linear-gradient(#ffa5a5 0.5px,#ffa9a9 27.5px,#ffb6b6 41.5px,#ffc9c9 51.5px,#fff8f8 62.5px,#faf4f9 74.5px,#f0ebfa 78.5px,#dfdaf9 80.5px,#c2b9f3 81.5px,#8c7de9 82.5px,#564be8 83.5px,#3f3aeb 84.5px,#4a38df 85.5px,#7938b4 86.5px,#be3975 87.5px,#ed3b4c 88.5px,#fd4042 89.5px,#ff7373 97.5px,#ff9696 101.5px,#ff9898 102.5px,#ff9191 103.5px,#ff4545 108.5px,#ff3939 111.5px,#ff3939 116.5px,#ff6060 137.5px,#f77 157.5px)"></i><i style="left:75px;background:linear-gradient(#ffa5a5 0.5px,#ffa9a9 27.5px,#ffb5b5 40.5px,#ffcbcb 51.5px,#fff8f8 61.5px,#fbf5f9 70.5px,#efeafa 75.5px,#e8e3fa 76.5px,#d8d2f8 77.5px,#b5aaf0 78.5px,#8671e2 79.5px,#774ac8 80.5px,#9e4099 81.5px,#d64268 82.5px,#f54952 83.5px,#fe5254 84.5px,#ff9a9a 92.5px,#ffa9a9 97.5px,#ffa6a6 99.5px,#ff9d9d 100.5px,#ff4848 104.5px,#ff3636 107.5px,#ff3535 113.5px,#ff6060 137.5px,#ff7878 157.5px)"></i><i style="left:81px;background:linear-gradient(#ffa5a5 0.5px,#ffa9a9 26.5px,#ffb6b6 40.5px,#ffcaca 50.5px,#fff8f8 60.5px,#fef8f9 71.5px,#fef6f8 72.5px,#fcecef 73.5px,#f4c8d1 74.5px,#ed90a0 75.5px,#f26874 76.5px,#fb5a5e 77.5px,#fe5c5d 78.5px,#ff6565 79.5px,#ff8f8f 82.5px,#ffa3a3 84.5px,#ffd3d3 94.5px,#ffc5c5 96.5px,#ffa4a4 98.5px,#ff4f4f 101.5px,#ff3f3f 102.5px,#ff3535 104.5px,#ff3535 113.5px,#ff6363 139.5px,#ff7878 157.5px)"></i><i style="left:87px;background:linear-gradient(#ffa5a5 0.5px,#ffa9a9 26.5px,#ffb6b6 40.5px,#ffc9c9 49.5px,#fff7f7 58.5px,#fff9f9 66.5px,#fff0f0 68.5px,#ffd8d8 69.5px,#ff8a8a 71.5px,#ff7676 72.5px,#ff7474 73.5px,#ffa2a2 77.5px,#ffc2c2 82.5px,#fff2f2 87.5px,#fff9f9 92.5px,#fff2f2 94.5px,#ffdede 95.5px,#ffbfbf 96.5px,#f55 99.5px,#ff4040 100.5px,#ff3535 102.5px,#ff3535 113.5px,#ff6161 137.5px,#ff7878 157.5px)"></i><i style="left:93px;background:linear-gradient(#ffa5a5 0.5px,#ffa9a9 26.5px,#ffb6b6 39.5px,#ffcaca 48.5px,#fff7f7 56.5px,#fff9f9 60.5px,#fff5f5 62.5px,#ffe9e9 63.5px,#f99 66.5px,#ff8f8f 67.5px,#ffbcbc 75.5px,#ffeaea 80.5px,#fff6f6 82.5px,#fff9f9 92.5px,#fff7f7 93.5px,#ffeaea 94.5px,#ffcaca 95.5px,#ff7272 97.5px,#ff4e4e 98.5px,#ff3c3c 99.5px,#ff3636 100.5px,#ff3636 113.5px,#ff6464 139.5px,#ff7878 157.5px)"></i><i style="left:99px;background:linear-gradient(#ffa5a5 0.5px,#ffa9a9 25.5px,#ffb6b6 38.5px,#ffc8c8 46.5px,#fff0f0 52.5px,#fff8f8 55.5px,#ffebeb 57.5px,#ffacac 60.5px,#ffa3a3 62.5px,#ffacac 66.5px,#ffbebe 70.5px,#ffeded 76.5px,#fff7f7 78.5px,#fff9f9 91.5px,#fff3f3 93.5px,#ffdcdc 94.5px,#ff5252 97.5px,#ff3c3c 98.5px,#ff3636 99.5px,#ff3636 113.5px,#ff5f5f 136.5px,#ff7878 157.5px)"></i><i style="left:105px;background:linear-gradient(#ffa5a5 0.5px,#ffa9a9 25.5px,#ffb6b6 37.5px,#ffc9c9 44.5px,#ffebeb 49.5px,#ffe2e2 51.5px,#ffaeae 54.5px,#ffa6a6 57.5px,#ffc1c1 66.5px,#fff7f7 75.5px,#fff9f9 91.5px,#fff8f8 92.5px,#ffeded 93.5px,#ffcaca 94.5px,#ff6060 96.5px,#ff4141 97.5px,#ff3737 98.5px,#ff3636 113.5px,#ff5f5f 136.5px,#ff7878 157.5px)"></i><i style="left:111px;background:linear-gradient(#ffa5a5 0.5px,#ffaeae 29.5px,#ffbaba 37.5px,#ffd2d2 44.5px,#ffcece 45.5px,#ffadad 48.5px,#ffa6a6 51.5px,#ffc4c4 63.5px,#fff7f7 73.5px,#fff9f9 91.5px,#fff6f6 92.5px,#ffe5e5 93.5px,#ffb7b7 94.5px,#ff7c7c 95.5px,#ff4e4e 96.5px,#ff3a3a 97.5px,#ff3636 98.5px,#ff3636 113.5px,#ff6464 139.5px,#ff7878 157.5px)"></i><i style="left:117px;background:linear-gradient(#ffa5a5 0.5px,#ffa9a9 23.5px,#ffc2c2 38.5px,#ffa7a7 43.5px,#ffa6a6 45.5px,#ffc2c2 60.5px,#fff8f8 72.5px,#fff9f9 91.5px,#fff4f4 92.5px,#ffdcdc 93.5px,#ff6a6a 95.5px,#ff4343 96.5px,#ff3838 97.5px,#ff3636 113.5px,#ff6464 139.5px,#ff7878 157.5px)"></i><i style="left:123px;background:linear-gradient(#ffa5a5 0.5px,#ffa9a9 21.5px,#ffb9b9 32.5px,#ffa7a7 37.5px,#faa 44.5px,#ffc5c5 59.5px,#fff8f8 71.5px,#fff9f9 90.5px,#fff2f2 92.5px,#ffd2d2 93.5px,#ff5c5c 95.5px,#ff3e3e 96.5px,#ff3737 97.5px,#ff3636 113.5px,#ff6060 136.5px,#ff7878 157.5px)"></i><i style="left:129px;background:linear-gradient(#ffa5a5 0.5px,#ffa9a9 19.5px,#ffb3b3 26.5px,#ffa5a5 32.5px,#ffa9a9 40.5px,#ffc3c3 57.5px,#fff8f8 70.5px,#fff9f9 90.5px,#ffefef 92.5px,#ffc9c9 93.5px,#ff8989 94.5px,#ff5252 95.5px,#ff3b3b 96.5px,#ff3737 97.5px,#ff3636 113.5px,#ff6060 136.5px,#ff7878 157.5px)"></i><i style="left:135px;background:linear-gradient(#ffa5a5 0.5px,#ffadad 20.5px,#ffa5a5 26.5px,#faa 38.5px,#ffc3c3 56.5px,#fff8f8 70.5px,#fff9f9 90.5px,#fff8f8 91.5px,#ffecec 92.5px,#ffc0c0 93.5px,#ff7d7d 94.5px,#ff4b4b 95.5px,#ff3939 96.5px,#ff3535 112.5px,#ff6060 136.5px,#ff7878 157.5px)"></i><b><i style="left:0px;background:linear-gradient(#ffa5a5 0.5px,#ffa9a9 28.5px,#ffb1b1 38.5px,#ffc7c7 52.5px,#fff9f9 65.5px,#fff9f9 87.5px,#fff8f8 88.5px,#ffebeb 89.5px,#ffafaf 90.5px,#ff6060 91.5px,#ff4040 92.5px,#ff3d3d 93.5px,#ff3535 110.5px,#ff6464 136.5px,#ff7e7e 157.5px)"></i><i style="left:6px;background:linear-gradient(#ffa5a5 0.5px,#ffa9a9 28.5px,#ffb1b1 38.5px,#ffc4c4 51.5px,#fff9f9 65.5px,#fff9f9 87.5px,#fff8f8 88.5px,#ffe7e7 89.5px,#ffa6a6 90.5px,#ff5a5a 91.5px,#ff3f3f 92.5px,#ff3d3d 93.5px,#ff3535 110.5px,#ff6060 133.5px,#ff8282 157.5px)"></i><i style="left:12px;background:linear-gradient(#ffa5a5 0.5px,#ffa9a9 28.5px,#ffb1b1 38.5px,#ffcaca 53.5px,#fff7f7 64.5px,#fff9f9 87.5px,#fff7f7 88.5px,#ffdfdf 89.5px,#ff5151 91.5px,#ff3e3e 92.5px,#ff3636 110.5px,#ff6161 133.5px,#ff7878 150.5px,#ff8d8d 157.5px)"></i><i style="left:18px;background:linear-gradient(#ffa5a5 0.5px,#ffa9a9 28.5px,#ffb1b1 38.5px,#ffc7c7 52.5px,#fff7f7 64.5px,#fff9f9 87.5px,#fff5f5 88.5px,#ffd4d4 89.5px,#ff8484 90.5px,#ff4a4a 91.5px,#ff3e3e 92.5px,#ff3636 110.5px,#ff7676 146.5px,#ff9292 154.5px,#ff8a8a 157.5px)"></i><i style="left:24px;background:linear-gradient(#ffa5a5 0.5px,#ffaeae 34.5px,#ffc3c3 50.5px,#fff8f8 64.5px,#fff9f9 86.5px,#fff1f1 88.5px,#ffc4c4 89.5px,#ff7171 90.5px,#f44 91.5px,#ff3d3d 92.5px,#ff3535 109.5px,#ff7373 141.5px,#ff8787 147.5px,#ff7474 153.5px,#ff7575 157.5px)"></i><i style="left:30px;background:linear-gradient(#ffa5a5 0.5px,#ffa9a9 28.5px,#ffb2b2 38.5px,#ffc8c8 52.5px,#fff8f8 64.5px,#fff9f9 86.5px,#fff8f8 87.5px,#ffeaea 88.5px,#ffacac 89.5px,#ff5e5e 90.5px,#ff4040 91.5px,#ff3d3d 92.5px,#ff3636 109.5px,#ff7f7f 140.5px,#ff6d6d 147.5px,#ff7575 157.5px)"></i><i style="left:36px;background:linear-gradient(#ffa5a5 0.5px,#ffa9a9 27.5px,#ffb2b2 38.5px,#ffc8c8 52.5px,#fff8f8 64.5px,#faf4f9 81.5px,#efeafa 85.5px,#ded9f9 87.5px,#bcb2f2 88.5px,#8270e5 89.5px,#5143e4 90.5px,#4a39e0 91.5px,#663ac7 92.5px,#d73d62 94.5px,#f63d45 95.5px,#fe3d3e 96.5px,#ff3636 108.5px,#ff7a7a 134.5px,#ff6565 142.5px,#ff7575 157.5px)"></i><i style="left:42px;background:linear-gradient(#ffa5a5 0.5px,#ffa9a9 27.5px,#ffb5b5 41.5px,#ffc9c9 52.5px,#fff8f9 64.5px,#fbf5f9 80.5px,#f1ecfa 84.5px,#e5e0fa 86.5px,#d0c9f7 87.5px,#9f91eb 88.5px,#6254e6 89.5px,#3f3bec 90.5px,#3737f0 92.5px,#3837ef 94.5px,#4438e5 95.5px,#7c3bb4 96.5px,#cf3d69 97.5px,#f83c42 98.5px,#ff3a3a 99.5px,#ff3535 105.5px,#ff3b3b 109.5px,#f77 127.5px,#ff5d5d 135.5px,#ff7575 157.5px)"></i><i style="left:48px;background:linear-gradient(#ffa5a5 0.5px,#ffa9a9 27.5px,#ffb5b5 41.5px,#ffc9c9 52.5px,#fff7f7 63.5px,#fbf5f9 79.5px,#eee9fa 84.5px,#e8e3fa 85.5px,#d9d3f9 86.5px,#b2a6ef 87.5px,#7464e5 88.5px,#463fea 89.5px,#3938ef 90.5px,#3737f0 92.5px,#3c37ec 95.5px,#6139cc 96.5px,#b43b80 97.5px,#f03947 98.5px,#fe3738 99.5px,#ff3535 103.5px,#ff3c3c 107.5px,#ff7575 120.5px,#ff7474 122.5px,#ff5b5b 126.5px,#ff5353 129.5px,#f77 157.5px)"></i><i style="left:54px;background:linear-gradient(#ffa5a5 0.5px,#ffa9a9 27.5px,#ffb5b5 41.5px,#ffcaca 52.5px,#fff8f8 63.5px,#fbf5f9 78.5px,#eee9fa 83.5px,#e8e3fa 84.5px,#dad4f9 85.5px,#b4a8f0 86.5px,#7767e6 87.5px,#4840ea 88.5px,#3938ef 89.5px,#3737f0 91.5px,#3837ef 93.5px,#4638e3 94.5px,#7e3ab1 95.5px,#cf3966 96.5px,#f8373e 97.5px,#ff3536 98.5px,#ff3f3f 104.5px,#f77 114.5px,#ff7474 116.5px,#ff4f4f 121.5px,#ff4949 124.5px,#f77 157.5px)"></i><i style="left:60px;background:linear-gradient(#ffa5a5 0.5px,#ffa9a9 27.5px,#ffb6b6 41.5px,#ffcbcb 52.5px,#fff7f7 62.5px,#fbf5f9 77.5px,#f1ecfa 81.5px,#e4dffa 83.5px,#cfc8f6 84.5px,#9e8feb 85.5px,#6254e5 86.5px,#403bec 87.5px,#3737f0 89.5px,#4037e8 91.5px,#6938c3 92.5px,#b5387d 93.5px,#ed3647 94.5px,#fd3537 95.5px,#ff4040 99.5px,#f77 107.5px,#ff7f7f 109.5px,#ff7575 111.5px,#ff4b4b 115.5px,#ff4141 119.5px,#ff6868 143.5px,#f77 157.5px)"></i><i style="left:66px;background:linear-gradient(#ffa5a5 0.5px,#ffa9a9 27.5px,#ffb6b6 41.5px,#ffc9c9 51.5px,#fff8f8 62.5px,#fbf5f9 75.5px,#f1ecfa 79.5px,#e4dffa 81.5px,#cec7f6 82.5px,#9e90eb 83.5px,#6355e6 84.5px,#413cec 85.5px,#3937ef 86.5px,#4037e8 87.5px,#6338c8 88.5px,#e33751 90.5px,#fb393d 91.5px,#ff3d3d 92.5px,#ff8c8c 104.5px,#ff7d7d 106.5px,#ff4848 110.5px,#ff3a3a 114.5px,#ff6464 140.5px,#f77 157.5px)"></i><i style="left:72px;background:linear-gradient(#ffa5a5 0.5px,#ffa9a9 27.5px,#ffb6b6 41.5px,#ffcaca 51.5px,#fff7f7 61.5px,#fbf5f9 72.5px,#f2ecfa 76.5px,#e5e0fa 78.5px,#d2ccf7 79.5px,#a79cef 80.5px,#6f61e7 81.5px,#5141e2 82.5px,#6639c7 83.5px,#dd3e5e 85.5px,#f8454b 86.5px,#fe4d4e 87.5px,#ffa3a3 99.5px,#ff9e9e 101.5px,#ff6464 104.5px,#ff4545 106.5px,#ff3939 108.5px,#ff3535 110.5px,#ff3e3e 119.5px,#ff6767 142.5px,#f77 157.5px)"></i><i style="left:78px;background:linear-gradient(#ffa5a5 0.5px,#ffa9a9 27.5px,#ffb5b5 40.5px,#fcc 51.5px,#fff7f7 60.5px,#f6f1f9 73.5px,#f1ecf9 74.5px,#e3dbf6 75.5px,#c6b1e7 76.5px,#ad79c6 77.5px,#b85395 78.5px,#dd4969 79.5px,#f64d55 80.5px,#fe5657 81.5px,#ff9c9c 87.5px,#ffb7b7 95.5px,#ffacac 98.5px,#ff9f9f 99.5px,#ff5252 102.5px,#ff4242 103.5px,#ff3636 105.5px,#ff3535 113.5px,#ff6363 139.5px,#ff7878 157.5px)"></i><i style="left:84px;background:linear-gradient(#ffa5a5 0.5px,#ffa9a9 26.5px,#ffb6b6 40.5px,#ffcbcb 50.5px,#fff8f8 59.5px,#fff9f9 69.5px,#fff6f6 70.5px,#ffe7e7 71.5px,#ffc3c3 72.5px,#ff9393 73.5px,#ff7272 74.5px,#ff6767 75.5px,#ff7676 77.5px,#ffa0a0 80.5px,#ffbdbd 85.5px,#ffeaea 90.5px,#fff3f3 93.5px,#fee 94.5px,#ffdfdf 95.5px,#ffaeae 97.5px,#ff5050 100.5px,#ff3f3f 101.5px,#ff3535 103.5px,#ff3535 113.5px,#ff6161 137.5px,#ff7878 157.5px)"></i><i style="left:90px;background:linear-gradient(#ffa5a5 0.5px,#ffa9a9 26.5px,#ffb5b5 39.5px,#ffcbcb 49.5px,#fff7f7 57.5px,#fff9f9 63.5px,#fff4f4 65.5px,#ffe4e4 66.5px,#ffa0a0 68.5px,#ff8686 69.5px,#ff7f7f 70.5px,#ff9e9e 73.5px,#ffc4c4 79.5px,#fff4f4 84.5px,#fff9f9 92.5px,#fff0f0 94.5px,#ffd6d6 95.5px,#ff6060 98.5px,#ff4545 99.5px,#ff3535 101.5px,#ff3535 113.5px,#ff6464 139.5px,#ff7878 157.5px)"></i><i style="left:96px;background:linear-gradient(#ffa5a5 0.5px,#ffa9a9 26.5px,#ffb7b7 39.5px,#ffc9c9 47.5px,#fff4f4 54.5px,#fff9f9 57.5px,#fff6f6 59.5px,#ffebeb 60.5px,#ffa6a6 63.5px,#ff9c9c 65.5px,#fbb 72.5px,#ffeded 78.5px,#fff7f7 80.5px,#fff9f9 92.5px,#fff6f6 93.5px,#ffe4e4 94.5px,#ffbdbd 95.5px,#ff6060 97.5px,#ff4343 98.5px,#ff3838 99.5px,#ff3535 100.5px,#ff3636 113.5px,#ff6464 139.5px,#ff7878 157.5px)"></i><i style="left:102px;background:linear-gradient(#ffa5a5 0.5px,#ffa9a9 25.5px,#ffb7b7 38.5px,#ffc8c8 45.5px,#fff4f4 52.5px,#ffe9e9 54.5px,#ffaeae 57.5px,#ffa6a6 60.5px,#ffc1c1 68.5px,#fff6f6 76.5px,#fff9f9 91.5px,#fff1f1 93.5px,#ffd3d3 94.5px,#ff6d6d 96.5px,#ff4848 97.5px,#ff3939 98.5px,#ff3636 99.5px,#ff3636 113.5px,#ff5f5f 136.5px,#ff7878 157.5px)"></i><i style="left:108px;background:linear-gradient(#ffa5a5 0.5px,#ffa9a9 24.5px,#ffb2b2 33.5px,#ffc2c2 41.5px,#ffdfdf 47.5px,#ffd9d9 48.5px,#ffaeae 51.5px,#ffa6a6 54.5px,#ffc1c1 64.5px,#fff7f7 74.5px,#fff9f9 91.5px,#fff7f7 92.5px,#ffe9e9 93.5px,#ffc0c0 94.5px,#ff5656 96.5px,#ff3d3d 97.5px,#ff3636 98.5px,#ff3636 113.5px,#ff6464 139.5px,#ff7878 157.5px)"></i><i style="left:114px;background:linear-gradient(#ffa5a5 0.5px,#faa 24.5px,#ffb6b6 34.5px,#ffc9c9 41.5px,#ffacac 45.5px,#ffa6a6 48.5px,#ffc5c5 62.5px,#fff7f7 72.5px,#fff9f9 91.5px,#fff5f5 92.5px,#ffe1e1 93.5px,#ffafaf 94.5px,#ff7272 95.5px,#ff4848 96.5px,#ff3838 97.5px,#ff3636 113.5px,#ff6464 139.5px,#ff7878 157.5px)"></i><i style="left:120px;background:linear-gradient(#ffa5a5 0.5px,#ffa9a9 22.5px,#ffbdbd 35.5px,#ffa7a7 40.5px,#ffa6a6 42.5px,#ffc2c2 59.5px,#fff7f7 71.5px,#fff9f9 90.5px,#fff3f3 92.5px,#ffd7d7 93.5px,#ff6262 95.5px,#ff4040 96.5px,#ff3737 97.5px,#ff3636 113.5px,#ff6464 139.5px,#ff7878 157.5px)"></i><i style="left:126px;background:linear-gradient(#ffa5a5 0.5px,#ffa9a9 20.5px,#ffb5b5 29.5px,#ffa5a5 35.5px,#ffa9a9 42.5px,#ffc4c4 58.5px,#fff9f9 71.5px,#fff9f9 90.5px,#fff0f0 92.5px,#ffcece 93.5px,#ff5656 95.5px,#ff3c3c 96.5px,#ff3737 97.5px,#ff3636 113.5px,#ff6060 136.5px,#ff7878 157.5px)"></i><i style="left:132px;background:linear-gradient(#ffa5a5 0.5px,#ffb0b0 23.5px,#ffa5a5 29.5px,#faa 39.5px,#ffc4c4 57.5px,#fff8f8 70.5px,#fff9f9 90.5px,#fff8f8 91.5px,#ffeded 92.5px,#ffc4c4 93.5px,#ff8282 94.5px,#ff4e4e 95.5px,#ff3a3a 96.5px,#ff3535 112.5px,#ff6060 136.5px,#ff7878 157.5px)"></i><i style="left:138px;background:linear-gradient(#ffa5a5 0.5px,#ffacac 17.5px,#ffa5a5 27.5px,#ffaeae 41.5px,#ffc6c6 57.5px,#fff7f7 69.5px,#fff9f9 90.5px,#fff8f8 91.5px,#ffeaea 92.5px,#ffbcbc 93.5px,#ff7878 94.5px,#ff4848 95.5px,#ff3939 96.5px,#ff3535 112.5px,#ff6060 136.5px,#ff7878 157.5px)"></i></b></div>
<div class="p" style="left:43px;top:374px;background:linear-gradient(#d02f05 0.5px,#b21a01 30.5px,#ac1701 50.5px,#af1901 61.5px,#c12302 69.5px,#d33205 74.5px,#e84c0d 79.5px,#f8741c 83.5px,#fbae34 87.5px,#ead038 89.5px,#d5e238 90.5px,#b5f13e 91.5px,#85f759 92.5px,#4def89 93.5px,#2ae1b3 94.5px,#28e1b4 95.5px,#4aef8c 96.5px,#7ff85c 97.5px,#aef43f 98.5px,#cee837 99.5px,#e3d938 100.5px,#f7bd38 102.5px,#fda531 104.5px,#f46516 111.5px,#e3430a 119.5px,#c82903 136.5px,#c12302 157.5px)"></div>
<div class="p" style="left:192px;top:374px"><i style="left:-3px;background:linear-gradient(#d02f05 0.5px,#af1801 38.5px,#af1801 60.5px,#bf2202 68.5px,#d43306 74.5px,#e94e0d 79.5px,#f9771e 83.5px,#fab336 87.5px,#e5d638 89.5px,#cde838 90.5px,#a7f542 91.5px,#70f669 92.5px,#3ce3a5 93.5px,#28cfd0 94.5px,#2dd7c1 95.5px,#50ef88 96.5px,#89f854 97.5px,#b7f23b 98.5px,#d4e437 99.5px,#e7d538 100.5px,#f9ba38 102.5px,#fea230 104.5px,#f46516 111.5px,#eb500e 115.5px,#e14109 120.5px,#c82803 136.5px,#c12302 157.5px)"></i><i style="left:3px;background:linear-gradient(#d02f05 0.5px,#af1801 38.5px,#af1801 60.5px,#bf2202 68.5px,#d43306 74.5px,#ea4e0d 79.5px,#f9771e 83.5px,#fab436 87.5px,#e4d738 89.5px,#cce838 90.5px,#a6f543 91.5px,#6ef66a 92.5px,#3ae3a6 93.5px,#26d0ce 94.5px,#2dd9be 95.5px,#52f085 96.5px,#8bf952 97.5px,#b8f23b 98.5px,#d5e437 99.5px,#e7d438 100.5px,#f9b937 102.5px,#fea230 104.5px,#fa7b1f 108.5px,#f15e13 112.5px,#e14109 120.5px,#c82803 136.5px,#c12302 157.5px)"></i><i style="left:9px;background:linear-gradient(#d02f05 0.5px,#af1801 38.5px,#af1801 60.5px,#c22403 69.5px,#d43306 74.5px,#ea4e0d 79.5px,#f66b19 82.5px,#fd942a 85.5px,#fab436 87.5px,#e4d738 89.5px,#cbe938 90.5px,#a4f644 91.5px,#6cf56c 92.5px,#39e3a7 93.5px,#26d1cd 94.5px,#2ddbba 95.5px,#55f182 96.5px,#8ef850 97.5px,#baf13a 98.5px,#d6e337 99.5px,#e8d439 100.5px,#f9b937 102.5px,#fea130 104.5px,#fa7a1f 108.5px,#f15e13 112.5px,#e14109 120.5px,#c82803 136.5px,#c12302 157.5px)"></i><i style="left:15px;background:linear-gradient(#d02f05 0.5px,#af1801 38.5px,#af1801 60.5px,#c22403 69.5px,#d43306 74.5px,#ea4f0e 79.5px,#f9791f 83.5px,#fab536 87.5px,#e3d838 89.5px,#caea38 90.5px,#a2f645 91.5px,#6af56e 92.5px,#37e3a8 93.5px,#25d3cb 94.5px,#2fddb6 95.5px,#59f27d 96.5px,#92f84e 97.5px,#bcf13a 98.5px,#d7e237 99.5px,#e9d339 100.5px,#fab837 102.5px,#fe962b 105.5px,#f8721c 109.5px,#ef5811 113.5px,#e6480b 117.5px,#d43305 127.5px,#c82903 136.5px,#c32503 153.5px,#cd2d04 157.5px)"></i><i style="left:21px;background:linear-gradient(#d02f05 0.5px,#af1801 38.5px,#af1801 60.5px,#c22403 69.5px,#d53306 74.5px,#ea4f0e 79.5px,#fa7a1f 83.5px,#f9b636 87.5px,#e2d938 89.5px,#c8eb38 90.5px,#a0f746 91.5px,#67f570 92.5px,#35e3a9 93.5px,#23d5c9 94.5px,#30e0b0 95.5px,#5df479 96.5px,#96f84b 97.5px,#bff039 98.5px,#d9e137 99.5px,#ead239 100.5px,#fab737 102.5px,#fe952b 105.5px,#f8711b 109.5px,#e84b0c 116.5px,#d93807 124.5px,#cb2a04 134.5px,#c52603 146.5px,#d63506 151.5px,#c12302 157.5px)"></i><i style="left:27px;background:linear-gradient(#d02f05 0.5px,#af1801 38.5px,#af1801 60.5px,#c22403 69.5px,#d93807 75.5px,#ea500e 79.5px,#fa7a1f 83.5px,#f9b737 87.5px,#e0da38 89.5px,#c6ec38 90.5px,#9df748 91.5px,#64f573 92.5px,#32e3ab 93.5px,#23d8c5 94.5px,#33e4a9 95.5px,#63f572 96.5px,#9bf848 97.5px,#c2ee38 98.5px,#dbdf37 99.5px,#ecd039 100.5px,#fab537 102.5px,#f7701b 109.5px,#e84b0c 116.5px,#d63506 126.5px,#c82803 137.5px,#ca2a04 140.5px,#de3e08 144.5px,#c52603 149.5px,#c12302 157.5px)"></i><i style="left:33px;background:linear-gradient(#d02f05 0.5px,#af1801 38.5px,#af1801 60.5px,#c22403 69.5px,#d93807 75.5px,#ea500e 79.5px,#f66e1a 82.5px,#fd982c 85.5px,#f9b837 87.5px,#dfdc38 89.5px,#c3ed39 90.5px,#99f74a 91.5px,#5ff476 92.5px,#2fe4ab 93.5px,#22dcbf 94.5px,#38e8a0 95.5px,#6cf76a 96.5px,#a1f744 97.5px,#c6ec38 98.5px,#dedd37 99.5px,#edce39 100.5px,#fbb336 102.5px,#f76f1a 109.5px,#e84b0c 116.5px,#db3a07 123.5px,#cf2e04 132.5px,#d43406 134.5px,#e64b0d 137.5px,#ce2e04 141.5px,#c72703 143.5px,#c12302 157.5px)"></i><i style="left:39px;background:linear-gradient(#d02f05 0.5px,#af1801 38.5px,#af1801 60.5px,#c02202 68.5px,#d53406 74.5px,#eb510e 79.5px,#f7701b 82.5px,#fcaa33 86.5px,#eecc39 88.5px,#dcde37 89.5px,#c0ee3a 90.5px,#94f84d 91.5px,#5af47a 92.5px,#2ce5ab 93.5px,#23e1b7 94.5px,#40ed94 95.5px,#77f861 96.5px,#aaf640 97.5px,#cce937 98.5px,#e2da38 99.5px,#f8bd38 101.5px,#fda531 103.5px,#f46717 110.5px,#e3440a 118.5px,#da3907 126.5px,#dd3e09 127.5px,#f16215 130.5px,#ef5e14 131.5px,#d63606 134.5px,#cc2c04 136.5px,#c12302 157.5px)"></i><i style="left:45px;background:linear-gradient(#d02f05 0.5px,#af1801 38.5px,#af1801 60.5px,#c32403 69.5px,#d63406 74.5px,#eb510e 79.5px,#fd8c27 84.5px,#f7bd38 87.5px,#d9e037 89.5px,#baf13b 90.5px,#8cf952 91.5px,#53f47f 92.5px,#2ae8a9 93.5px,#29e8aa 94.5px,#50f382 95.5px,#88f954 96.5px,#b5f33c 97.5px,#d3e537 98.5px,#e7d538 99.5px,#f9b937 101.5px,#fea12f 103.5px,#f46416 110.5px,#e5460b 117.5px,#e64a0c 120.5px,#eb5812 121.5px,#f88323 123.5px,#f98423 124.5px,#e4480c 127.5px,#d33205 130.5px,#c52603 140.5px,#c12302 157.5px)"></i><i style="left:51px;background:linear-gradient(#d02f05 0.5px,#af1801 38.5px,#af1801 60.5px,#c32503 69.5px,#da3907 75.5px,#ec530f 79.5px,#f8731c 82.5px,#fbb035 86.5px,#e8d238 88.5px,#d3e437 89.5px,#b2f33d 90.5px,#82f958 91.5px,#4cf484 92.5px,#2deda0 93.5px,#3cf192 94.5px,#a0f845 96.5px,#c5ed38 97.5px,#dedd37 98.5px,#f7be38 100.5px,#fda531 102.5px,#f9751d 107.5px,#ef5a11 112.5px,#ef5c12 113.5px,#f16817 114.5px,#f2a12b 116.5px,#f3b131 117.5px,#f7a62e 118.5px,#f36b19 120.5px,#ec5610 121.5px,#e14109 123.5px,#d83707 126.5px,#c62703 139.5px,#c12302 157.5px)"></i><i style="left:57px;background:linear-gradient(#d02f05 0.5px,#af1801 38.5px,#af1901 60.5px,#c32503 69.5px,#db3a07 75.5px,#ed5410 79.5px,#f9761d 82.5px,#fab536 86.5px,#e2d838 88.5px,#caea38 89.5px,#a6f742 90.5px,#78fb5d 91.5px,#51f87c 92.5px,#4cf780 93.5px,#6efa65 94.5px,#9cf946 95.5px,#c1ee38 96.5px,#dbdf37 97.5px,#f6c139 99.5px,#fda832 101.5px,#fc8624 105.5px,#fa8925 107.5px,#f69929 108.5px,#dad134 110.5px,#d6dc36 111.5px,#e3cc35 112.5px,#f3ac2f 113.5px,#f6711b 115.5px,#ed5510 117.5px,#e7490c 119.5px,#d93807 125.5px,#cb2b04 134.5px,#c12302 157.5px)"></i><i style="left:63px;background:linear-gradient(#d02f05 0.5px,#af1801 39.5px,#b01901 60.5px,#c42503 69.5px,#d83606 74.5px,#e94e0d 78.5px,#f66e1a 81.5px,#fcac33 85.5px,#ebd038 87.5px,#bff137 89.5px,#94fd47 91.5px,#94fd47 92.5px,#bdf237 94.5px,#e2db38 96.5px,#f2c93a 98.5px,#f6c139 100.5px,#ebcc39 102.5px,#a9f541 105.5px,#b2f23e 106.5px,#d0e039 107.5px,#ecc436 108.5px,#f9a830 109.5px,#fc9129 110.5px,#f8721c 112.5px,#ef5811 115.5px,#e74a0c 118.5px,#d93807 125.5px,#cb2b04 134.5px,#c12302 157.5px)"></i><i style="left:69px;background:linear-gradient(#d02f05 0.5px,#af1801 39.5px,#af1801 59.5px,#bf2202 67.5px,#d43306 73.5px,#ec520f 78.5px,#f9761e 81.5px,#fca932 84.5px,#f1c939 86.5px,#e0dd37 88.5px,#e9d439 94.5px,#dddf37 96.5px,#cee837 97.5px,#b1f140 98.5px,#55f37f 100.5px,#4cf384 101.5px,#76f664 102.5px,#b0ef44 103.5px,#d9dc39 104.5px,#f0c738 105.5px,#fda330 107.5px,#fa7b20 110.5px,#f36115 113.5px,#e2420a 120.5px,#c82903 136.5px,#c12302 157.5px)"></i><i style="left:75px;background:linear-gradient(#d02f05 0.5px,#af1801 39.5px,#af1901 59.5px,#bd2002 66.5px,#d23105 72.5px,#e6480b 76.5px,#f56a18 79.5px,#fda832 83.5px,#fda932 85.5px,#fd942a 88.5px,#fe9d2e 90.5px,#fab536 92.5px,#f2c538 93.5px,#e1d838 94.5px,#beeb3e 95.5px,#85ed60 96.5px,#4dc79a 97.5px,#3aa0bd 98.5px,#42bead 99.5px,#6feb73 100.5px,#aaf245 101.5px,#d2e438 102.5px,#e9d239 103.5px,#fbb235 105.5px,#fd8b27 108.5px,#f76e1a 111.5px,#e84b0c 117.5px,#da3907 124.5px,#cb2a04 134.5px,#c12302 157.5px)"></i><i style="left:81px;background:linear-gradient(#d02f05 0.5px,#af1801 39.5px,#af1901 58.5px,#bf2202 66.5px,#dd3d08 73.5px,#f9761d 78.5px,#f9781e 79.5px,#ec5510 82.5px,#ea4f0e 83.5px,#ed5610 85.5px,#f97a1f 88.5px,#f9b435 91.5px,#edca38 92.5px,#d4e139 93.5px,#a6f048 94.5px,#67e378 95.5px,#3da4a0 96.5px,#3582a6 97.5px,#40bb9e 98.5px,#6fee6d 99.5px,#a8f443 100.5px,#cee738 101.5px,#e5d638 102.5px,#f9b837 104.5px,#fe9e2e 106.5px,#f8741d 110.5px,#f15e13 113.5px,#e84b0c 117.5px,#d83706 125.5px,#cb2a04 134.5px,#c12302 157.5px)"></i><i style="left:87px;background:linear-gradient(#d02f05 0.5px,#b51c01 27.5px,#af1801 41.5px,#af1901 55.5px,#b91e02 63.5px,#cd2d04 68.5px,#e84d0d 73.5px,#d23206 76.5px,#cf2e04 78.5px,#e4460b 82.5px,#f36315 85.5px,#fd9129 88.5px,#f8b736 90.5px,#edcc38 91.5px,#d6e138 92.5px,#aef143 93.5px,#72ed6c 94.5px,#41bc9f 95.5px,#3681ab 96.5px,#38a0ab 97.5px,#55e087 98.5px,#8ef653 99.5px,#bdef3a 100.5px,#dae037 101.5px,#f5c139 103.5px,#fda732 105.5px,#fa7b20 109.5px,#f36416 112.5px,#e14209 120.5px,#c82903 136.5px,#c12302 157.5px)"></i><i style="left:93px;background:linear-gradient(#d02f05 0.5px,#b21a01 31.5px,#af1801 50.5px,#b71d02 60.5px,#d53406 67.5px,#bc2102 70.5px,#ba1f02 72.5px,#d23105 77.5px,#eb510e 82.5px,#f7711b 85.5px,#fbb135 89.5px,#e2d838 91.5px,#c5eb3a 92.5px,#94f550 93.5px,#58e286 94.5px,#39a6b3 95.5px,#3788bb 96.5px,#3dbdab 97.5px,#66ee76 98.5px,#9ef648 99.5px,#c6ec38 100.5px,#dfdc37 101.5px,#eecc39 102.5px,#fbb135 104.5px,#f8721c 110.5px,#e74b0c 117.5px,#cb2a04 134.5px,#c12302 157.5px)"></i><i style="left:99px;background:linear-gradient(#d02f05 0.5px,#b21a01 32.5px,#b21a01 52.5px,#b81d02 56.5px,#c72803 60.5px,#ac1701 65.5px,#b61c02 69.5px,#d33205 76.5px,#e94e0d 81.5px,#f9781e 85.5px,#f8b937 89.5px,#eecb38 90.5px,#dadf38 91.5px,#b9f03d 92.5px,#84f45c 93.5px,#4cda98 94.5px,#39a1c6 95.5px,#3898ca 96.5px,#42cfa7 97.5px,#71f36a 98.5px,#a8f542 99.5px,#cce937 100.5px,#e2d938 101.5px,#f0ca39 102.5px,#fcb035 104.5px,#f8711b 110.5px,#e74a0c 117.5px,#cb2a04 134.5px,#c12302 157.5px)"></i><i style="left:105px;background:linear-gradient(#d02f05 0.5px,#b21a01 32.5px,#b21a01 47.5px,#c22403 54.5px,#aa1601 58.5px,#a61401 60.5px,#ba1f02 69.5px,#d13005 75.5px,#e74a0c 80.5px,#f7701b 84.5px,#fcac33 88.5px,#ebcf38 90.5px,#d5e238 91.5px,#b0f240 92.5px,#79f365 93.5px,#46d4a4 94.5px,#39a0d1 95.5px,#38a5cf 96.5px,#47d9a0 97.5px,#7af562 98.5px,#aef43f 99.5px,#cfe737 100.5px,#e4d738 101.5px,#f8bb38 103.5px,#fea330 105.5px,#fb8223 108.5px,#f36215 112.5px,#e14209 120.5px,#c82903 136.5px,#c12302 157.5px)"></i><i style="left:111px;background:linear-gradient(#d02f05 0.5px,#b21a01 33.5px,#b31a01 42.5px,#be2102 48.5px,#aa1601 52.5px,#a71401 54.5px,#b11a01 65.5px,#ca2a04 73.5px,#e4450a 79.5px,#f56817 83.5px,#fd9e2e 87.5px,#f5c038 89.5px,#e8d238 90.5px,#d1e538 91.5px,#aaf442 92.5px,#71f26b 93.5px,#42d0ad 94.5px,#38a2d8 95.5px,#38aed0 96.5px,#4bdf99 97.5px,#80f65d 98.5px,#b2f33e 99.5px,#d2e637 100.5px,#e6d638 101.5px,#f2c739 102.5px,#fcae34 104.5px,#fb8222 108.5px,#f56918 111.5px,#e3440a 119.5px,#cb2a04 134.5px,#c12302 157.5px)"></i><i style="left:117px;background:linear-gradient(#d02f05 0.5px,#b51b01 28.5px,#b51b01 37.5px,#bc2002 42.5px,#aa1601 47.5px,#aa1601 59.5px,#b31a01 65.5px,#cb2b04 73.5px,#e4460b 79.5px,#f56818 83.5px,#fda02f 87.5px,#f4c238 89.5px,#e6d538 90.5px,#cee738 91.5px,#a6f445 92.5px,#6cf171 93.5px,#3fceb3 94.5px,#38a4dc 95.5px,#38b5ce 96.5px,#4ee494 97.5px,#85f759 98.5px,#b5f33c 99.5px,#d3e537 100.5px,#e7d538 101.5px,#f2c739 102.5px,#fcad34 104.5px,#fb8122 108.5px,#f56818 111.5px,#e3440a 119.5px,#cb2a04 134.5px,#c12302 157.5px)"></i><i style="left:123px;background:linear-gradient(#d02f05 0.5px,#b71d02 26.5px,#bb1f02 36.5px,#ac1701 41.5px,#ac1701 60.5px,#b61c02 66.5px,#cc2c04 73.5px,#e5470b 79.5px,#f66a19 83.5px,#fda230 87.5px,#f3c438 89.5px,#e5d638 90.5px,#cbe838 91.5px,#a2f546 92.5px,#68f075 93.5px,#3eccb8 94.5px,#38a6df 95.5px,#38bacd 96.5px,#51e68f 97.5px,#88f756 98.5px,#b7f23b 99.5px,#d5e437 100.5px,#e8d438 101.5px,#fdac34 104.5px,#f56818 111.5px,#e3440a 119.5px,#cb2a04 134.5px,#c12302 157.5px)"></i><i style="left:129px;background:linear-gradient(#d02f05 0.5px,#ba1f02 24.5px,#bb2002 30.5px,#b11a01 33.5px,#ac1701 39.5px,#ac1701 60.5px,#b61c02 66.5px,#cc2c04 73.5px,#e5470b 79.5px,#f66b19 83.5px,#fda330 87.5px,#f2c538 89.5px,#e3d738 90.5px,#c9e938 91.5px,#9ff648 92.5px,#65ef78 93.5px,#3ccabb 94.5px,#37a7e0 95.5px,#38becb 96.5px,#53e98c 97.5px,#8bf754 98.5px,#b9f13b 99.5px,#d6e337 100.5px,#e8d339 101.5px,#fdac34 104.5px,#f56818 111.5px,#e3440a 119.5px,#cb2a04 134.5px,#c12302 157.5px)"></i><i style="left:135px;background:linear-gradient(#d02f05 0.5px,#c02302 23.5px,#af1901 32.5px,#ac1701 59.5px,#b41b01 65.5px,#c92903 72.5px,#e6480b 79.5px,#f66b19 83.5px,#fda431 87.5px,#f2c638 89.5px,#e2d838 90.5px,#c8ea39 91.5px,#9cf649 92.5px,#62ee7b 93.5px,#3bc9be 94.5px,#37a9e2 95.5px,#38c2c9 96.5px,#56ea88 97.5px,#8ef852 98.5px,#bbf13a 99.5px,#d7e337 100.5px,#e9d339 101.5px,#fdab33 104.5px,#fb8022 108.5px,#f56817 111.5px,#e3440a 119.5px,#cb2a04 134.5px,#c12302 157.5px)"></i><b><i style="left:0px;background:linear-gradient(#d02f05 0.5px,#af1801 38.5px,#af1801 60.5px,#bf2202 68.5px,#d43306 74.5px,#e94e0d 79.5px,#f9771e 83.5px,#fab436 87.5px,#e5d638 89.5px,#cde838 90.5px,#a7f543 91.5px,#6ff66a 92.5px,#3be3a6 93.5px,#27cfcf 94.5px,#2dd8bf 95.5px,#52ef87 96.5px,#8af853 97.5px,#b8f23b 98.5px,#d4e437 99.5px,#e7d538 100.5px,#f9ba38 102.5px,#fea230 104.5px,#f46516 111.5px,#eb500e 115.5px,#e14109 120.5px,#c82803 136.5px,#c12302 157.5px)"></i><i style="left:6px;background:linear-gradient(#d02f05 0.5px,#af1801 38.5px,#af1801 60.5px,#bf2202 68.5px,#d43306 74.5px,#ea4e0d 79.5px,#f9781e 83.5px,#fab436 87.5px,#e4d738 89.5px,#cce938 90.5px,#a5f644 91.5px,#6ef66b 92.5px,#3ae3a6 93.5px,#26d1ce 94.5px,#2ddabc 95.5px,#54f083 96.5px,#8df951 97.5px,#b9f23a 98.5px,#d6e337 99.5px,#e8d438 100.5px,#f9b937 102.5px,#fea230 104.5px,#fa7a1f 108.5px,#f46416 111.5px,#e2430a 119.5px,#c82803 136.5px,#c12302 157.5px)"></i><i style="left:12px;background:linear-gradient(#d02f05 0.5px,#af1801 38.5px,#af1801 60.5px,#c22403 69.5px,#d43306 74.5px,#ea4f0e 79.5px,#f66c19 82.5px,#fd952b 85.5px,#fab536 87.5px,#e3d838 89.5px,#cae938 90.5px,#a4f644 91.5px,#6bf56d 92.5px,#38e3a8 93.5px,#25d2cc 94.5px,#2edcb8 95.5px,#57f180 96.5px,#90f94f 97.5px,#bbf13a 98.5px,#d7e337 99.5px,#e8d339 100.5px,#fab837 102.5px,#fe962b 105.5px,#f8721c 109.5px,#e84c0c 116.5px,#d93807 124.5px,#cb2a04 134.5px,#c12402 157.5px)"></i><i style="left:18px;background:linear-gradient(#d02f05 0.5px,#af1801 38.5px,#af1801 60.5px,#c22403 69.5px,#d53306 74.5px,#ea4f0e 79.5px,#fa791f 83.5px,#fab636 87.5px,#e2d938 89.5px,#c9ea38 90.5px,#a1f646 91.5px,#69f56f 92.5px,#36e3a9 93.5px,#24d4ca 94.5px,#2fdfb3 95.5px,#5bf37b 96.5px,#93f84d 97.5px,#bdf039 98.5px,#d8e137 99.5px,#ead239 100.5px,#fab737 102.5px,#fe952b 105.5px,#f8711b 109.5px,#e84c0c 116.5px,#d93807 124.5px,#c82903 136.5px,#c32503 149.5px,#d23105 154.5px,#ca2a04 157.5px)"></i><i style="left:24px;background:linear-gradient(#d02f05 0.5px,#af1801 38.5px,#af1801 60.5px,#c22403 69.5px,#d93807 75.5px,#ea4f0e 79.5px,#fa7a1f 83.5px,#f9b736 87.5px,#e1da38 89.5px,#c7eb38 90.5px,#9ff747 91.5px,#66f571 92.5px,#34e3aa 93.5px,#23d6c7 94.5px,#31e2ad 95.5px,#60f475 96.5px,#98f84a 97.5px,#c0ef39 98.5px,#dae037 99.5px,#ebd139 100.5px,#fab637 102.5px,#f8711b 109.5px,#e84b0c 116.5px,#d43305 127.5px,#c62703 140.5px,#c72803 143.5px,#d93907 148.5px,#c52603 152.5px,#c12302 157.5px)"></i><i style="left:30px;background:linear-gradient(#d02f05 0.5px,#af1801 38.5px,#af1801 60.5px,#c22403 69.5px,#d93807 75.5px,#ea500e 79.5px,#fa7a1f 83.5px,#f9b837 87.5px,#e0db38 89.5px,#c5ec39 90.5px,#9bf749 91.5px,#62f474 92.5px,#31e4ab 93.5px,#22dac3 94.5px,#35e6a5 95.5px,#67f66f 96.5px,#9ef846 97.5px,#c4ed38 98.5px,#ddde37 99.5px,#eccf39 100.5px,#fbb436 102.5px,#f7701b 109.5px,#e84b0c 116.5px,#db3a07 123.5px,#cb2b04 134.5px,#ce2e04 137.5px,#e1420a 140.5px,#e1430a 141.5px,#c62703 146.5px,#c12302 157.5px)"></i><i style="left:36px;background:linear-gradient(#d02f05 0.5px,#af1801 38.5px,#af1801 60.5px,#bf2202 68.5px,#d53406 74.5px,#eb500e 79.5px,#f76e1a 82.5px,#fda932 86.5px,#efcb39 88.5px,#dedd37 89.5px,#c2ee39 90.5px,#96f84b 91.5px,#5df478 92.5px,#2ee5ab 93.5px,#22debc 94.5px,#3beb9a 95.5px,#71f866 96.5px,#a5f742 97.5px,#c9eb37 98.5px,#e0dc38 99.5px,#f7bf38 101.5px,#fda632 103.5px,#fb7f21 107.5px,#f26115 111.5px,#e24209 119.5px,#d43306 129.5px,#db3d08 131.5px,#ea5310 133.5px,#eb5410 134.5px,#d53506 137.5px,#c82803 140.5px,#c12302 157.5px)"></i><i style="left:42px;background:linear-gradient(#d02f05 0.5px,#af1801 38.5px,#af1801 60.5px,#c02202 68.5px,#d53406 74.5px,#eb510e 79.5px,#fa7d21 83.5px,#fcab33 86.5px,#edcd39 88.5px,#dbdf37 89.5px,#bdef3a 90.5px,#90f84f 91.5px,#56f47d 92.5px,#2be6aa 93.5px,#25e4b1 94.5px,#47f08c 95.5px,#7ff95b 96.5px,#aff53e 97.5px,#cfe837 98.5px,#e4d838 99.5px,#f8bb38 101.5px,#fea330 103.5px,#f46516 110.5px,#e3440a 118.5px,#e04109 123.5px,#e4490c 124.5px,#f36c1a 126.5px,#f6731c 127.5px,#f36818 128.5px,#e1440b 130.5px,#cf2e04 133.5px,#c62703 140.5px,#c12302 157.5px)"></i><i style="left:48px;background:linear-gradient(#d02f05 0.5px,#af1801 38.5px,#af1801 60.5px,#c32403 69.5px,#da3907 75.5px,#eb520f 79.5px,#f46516 81.5px,#fd8e28 84.5px,#f6bf38 87.5px,#d6e237 89.5px,#b7f23c 90.5px,#87f954 91.5px,#4ff482 92.5px,#2aeaa6 93.5px,#30eca0 94.5px,#5cf676 95.5px,#93f94d 96.5px,#bdf03a 97.5px,#d8e137 98.5px,#ead239 99.5px,#fab537 101.5px,#f9781e 107.5px,#ec530f 113.5px,#e94d0d 115.5px,#ec5711 117.5px,#f99a2c 120.5px,#fa952a 121.5px,#e84e0e 124.5px,#d83706 127.5px,#c62703 139.5px,#c12302 157.5px)"></i><i style="left:54px;background:linear-gradient(#d02f05 0.5px,#af1801 38.5px,#af1901 60.5px,#c02302 68.5px,#d23105 73.5px,#e84b0c 78.5px,#f56817 81.5px,#fda130 85.5px,#f4c338 87.5px,#e6d538 88.5px,#cfe737 89.5px,#adf53f 90.5px,#7cfa5c 91.5px,#4af583 92.5px,#37f295 93.5px,#4ff67f 94.5px,#82fa57 95.5px,#b0f43e 96.5px,#d0e737 97.5px,#e5d738 98.5px,#f9b937 100.5px,#fea02f 102.5px,#fa7a1f 106.5px,#f66b19 109.5px,#f56f1a 110.5px,#f57e1f 111.5px,#e8bb30 113.5px,#e7c834 114.5px,#efb832 115.5px,#f69829 116.5px,#f16115 118.5px,#eb520f 119.5px,#e3440a 121.5px,#cb2b04 134.5px,#c12302 157.5px)"></i><i style="left:60px;background:linear-gradient(#d02f05 0.5px,#af1801 38.5px,#af1901 60.5px,#c32503 69.5px,#d73606 74.5px,#e94d0d 78.5px,#f66b19 81.5px,#fda832 85.5px,#efca39 87.5px,#dedd37 88.5px,#c4ed38 89.5px,#a1f943 90.5px,#7cfc59 91.5px,#68fc67 92.5px,#74fc5f 93.5px,#b9f23a 95.5px,#e6d638 97.5px,#f8bd38 99.5px,#fdab33 101.5px,#fda330 103.5px,#fba731 104.5px,#f4b433 105.5px,#cae139 107.5px,#c1ec39 108.5px,#d0e038 109.5px,#e8c535 110.5px,#f7a52e 111.5px,#fa8925 112.5px,#f46617 114.5px,#e84b0c 118.5px,#d93807 125.5px,#cc2c04 133.5px,#c12302 157.5px)"></i><i style="left:66px;background:linear-gradient(#d02f05 0.5px,#af1801 39.5px,#af1801 59.5px,#be2102 67.5px,#cf2f05 72.5px,#e6480b 77.5px,#f36416 80.5px,#fda12f 84.5px,#f3c438 86.5px,#d6e436 88.5px,#bbf435 90.5px,#bcf436 91.5px,#e2dc38 95.5px,#e5d838 98.5px,#dddd38 99.5px,#cbe73a 100.5px,#8bf853 102.5px,#84fb55 103.5px,#a0f547 104.5px,#cae53b 105.5px,#e8cd38 106.5px,#f8b535 107.5px,#fd9028 109.5px,#f9761d 111.5px,#f15c13 114.5px,#e94d0d 117.5px,#db3a07 124.5px,#cb2b04 134.5px,#c12302 157.5px)"></i><i style="left:72px;background:linear-gradient(#d02f05 0.5px,#af1801 39.5px,#af1801 59.5px,#bf2202 67.5px,#d63406 73.5px,#e84d0d 77.5px,#f26115 79.5px,#fd9028 82.5px,#fbb235 84.5px,#f5c43a 86.5px,#f9ba38 91.5px,#f4c63a 93.5px,#dcde38 95.5px,#beed3d 96.5px,#8df25a 97.5px,#54e295 98.5px,#36d1c0 99.5px,#41dea7 100.5px,#78f169 101.5px,#b4ee41 102.5px,#dadd38 103.5px,#efca39 104.5px,#fdaa33 106.5px,#fb8323 109.5px,#f56717 112.5px,#ea500e 116.5px,#e24209 120.5px,#c82903 136.5px,#c12302 157.5px)"></i><i style="left:78px;background:linear-gradient(#d02f05 0.5px,#af1801 39.5px,#af1801 58.5px,#bd2102 66.5px,#d02f05 71.5px,#e4460b 75.5px,#ef5a12 77.5px,#fc8825 80.5px,#fd9229 81.5px,#fd9129 82.5px,#f7701b 85.5px,#f7711b 87.5px,#fc8524 89.5px,#fca732 91.5px,#f6bb37 92.5px,#e7d138 93.5px,#c7e73c 94.5px,#90ef57 95.5px,#53cd8b 96.5px,#388fa5 97.5px,#399ca6 98.5px,#58dc85 99.5px,#92f451 100.5px,#c2ec3a 101.5px,#dfdc38 102.5px,#f8bc38 104.5px,#fea130 106.5px,#f9751d 110.5px,#ef5811 114.5px,#e84b0c 117.5px,#d83706 125.5px,#cb2a04 134.5px,#c12302 157.5px)"></i><i style="left:84px;background:linear-gradient(#d02f05 0.5px,#b21a01 31.5px,#af1801 56.5px,#b71d02 63.5px,#cc2c04 69.5px,#de3e08 72.5px,#ec530f 74.5px,#f16115 76.5px,#df4009 79.5px,#dc3c08 81.5px,#e5470b 83.5px,#f46617 86.5px,#fd982c 89.5px,#f3c137 91.5px,#e1d738 92.5px,#c0eb3d 93.5px,#88f15b 94.5px,#4ecf90 95.5px,#378ba7 96.5px,#368ea9 97.5px,#4bd393 98.5px,#81f45d 99.5px,#b5f23d 100.5px,#d5e337 101.5px,#f4c439 103.5px,#fda933 105.5px,#fa7c20 109.5px,#f36416 112.5px,#e14209 120.5px,#c82903 136.5px,#c12302 157.5px)"></i><i style="left:90px;background:linear-gradient(#d02f05 0.5px,#b51c01 27.5px,#af1801 40.5px,#b41b01 60.5px,#c42603 65.5px,#de3e09 70.5px,#c62804 73.5px,#c42603 75.5px,#d83706 79.5px,#ed5510 83.5px,#f9781f 86.5px,#fd992c 88.5px,#f5bf37 90.5px,#e7d338 91.5px,#cce739 92.5px,#9ff44a 93.5px,#63e87b 94.5px,#3caea9 95.5px,#3681b1 96.5px,#3ab0ab 97.5px,#5ee97e 98.5px,#97f64c 99.5px,#c2ed39 100.5px,#ddde37 101.5px,#edce39 102.5px,#fbb336 104.5px,#f8721c 110.5px,#e84b0c 117.5px,#cb2a04 134.5px,#c12302 157.5px)"></i><i style="left:96px;background:linear-gradient(#d02f05 0.5px,#b51c01 27.5px,#af1801 42.5px,#b51c02 57.5px,#cc2c04 64.5px,#b51c02 67.5px,#b61c02 70.5px,#d03005 76.5px,#e84c0d 81.5px,#f8751d 85.5px,#f9b536 89.5px,#f0c838 90.5px,#dedc38 91.5px,#beee3b 92.5px,#8bf556 93.5px,#51de90 94.5px,#39a2be 95.5px,#3790c4 96.5px,#40c7aa 97.5px,#6cf16f 98.5px,#a3f645 99.5px,#c9ea38 100.5px,#e1db38 101.5px,#efcb39 102.5px,#fcb135 104.5px,#f8711b 110.5px,#e74a0c 117.5px,#cb2a04 134.5px,#c12302 157.5px)"></i><i style="left:102px;background:linear-gradient(#d02f05 0.5px,#b21a01 32.5px,#b21a01 50.5px,#c42603 57.5px,#a81501 62.5px,#b81e02 69.5px,#d43306 76.5px,#eb500e 81.5px,#fa7b1f 85.5px,#fd992c 87.5px,#f7bb37 89.5px,#eccd38 90.5px,#d7e138 91.5px,#b4f13e 92.5px,#7ef460 93.5px,#49d79f 94.5px,#39a0cc 95.5px,#389fcd 96.5px,#45d5a3 97.5px,#76f466 98.5px,#abf541 99.5px,#cee837 100.5px,#e3d838 101.5px,#f1c939 102.5px,#fcaf35 104.5px,#f8711b 110.5px,#ea4e0d 116.5px,#da3907 124.5px,#cb2a04 134.5px,#c12302 157.5px)"></i><i style="left:108px;background:linear-gradient(#d02f05 0.5px,#b21a01 32.5px,#b31a01 45.5px,#c02202 51.5px,#a71501 56.5px,#b01901 65.5px,#c62703 72.5px,#e3440a 79.5px,#f46616 83.5px,#fd9c2e 87.5px,#f6bf38 89.5px,#e9d138 90.5px,#d3e438 91.5px,#adf341 92.5px,#75f368 93.5px,#44d2a9 94.5px,#39a1d5 95.5px,#38aad0 96.5px,#49dd9c 97.5px,#7df65f 98.5px,#b0f43e 99.5px,#d1e737 100.5px,#f1c839 102.5px,#fcae34 104.5px,#f56918 111.5px,#e3440a 119.5px,#cb2a04 134.5px,#c12302 157.5px)"></i><i style="left:114px;background:linear-gradient(#d02f05 0.5px,#b21a01 33.5px,#bd2002 45.5px,#aa1601 50.5px,#aa1601 60.5px,#b21a01 65.5px,#c72703 72.5px,#e4460a 79.5px,#f56817 83.5px,#fd9f2f 87.5px,#f5c138 89.5px,#e7d438 90.5px,#cfe638 91.5px,#a8f444 92.5px,#6ff26e 93.5px,#41cfb0 94.5px,#38a3da 95.5px,#38b2cf 96.5px,#4ce296 97.5px,#83f75a 98.5px,#b4f33d 99.5px,#d3e537 100.5px,#e6d538 101.5px,#f2c739 102.5px,#fcad34 104.5px,#fb8222 108.5px,#f56918 111.5px,#e3440a 119.5px,#cb2a04 134.5px,#c12302 157.5px)"></i><i style="left:120px;background:linear-gradient(#d02f05 0.5px,#b41b01 29.5px,#bb1f02 39.5px,#aa1601 45.5px,#aa1601 58.5px,#b31b01 65.5px,#c82803 72.5px,#e5470b 79.5px,#f56a18 83.5px,#fda12f 87.5px,#f4c338 89.5px,#e5d538 90.5px,#cce838 91.5px,#a4f546 92.5px,#6af173 93.5px,#3eccb6 94.5px,#38a5de 95.5px,#38b8cd 96.5px,#50e591 97.5px,#87f757 98.5px,#b6f23c 99.5px,#d4e437 100.5px,#e7d538 101.5px,#f3c639 102.5px,#fdac34 104.5px,#f56818 111.5px,#e3440a 119.5px,#cb2a04 134.5px,#c12302 157.5px)"></i><i style="left:126px;background:linear-gradient(#d02f05 0.5px,#b81d02 26.5px,#bb1f02 33.5px,#ad1701 38.5px,#ac1701 60.5px,#b41b01 65.5px,#cc2c04 73.5px,#e5470b 79.5px,#f66b19 83.5px,#fda230 87.5px,#f3c538 89.5px,#e4d738 90.5px,#cae938 91.5px,#a0f547 92.5px,#66f076 93.5px,#3dcbba 94.5px,#37a7e0 95.5px,#38bccc 96.5px,#52e88d 97.5px,#8af755 98.5px,#b8f23b 99.5px,#d5e337 100.5px,#e8d438 101.5px,#fdac34 104.5px,#f56818 111.5px,#e3440a 119.5px,#cb2a04 134.5px,#c12302 157.5px)"></i><i style="left:132px;background:linear-gradient(#d02f05 0.5px,#bd2002 27.5px,#af1901 32.5px,#ac1701 60.5px,#b61c02 66.5px,#cc2c04 73.5px,#e5480b 79.5px,#f66b19 83.5px,#fda430 87.5px,#f2c538 89.5px,#e3d838 90.5px,#c8ea39 91.5px,#9ef649 92.5px,#63ef79 93.5px,#3ccabd 94.5px,#37a8e1 95.5px,#38c0ca 96.5px,#55e98a 97.5px,#8df852 98.5px,#baf13b 99.5px,#d7e337 100.5px,#e9d339 101.5px,#fdab33 104.5px,#f56817 111.5px,#e3440a 119.5px,#cb2a04 134.5px,#c12302 157.5px)"></i><i style="left:138px;background:linear-gradient(#d02f05 0.5px,#c32503 20.5px,#b51c02 25.5px,#af1801 33.5px,#ac1701 59.5px,#b51b01 65.5px,#c92903 72.5px,#e6480b 79.5px,#f66d1a 83.5px,#fda431 87.5px,#f2c639 89.5px,#e2d938 90.5px,#c7eb39 91.5px,#9cf64a 92.5px,#61ee7c 93.5px,#3bc9bf 94.5px,#37aae2 95.5px,#38c3c8 96.5px,#56eb87 97.5px,#8ef851 98.5px,#bbf13a 99.5px,#d7e237 100.5px,#e9d339 101.5px,#fdab33 104.5px,#fb8022 108.5px,#f56817 111.5px,#e3440a 119.5px,#cb2a04 134.5px,#c12302 157.5px)"></i></b></div>
<div class="p" style="left:341px;top:374px"><i style="left:-3px;background:linear-gradient(#d13005 0.5px,#b51b01 28.5px,#af1801 42.5px,#b21a01 60.5px,#c02302 67.5px,#d13005 72.5px,#e84b0c 77.5px,#f56817 80.5px,#fda531 84.5px,#f1c739 86.5px,#e2d938 87.5px,#c8eb38 88.5px,#a1f745 89.5px,#6bf76a 90.5px,#37ed9a 91.5px,#24e6af 92.5px,#3bee96 93.5px,#70f866 94.5px,#a5f743 95.5px,#c9eb37 96.5px,#e1da38 97.5px,#f8bc38 99.5px,#fea330 101.5px,#fc8524 104.5px,#f36315 109.5px,#e14109 118.5px,#c82803 135.5px,#be2202 157.5px)"></i><i style="left:3px;background:linear-gradient(#d13005 0.5px,#b51b01 28.5px,#af1801 42.5px,#b21a01 60.5px,#c02302 67.5px,#d23105 72.5px,#e84c0c 77.5px,#f56918 80.5px,#fda631 84.5px,#f0c939 86.5px,#e0db38 87.5px,#c6ec38 88.5px,#9ef747 89.5px,#66f76e 90.5px,#34ec9c 91.5px,#25e7ad 92.5px,#40f090 93.5px,#77f961 94.5px,#a9f641 95.5px,#cce937 96.5px,#e3d938 97.5px,#f8bb38 99.5px,#fea230 101.5px,#fc8424 104.5px,#f36215 109.5px,#e14109 118.5px,#c82803 135.5px,#be2202 157.5px)"></i><i style="left:9px;background:linear-gradient(#d13005 0.5px,#b51c01 28.5px,#af1801 42.5px,#b21a01 60.5px,#c32503 68.5px,#d63506 73.5px,#e84c0d 77.5px,#f9781e 81.5px,#fda832 84.5px,#efca39 86.5px,#dedc37 87.5px,#c3ed39 88.5px,#99f849 89.5px,#61f772 90.5px,#32ec9e 91.5px,#27e9aa 92.5px,#47f28a 93.5px,#7ef95b 94.5px,#aff43e 95.5px,#d0e737 96.5px,#e5d738 97.5px,#f9b937 99.5px,#fea02f 101.5px,#fc8323 104.5px,#f36215 109.5px,#e04009 118.5px,#c82803 135.5px,#c12302 157.5px)"></i><i style="left:15px;background:linear-gradient(#d13005 0.5px,#b51c01 28.5px,#af1801 42.5px,#b21a01 60.5px,#c02302 67.5px,#d73506 73.5px,#ed5510 78.5px,#fc8825 82.5px,#f8ba37 85.5px,#dcde37 87.5px,#bfef3a 88.5px,#94f84d 89.5px,#5cf676 90.5px,#30eca0 91.5px,#2aeba5 92.5px,#4ff481 93.5px,#87f955 94.5px,#b5f33c 95.5px,#d4e437 96.5px,#e8d438 97.5px,#fab637 99.5px,#fe932a 102.5px,#f8721c 106.5px,#e6480b 115.5px,#cd2d04 130.5px,#c12302 147.5px,#c82904 152.5px,#de4009 155.5px,#dc3c08 157.5px)"></i><i style="left:21px;background:linear-gradient(#d13005 0.5px,#b51c01 28.5px,#af1801 43.5px,#b21a01 60.5px,#c12302 67.5px,#d73606 73.5px,#ed5610 78.5px,#fc8a26 82.5px,#f7bd38 85.5px,#d8e137 87.5px,#baf13b 88.5px,#8df951 89.5px,#55f57c 90.5px,#2eeca0 91.5px,#30ed9e 92.5px,#5af677 93.5px,#91f94e 94.5px,#bcf03a 95.5px,#d9e137 96.5px,#ebd039 97.5px,#fbb336 99.5px,#fd9029 102.5px,#f9771e 105.5px,#e74a0c 114.5px,#d33205 126.5px,#c32503 141.5px,#cb2c04 145.5px,#e74e0e 148.5px,#e9510f 149.5px,#cb2b04 153.5px,#c12302 157.5px)"></i><i style="left:27px;background:linear-gradient(#d13005 0.5px,#b51c01 28.5px,#af1801 43.5px,#b21a01 60.5px,#c42603 68.5px,#d73606 73.5px,#e94e0d 77.5px,#f76e1a 80.5px,#fbae34 84.5px,#e9d238 86.5px,#d4e437 87.5px,#b4f33d 88.5px,#84f956 89.5px,#4ef482 90.5px,#2eeda0 91.5px,#3af094 92.5px,#9ef846 94.5px,#c5ed38 95.5px,#dedd37 96.5px,#f7bd38 98.5px,#fea330 100.5px,#fc8423 103.5px,#f56817 107.5px,#ea500e 112.5px,#e14109 117.5px,#c82803 136.5px,#ce2f05 138.5px,#d73a08 139.5px,#ee6015 141.5px,#f26617 142.5px,#d93b08 145.5px,#ca2a04 147.5px,#c12302 157.5px)"></i><i style="left:33px;background:linear-gradient(#d13005 0.5px,#b51c01 28.5px,#af1801 43.5px,#b21a01 60.5px,#c12402 67.5px,#d33205 72.5px,#ea500e 77.5px,#f7701b 80.5px,#fbb235 84.5px,#e5d538 86.5px,#cee737 87.5px,#abf540 88.5px,#79f95e 89.5px,#46f488 90.5px,#31ef9b 91.5px,#49f485 92.5px,#7cfa5c 93.5px,#adf53f 94.5px,#cee737 95.5px,#e5d738 96.5px,#f2c639 97.5px,#fdaa33 99.5px,#fc8825 102.5px,#f66b19 106.5px,#eb520e 111.5px,#e03f09 117.5px,#d02f05 130.5px,#db400a 132.5px,#f2741d 134.5px,#f88223 135.5px,#f67a1f 136.5px,#e34a0d 138.5px,#d83908 139.5px,#cb2b04 141.5px,#c12302 157.5px)"></i><i style="left:39px;background:linear-gradient(#d13005 0.5px,#b51c01 28.5px,#af1801 43.5px,#b21a01 59.5px,#c22403 67.5px,#d93707 73.5px,#eb510e 77.5px,#f8731c 80.5px,#f9b636 84.5px,#e0db38 86.5px,#c6ec38 87.5px,#9ff846 88.5px,#41f48b 90.5px,#3df38f 91.5px,#61f870 92.5px,#95f94b 93.5px,#beef39 94.5px,#dadf37 95.5px,#ecce39 96.5px,#fcaf35 98.5px,#fa791f 103.5px,#e74b0c 112.5px,#d93707 120.5px,#d93a07 124.5px,#df460b 125.5px,#e85f15 126.5px,#f5a02d 128.5px,#f8a22e 129.5px,#f68a25 130.5px,#e54e0e 132.5px,#db3d08 133.5px,#d02f05 135.5px,#c62703 141.5px,#c12302 157.5px)"></i><i style="left:45px;background:linear-gradient(#d13005 0.5px,#b51c01 28.5px,#af1801 44.5px,#b21a01 59.5px,#c32403 67.5px,#d93807 73.5px,#ec530f 77.5px,#f9771e 80.5px,#fcaa33 83.5px,#ebcf38 85.5px,#d7e237 86.5px,#b9f13b 87.5px,#8efa4f 88.5px,#5ef971 89.5px,#45f686 90.5px,#58f877 91.5px,#86fa54 92.5px,#b2f33d 93.5px,#d3e537 94.5px,#e8d338 95.5px,#fbb135 97.5px,#fd8926 100.5px,#f9771e 102.5px,#e6490b 111.5px,#de3d08 116.5px,#e2480c 118.5px,#e85e13 119.5px,#e5b12b 121.5px,#e3c832 122.5px,#ebbe32 123.5px,#f39c29 124.5px,#eb5812 126.5px,#e3460b 127.5px,#d93707 129.5px,#c62703 140.5px,#c12302 157.5px)"></i><i style="left:51px;background:linear-gradient(#d13005 0.5px,#b51c01 28.5px,#af1801 44.5px,#b21a01 59.5px,#c32503 67.5px,#d63506 72.5px,#e94d0d 76.5px,#f76e1a 79.5px,#fab335 83.5px,#e2d938 85.5px,#c8eb38 86.5px,#a4f742 87.5px,#79fc5c 88.5px,#5cfb71 89.5px,#64fb6b 90.5px,#b4f33c 92.5px,#d4e337 93.5px,#ead038 94.5px,#f6be38 95.5px,#fd9d2e 97.5px,#f9781e 100.5px,#f36215 103.5px,#e84c0c 108.5px,#e74c0d 111.5px,#ea5912 112.5px,#eb761c 113.5px,#dda42c 114.5px,#c5d03a 115.5px,#bbe53e 116.5px,#ced939 117.5px,#e8b731 118.5px,#f48f26 119.5px,#f36e1a 120.5px,#ee5911 121.5px,#e04009 124.5px,#c92903 136.5px,#c12302 157.5px)"></i><i style="left:57px;background:linear-gradient(#d13005 0.5px,#b51c01 28.5px,#af1801 45.5px,#b21a01 58.5px,#c42503 67.5px,#d83606 72.5px,#eb510e 76.5px,#f9761d 79.5px,#fbad33 82.5px,#e6d438 84.5px,#aff53d 86.5px,#8ffc4c 87.5px,#7efe56 88.5px,#8bfc4e 89.5px,#acf63f 90.5px,#e5d538 92.5px,#f4c138 93.5px,#fd9e2e 95.5px,#fb8223 97.5px,#f56918 100.5px,#f15e13 103.5px,#f26315 105.5px,#f4701b 106.5px,#f18b25 107.5px,#dab236 108.5px,#aad74f 109.5px,#83ed61 110.5px,#8fef58 111.5px,#c0dd43 112.5px,#e7bd35 113.5px,#f79a2b 114.5px,#f56a18 116.5px,#ed5410 118.5px,#e6490b 120.5px,#d83706 126.5px,#cb2b04 134.5px,#c12302 157.5px)"></i><i style="left:63px;background:linear-gradient(#d13005 0.5px,#b21a01 33.5px,#b21a01 57.5px,#c22403 66.5px,#d53406 71.5px,#e94e0d 75.5px,#f8731c 78.5px,#fd982c 80.5px,#f3c238 82.5px,#cee836 84.5px,#b9f537 85.5px,#aff938 86.5px,#b8f438 87.5px,#cde837 88.5px,#f2c438 90.5px,#fab335 91.5px,#fe982c 93.5px,#fc8323 96.5px,#fb7f21 98.5px,#fc8a26 100.5px,#fb992b 101.5px,#f1b233 102.5px,#d1cf40 103.5px,#94e65d 104.5px,#5dee7d 105.5px,#5ff179 106.5px,#96ed57 107.5px,#cfda3f 108.5px,#efbe36 109.5px,#fba430 110.5px,#fa7e21 112.5px,#f46617 114.5px,#eb510e 117.5px,#e14209 121.5px,#c82903 136.5px,#c02302 157.5px)"></i><i style="left:69px;background:linear-gradient(#d13005 0.5px,#b21a01 33.5px,#b21a01 55.5px,#b91e02 62.5px,#d02f05 69.5px,#e94e0d 74.5px,#f46717 76.5px,#fca330 79.5px,#edcd38 81.5px,#e2db37 82.5px,#dedf37 83.5px,#e4d737 84.5px,#f8b434 86.5px,#fd952b 88.5px,#fc8825 90.5px,#fd8926 93.5px,#fda12f 96.5px,#f9b234 97.5px,#eac838 98.5px,#c5df43 99.5px,#85ea68 100.5px,#49e29d 101.5px,#3de3a5 102.5px,#6cee75 103.5px,#aded48 104.5px,#dada3a 105.5px,#f1c438 106.5px,#fda02f 108.5px,#fb8223 110.5px,#f46416 113.5px,#e94d0d 117.5px,#e04009 121.5px,#c82803 136.5px,#c02202 157.5px)"></i><i style="left:75px;background:linear-gradient(#d13005 0.5px,#b21a01 33.5px,#b21a01 53.5px,#b91e02 61.5px,#cc2b04 67.5px,#e04109 71.5px,#f36617 74.5px,#fc9229 76.5px,#f9b837 78.5px,#f8b937 79.5px,#f9ac32 80.5px,#f56c19 83.5px,#f05c12 85.5px,#f15d13 87.5px,#f56918 89.5px,#fa7d20 91.5px,#fd9d2e 93.5px,#f8b334 94.5px,#eacb38 95.5px,#c7e33f 96.5px,#8aeb63 97.5px,#50d2a7 98.5px,#3abece 99.5px,#4ad6a8 100.5px,#80f065 101.5px,#b9ed3f 102.5px,#dcdc38 103.5px,#efca39 104.5px,#fda933 106.5px,#fb8223 109.5px,#f46617 112.5px,#ea4f0e 116.5px,#e14209 120.5px,#c82803 136.5px,#c02202 157.5px)"></i><i style="left:81px;background:linear-gradient(#d13005 0.5px,#b21a01 34.5px,#b21a01 51.5px,#ba1e02 60.5px,#ca2a04 65.5px,#dc3b08 68.5px,#eb530f 70.5px,#fc8d27 73.5px,#fc8f28 74.5px,#f77f21 75.5px,#e54d0e 77.5px,#dc3d09 78.5px,#d63606 79.5px,#d73506 81.5px,#e2430a 84.5px,#f05d13 87.5px,#f9781e 89.5px,#f7b635 92.5px,#e9ce38 93.5px,#c9e53c 94.5px,#91f058 95.5px,#55d999 96.5px,#3bb1d0 97.5px,#3cbcc5 98.5px,#5de686 99.5px,#99f44e 100.5px,#c7ea39 101.5px,#e2d938 102.5px,#f9b937 104.5px,#fe9e2e 106.5px,#f8721c 110.5px,#e74a0c 117.5px,#ca2a04 134.5px,#c02202 157.5px)"></i><i style="left:87px;background:linear-gradient(#d13005 0.5px,#b21a01 34.5px,#b81d02 56.5px,#c02302 60.5px,#cf2e05 63.5px,#f36517 68.5px,#ef5f14 69.5px,#c72a04 72.5px,#bf2303 73.5px,#be2102 75.5px,#d02f05 79.5px,#e6480b 83.5px,#f46717 86.5px,#fd992c 89.5px,#f3c238 91.5px,#e0d838 92.5px,#bdec3d 93.5px,#85f25e 94.5px,#4cd9a1 95.5px,#38b3d7 96.5px,#3abeca 97.5px,#58e78a 98.5px,#92f651 99.5px,#c1ed3a 100.5px,#dddd38 101.5px,#eecc39 102.5px,#fcb035 104.5px,#fb8122 108.5px,#f56717 111.5px,#eb510e 115.5px,#e2430a 119.5px,#c92903 135.5px,#c02202 157.5px)"></i><i style="left:93px;background:linear-gradient(#d13005 0.5px,#b41b01 29.5px,#b21a01 45.5px,#c02302 56.5px,#c92a04 58.5px,#e6490c 62.5px,#e2460b 63.5px,#c62a04 65.5px,#b11a01 67.5px,#b01901 70.5px,#ca2a04 76.5px,#e3450a 81.5px,#f66c19 85.5px,#fd9b2d 88.5px,#f4c238 90.5px,#e3d638 91.5px,#c5ea3a 92.5px,#94f551 93.5px,#57e78c 94.5px,#38c2ce 95.5px,#35b9d9 96.5px,#46dca4 97.5px,#7af563 98.5px,#b0f33f 99.5px,#d2e537 100.5px,#e7d438 101.5px,#f3c539 102.5px,#fdaa33 104.5px,#fb7e21 108.5px,#f46616 111.5px,#e2430a 119.5px,#c92903 135.5px,#bf2202 157.5px)"></i><i style="left:99px;background:linear-gradient(#d13005 0.5px,#b51b01 29.5px,#b21a01 38.5px,#bb2002 50.5px,#dc3c08 56.5px,#d83907 57.5px,#a91601 61.5px,#ab1601 66.5px,#c82803 74.5px,#e4450a 80.5px,#f66b19 84.5px,#fca932 88.5px,#ebcf38 90.5px,#d4e338 91.5px,#aef242 92.5px,#74f36a 93.5px,#41d9ae 94.5px,#33bcdc 95.5px,#37cbc7 96.5px,#59ec85 97.5px,#93f74f 98.5px,#c0ee3a 99.5px,#dcdf37 100.5px,#edce39 101.5px,#fbb236 103.5px,#fd8f28 106.5px,#f66b19 110.5px,#ed540f 114.5px,#e2420a 119.5px,#ca2a04 134.5px,#bf2202 157.5px)"></i><i style="left:105px;background:linear-gradient(#d13005 0.5px,#b71d02 26.5px,#b41b01 38.5px,#bc2002 45.5px,#d53406 50.5px,#d23205 51.5px,#b01901 54.5px,#a71401 56.5px,#ae1801 65.5px,#c72803 73.5px,#e2430a 79.5px,#f46617 83.5px,#fda02f 87.5px,#f3c438 89.5px,#e3d738 90.5px,#c8ea39 91.5px,#9af64b 92.5px,#5eee7f 93.5px,#37cfc2 94.5px,#30bfdc 95.5px,#3cd8b3 96.5px,#6af370 97.5px,#a3f645 98.5px,#c9ea38 99.5px,#e1da38 100.5px,#f0ca39 101.5px,#fcaf35 103.5px,#fd8d27 106.5px,#f66a18 110.5px,#ec530f 114.5px,#e2420a 119.5px,#ca2a04 134.5px,#bf2202 157.5px)"></i><i style="left:111px;background:linear-gradient(#d13005 0.5px,#b51b01 32.5px,#ba1f02 39.5px,#cf2f05 44.5px,#cc2c04 45.5px,#b01901 48.5px,#a71401 52.5px,#aa1601 61.5px,#b31b01 66.5px,#ca2a04 73.5px,#e4460b 79.5px,#f66b19 83.5px,#fda631 87.5px,#efca38 89.5px,#dcdd38 90.5px,#bdef3b 91.5px,#8bf655 92.5px,#50e990 93.5px,#32cacd 94.5px,#2fc5d6 95.5px,#43e2a2 96.5px,#79f663 97.5px,#adf440 98.5px,#d0e737 99.5px,#e5d738 100.5px,#f2c739 101.5px,#fcad34 103.5px,#f56918 110.5px,#e4450a 118.5px,#ca2a04 134.5px,#bf2202 157.5px)"></i><i style="left:117px;background:linear-gradient(#d13005 0.5px,#b71d02 29.5px,#bc2002 34.5px,#cb2b04 38.5px,#b11901 42.5px,#aa1601 45.5px,#aa1601 59.5px,#bd2102 69.5px,#d43305 75.5px,#ea4f0e 80.5px,#fa7b20 84.5px,#fd9a2d 86.5px,#f7bc37 88.5px,#ecce38 89.5px,#d7e137 90.5px,#b4f23e 91.5px,#7ff65e 92.5px,#46e49d 93.5px,#2ec8d3 94.5px,#2fcbce 95.5px,#4be894 96.5px,#83f759 97.5px,#b5f23d 98.5px,#d4e437 99.5px,#e8d438 100.5px,#fab737 102.5px,#fea02f 104.5px,#f36215 111.5px,#e24209 119.5px,#c92903 135.5px,#bf2202 157.5px)"></i><i style="left:123px;background:linear-gradient(#d13005 0.5px,#bc2002 24.5px,#bd2102 28.5px,#c92903 32.5px,#b21a01 36.5px,#ac1701 39.5px,#ac1701 60.5px,#b41b01 65.5px,#c82903 72.5px,#e2430a 78.5px,#f46516 82.5px,#fd9d2e 86.5px,#f5bf38 88.5px,#e9d238 89.5px,#d2e538 90.5px,#adf341 91.5px,#75f566 92.5px,#3fe1a6 93.5px,#2cc8d5 94.5px,#30d1c6 95.5px,#52ed89 96.5px,#8cf853 97.5px,#baf13b 98.5px,#d8e237 99.5px,#ead239 100.5px,#fda933 103.5px,#f56818 110.5px,#ec520f 114.5px,#e24209 119.5px,#c92903 135.5px,#bf2202 157.5px)"></i><i style="left:129px;background:linear-gradient(#d13005 0.5px,#c12302 20.5px,#c92904 26.5px,#b41b01 30.5px,#af1801 33.5px,#ac1701 59.5px,#b41b01 65.5px,#c92903 72.5px,#e3440a 78.5px,#f56717 82.5px,#fda02f 86.5px,#f4c238 88.5px,#e6d538 89.5px,#cee738 90.5px,#a6f544 91.5px,#6df46d 92.5px,#3bdead 93.5px,#2bc8d6 94.5px,#32d5bf 95.5px,#59f081 96.5px,#93f84e 97.5px,#bfef3a 98.5px,#dae037 99.5px,#ebd039 100.5px,#fda832 103.5px,#f56817 110.5px,#ec520f 114.5px,#e24209 119.5px,#c92903 135.5px,#bf2202 157.5px)"></i><i style="left:135px;background:linear-gradient(#d13005 0.5px,#c72803 15.5px,#cd2c04 20.5px,#b71d02 25.5px,#af1801 33.5px,#ac1701 59.5px,#b51c02 65.5px,#ca2a04 72.5px,#e3450a 78.5px,#f56817 82.5px,#fda230 86.5px,#f3c538 88.5px,#e4d738 89.5px,#cae938 90.5px,#a1f647 91.5px,#67f373 92.5px,#37dcb2 93.5px,#2acad5 94.5px,#34d9b9 95.5px,#5ff27a 96.5px,#98f74b 97.5px,#c2ee39 98.5px,#dcde37 99.5px,#edce39 100.5px,#fbb336 102.5px,#f76e1a 109.5px,#ee5610 113.5px,#e3440a 118.5px,#c92903 135.5px,#bf2202 157.5px)"></i><b><i style="left:0px;background:linear-gradient(#d13005 0.5px,#b51b01 28.5px,#af1801 42.5px,#b21a01 60.5px,#c02302 67.5px,#d13005 72.5px,#e84b0c 77.5px,#f56818 80.5px,#fda531 84.5px,#f1c839 86.5px,#e1da38 87.5px,#c7eb38 88.5px,#a0f746 89.5px,#69f76c 90.5px,#36ec9b 91.5px,#25e6ae 92.5px,#3def93 93.5px,#73f863 94.5px,#a7f642 95.5px,#cbea37 96.5px,#e2da38 97.5px,#f8bb38 99.5px,#fea330 101.5px,#fc8524 104.5px,#f36315 109.5px,#e14109 118.5px,#c82803 135.5px,#be2202 157.5px)"></i><i style="left:6px;background:linear-gradient(#d13005 0.5px,#b51b01 28.5px,#af1801 42.5px,#b21a01 60.5px,#c02302 67.5px,#d63506 73.5px,#e84c0d 77.5px,#f56a18 80.5px,#fda732 84.5px,#f0c939 86.5px,#dfdb38 87.5px,#c4ec38 88.5px,#9cf848 89.5px,#64f770 90.5px,#33ec9d 91.5px,#26e8ab 92.5px,#43f18d 93.5px,#7af95e 94.5px,#acf53f 95.5px,#cee837 96.5px,#e4d838 97.5px,#f9ba37 99.5px,#fea02f 101.5px,#fc8423 104.5px,#f36215 109.5px,#e14109 118.5px,#c82803 135.5px,#c02202 157.5px)"></i><i style="left:12px;background:linear-gradient(#d13005 0.5px,#b51c01 28.5px,#af1801 42.5px,#b21a01 60.5px,#c32503 68.5px,#d63506 73.5px,#e84c0d 77.5px,#f66b19 80.5px,#fca832 84.5px,#eecb39 86.5px,#dddd37 87.5px,#c1ee39 88.5px,#96f84b 89.5px,#5ff674 90.5px,#31ec9f 91.5px,#29e9a7 92.5px,#4bf386 93.5px,#82f958 94.5px,#b2f43d 95.5px,#d2e637 96.5px,#e6d538 97.5px,#f3c639 98.5px,#fdab33 100.5px,#fb8223 104.5px,#f46617 108.5px,#ea4f0d 113.5px,#e04009 118.5px,#c32503 140.5px,#c12302 153.5px,#ce2e05 157.5px)"></i><i style="left:18px;background:linear-gradient(#d13005 0.5px,#b51c01 28.5px,#af1801 43.5px,#b21a01 60.5px,#c42503 68.5px,#d73506 73.5px,#ed5510 78.5px,#fc8926 82.5px,#f7bc37 85.5px,#dadf37 87.5px,#bdf03a 88.5px,#90f94e 89.5px,#59f679 90.5px,#2feca0 91.5px,#2deca2 92.5px,#54f57c 93.5px,#8cf951 94.5px,#b8f23b 95.5px,#d6e337 96.5px,#e9d239 97.5px,#fab536 99.5px,#fd9229 102.5px,#fa781f 105.5px,#e74a0c 114.5px,#d23005 127.5px,#c32503 141.5px,#c72803 148.5px,#e5480c 152.5px,#c62703 157.5px)"></i><i style="left:24px;background:linear-gradient(#d13005 0.5px,#b51c01 28.5px,#af1801 43.5px,#b21a01 60.5px,#c42603 68.5px,#d73606 73.5px,#e94e0d 77.5px,#f66e1a 80.5px,#fcad34 84.5px,#ead038 86.5px,#d6e237 87.5px,#b7f23c 88.5px,#89f953 89.5px,#51f57f 90.5px,#2deda0 91.5px,#34ef9a 92.5px,#61f771 93.5px,#97f84a 94.5px,#c0ef39 95.5px,#dbdf37 96.5px,#f6bf38 98.5px,#fda531 100.5px,#fc8624 103.5px,#f36315 108.5px,#e14109 117.5px,#cd2c04 130.5px,#c72703 140.5px,#d03206 142.5px,#ed5b13 145.5px,#ec5711 146.5px,#da3b08 148.5px,#ca2a04 150.5px,#c12302 157.5px)"></i><i style="left:30px;background:linear-gradient(#d13005 0.5px,#b51c01 28.5px,#af1801 43.5px,#b21a01 60.5px,#c42603 68.5px,#d83606 73.5px,#ea4f0e 77.5px,#f76f1a 80.5px,#fbb035 84.5px,#e7d338 86.5px,#d1e537 87.5px,#b0f43e 88.5px,#7ff95a 89.5px,#4af485 90.5px,#2fee9e 91.5px,#40f28d 92.5px,#72f963 93.5px,#a5f743 94.5px,#c9ea37 95.5px,#e1da38 96.5px,#f8ba38 98.5px,#fea02f 100.5px,#fb8223 103.5px,#f26115 108.5px,#de3e08 118.5px,#cb2b04 133.5px,#d43607 135.5px,#f4711c 138.5px,#f5701b 139.5px,#d83a08 142.5px,#cb2b04 144.5px,#c12302 157.5px)"></i><i style="left:36px;background:linear-gradient(#d13005 0.5px,#b51c01 28.5px,#af1801 43.5px,#b21a01 60.5px,#c22403 67.5px,#d43205 72.5px,#eb500e 77.5px,#f8721c 80.5px,#fda230 83.5px,#f2c638 85.5px,#e3d838 86.5px,#caea38 87.5px,#a5f643 88.5px,#43f48a 90.5px,#36f196 91.5px,#54f67b 92.5px,#88fa53 93.5px,#b5f33c 94.5px,#d4e437 95.5px,#e8d338 96.5px,#f4c239 97.5px,#fda631 99.5px,#fc8524 102.5px,#f56918 106.5px,#eb500e 111.5px,#df3e08 117.5px,#d53406 127.5px,#d93c08 128.5px,#e24e0f 129.5px,#f58a26 131.5px,#f99329 132.5px,#f78223 133.5px,#e44b0d 135.5px,#d93a08 136.5px,#cd2d04 138.5px,#c32503 146.5px,#c12302 157.5px)"></i><i style="left:42px;background:linear-gradient(#d13005 0.5px,#b51c01 28.5px,#af1801 43.5px,#b21a01 59.5px,#c22403 67.5px,#d43306 72.5px,#e74a0c 76.5px,#f56817 79.5px,#fda732 83.5px,#eecb39 85.5px,#dcde37 86.5px,#c0ef39 87.5px,#97f94a 88.5px,#65f96d 89.5px,#41f58a 90.5px,#48f685 91.5px,#72fa62 92.5px,#a3f743 93.5px,#c8eb38 94.5px,#e1da38 95.5px,#f1c839 96.5px,#fdaa33 98.5px,#fa7c20 102.5px,#f36215 106.5px,#e6480b 112.5px,#da3907 119.5px,#de4009 121.5px,#e4510f 122.5px,#ed9b27 124.5px,#efb531 125.5px,#f3b030 126.5px,#f59227 127.5px,#e85210 129.5px,#df4109 130.5px,#d43305 132.5px,#c62603 141.5px,#c12302 157.5px)"></i><i style="left:48px;background:linear-gradient(#d13005 0.5px,#b51c01 28.5px,#af1801 44.5px,#b21a01 59.5px,#c32403 67.5px,#d53406 72.5px,#e84c0d 76.5px,#f66c19 79.5px,#fbae34 83.5px,#e7d338 85.5px,#d1e637 86.5px,#aff43e 87.5px,#5af974 89.5px,#50f87c 90.5px,#6efb65 91.5px,#9cf847 92.5px,#c3ed39 93.5px,#dedc37 94.5px,#efca39 95.5px,#fda832 97.5px,#fb8122 100.5px,#f56918 103.5px,#e84c0c 109.5px,#e2420a 113.5px,#e6500e 115.5px,#ea6b18 116.5px,#d8c330 118.5px,#d3d835 119.5px,#dfcc34 120.5px,#efa82c 121.5px,#f48121 122.5px,#ef6215 123.5px,#e84e0e 124.5px,#de3e08 126.5px,#c82903 137.5px,#c12302 157.5px)"></i><i style="left:54px;background:linear-gradient(#d13005 0.5px,#b51c01 28.5px,#af1801 44.5px,#b31a01 59.5px,#c32503 67.5px,#d73506 72.5px,#ea4f0e 76.5px,#f7721c 79.5px,#fda631 82.5px,#edcc38 84.5px,#dadf37 85.5px,#bdf039 86.5px,#75fd5e 88.5px,#6bfc65 89.5px,#84fc54 90.5px,#abf640 91.5px,#cde738 92.5px,#e5d538 93.5px,#f4c138 94.5px,#fd9e2e 96.5px,#f9771e 99.5px,#f26114 102.5px,#ec520f 106.5px,#ec5610 108.5px,#ef6416 109.5px,#ec8121 110.5px,#d8ad33 111.5px,#b2d647 112.5px,#9eec4e 113.5px,#b3e645 114.5px,#daca38 115.5px,#f2a42d 116.5px,#f78121 117.5px,#f36817 118.5px,#ea4f0e 120.5px,#e3440a 122.5px,#ca2a04 135.5px,#c12302 157.5px)"></i><i style="left:60px;background:linear-gradient(#d13005 0.5px,#b51c01 28.5px,#af1801 45.5px,#b21a01 58.5px,#c52603 67.5px,#d43305 71.5px,#e74b0c 75.5px,#f66c19 78.5px,#fda22f 81.5px,#eeca38 83.5px,#c1ef38 85.5px,#a6fa3e 86.5px,#97fd45 87.5px,#9efb42 88.5px,#b8f23a 89.5px,#e9d038 91.5px,#f6bd37 92.5px,#fd8e28 95.5px,#f8701b 99.5px,#f8731c 102.5px,#f97e20 103.5px,#f69428 104.5px,#e4b435 105.5px,#b6d64b 106.5px,#7cea69 107.5px,#6bf270 108.5px,#94ed58 109.5px,#ccd840 110.5px,#eeb934 111.5px,#fa9b2c 112.5px,#f7721c 114.5px,#f05c13 116.5px,#e74a0c 119.5px,#de3d08 123.5px,#c82903 136.5px,#c12302 157.5px)"></i><i style="left:66px;background:linear-gradient(#d13005 0.5px,#b21a01 33.5px,#b21a01 56.5px,#bd2102 64.5px,#d73606 71.5px,#eb520f 75.5px,#f66c19 77.5px,#fca631 80.5px,#f6bc37 81.5px,#d8e236 83.5px,#caed35 84.5px,#c9ed35 85.5px,#d5e336 86.5px,#f3c137 88.5px,#fab034 89.5px,#fe9129 92.5px,#fd8a26 95.5px,#fd9b2d 98.5px,#f9ac32 99.5px,#eac337 100.5px,#c3dc45 101.5px,#82ea68 102.5px,#4beb8f 103.5px,#50ee88 104.5px,#8af05d 105.5px,#c6e240 106.5px,#eaca38 107.5px,#f9b334 108.5px,#fd8d27 110.5px,#f8731c 112.5px,#ef5911 115.5px,#e74a0c 118.5px,#d93807 125.5px,#cb2a04 134.5px,#c02202 157.5px)"></i><i style="left:72px;background:linear-gradient(#d13005 0.5px,#b21a01 34.5px,#b21a01 54.5px,#bf2202 64.5px,#d23105 69.5px,#e74b0c 73.5px,#f36516 75.5px,#fc8c27 77.5px,#f7b937 79.5px,#f1c939 80.5px,#eecd39 81.5px,#f2c437 82.5px,#fb8a26 85.5px,#f9761d 87.5px,#f8741d 89.5px,#fa7c20 91.5px,#fd9a2d 94.5px,#f1c237 96.5px,#d6da3c 97.5px,#9fea55 98.5px,#5ee092 99.5px,#3acfc1 100.5px,#47dda7 101.5px,#7ef067 102.5px,#baeb41 103.5px,#dfd939 104.5px,#f2c538 105.5px,#fda430 107.5px,#fa7c20 110.5px,#f26115 113.5px,#e24209 120.5px,#c82803 136.5px,#c02202 157.5px)"></i><i style="left:78px;background:linear-gradient(#d13005 0.5px,#b21a01 34.5px,#b21a01 52.5px,#ba1f02 61.5px,#cb2a04 66.5px,#e04109 70.5px,#ee5a12 72.5px,#fd9b2d 75.5px,#fda632 76.5px,#fca02f 77.5px,#ed5b13 80.5px,#e74d0d 81.5px,#e4450a 83.5px,#e74a0c 85.5px,#f26014 88.5px,#f9791f 90.5px,#fc9f2e 92.5px,#f7b635 93.5px,#e7cf38 94.5px,#c3e63f 95.5px,#87ec63 96.5px,#4ecfa7 97.5px,#3ab2d1 98.5px,#44cbb3 99.5px,#73ee6f 100.5px,#aef143 101.5px,#d4e238 102.5px,#ead039 103.5px,#fbb135 105.5px,#fc8926 108.5px,#f66c19 111.5px,#ec530f 115.5px,#e3440a 119.5px,#ca2a04 134.5px,#c02202 157.5px)"></i><i style="left:84px;background:linear-gradient(#d13005 0.5px,#b21a01 34.5px,#b21a01 50.5px,#ba1f02 59.5px,#c62703 63.5px,#d83707 66.5px,#e9500e 68.5px,#f7731c 70.5px,#f9791f 71.5px,#f46f1b 72.5px,#dc420b 74.5px,#d13206 75.5px,#ca2b04 76.5px,#c92903 78.5px,#d63506 81.5px,#eb510e 85.5px,#f9781e 88.5px,#fd9d2e 90.5px,#edca38 92.5px,#d4e139 93.5px,#a6f149 94.5px,#67e87e 95.5px,#3fc0c2 96.5px,#38b0d6 97.5px,#47d5a8 98.5px,#7af365 99.5px,#b1f240 100.5px,#d5e337 101.5px,#e9d239 102.5px,#f5c239 103.5px,#fda632 105.5px,#f56918 111.5px,#eb510e 115.5px,#e3430a 119.5px,#c92903 135.5px,#c02202 157.5px)"></i><i style="left:90px;background:linear-gradient(#d13005 0.5px,#b41b01 29.5px,#b21a01 47.5px,#c32503 59.5px,#ce2e05 61.5px,#ec5510 65.5px,#e8510f 66.5px,#bf2403 69.5px,#b71d02 70.5px,#b51c02 72.5px,#cb2b04 77.5px,#e5470b 82.5px,#f7711b 86.5px,#fca531 89.5px,#ebce38 91.5px,#d2e338 92.5px,#a7f246 93.5px,#6aee76 94.5px,#3ecbbc 95.5px,#36b3dd 96.5px,#3ecfb8 97.5px,#6af073 98.5px,#a4f546 99.5px,#cbe938 100.5px,#e3d838 101.5px,#f1c839 102.5px,#fcac34 104.5px,#fb7f21 108.5px,#f46717 111.5px,#e2430a 119.5px,#c92903 135.5px,#c02202 157.5px)"></i><i style="left:96px;background:linear-gradient(#d13005 0.5px,#b51b01 29.5px,#b21a01 42.5px,#bd2102 53.5px,#c62703 55.5px,#e04109 59.5px,#dc3e09 60.5px,#c12503 62.5px,#ac1701 64.5px,#ab1601 67.5px,#c52603 74.5px,#e14209 80.5px,#f46617 84.5px,#fda330 88.5px,#efc938 90.5px,#dbdd38 91.5px,#b9ef3d 92.5px,#82f55e 93.5px,#4adf9f 94.5px,#35bdd8 95.5px,#35c2d1 96.5px,#4fe693 97.5px,#88f757 98.5px,#b9f13c 99.5px,#d8e237 100.5px,#ead139 101.5px,#fda832 104.5px,#fa7d20 108.5px,#f46516 111.5px,#e2430a 119.5px,#c92903 135.5px,#bf2202 157.5px)"></i><i style="left:102px;background:linear-gradient(#d13005 0.5px,#b51c01 29.5px,#b41b01 42.5px,#bd2102 48.5px,#d83807 53.5px,#d53506 54.5px,#a91601 58.5px,#a41301 61.5px,#ac1701 65.5px,#c62703 73.5px,#e14109 79.5px,#f36315 83.5px,#fd9c2d 87.5px,#f5c038 89.5px,#e7d338 90.5px,#cee738 91.5px,#a3f446 92.5px,#68f175 93.5px,#3bd4b9 94.5px,#31bddd 95.5px,#39d2bd 96.5px,#62f07a 97.5px,#9cf749 98.5px,#c5ec38 99.5px,#dfdc38 100.5px,#eecc39 101.5px,#fcb135 103.5px,#fc8424 107.5px,#f36416 111.5px,#e2420a 119.5px,#ca2a04 134.5px,#bf2202 157.5px)"></i><i style="left:108px;background:linear-gradient(#d13005 0.5px,#b41b01 35.5px,#bb1f02 42.5px,#d23105 47.5px,#cf2f05 48.5px,#b01901 51.5px,#a81501 53.5px,#a71401 60.5px,#b21a01 66.5px,#c92903 73.5px,#e3440a 79.5px,#f56818 83.5px,#fda330 87.5px,#f1c738 89.5px,#e0da38 90.5px,#c2ec3a 91.5px,#92f650 92.5px,#56eb88 93.5px,#34ccc8 94.5px,#30c2d9 95.5px,#3fdeaa 96.5px,#72f569 97.5px,#a8f542 98.5px,#cde837 99.5px,#e3d838 100.5px,#f1c939 101.5px,#fcae34 103.5px,#fc8323 107.5px,#f66a18 110.5px,#e4450a 118.5px,#ca2a04 134.5px,#bf2202 157.5px)"></i><i style="left:114px;background:linear-gradient(#d13005 0.5px,#b71d02 28.5px,#ba1f02 36.5px,#cd2d04 41.5px,#b01901 45.5px,#aa1601 48.5px,#aa1601 60.5px,#bc2002 69.5px,#d33205 75.5px,#e94e0d 80.5px,#fa7a1f 84.5px,#fd982c 86.5px,#f8ba37 88.5px,#edcc39 89.5px,#d9df38 90.5px,#b8f03d 91.5px,#84f65a 92.5px,#4be797 93.5px,#30c9d0 94.5px,#2fc8d2 95.5px,#47e69a 96.5px,#7ef75e 97.5px,#b1f33e 98.5px,#d2e537 99.5px,#e6d538 100.5px,#f9b837 102.5px,#fea02f 104.5px,#f36215 111.5px,#e24209 119.5px,#c92903 135.5px,#bf2202 157.5px)"></i><i style="left:120px;background:linear-gradient(#d13005 0.5px,#b91e02 26.5px,#bc2002 31.5px,#c92a04 35.5px,#ae1801 40.5px,#aa1601 45.5px,#ab1601 58.5px,#b51c02 66.5px,#cc2c04 73.5px,#e6490b 79.5px,#f7701b 83.5px,#fcac33 87.5px,#ead038 89.5px,#d4e337 90.5px,#b0f340 91.5px,#79f663 92.5px,#43e3a2 93.5px,#2dc8d4 94.5px,#30ceca 95.5px,#4feb8e 96.5px,#88f856 97.5px,#b8f23c 98.5px,#d6e337 99.5px,#e9d339 100.5px,#f4c439 101.5px,#fdaa33 103.5px,#fb8022 107.5px,#f36215 111.5px,#e24209 119.5px,#c92903 135.5px,#bf2202 157.5px)"></i><i style="left:126px;background:linear-gradient(#d13005 0.5px,#be2102 22.5px,#c92903 29.5px,#b31b01 33.5px,#ac1701 38.5px,#ac1701 60.5px,#b41b01 65.5px,#c92903 72.5px,#e2430a 78.5px,#f46516 82.5px,#fd9f2f 86.5px,#f5c138 88.5px,#e7d338 89.5px,#d0e638 90.5px,#a9f442 91.5px,#71f56a 92.5px,#3ddfaa 93.5px,#2bc8d5 94.5px,#31d3c3 95.5px,#56ee85 96.5px,#90f850 97.5px,#bdf03a 98.5px,#d9e137 99.5px,#ead139 100.5px,#fda932 103.5px,#f56817 110.5px,#ec520f 114.5px,#e24209 119.5px,#c92903 135.5px,#bf2202 157.5px)"></i><i style="left:132px;background:linear-gradient(#d13005 0.5px,#c42503 17.5px,#cb2b04 23.5px,#b61d02 27.5px,#af1901 32.5px,#ac1701 59.5px,#b51b01 65.5px,#ca2a04 72.5px,#e3440a 78.5px,#f56817 82.5px,#fda12f 86.5px,#f3c338 88.5px,#e5d638 89.5px,#cce838 90.5px,#a3f545 91.5px,#6af470 92.5px,#39ddb0 93.5px,#2ac9d5 94.5px,#33d7bc 95.5px,#5cf17d 96.5px,#95f84c 97.5px,#c0ef39 98.5px,#dbdf37 99.5px,#eccf39 100.5px,#fbb436 102.5px,#fc8825 106.5px,#f56817 110.5px,#ec520f 114.5px,#e14209 119.5px,#c92903 135.5px,#bf2202 157.5px)"></i><i style="left:138px;background:linear-gradient(#d13005 0.5px,#c92a03 12.5px,#cf2e04 17.5px,#b81e02 23.5px,#af1801 34.5px,#ac1701 59.5px,#b51c02 65.5px,#ca2a04 72.5px,#e4450a 78.5px,#f56918 82.5px,#fda330 86.5px,#f2c538 88.5px,#e3d838 89.5px,#c9ea38 90.5px,#9ef648 91.5px,#64f276 92.5px,#36dbb5 93.5px,#29cad5 94.5px,#35dbb6 95.5px,#61f277 96.5px,#9af749 97.5px,#c3ed38 98.5px,#ddde37 99.5px,#edce39 100.5px,#fbb336 102.5px,#fc8725 106.5px,#f56717 110.5px,#e3440a 118.5px,#c92903 135.5px,#bf2202 157.5px)"></i></b></div>
<div class="p" style="left:489px;top:374px"><i style="left:-3px;background:linear-gradient(#d13005 0.5px,#b21a01 34.5px,#b21a01 58.5px,#c52603 68.5px,#d83706 73.5px,#ea500e 77.5px,#f7711b 80.5px,#fbb235 84.5px,#e6d538 86.5px,#cfe737 87.5px,#abf540 88.5px,#78f95f 89.5px,#42f18e 90.5px,#26e8aa 91.5px,#35ed9a 92.5px,#66f76d 93.5px,#9cf847 94.5px,#c4ed38 95.5px,#dddd37 96.5px,#f7be38 98.5px,#fea330 100.5px,#fc8524 103.5px,#f46516 108.5px,#e04009 118.5px,#c82803 135.5px,#bf2202 157.5px)"></i><i style="left:3px;background:linear-gradient(#d13005 0.5px,#b21a01 34.5px,#b21a01 58.5px,#c22403 67.5px,#d83707 73.5px,#eb500e 77.5px,#f8721c 80.5px,#fab336 84.5px,#e4d738 86.5px,#cbe937 87.5px,#a7f642 88.5px,#73f963 89.5px,#3ef091 90.5px,#28eaa7 91.5px,#3cf093 92.5px,#70f966 93.5px,#a3f743 94.5px,#c8eb38 95.5px,#e0db38 96.5px,#f8bb38 98.5px,#fea130 100.5px,#fc8323 103.5px,#f56918 107.5px,#e24209 117.5px,#c82803 135.5px,#bf2202 157.5px)"></i><i style="left:9px;background:linear-gradient(#d13005 0.5px,#b21a01 34.5px,#b21a01 58.5px,#c22403 67.5px,#d93807 73.5px,#eb510e 77.5px,#f8731c 80.5px,#fda431 83.5px,#f1c739 85.5px,#e1da38 86.5px,#c8eb38 87.5px,#a1f745 88.5px,#6df868 89.5px,#3bf093 90.5px,#2beca3 91.5px,#46f389 92.5px,#7af95d 93.5px,#abf540 94.5px,#cde837 95.5px,#e4d838 96.5px,#f9b937 98.5px,#fe9f2f 100.5px,#fb8222 103.5px,#f56817 107.5px,#eb510e 112.5px,#e04009 118.5px,#c62703 137.5px,#c12302 157.5px)"></i><i style="left:15px;background:linear-gradient(#d13005 0.5px,#b21a01 34.5px,#b21a01 57.5px,#c32403 67.5px,#d53406 72.5px,#e74a0c 76.5px,#f8751d 80.5px,#fda731 83.5px,#efca39 85.5px,#dedc37 86.5px,#c3ed39 87.5px,#9bf848 88.5px,#39f195 90.5px,#30ee9d 91.5px,#52f67e 92.5px,#87fa54 93.5px,#b4f33c 94.5px,#d3e537 95.5px,#e7d438 96.5px,#f4c439 97.5px,#fda832 99.5px,#fc8825 102.5px,#f66c19 106.5px,#eb500e 112.5px,#df3f09 118.5px,#c32503 140.5px,#c52703 157.5px)"></i><i style="left:21px;background:linear-gradient(#d13005 0.5px,#b21a01 34.5px,#b21a01 57.5px,#c32503 67.5px,#da3907 73.5px,#ec530f 77.5px,#f9771e 80.5px,#fcaa32 83.5px,#edcd39 85.5px,#dae037 86.5px,#bdf03a 87.5px,#93f94c 88.5px,#5ff872 89.5px,#38f194 90.5px,#39f293 91.5px,#61f870 92.5px,#95f94b 93.5px,#bef039 94.5px,#d9e037 95.5px,#f6c038 97.5px,#fe982c 100.5px,#fa7d20 103.5px,#f05b12 109.5px,#e6490b 114.5px,#cc2c04 131.5px,#c42503 148.5px,#d13407 151.5px,#e95913 153.5px,#ef6316 154.5px,#eb5912 155.5px,#d63707 157.5px)"></i><i style="left:27px;background:linear-gradient(#d13005 0.5px,#b21a01 35.5px,#b21a01 56.5px,#c32503 67.5px,#d63506 72.5px,#e84c0d 76.5px,#f66c19 79.5px,#fcad34 83.5px,#e9d138 85.5px,#d5e337 86.5px,#b6f33c 87.5px,#89fa52 88.5px,#57f878 89.5px,#3af391 90.5px,#47f585 91.5px,#75fa61 92.5px,#a4f742 93.5px,#c8eb37 94.5px,#e0db38 95.5px,#f8bb38 97.5px,#fea02f 99.5px,#f8731c 104.5px,#e94e0d 112.5px,#da3907 121.5px,#c62703 136.5px,#cb2c04 143.5px,#d33708 144.5px,#ec6c1a 146.5px,#f47f21 147.5px,#f4771e 148.5px,#df450b 150.5px,#d33406 151.5px,#c62703 153.5px,#c12302 157.5px)"></i><i style="left:33px;background:linear-gradient(#d13005 0.5px,#b21a01 35.5px,#b21a01 56.5px,#c12302 66.5px,#d73506 72.5px,#e94e0d 76.5px,#f76f1a 79.5px,#fda02f 82.5px,#f3c438 84.5px,#cee837 86.5px,#acf63f 87.5px,#53f87b 89.5px,#44f687 90.5px,#5df972 91.5px,#8cfa50 92.5px,#b6f33b 93.5px,#d4e437 94.5px,#e8d338 95.5px,#f4c339 96.5px,#fda631 98.5px,#f9751d 103.5px,#ea4f0e 111.5px,#da3907 120.5px,#ca2a04 133.5px,#ce2e05 136.5px,#d53908 137.5px,#df5210 138.5px,#f09828 140.5px,#f39a29 141.5px,#f17e20 142.5px,#dd420a 144.5px,#cb2b04 146.5px,#c42503 149.5px,#c12302 157.5px)"></i><i style="left:39px;background:linear-gradient(#d13005 0.5px,#b21a01 35.5px,#b21a01 55.5px,#c22403 66.5px,#d83606 72.5px,#ea500e 76.5px,#f8721c 79.5px,#fda531 82.5px,#efca39 84.5px,#dedc37 85.5px,#c4ed38 86.5px,#9ff844 87.5px,#74fb60 88.5px,#54f979 89.5px,#57f976 90.5px,#7bfb5b 91.5px,#a6f741 92.5px,#c8eb37 93.5px,#e0db38 94.5px,#f9b937 96.5px,#fe9d2e 98.5px,#f76f1a 103.5px,#ea500e 110.5px,#da3907 119.5px,#d13005 128.5px,#d73b08 130.5px,#de510f 131.5px,#dfa829 133.5px,#e0bd30 134.5px,#e9ab2c 135.5px,#ee8120 136.5px,#e85b13 137.5px,#dd410a 138.5px,#d33406 139.5px,#c62703 143.5px,#c12302 157.5px)"></i><i style="left:45px;background:linear-gradient(#d13005 0.5px,#b21a01 35.5px,#b41b01 59.5px,#c22403 66.5px,#d93807 72.5px,#ec530f 76.5px,#f9781e 79.5px,#fcac33 82.5px,#e9d238 84.5px,#d4e437 85.5px,#b6f33b 86.5px,#6efc63 88.5px,#62fc6c 89.5px,#79fc5b 90.5px,#9ff944 91.5px,#c2ee38 92.5px,#dcde37 93.5px,#f7bc38 95.5px,#fe9e2e 97.5px,#f8731c 101.5px,#f15d13 105.5px,#e04009 114.5px,#d83706 122.5px,#db3c08 123.5px,#df4b0e 124.5px,#df6c1c 125.5px,#b6c945 127.5px,#bcd345 128.5px,#d9b836 129.5px,#ec8b24 130.5px,#eb6216 131.5px,#e2480c 132.5px,#d33205 134.5px,#c62703 141.5px,#c12302 157.5px)"></i><i style="left:51px;background:linear-gradient(#d13005 0.5px,#b21a01 35.5px,#b41b01 58.5px,#c32503 66.5px,#d63506 71.5px,#e94e0d 75.5px,#f7701b 78.5px,#fda330 81.5px,#f0c938 83.5px,#dedc37 84.5px,#a6f940 86.5px,#87fd50 87.5px,#79fe59 88.5px,#87fd50 89.5px,#c5ed37 91.5px,#dedc37 92.5px,#efca39 93.5px,#fda832 95.5px,#fb7e21 98.5px,#f26014 102.5px,#e3440a 110.5px,#dc3b08 115.5px,#e1440b 117.5px,#e55813 118.5px,#dd7c27 119.5px,#bca74a 120.5px,#96c769 121.5px,#9ad465 122.5px,#c5c548 123.5px,#e79f2e 124.5px,#f0761d 125.5px,#eb5711 126.5px,#dd3d08 128.5px,#c92903 137.5px,#c02202 157.5px)"></i><i style="left:57px;background:linear-gradient(#d23005 0.5px,#b21a01 35.5px,#b51c01 58.5px,#c42603 66.5px,#d83706 71.5px,#e6490c 74.5px,#f56a18 77.5px,#fd9d2e 80.5px,#f3c438 82.5px,#cde936 84.5px,#9cfc42 86.5px,#95fe45 87.5px,#a3fb3f 88.5px,#bcf238 89.5px,#ead038 91.5px,#fcac33 93.5px,#f8711b 97.5px,#f05b12 100.5px,#ea4f0d 103.5px,#e2430a 109.5px,#e64c0d 111.5px,#ea6015 112.5px,#e38327 113.5px,#bfa746 114.5px,#89b96a 115.5px,#76c675 116.5px,#9dd05c 117.5px,#d3c03e 118.5px,#f09a2b 119.5px,#f4761d 120.5px,#f05e14 121.5px,#ea500e 122.5px,#e2420a 124.5px,#d53306 129.5px,#c92903 136.5px,#bf2202 157.5px)"></i><i style="left:63px;background:linear-gradient(#d23005 0.5px,#b21a01 36.5px,#b41b01 56.5px,#c32503 65.5px,#d63506 70.5px,#e5470b 73.5px,#f46717 76.5px,#fd9b2d 79.5px,#f3c338 81.5px,#d0e836 83.5px,#bcf436 84.5px,#b3f837 85.5px,#b9f536 86.5px,#ccea36 87.5px,#f0c738 89.5px,#f9b435 90.5px,#f9751d 94.5px,#f36416 96.5px,#ee5610 99.5px,#eb520f 104.5px,#f26717 106.5px,#f18322 107.5px,#dea937 108.5px,#a9c25f 109.5px,#6ec38e 110.5px,#61ca94 111.5px,#8dd96b 112.5px,#cad044 113.5px,#efb032 114.5px,#f98f27 115.5px,#f46617 117.5px,#e5470b 121.5px,#d73606 127.5px,#ca2a04 135.5px,#bf2202 157.5px)"></i><i style="left:69px;background:linear-gradient(#d23005 0.5px,#b21a01 36.5px,#b51b01 55.5px,#c22403 64.5px,#d63406 69.5px,#ea500e 73.5px,#f56918 75.5px,#fca22f 78.5px,#f8b736 79.5px,#e1db37 81.5px,#d7e536 82.5px,#d6e535 83.5px,#dfdc37 84.5px,#fca631 87.5px,#fb8524 89.5px,#f66b19 92.5px,#f26114 96.5px,#f46516 99.5px,#f87b1f 101.5px,#f89228 102.5px,#ebb334 103.5px,#bfd04d 104.5px,#7dd081 105.5px,#50c0ae 106.5px,#58cd9d 107.5px,#90e265 108.5px,#cdd941 109.5px,#efbe36 110.5px,#fba32f 111.5px,#fa7d20 113.5px,#f46516 115.5px,#ea4f0e 118.5px,#e04009 122.5px,#c82903 136.5px,#bf2202 157.5px)"></i><i style="left:75px;background:linear-gradient(#d23005 0.5px,#b21a01 37.5px,#b41b01 53.5px,#bf2202 62.5px,#d23105 67.5px,#e74a0c 71.5px,#f36315 73.5px,#fc8926 75.5px,#fab435 77.5px,#f1c93a 79.5px,#f3c438 80.5px,#f8b635 81.5px,#fb8c27 83.5px,#f56c19 85.5px,#ef5a12 88.5px,#f05c12 92.5px,#f56817 95.5px,#fa8122 97.5px,#fb982b 98.5px,#f2b533 99.5px,#d3d43f 100.5px,#95e164 101.5px,#57cda6 102.5px,#41c1c2 103.5px,#5ddb93 104.5px,#9beb56 105.5px,#d1df3c 106.5px,#eec838 107.5px,#f9b335 108.5px,#f9751d 112.5px,#f05b12 115.5px,#e84b0c 118.5px,#cc2c04 133.5px,#bf2202 157.5px)"></i><i style="left:81px;background:linear-gradient(#d23005 0.5px,#b21a01 38.5px,#b41b01 51.5px,#bf2202 60.5px,#cc2b04 64.5px,#e14209 68.5px,#ee5911 70.5px,#fda431 74.5px,#fda832 75.5px,#fc9e2e 76.5px,#ed5a12 79.5px,#e64b0d 80.5px,#dd3d08 82.5px,#dd3d08 85.5px,#e7490c 89.5px,#f26114 92.5px,#fa8222 94.5px,#f5b534 96.5px,#ded33a 97.5px,#abe84e 98.5px,#67de89 99.5px,#40bfc6 100.5px,#41c7bd 101.5px,#6be87b 102.5px,#aaef48 103.5px,#d5e039 104.5px,#edcc39 105.5px,#fca933 107.5px,#fb8022 110.5px,#f66c19 112.5px,#e6490b 118.5px,#cb2a04 134.5px,#bf2202 157.5px)"></i><i style="left:87px;background:linear-gradient(#d23005 0.5px,#b41b01 31.5px,#b41b01 48.5px,#be2102 57.5px,#c92903 61.5px,#d93807 64.5px,#e74c0d 66.5px,#fa7d21 69.5px,#fb8223 70.5px,#f7781f 71.5px,#f06316 72.5px,#d83a08 74.5px,#ce2f05 75.5px,#c22403 77.5px,#c22403 79.5px,#d63506 84.5px,#e94f0e 88.5px,#f9781e 91.5px,#fba530 93.5px,#f3be36 94.5px,#dcd939 95.5px,#adec48 96.5px,#6ce27c 97.5px,#41b5ba 98.5px,#3babc7 99.5px,#52d897 100.5px,#8cf258 101.5px,#c1ec3c 102.5px,#e0da38 103.5px,#f1c839 104.5px,#fda932 106.5px,#fb8223 109.5px,#f46717 112.5px,#ea4f0e 116.5px,#e14209 120.5px,#c82803 136.5px,#bf2202 157.5px)"></i><i style="left:93px;background:linear-gradient(#d23005 0.5px,#b41b01 31.5px,#ba1e02 51.5px,#d02f05 59.5px,#de3f09 61.5px,#f26115 64.5px,#f16014 65.5px,#e95310 66.5px,#cd3006 68.5px,#b51c02 70.5px,#ad1801 72.5px,#b41b01 75.5px,#cc2b04 80.5px,#e6490c 85.5px,#f56918 88.5px,#fca12f 91.5px,#f7b736 92.5px,#e9cf38 93.5px,#cae53b 94.5px,#94f054 95.5px,#56d38a 96.5px,#3996ab 97.5px,#389aad 98.5px,#54d88b 99.5px,#8ef355 100.5px,#c0ed3b 101.5px,#dedc38 102.5px,#f8bb38 104.5px,#fe9f2f 106.5px,#f8731c 110.5px,#f15d13 113.5px,#e74a0c 117.5px,#ca2a04 134.5px,#bf2202 157.5px)"></i><i style="left:99px;background:linear-gradient(#d23005 0.5px,#b81d02 27.5px,#b41b01 40.5px,#c42503 52.5px,#d33306 55.5px,#e84d0d 58.5px,#e84e0d 59.5px,#e1460b 60.5px,#b61d02 63.5px,#a61401 65.5px,#a31301 67.5px,#ad1701 71.5px,#cc2b04 78.5px,#e5470b 83.5px,#f8721c 87.5px,#fca731 90.5px,#f6bc37 91.5px,#e7d238 92.5px,#c9e73a 93.5px,#96f251 94.5px,#58d885 95.5px,#3994a3 96.5px,#3687a5 97.5px,#48ca95 98.5px,#7ef261 99.5px,#b4f13e 100.5px,#d7e237 101.5px,#f6c138 103.5px,#fda531 105.5px,#f56818 111.5px,#ee5610 114.5px,#e3430a 119.5px,#ca2a04 134.5px,#bf2202 157.5px)"></i><i style="left:105px;background:linear-gradient(#d23005 0.5px,#b61c02 35.5px,#c22403 47.5px,#e2430a 53.5px,#dc3e09 54.5px,#b31c02 57.5px,#a01101 60.5px,#a21201 64.5px,#b41b01 71.5px,#d33205 78.5px,#eb510e 83.5px,#f8731c 86.5px,#fd932a 88.5px,#f8b936 90.5px,#ebce38 91.5px,#d3e338 92.5px,#a7f246 93.5px,#6ae874 94.5px,#3eaea0 95.5px,#357ca5 96.5px,#3baba2 97.5px,#63e779 98.5px,#9ef549 99.5px,#c8ea38 100.5px,#e2d938 101.5px,#f9ba37 103.5px,#fea02f 105.5px,#f9761e 109.5px,#e94d0d 116.5px,#db3a07 123.5px,#ca2a04 134.5px,#bf2202 157.5px)"></i><i style="left:111px;background:linear-gradient(#d23105 0.5px,#b71d02 34.5px,#bf2202 41.5px,#dc3b08 47.5px,#d73707 48.5px,#ab1701 52.5px,#a41301 54.5px,#a41301 62.5px,#b61d02 70.5px,#ce2e04 76.5px,#e6480b 81.5px,#f7701b 85.5px,#fda02f 88.5px,#f1c638 90.5px,#dfda38 91.5px,#beed3c 92.5px,#89f359 93.5px,#4fd48f 94.5px,#378ea7 95.5px,#3587a8 96.5px,#47cb97 97.5px,#7bf362 98.5px,#b1f23f 99.5px,#d4e437 100.5px,#f4c339 102.5px,#fda832 104.5px,#fc8725 107.5px,#f46516 111.5px,#e2430a 119.5px,#c82803 136.5px,#bf2202 157.5px)"></i><i style="left:117px;background:linear-gradient(#d23105 0.5px,#b91e02 30.5px,#c02302 36.5px,#d63506 41.5px,#d33206 42.5px,#ac1701 46.5px,#a51301 51.5px,#a71501 62.5px,#ba1f02 70.5px,#d13005 76.5px,#e84c0d 81.5px,#f9781e 85.5px,#fd972c 87.5px,#f7bb37 89.5px,#ebcf38 90.5px,#d4e338 91.5px,#acf243 92.5px,#71ee6d 93.5px,#41bea1 94.5px,#3682ad 95.5px,#389fac 96.5px,#55df88 97.5px,#8ef653 98.5px,#beef3a 99.5px,#dbdf37 100.5px,#f6bf38 102.5px,#fda531 104.5px,#fc8524 107.5px,#f46416 111.5px,#e2420a 119.5px,#c82803 136.5px,#bf2202 157.5px)"></i><i style="left:123px;background:linear-gradient(#d23105 0.5px,#bd2002 26.5px,#c02202 30.5px,#d23105 35.5px,#ae1801 40.5px,#a71401 46.5px,#aa1601 62.5px,#bc2002 70.5px,#d43205 76.5px,#ea500e 81.5px,#fa7e21 85.5px,#fbb034 88.5px,#e4d638 90.5px,#c9e939 91.5px,#9bf44c 92.5px,#5fe77e 93.5px,#3badae 94.5px,#3684b6 95.5px,#3cb5ab 96.5px,#63eb79 97.5px,#9df649 98.5px,#c7eb38 99.5px,#e0db38 100.5px,#f8bc38 102.5px,#fe972c 105.5px,#f8721c 109.5px,#e84b0c 116.5px,#db3a07 123.5px,#ca2a04 134.5px,#bf2202 157.5px)"></i><i style="left:129px;background:linear-gradient(#d23105 0.5px,#c22403 22.5px,#d02f05 29.5px,#b11901 34.5px,#aa1601 41.5px,#aa1601 61.5px,#be2102 70.5px,#d53406 76.5px,#ec530f 81.5px,#f8741d 84.5px,#fab536 88.5px,#dfdb38 90.5px,#c0ed3b 91.5px,#8df555 92.5px,#53df8e 93.5px,#39a4bc 94.5px,#3890c2 95.5px,#41c7a8 96.5px,#6ff16d 97.5px,#a7f543 98.5px,#cde838 99.5px,#e4d738 100.5px,#f9b937 102.5px,#fe952b 105.5px,#f8711b 109.5px,#e84b0c 116.5px,#d93807 124.5px,#ca2a04 134.5px,#bf2202 157.5px)"></i><i style="left:135px;background:linear-gradient(#d23105 0.5px,#c72803 17.5px,#d23105 23.5px,#b41b02 28.5px,#ac1701 36.5px,#aa1601 59.5px,#bf2202 70.5px,#d73506 76.5px,#e94d0d 80.5px,#f9781e 84.5px,#fd972b 86.5px,#f8b937 88.5px,#edcc38 89.5px,#d9df38 90.5px,#b7f03e 91.5px,#81f45e 92.5px,#4bd79b 93.5px,#399fc7 94.5px,#389cc9 95.5px,#46d4a1 96.5px,#79f463 97.5px,#aff340 98.5px,#d2e537 99.5px,#f3c539 101.5px,#fdab33 103.5px,#fb8022 107.5px,#f36215 111.5px,#e24209 119.5px,#c92903 135.5px,#bf2202 157.5px)"></i><b><i style="left:0px;background:linear-gradient(#d13005 0.5px,#b21a01 34.5px,#b21a01 58.5px,#c22403 67.5px,#d43305 72.5px,#ea500e 77.5px,#f7711b 80.5px,#fab335 84.5px,#e5d638 86.5px,#cde837 87.5px,#a9f541 88.5px,#76f961 89.5px,#40f18f 90.5px,#27e9a9 91.5px,#39ef97 92.5px,#6bf869 93.5px,#a0f745 94.5px,#c6ec38 95.5px,#dfdc37 96.5px,#f8bd38 98.5px,#fea330 100.5px,#fc8424 103.5px,#f66a18 107.5px,#ec520e 112.5px,#e04009 118.5px,#c82803 135.5px,#bf2202 157.5px)"></i><i style="left:6px;background:linear-gradient(#d13005 0.5px,#b21a01 34.5px,#b21a01 58.5px,#c22403 67.5px,#d93707 73.5px,#eb510e 77.5px,#f8721c 80.5px,#fda330 83.5px,#f2c639 85.5px,#e2d838 86.5px,#caea38 87.5px,#a4f743 88.5px,#70f965 89.5px,#3df092 90.5px,#29eba5 91.5px,#41f18e 92.5px,#75f961 93.5px,#a7f641 94.5px,#cbea37 95.5px,#e2d938 96.5px,#f9ba38 98.5px,#fea02f 100.5px,#fc8323 103.5px,#f36315 108.5px,#e04009 118.5px,#c82803 135.5px,#c02302 157.5px)"></i><i style="left:12px;background:linear-gradient(#d13005 0.5px,#b21a01 34.5px,#b21a01 58.5px,#c32403 67.5px,#d43306 72.5px,#e74a0c 76.5px,#f46717 79.5px,#fda531 83.5px,#f0c939 85.5px,#e0db38 86.5px,#c5ec38 87.5px,#9ef846 88.5px,#3af194 90.5px,#2deda0 91.5px,#4bf484 92.5px,#80fa59 93.5px,#b0f43e 94.5px,#d0e737 95.5px,#e6d638 96.5px,#f3c639 97.5px,#fdaa33 99.5px,#fd8926 102.5px,#f76d1a 106.5px,#ed540f 111.5px,#e14209 117.5px,#c82803 135.5px,#c12302 157.5px)"></i><i style="left:18px;background:linear-gradient(#d13005 0.5px,#b21a01 34.5px,#b21a01 57.5px,#c32403 67.5px,#d93807 73.5px,#ec530f 77.5px,#f9761d 80.5px,#fca832 83.5px,#eecc39 85.5px,#dcde37 86.5px,#c0ef39 87.5px,#97f94a 88.5px,#62f870 89.5px,#38f195 90.5px,#34f099 91.5px,#59f777 92.5px,#8efa4f 93.5px,#b9f23b 94.5px,#d6e337 95.5px,#f5c239 97.5px,#fd9028 101.5px,#f9771e 104.5px,#ee5711 110.5px,#e3440a 116.5px,#ca2a04 133.5px,#c22403 151.5px,#cb2c04 154.5px,#ea5712 157.5px)"></i><i style="left:24px;background:linear-gradient(#d13005 0.5px,#b21a01 34.5px,#b21a01 57.5px,#c32503 67.5px,#d53406 72.5px,#e84c0d 76.5px,#f66b19 79.5px,#fcab33 83.5px,#ebcf38 85.5px,#d8e137 86.5px,#baf13b 87.5px,#8efa4f 88.5px,#5bf875 89.5px,#39f293 90.5px,#40f38d 91.5px,#9cf847 93.5px,#c3ee38 94.5px,#ddde37 95.5px,#f7bd38 97.5px,#fea230 99.5px,#f9741d 104.5px,#ec520f 111.5px,#dd3c08 119.5px,#cb2a04 132.5px,#c32503 141.5px,#c82904 146.5px,#d83f0a 148.5px,#f06c1a 150.5px,#f26e1b 151.5px,#d43507 154.5px,#c32503 157.5px)"></i><i style="left:30px;background:linear-gradient(#d13005 0.5px,#b21a01 35.5px,#b21a01 56.5px,#c42503 67.5px,#d63506 72.5px,#e94d0d 76.5px,#f66d1a 79.5px,#fbaf34 83.5px,#e7d438 85.5px,#d1e637 86.5px,#b1f43d 87.5px,#84fa55 88.5px,#55f879 89.5px,#3ef48d 90.5px,#51f77c 91.5px,#80fa58 92.5px,#adf53f 93.5px,#cee837 94.5px,#e4d738 95.5px,#f2c739 96.5px,#fda933 98.5px,#f9771e 103.5px,#eb500e 111.5px,#db3a07 120.5px,#c82803 134.5px,#c72803 138.5px,#d03106 140.5px,#d9430b 141.5px,#f08222 143.5px,#f58e27 144.5px,#f37c20 145.5px,#de430b 147.5px,#d33306 148.5px,#c42603 151.5px,#c12302 157.5px)"></i><i style="left:36px;background:linear-gradient(#d13005 0.5px,#b21a01 35.5px,#b21a01 55.5px,#b61c02 61.5px,#c42603 67.5px,#d73606 72.5px,#ea4f0e 76.5px,#f7701b 79.5px,#fab436 83.5px,#e2d938 85.5px,#c9ea37 86.5px,#a6f741 87.5px,#79fb5d 88.5px,#52f87b 89.5px,#4cf880 90.5px,#6bfa67 91.5px,#98f948 92.5px,#bff039 93.5px,#dae037 94.5px,#f6be38 96.5px,#fea230 98.5px,#f8721c 103.5px,#eb510e 110.5px,#db3a07 119.5px,#cd2c04 131.5px,#d23406 133.5px,#da440b 134.5px,#e26515 135.5px,#e79023 136.5px,#eaac2c 137.5px,#efa32a 138.5px,#e85b13 140.5px,#dc410a 141.5px,#cc2c04 143.5px,#c42503 147.5px,#c12302 157.5px)"></i><i style="left:42px;background:linear-gradient(#d13005 0.5px,#b21a01 35.5px,#b41b01 59.5px,#c52603 67.5px,#d83706 72.5px,#eb520f 76.5px,#f8751d 79.5px,#fca832 82.5px,#eccd38 84.5px,#dae037 85.5px,#bef039 86.5px,#98fa48 87.5px,#6ffc63 88.5px,#59fa74 89.5px,#66fb6a 90.5px,#b4f43c 92.5px,#d2e637 93.5px,#f4c339 95.5px,#fda531 97.5px,#f9781e 101.5px,#f15d13 106.5px,#e04009 115.5px,#d43306 125.5px,#dc430b 127.5px,#e05f15 128.5px,#cebb34 130.5px,#d1ca37 131.5px,#e2b12f 132.5px,#ed8521 133.5px,#e95d14 134.5px,#df430b 135.5px,#d02f05 137.5px,#c62703 142.5px,#c12302 157.5px)"></i><i style="left:48px;background:linear-gradient(#d13005 0.5px,#b21a01 35.5px,#b51b01 59.5px,#c32403 66.5px,#d53406 71.5px,#e84c0c 75.5px,#f66c19 78.5px,#fbb135 82.5px,#e4d638 84.5px,#aef63d 86.5px,#8afc4f 87.5px,#70fd61 88.5px,#72fd60 89.5px,#b2f53c 91.5px,#e6d538 93.5px,#f3c438 94.5px,#fda330 96.5px,#fa7d21 99.5px,#f26115 103.5px,#e2430a 112.5px,#da3a07 119.5px,#de4009 120.5px,#e25211 121.5px,#dd7723 122.5px,#c2a642 123.5px,#a2cd5a 124.5px,#a8d755 125.5px,#cfbf3e 126.5px,#ea9429 127.5px,#ed6a18 128.5px,#e64e0e 129.5px,#d83707 131.5px,#c62703 140.5px,#c02202 157.5px)"></i><i style="left:54px;background:linear-gradient(#d13005 0.5px,#b21a01 35.5px,#b41b01 58.5px,#c42503 66.5px,#d73606 71.5px,#ea500e 75.5px,#f8741c 78.5px,#fca932 81.5px,#ebcf38 83.5px,#bcf238 85.5px,#8afe4e 87.5px,#8afe4d 88.5px,#bef038 90.5px,#ebcf38 92.5px,#f7bd37 93.5px,#fd9b2d 95.5px,#f8731c 98.5px,#f15d13 101.5px,#eb510e 104.5px,#e14109 110.5px,#e04009 113.5px,#e3480c 114.5px,#e75d14 115.5px,#df8127 116.5px,#baa548 117.5px,#8cbc68 118.5px,#89cb6a 119.5px,#b5cb4f 120.5px,#e1ae35 121.5px,#f28523 122.5px,#f06416 123.5px,#e9500e 124.5px,#df3f09 126.5px,#c82903 137.5px,#c02202 157.5px)"></i><i style="left:60px;background:linear-gradient(#d23005 0.5px,#b21a01 36.5px,#b41b01 57.5px,#c52603 66.5px,#d93807 71.5px,#e84c0d 74.5px,#f76f1b 77.5px,#fca531 80.5px,#edcd38 82.5px,#c3ef36 84.5px,#adf93a 85.5px,#a4fc3d 86.5px,#acf93b 87.5px,#c1f037 88.5px,#ebce38 90.5px,#fca932 92.5px,#f76e1a 96.5px,#eb510e 101.5px,#e74a0c 107.5px,#ea520f 108.5px,#ee6316 109.5px,#ea8424 110.5px,#ccaa41 111.5px,#92bd6d 112.5px,#6ac387 113.5px,#7ed073 114.5px,#b8d14d 115.5px,#e6b535 116.5px,#f69027 117.5px,#f6721c 118.5px,#f15f14 119.5px,#e84c0d 121.5px,#e2420a 123.5px,#c92903 136.5px,#bf2202 157.5px)"></i><i style="left:66px;background:linear-gradient(#d23005 0.5px,#b21a01 36.5px,#b51c01 56.5px,#c42503 65.5px,#d83706 70.5px,#e74a0c 73.5px,#f26014 75.5px,#fd932a 78.5px,#f6bc37 80.5px,#d9e136 82.5px,#caed35 83.5px,#c3f134 84.5px,#dbdf37 86.5px,#f7ba36 88.5px,#fca731 89.5px,#fc8624 91.5px,#f56a18 94.5px,#f05a12 98.5px,#ef5a12 101.5px,#f46b19 103.5px,#f78021 104.5px,#efa02e 105.5px,#cbc246 106.5px,#8bcb76 107.5px,#59c2a2 108.5px,#5ecd96 109.5px,#95de64 110.5px,#d1d241 111.5px,#f2b333 112.5px,#fb962a 113.5px,#f7701b 115.5px,#ef5a12 117.5px,#e6480b 120.5px,#dd3c08 124.5px,#c62703 139.5px,#bf2202 157.5px)"></i><i style="left:72px;background:linear-gradient(#d23005 0.5px,#b21a01 36.5px,#b21a01 49.5px,#be2102 62.5px,#d43205 68.5px,#e84c0d 72.5px,#f36516 74.5px,#fd9f2e 77.5px,#f2c738 79.5px,#e5d938 81.5px,#f1c437 83.5px,#fc9d2d 85.5px,#fa7c20 87.5px,#f46617 90.5px,#f36215 94.5px,#f56a18 97.5px,#fa8323 99.5px,#fa9a2b 100.5px,#ecb935 101.5px,#c3d649 102.5px,#7fd87b 103.5px,#4dc2b3 104.5px,#4cc8ae 105.5px,#7ce373 106.5px,#bce346 107.5px,#e6cd39 108.5px,#f8b435 109.5px,#fd9f2e 110.5px,#fa7e21 112.5px,#f46717 114.5px,#e6480b 119.5px,#d73606 126.5px,#ca2a04 135.5px,#bf2202 157.5px)"></i><i style="left:78px;background:linear-gradient(#d23005 0.5px,#b21a01 37.5px,#b41b01 52.5px,#c12402 62.5px,#d63506 67.5px,#e74a0c 70.5px,#f36416 72.5px,#fc8d27 74.5px,#fbb336 76.5px,#f9b938 77.5px,#fab335 78.5px,#f7751d 81.5px,#ed5711 83.5px,#e84c0d 85.5px,#e84c0c 88.5px,#ef5911 92.5px,#f56b19 94.5px,#fb8e28 96.5px,#f8a931 97.5px,#e7c838 98.5px,#bae248 99.5px,#76e17c 100.5px,#46c5bc 101.5px,#41c7be 102.5px,#6ae580 103.5px,#a9ed4a 104.5px,#d7de3a 105.5px,#efc838 106.5px,#f9b536 107.5px,#fc8624 110.5px,#f76f1b 112.5px,#e74a0c 118.5px,#cb2a04 134.5px,#bf2202 157.5px)"></i><i style="left:84px;background:linear-gradient(#d23005 0.5px,#b51b01 30.5px,#b51b01 50.5px,#bf2202 59.5px,#cc2c04 63.5px,#dc3c08 66.5px,#ea510f 68.5px,#fc8825 71.5px,#fd942a 72.5px,#fc922a 73.5px,#f98223 74.5px,#e95310 76.5px,#d73707 78.5px,#cf2e04 80.5px,#d02f05 82.5px,#e04109 87.5px,#ee5711 90.5px,#f8741d 92.5px,#fba12f 94.5px,#f3bc36 95.5px,#dad83a 96.5px,#a7eb4e 97.5px,#65de88 98.5px,#3fb8c6 99.5px,#3ebdc3 100.5px,#62e584 101.5px,#9ff24c 102.5px,#cee539 103.5px,#e8d238 104.5px,#fbb035 106.5px,#f8711b 111.5px,#e84c0c 117.5px,#da3907 124.5px,#cc2b04 133.5px,#bf2202 157.5px)"></i><i style="left:90px;background:linear-gradient(#d23005 0.5px,#b41b01 31.5px,#b41b01 47.5px,#bb2002 54.5px,#c72803 59.5px,#d73606 62.5px,#f7711b 67.5px,#f56c1a 68.5px,#d23407 71.5px,#c52804 72.5px,#b81d02 74.5px,#b91e02 77.5px,#d13005 82.5px,#ea500e 87.5px,#f97a1f 90.5px,#fca430 92.5px,#f5bc36 93.5px,#e2d538 94.5px,#baea41 95.5px,#7cea69 96.5px,#47bda4 97.5px,#3997bd 98.5px,#43bfa9 99.5px,#71ec6f 100.5px,#acf243 101.5px,#d3e338 102.5px,#e9d138 103.5px,#fbb135 105.5px,#fd8a26 108.5px,#f66d19 111.5px,#e84b0c 117.5px,#da3907 124.5px,#ca2a04 134.5px,#bf2202 157.5px)"></i><i style="left:96px;background:linear-gradient(#d23005 0.5px,#b51b01 31.5px,#b41b01 43.5px,#bb1f02 50.5px,#c72803 55.5px,#d83807 58.5px,#ec5510 61.5px,#ec5510 62.5px,#e54b0d 63.5px,#ba2002 66.5px,#aa1601 68.5px,#a81501 70.5px,#b01901 73.5px,#cc2c04 79.5px,#e6490c 84.5px,#f9761e 88.5px,#fab034 91.5px,#f0c638 92.5px,#dadd38 93.5px,#b0ef43 94.5px,#72e96e 95.5px,#41b29e 96.5px,#3683a8 97.5px,#3eb2a2 98.5px,#69ea74 99.5px,#a4f446 100.5px,#cee738 101.5px,#e6d638 102.5px,#fab637 104.5px,#f8721c 110.5px,#e74a0c 117.5px,#ca2a04 134.5px,#bf2202 157.5px)"></i><i style="left:102px;background:linear-gradient(#d23005 0.5px,#b81d02 27.5px,#b51c01 38.5px,#c12402 49.5px,#e5480c 56.5px,#df420a 57.5px,#b31c02 60.5px,#a31301 62.5px,#a31201 66.5px,#b11901 71.5px,#cb2b04 77.5px,#e4450a 82.5px,#f66c19 86.5px,#fd9e2e 89.5px,#f1c638 91.5px,#dddb38 92.5px,#b8ee3f 93.5px,#7eef62 94.5px,#47c396 95.5px,#3682a4 96.5px,#3898a4 97.5px,#55dc87 98.5px,#90f553 99.5px,#c0ee3a 100.5px,#dddd38 101.5px,#f7bd38 103.5px,#fe962b 106.5px,#f76f1a 110.5px,#e7490c 117.5px,#ca2a04 134.5px,#bf2202 157.5px)"></i><i style="left:108px;background:linear-gradient(#d23005 0.5px,#b71d02 28.5px,#b71d02 37.5px,#c42603 45.5px,#df3f09 50.5px,#da3a08 51.5px,#b31c02 54.5px,#a21201 57.5px,#a31201 63.5px,#b71d02 71.5px,#d13005 77.5px,#e84d0d 82.5px,#f9791f 86.5px,#fbad33 89.5px,#e5d538 91.5px,#c8e83a 92.5px,#98f34f 93.5px,#5bdf83 94.5px,#399ca5 95.5px,#357fa6 96.5px,#41bd9e 97.5px,#70ef6d 98.5px,#a9f443 99.5px,#cfe738 100.5px,#e5d638 101.5px,#fab737 103.5px,#f9751d 109.5px,#e84c0d 116.5px,#db3a07 123.5px,#cb2b04 133.5px,#bf2202 157.5px)"></i><i style="left:114px;background:linear-gradient(#d23105 0.5px,#b81d02 31.5px,#be2102 38.5px,#d93807 44.5px,#d53506 45.5px,#ac1701 49.5px,#a41301 52.5px,#a51301 61.5px,#b81e02 70.5px,#d02f05 76.5px,#e74a0c 81.5px,#f8741d 85.5px,#fda531 88.5px,#eecb38 90.5px,#d9df38 91.5px,#b5f03f 92.5px,#7cf163 93.5px,#46c898 94.5px,#3585a8 95.5px,#3692a9 96.5px,#4ed790 97.5px,#86f55a 98.5px,#b8f03c 99.5px,#d8e137 100.5px,#f5c139 102.5px,#fda632 104.5px,#fc8524 107.5px,#f46516 111.5px,#e2420a 119.5px,#c82803 136.5px,#bf2202 157.5px)"></i><i style="left:120px;background:linear-gradient(#d23105 0.5px,#bb1f02 28.5px,#c02202 33.5px,#d43306 38.5px,#ad1801 43.5px,#a71401 46.5px,#a81501 61.5px,#bb1f02 70.5px,#d33205 76.5px,#e94e0d 81.5px,#fa7b20 85.5px,#fcac33 88.5px,#e8d238 90.5px,#cee638 91.5px,#a3f447 92.5px,#67ea76 93.5px,#3db4a7 94.5px,#3682b1 95.5px,#3aaaac 96.5px,#5ce681 97.5px,#96f64e 98.5px,#c3ed39 99.5px,#dedd38 100.5px,#f7bd38 102.5px,#fe982c 105.5px,#f8721c 109.5px,#e84b0c 116.5px,#db3a07 123.5px,#ca2a04 134.5px,#bf2202 157.5px)"></i><i style="left:126px;background:linear-gradient(#d23105 0.5px,#bf2202 24.5px,#c32503 28.5px,#d13005 32.5px,#b01901 37.5px,#a91601 41.5px,#aa1601 61.5px,#bd2102 70.5px,#d53306 76.5px,#eb520f 81.5px,#f8731c 84.5px,#fab335 88.5px,#e2d938 90.5px,#c4eb3a 91.5px,#94f550 92.5px,#58e387 93.5px,#3aa7b5 94.5px,#378abd 95.5px,#3ebfaa 96.5px,#69ee73 97.5px,#a2f546 98.5px,#caea38 99.5px,#e2d938 100.5px,#f9bb38 102.5px,#fe962b 105.5px,#f8711b 109.5px,#e84b0c 116.5px,#db3a07 123.5px,#ca2a04 134.5px,#bf2202 157.5px)"></i><i style="left:132px;background:linear-gradient(#d23105 0.5px,#c52603 19.5px,#d13005 26.5px,#b21a01 31.5px,#ac1701 35.5px,#aa1601 60.5px,#be2202 70.5px,#d23105 75.5px,#e84c0c 80.5px,#f9771e 84.5px,#fda631 87.5px,#efca38 89.5px,#dcdd38 90.5px,#bbef3c 91.5px,#87f559 92.5px,#4edb95 93.5px,#39a1c2 94.5px,#3896c7 95.5px,#44cea5 96.5px,#74f368 97.5px,#abf441 98.5px,#d0e737 99.5px,#e6d638 100.5px,#f2c639 101.5px,#fdab33 103.5px,#fd8a26 106.5px,#f56918 110.5px,#e4450a 118.5px,#ca2a04 134.5px,#bf2202 157.5px)"></i><i style="left:138px;background:linear-gradient(#d23105 0.5px,#ca2a04 14.5px,#d33205 20.5px,#b51c01 26.5px,#ac1701 38.5px,#ac1701 61.5px,#bf2202 70.5px,#d73606 76.5px,#e94e0d 80.5px,#fa7a1f 84.5px,#fd982c 86.5px,#f7bb37 88.5px,#ecce38 89.5px,#d7e138 90.5px,#b3f13f 91.5px,#7cf362 92.5px,#47d4a1 93.5px,#399ecc 94.5px,#38a2ca 95.5px,#49d99d 96.5px,#7ef55f 97.5px,#b2f33e 98.5px,#d4e437 99.5px,#f4c439 101.5px,#fda933 103.5px,#fb8022 107.5px,#f36215 111.5px,#e24209 119.5px,#c92903 135.5px,#bf2202 157.5px)"></i></b></div>
<div class="p" style="left:43px;top:544px;background:linear-gradient(#ffa5a5 0.5px,#ffaeae 37.5px,#ffc5c5 55.5px,#fff7f7 68.5px,#fff9f9 90.5px,#fff2f2 92.5px,#ffd3d3 93.5px,#f55 95.5px,#ff3d3d 96.5px,#ff3636 113.5px,#ff6464 139.5px,#ff7878 157.5px)"></div>
<div class="p" style="left:192px;top:544px"><i style="left:-3px;background:linear-gradient(#ffa5a5 0.5px,#ffa9a9 29.5px,#ffb2b2 40.5px,#ffc9c9 55.5px,#fff8f8 67.5px,#fff9f9 90.5px,#fff6f6 91.5px,#ffe0e0 92.5px,#ff5757 94.5px,#ff3d3d 95.5px,#ff3636 113.5px,#ff6363 138.5px,#ff7979 157.5px)"></i><i style="left:3px;background:linear-gradient(#ffa5a5 0.5px,#ffa9a9 29.5px,#ffb2b2 40.5px,#ffc9c9 55.5px,#fff8f8 67.5px,#fff9f9 90.5px,#fff6f6 91.5px,#ffdede 92.5px,#f55 94.5px,#ff3d3d 95.5px,#ff3535 112.5px,#ff6060 136.5px,#ff7979 157.5px)"></i><i style="left:9px;background:linear-gradient(#ffa5a5 0.5px,#ffa9a9 29.5px,#ffb2b2 40.5px,#ffc6c6 54.5px,#fff8f8 67.5px,#fff9f9 90.5px,#fff6f6 91.5px,#ffdcdc 92.5px,#ff5353 94.5px,#ff3d3d 95.5px,#ff3535 112.5px,#ff6464 138.5px,#ff7b7b 157.5px)"></i><i style="left:15px;background:linear-gradient(#ffa5a5 0.5px,#ffa9a9 29.5px,#ffb2b2 40.5px,#ffc7c7 54.5px,#fff8f8 67.5px,#fff9f9 90.5px,#fff5f5 91.5px,#ffdada 92.5px,#ff5151 94.5px,#ff3c3c 95.5px,#ff3535 112.5px,#ff6464 138.5px,#f77 157.5px)"></i><i style="left:21px;background:linear-gradient(#ffa5a5 0.5px,#ffa9a9 29.5px,#ffb2b2 40.5px,#ffc7c7 54.5px,#fff8f8 67.5px,#fff9f9 90.5px,#fff4f4 91.5px,#ffd6d6 92.5px,#ff5050 94.5px,#ff3c3c 95.5px,#ff3636 112.5px,#ff6c6c 142.5px,#ff7575 157.5px)"></i><i style="left:27px;background:linear-gradient(#ffa5a5 0.5px,#ffa9a9 29.5px,#ffb2b2 40.5px,#ffc4c4 53.5px,#fff8f8 67.5px,#fff9f9 90.5px,#fff3f3 91.5px,#ffd1d1 92.5px,#ff8989 93.5px,#ff4d4d 94.5px,#ff3b3b 95.5px,#ff3636 112.5px,#ff6868 138.5px,#ff6868 145.5px,#ff7575 157.5px)"></i><i style="left:33px;background:linear-gradient(#ffa5a5 0.5px,#ffa9a9 29.5px,#ffb2b2 40.5px,#ffc7c7 54.5px,#fff8f8 67.5px,#fff9f9 89.5px,#fff1f1 91.5px,#ffcaca 92.5px,#ff8080 93.5px,#ff4949 94.5px,#ff3a3a 95.5px,#ff3535 111.5px,#ff6161 132.5px,#ff5e5e 139.5px,#f77 157.5px)"></i><i style="left:39px;background:linear-gradient(#ffa5a5 0.5px,#ffa9a9 29.5px,#ffb2b2 40.5px,#ffc7c7 54.5px,#fff8f8 67.5px,#fff9f9 89.5px,#fff8f8 90.5px,#fee 91.5px,#ffc1c1 92.5px,#ff7878 93.5px,#ff4646 94.5px,#ff3939 95.5px,#ff3d3d 98.5px,#ff3535 110.5px,#ff5757 125.5px,#ff5252 132.5px,#ff6969 144.5px,#f77 157.5px)"></i><i style="left:45px;background:linear-gradient(#ffa5a5 0.5px,#ffa9a9 29.5px,#ffb2b2 40.5px,#ffc7c7 54.5px,#fff8f8 67.5px,#fff9f9 89.5px,#fff7f7 90.5px,#ffe7e7 91.5px,#ffb3b3 92.5px,#ff6c6c 93.5px,#ff4242 94.5px,#ff3838 95.5px,#ff3636 109.5px,#ff4f4f 120.5px,#ff4545 126.5px,#ff6363 140.5px,#f77 157.5px)"></i><i style="left:51px;background:linear-gradient(#ffa5a5 0.5px,#ffadad 35.5px,#ffc5c5 53.5px,#fff8f8 67.5px,#fff9f9 89.5px,#fff4f4 90.5px,#ffd9d9 91.5px,#ff5f5f 93.5px,#ff3e3e 94.5px,#ff3636 95.5px,#ff3636 106.5px,#ff4848 113.5px,#ff3a3a 120.5px,#ff6161 138.5px,#f77 157.5px)"></i><i style="left:57px;background:linear-gradient(#ffa5a5 0.5px,#ffadad 35.5px,#ffc5c5 53.5px,#fff8f8 67.5px,#fff9f9 88.5px,#fff7f7 89.5px,#ffe8e8 90.5px,#ffbdbd 91.5px,#ff8383 92.5px,#f55 93.5px,#ff3e3e 94.5px,#ff3636 95.5px,#ff3636 101.5px,#ff4343 107.5px,#ff3737 111.5px,#ff3535 116.5px,#ff5f5f 137.5px,#f77 157.5px)"></i><i style="left:63px;background:linear-gradient(#ffa5a5 0.5px,#ffadad 35.5px,#ffc5c5 53.5px,#fff8f8 67.5px,#fff9f9 87.5px,#fff7f7 88.5px,#ffe9e9 89.5px,#ff8383 92.5px,#ff6a6a 93.5px,#ff5b5b 94.5px,#ff4d4d 96.5px,#ff4646 101.5px,#ff3737 105.5px,#ff3636 116.5px,#ff6464 140.5px,#f77 157.5px)"></i><i style="left:69px;background:linear-gradient(#ffa5a5 0.5px,#ffa9a9 29.5px,#ffb2b2 40.5px,#ffc7c7 54.5px,#fff9f9 67.5px,#fff9f9 85.5px,#fff4f4 87.5px,#ffc6c6 90.5px,#ff9898 96.5px,#ff5050 99.5px,#ff3f3f 100.5px,#ff3a3a 101.5px,#ff3636 115.5px,#ff6060 137.5px,#f77 157.5px)"></i><i style="left:75px;background:linear-gradient(#ffa5a5 0.5px,#ffadad 35.5px,#ffc5c5 53.5px,#fff9f9 67.5px,#fff9f9 93.5px,#fff0f0 95.5px,#ffc7c7 96.5px,#ff7b7b 97.5px,#ff4949 98.5px,#ff3d3d 99.5px,#ff3636 115.5px,#ff6060 137.5px,#ff7878 157.5px)"></i><i style="left:81px;background:linear-gradient(#ffa5a5 0.5px,#ffa9a9 29.5px,#ffbaba 47.5px,#ffcaca 55.5px,#fee 63.5px,#fff9f9 67.5px,#fff9f9 75.5px,#ffefef 79.5px,#fff9f9 83.5px,#fff9f9 93.5px,#fff4f4 94.5px,#ffd1d1 95.5px,#ff8080 96.5px,#ff4949 97.5px,#ff3e3e 98.5px,#ff3535 114.5px,#ff6565 140.5px,#ff7878 157.5px)"></i><i style="left:87px;background:linear-gradient(#ffa5a5 0.5px,#ffadad 35.5px,#ffc3c3 52.5px,#fff5f5 66.5px,#fff5f5 69.5px,#fdd 73.5px,#fdd 74.5px,#fff8f8 78.5px,#fff9f9 92.5px,#fff8f8 93.5px,#ffe5e5 94.5px,#ff5757 96.5px,#ff3f3f 97.5px,#ff3d3d 98.5px,#ff3535 114.5px,#ff6060 137.5px,#ff7878 157.5px)"></i><i style="left:93px;background:linear-gradient(#ffa5a5 0.5px,#ffadad 35.5px,#ffc0c0 50.5px,#ffe0e0 62.5px,#ffcdcd 68.5px,#fff1f1 72.5px,#fff8f8 74.5px,#fff9f9 92.5px,#fff4f4 93.5px,#ffd1d1 94.5px,#ff8080 95.5px,#ff4848 96.5px,#ff3e3e 97.5px,#ff3535 114.5px,#ff6060 137.5px,#ff7878 157.5px)"></i><i style="left:99px;background:linear-gradient(#ffa5a5 0.5px,#ffa9a9 29.5px,#ffc9c9 56.5px,#ffc1c1 61.5px,#ffcaca 64.5px,#ffecec 68.5px,#fff8f8 71.5px,#fff9f9 91.5px,#fff0f0 93.5px,#ffc0c0 94.5px,#ff6e6e 95.5px,#ff4343 96.5px,#ff3d3d 97.5px,#ff3636 114.5px,#ff6363 139.5px,#ff7878 157.5px)"></i><i style="left:105px;background:linear-gradient(#ffa5a5 0.5px,#ffa9a9 29.5px,#ffbcbc 48.5px,#ffbaba 56.5px,#ffc7c7 60.5px,#ffeded 66.5px,#fff8f8 69.5px,#fff9f9 91.5px,#fff8f8 92.5px,#ffecec 93.5px,#ffb2b2 94.5px,#ff6363 95.5px,#ff4141 96.5px,#ff3d3d 97.5px,#ff3636 114.5px,#ff6363 139.5px,#ff7878 157.5px)"></i><i style="left:111px;background:linear-gradient(#ffa5a5 0.5px,#ffb3b3 49.5px,#ffc9c9 58.5px,#fff7f7 68.5px,#fff9f9 91.5px,#fff8f8 92.5px,#ffe9e9 93.5px,#faa 94.5px,#ff5c5c 95.5px,#ff4040 96.5px,#ff3d3d 97.5px,#ff3636 114.5px,#ff6363 139.5px,#ff7878 157.5px)"></i><i style="left:117px;background:linear-gradient(#ffa5a5 0.5px,#ffaeae 44.5px,#ffc9c9 57.5px,#fff8f8 68.5px,#fff9f9 91.5px,#fff7f7 92.5px,#ffe5e5 93.5px,#ff5757 95.5px,#ff3f3f 96.5px,#ff3636 114.5px,#ff6363 139.5px,#ff7878 157.5px)"></i><i style="left:123px;background:linear-gradient(#ffa5a5 0.5px,#faa 37.5px,#ffc5c5 55.5px,#fff8f8 68.5px,#fff9f9 91.5px,#fff7f7 92.5px,#ffe1e1 93.5px,#ff5353 95.5px,#ff3e3e 96.5px,#ff3535 113.5px,#ff6363 139.5px,#ff7878 157.5px)"></i><i style="left:129px;background:linear-gradient(#ffa5a5 0.5px,#ffa9a9 34.5px,#ffc4c4 54.5px,#fff8f8 68.5px,#fff9f9 91.5px,#fff7f7 92.5px,#ffdfdf 93.5px,#ff5151 95.5px,#ff3e3e 96.5px,#ff3535 113.5px,#ff6363 139.5px,#ff7878 157.5px)"></i><i style="left:135px;background:linear-gradient(#ffa5a5 0.5px,#ffadad 37.5px,#ffc4c4 54.5px,#fff9f9 68.5px,#fff9f9 91.5px,#fff6f6 92.5px,#fdd 93.5px,#ff5050 95.5px,#ff3e3e 96.5px,#ff3535 113.5px,#ff6363 139.5px,#ff7878 157.5px)"></i><b><i style="left:0px;background:linear-gradient(#ffa5a5 0.5px,#ffa9a9 29.5px,#ffb2b2 40.5px,#ffc9c9 55.5px,#fff8f8 67.5px,#fff9f9 90.5px,#fff6f6 91.5px,#ffdfdf 92.5px,#ff5757 94.5px,#ff3d3d 95.5px,#ff3535 112.5px,#ff6363 138.5px,#ff7979 157.5px)"></i><i style="left:6px;background:linear-gradient(#ffa5a5 0.5px,#ffa9a9 29.5px,#ffb2b2 40.5px,#ffc9c9 55.5px,#fff8f8 67.5px,#fff9f9 90.5px,#fff6f6 91.5px,#fdd 92.5px,#ff5454 94.5px,#ff3d3d 95.5px,#ff3535 112.5px,#ff6464 138.5px,#ff7a7a 157.5px)"></i><i style="left:12px;background:linear-gradient(#ffa5a5 0.5px,#ffa9a9 29.5px,#ffb2b2 40.5px,#ffc7c7 54.5px,#fff8f8 67.5px,#fff9f9 90.5px,#fff6f6 91.5px,#ffdbdb 92.5px,#ff5252 94.5px,#ff3c3c 95.5px,#ff3535 112.5px,#ff6464 138.5px,#ff7c7c 157.5px)"></i><i style="left:18px;background:linear-gradient(#ffa5a5 0.5px,#ffa9a9 29.5px,#ffb2b2 40.5px,#ffc7c7 54.5px,#fff8f8 67.5px,#fff9f9 90.5px,#fff5f5 91.5px,#ffd8d8 92.5px,#ff5151 94.5px,#ff3c3c 95.5px,#ff3535 112.5px,#ff6c6c 143.5px,#ff7575 157.5px)"></i><i style="left:24px;background:linear-gradient(#ffa5a5 0.5px,#ffa9a9 29.5px,#ffb2b2 40.5px,#ffc7c7 54.5px,#fff8f8 67.5px,#fff9f9 90.5px,#fff4f4 91.5px,#ffd4d4 92.5px,#ff8c8c 93.5px,#ff4e4e 94.5px,#ff3b3b 95.5px,#ff3636 112.5px,#ff6b6b 141.5px,#ff7575 157.5px)"></i><i style="left:30px;background:linear-gradient(#ffa5a5 0.5px,#ffa9a9 29.5px,#ffb2b2 40.5px,#ffc7c7 54.5px,#fff8f8 67.5px,#fff9f9 89.5px,#fff2f2 91.5px,#ffcece 92.5px,#ff8585 93.5px,#ff4b4b 94.5px,#ff3b3b 95.5px,#ff3535 111.5px,#ff6464 135.5px,#ff6363 142.5px,#ff7575 157.5px)"></i><i style="left:36px;background:linear-gradient(#ffa5a5 0.5px,#ffa9a9 29.5px,#ffb2b2 40.5px,#ffc7c7 54.5px,#fff8f8 67.5px,#fff9f9 89.5px,#fff0f0 91.5px,#ffc6c6 92.5px,#ff7c7c 93.5px,#ff4747 94.5px,#ff3a3a 95.5px,#ff3636 111.5px,#ff5d5d 129.5px,#ff5858 135.5px,#f77 157.5px)"></i><i style="left:42px;background:linear-gradient(#ffa5a5 0.5px,#ffa9a9 29.5px,#ffb2b2 40.5px,#ffc7c7 54.5px,#fff8f8 67.5px,#fff9f9 89.5px,#fff8f8 90.5px,#ffebeb 91.5px,#ffbaba 92.5px,#ff7272 93.5px,#f44 94.5px,#ff3939 95.5px,#ff3636 110.5px,#ff5353 122.5px,#ff4b4b 129.5px,#ff6464 141.5px,#f77 157.5px)"></i><i style="left:48px;background:linear-gradient(#ffa5a5 0.5px,#ffa9a9 29.5px,#ffb2b2 40.5px,#ffc7c7 54.5px,#fff8f8 67.5px,#fff9f9 89.5px,#fff6f6 90.5px,#ffe2e2 91.5px,#ffa9a9 92.5px,#f66 93.5px,#ff4040 94.5px,#ff3737 95.5px,#ff3636 108.5px,#ff4b4b 116.5px,#ff3f3f 122.5px,#ff6060 138.5px,#f77 157.5px)"></i><i style="left:54px;background:linear-gradient(#ffa5a5 0.5px,#ffadad 35.5px,#ffc5c5 53.5px,#fff8f8 67.5px,#fff9f9 88.5px,#fff0f0 90.5px,#ffcdcd 91.5px,#ff5959 93.5px,#ff3d3d 94.5px,#ff3636 95.5px,#ff3636 104.5px,#ff4646 110.5px,#ff3838 114.5px,#ff3636 117.5px,#ff6161 138.5px,#f77 157.5px)"></i><i style="left:60px;background:linear-gradient(#ffa5a5 0.5px,#ffadad 35.5px,#ffc5c5 53.5px,#fff8f8 67.5px,#fff9f9 87.5px,#fff3f3 89.5px,#ffdada 90.5px,#ff7c7c 92.5px,#ff5959 93.5px,#ff4545 94.5px,#ff3a3a 96.5px,#ff4343 104.5px,#ff3636 108.5px,#ff3636 116.5px,#ff6464 140.5px,#f77 157.5px)"></i><i style="left:66px;background:linear-gradient(#ffa5a5 0.5px,#ffa9a9 29.5px,#ffb2b2 40.5px,#ffc7c7 54.5px,#fff8f8 67.5px,#fff9f9 86.5px,#fff0f0 88.5px,#ffbdbd 90.5px,#ff8080 94.5px,#ff3a3a 102.5px,#ff3535 115.5px,#ff6060 137.5px,#f77 157.5px)"></i><i style="left:72px;background:linear-gradient(#ffa5a5 0.5px,#ffa9a9 29.5px,#ffb2b2 40.5px,#ffc8c8 54.5px,#fff9f9 67.5px,#fff9f9 84.5px,#ffebeb 92.5px,#ffdfdf 94.5px,#ffd1d1 95.5px,#ffb8b8 96.5px,#ff5e5e 98.5px,#ff4141 99.5px,#ff3c3c 100.5px,#ff3636 115.5px,#ff6060 137.5px,#f77 157.5px)"></i><i style="left:78px;background:linear-gradient(#ffa5a5 0.5px,#ffadad 35.5px,#ffc5c5 53.5px,#fff9f9 67.5px,#fff9f9 93.5px,#fff8f8 94.5px,#ffe6e6 95.5px,#ffa6a6 96.5px,#ff5b5b 97.5px,#ff4040 98.5px,#ff3d3d 99.5px,#ff3535 114.5px,#ff6565 140.5px,#ff7878 157.5px)"></i><i style="left:84px;background:linear-gradient(#ffa5a5 0.5px,#ffadad 35.5px,#ffc5c5 53.5px,#fff8f8 67.5px,#fff8f8 72.5px,#ffe7e7 76.5px,#fff9f9 81.5px,#fff9f9 92.5px,#fff8f8 93.5px,#fee 94.5px,#ffb8b8 95.5px,#f66 96.5px,#ff4242 97.5px,#ff3d3d 98.5px,#ff3535 114.5px,#ff6060 137.5px,#ff7878 157.5px)"></i><i style="left:90px;background:linear-gradient(#ffa5a5 0.5px,#ffadad 35.5px,#ffc4c4 52.5px,#ffeded 64.5px,#ffecec 66.5px,#ffd5d5 70.5px,#ffd5d5 71.5px,#ffefef 74.5px,#fff8f8 76.5px,#fff9f9 92.5px,#fff6f6 93.5px,#ffdcdc 94.5px,#ff8f8f 95.5px,#ff4e4e 96.5px,#ff3e3e 97.5px,#ff3535 114.5px,#ff6060 137.5px,#ff7878 157.5px)"></i><i style="left:96px;background:linear-gradient(#ffa5a5 0.5px,#ffaeae 35.5px,#fbb 47.5px,#ffd3d3 59.5px,#ffc7c7 65.5px,#ffd2d2 67.5px,#fff0f0 70.5px,#fff8f8 72.5px,#fff9f9 92.5px,#fff3f3 93.5px,#ffc9c9 94.5px,#ff7676 95.5px,#ff4545 96.5px,#ff3d3d 97.5px,#ff3636 114.5px,#ff6060 137.5px,#ff7878 157.5px)"></i><i style="left:102px;background:linear-gradient(#ffa5a5 0.5px,#ffa9a9 29.5px,#ffc2c2 53.5px,#ffbcbc 58.5px,#ffc4c4 61.5px,#fee 67.5px,#fff8f8 70.5px,#fff9f9 91.5px,#fff8f8 92.5px,#ffefef 93.5px,#fbb 94.5px,#ff6969 95.5px,#ff4242 96.5px,#ff3d3d 97.5px,#ff3636 114.5px,#ff6363 139.5px,#ff7878 157.5px)"></i><i style="left:108px;background:linear-gradient(#ffa5a5 0.5px,#ffa9a9 29.5px,#ffb9b9 45.5px,#ffb6b6 53.5px,#ffc9c9 59.5px,#fff0f0 66.5px,#fff8f8 69.5px,#fff9f9 91.5px,#fff8f8 92.5px,#ffeaea 93.5px,#ffadad 94.5px,#ff5f5f 95.5px,#ff4040 96.5px,#ff3d3d 97.5px,#ff3636 114.5px,#ff6363 139.5px,#ff7878 157.5px)"></i><i style="left:114px;background:linear-gradient(#ffa5a5 0.5px,#ffb1b1 47.5px,#ffc8c8 57.5px,#fff7f7 68.5px,#fff9f9 91.5px,#fff8f8 92.5px,#ffe7e7 93.5px,#ffa7a7 94.5px,#ff5a5a 95.5px,#ff3f3f 96.5px,#ff3d3d 97.5px,#ff3636 114.5px,#ff6363 139.5px,#ff7878 157.5px)"></i><i style="left:120px;background:linear-gradient(#ffa5a5 0.5px,#ffaeae 42.5px,#ffc7c7 56.5px,#fff8f8 68.5px,#fff9f9 91.5px,#fff7f7 92.5px,#ffe3e3 93.5px,#f55 95.5px,#ff3f3f 96.5px,#ff3636 114.5px,#ff6363 139.5px,#ff7878 157.5px)"></i><i style="left:126px;background:linear-gradient(#ffa5a5 0.5px,#faa 36.5px,#ffc6c6 55.5px,#fff8f8 68.5px,#fff9f9 91.5px,#fff7f7 92.5px,#ffe0e0 93.5px,#ff5252 95.5px,#ff3e3e 96.5px,#ff3535 113.5px,#ff6363 139.5px,#ff7878 157.5px)"></i><i style="left:132px;background:linear-gradient(#ffa5a5 0.5px,#ffaeae 38.5px,#ffc6c6 55.5px,#fff8f8 68.5px,#fff9f9 91.5px,#fff7f7 92.5px,#ffdede 93.5px,#ff5050 95.5px,#ff3e3e 96.5px,#ff3535 113.5px,#ff6363 139.5px,#ff7878 157.5px)"></i><i style="left:138px;background:linear-gradient(#ffa5a5 0.5px,#ffa5a5 22.5px,#ffadad 37.5px,#ffc5c5 54.5px,#fff9f9 68.5px,#fff9f9 91.5px,#fff6f6 92.5px,#ffdcdc 93.5px,#ff4f4f 95.5px,#ff3e3e 96.5px,#ff3535 113.5px,#ff6363 139.5px,#ff7878 157.5px)"></i></b></div>
<div class="p" style="left:341px;top:544px"><i style="left:-3px;background:linear-gradient(#ffa5a5 0.5px,#ffadad 36.5px,#ffc4c4 53.5px,#fff8f8 67.5px,#fff9f9 89.5px,#fff5f5 90.5px,#fdd 91.5px,#ff5c5c 93.5px,#ff3d3d 94.5px,#ff3939 95.5px,#ff3535 111.5px,#ff6161 135.5px,#ff7b7b 157.5px)"></i><i style="left:3px;background:linear-gradient(#ffa5a5 0.5px,#ffadad 36.5px,#ffc4c4 53.5px,#fff8f8 67.5px,#fff9f9 89.5px,#fff4f4 90.5px,#ffd8d8 91.5px,#ff5757 93.5px,#ff3c3c 94.5px,#ff3939 95.5px,#ff3d3d 98.5px,#ff3636 111.5px,#ff6464 137.5px,#ff7d7d 157.5px)"></i><i style="left:9px;background:linear-gradient(#ffa5a5 0.5px,#ffa9a9 30.5px,#ffb1b1 40.5px,#ffc9c9 55.5px,#fff8f8 67.5px,#fff9f9 88.5px,#fff3f3 90.5px,#ffd3d3 91.5px,#ff5353 93.5px,#ff3b3b 94.5px,#ff3939 95.5px,#ff3636 111.5px,#ff8484 157.5px)"></i><i style="left:15px;background:linear-gradient(#ffa5a5 0.5px,#ffa9a9 30.5px,#ffb1b1 40.5px,#ffc9c9 55.5px,#fff8f8 67.5px,#fff9f9 88.5px,#fff0f0 90.5px,#ffcbcb 91.5px,#ff8686 92.5px,#ff4e4e 93.5px,#ff3a3a 94.5px,#ff3535 110.5px,#ff7e7e 152.5px,#ff7676 157.5px)"></i><i style="left:21px;background:linear-gradient(#ffa5a5 0.5px,#ffa9a9 30.5px,#ffb1b1 40.5px,#ffc9c9 55.5px,#fff8f8 67.5px,#fff9f9 88.5px,#fff8f8 89.5px,#ffecec 90.5px,#ffc0c0 91.5px,#ff7b7b 92.5px,#ff4949 93.5px,#ff3939 94.5px,#ff3636 110.5px,#ff7676 145.5px,#ff6d6d 152.5px,#ff7373 157.5px)"></i><i style="left:27px;background:linear-gradient(#ffa5a5 0.5px,#ffa9a9 30.5px,#ffb1b1 40.5px,#ffc7c7 54.5px,#fff8f8 67.5px,#fff9f9 88.5px,#fff7f7 89.5px,#ffe6e6 90.5px,#ffb2b2 91.5px,#ff6f6f 92.5px,#f44 93.5px,#ff3838 94.5px,#ff3535 109.5px,#ff6f6f 137.5px,#ff7171 140.5px,#ff6565 145.5px,#ff7575 157.5px)"></i><i style="left:33px;background:linear-gradient(#ffa5a5 0.5px,#ffa9a9 30.5px,#ffb1b1 40.5px,#ffc4c4 53.5px,#fff8f8 67.5px,#fff9f9 88.5px,#fff4f4 89.5px,#ffdbdb 90.5px,#ff6161 92.5px,#ff3f3f 93.5px,#ff3737 94.5px,#ff3636 109.5px,#ff6e6e 132.5px,#ff5b5b 139.5px,#ff7575 157.5px)"></i><i style="left:39px;background:linear-gradient(#ffa5a5 0.5px,#ffa9a9 30.5px,#ffb1b1 40.5px,#ffc7c7 54.5px,#fff9f9 67.5px,#fff9f9 87.5px,#fff8f8 88.5px,#fee 89.5px,#ffc7c7 90.5px,#f88 91.5px,#ff5353 92.5px,#ff3b3b 93.5px,#ff3636 94.5px,#ff3737 108.5px,#ff4949 116.5px,#ff6a6a 125.5px,#ff6868 127.5px,#ff5353 130.5px,#ff4e4e 132.5px,#ff6868 145.5px,#ff7575 157.5px)"></i><i style="left:45px;background:linear-gradient(#ffa5a5 0.5px,#ffa9a9 30.5px,#ffb2b2 40.5px,#ffc7c7 54.5px,#fff9f9 67.5px,#fff9f9 87.5px,#fff5f5 88.5px,#fdd 89.5px,#ff6d6d 91.5px,#ff4646 92.5px,#ff3838 93.5px,#ff3535 94.5px,#ff3838 106.5px,#ff4545 111.5px,#ff6a6a 119.5px,#ff6363 121.5px,#ff4747 124.5px,#ff4242 126.5px,#ff6363 141.5px,#ff7575 157.5px)"></i><i style="left:51px;background:linear-gradient(#ffa5a5 0.5px,#ffa9a9 29.5px,#ffb2b2 40.5px,#ffc8c8 54.5px,#fff7f7 66.5px,#fff9f9 86.5px,#fff6f6 87.5px,#ffe3e3 88.5px,#ff5353 91.5px,#ff3d3d 92.5px,#ff3636 93.5px,#ff3a3a 103.5px,#ff4545 106.5px,#ff6e6e 113.5px,#ff6363 115.5px,#ff3e3e 118.5px,#ff3939 120.5px,#ff6464 141.5px,#ff7676 157.5px)"></i><i style="left:57px;background:linear-gradient(#ffa5a5 0.5px,#ffa9a9 29.5px,#ffb2b2 40.5px,#ffc8c8 54.5px,#fff8f8 66.5px,#fff8f8 85.5px,#fff3f3 86.5px,#ffdada 87.5px,#ff8181 89.5px,#ff5c5c 90.5px,#ff4646 91.5px,#ff3a3a 93.5px,#fe3c3c 96.5px,#fd494b 100.5px,#ef7b8a 107.5px,#e57a94 108.5px,#cb6fa0 109.5px,#a059b2 110.5px,#8f46ae 111.5px,#f13744 113.5px,#fe3536 114.5px,#ff3636 118.5px,#ff6565 141.5px,#f77 157.5px)"></i><i style="left:63px;background:linear-gradient(#ffa5a5 0.5px,#ffa9a9 29.5px,#ffb2b2 40.5px,#ffc8c8 54.5px,#fff8f8 66.5px,#fff8f8 83.5px,#fff2f2 84.5px,#ffdcdd 85.5px,#ff7d7e 88.5px,#ff6b6b 89.5px,#fe5f60 91.5px,#fd6365 94.5px,#f97379 98.5px,#ec93a6 102.5px,#e392ae 103.5px,#cc82b3 104.5px,#684bd7 106.5px,#473ce6 107.5px,#4f38dc 108.5px,#8838a7 109.5px,#d23761 110.5px,#f7353d 111.5px,#fe3536 112.5px,#ff3636 117.5px,#ff6060 138.5px,#f77 157.5px)"></i><i style="left:69px;background:linear-gradient(#ffa5a5 0.5px,#ffa9a9 29.5px,#ffb5b5 43.5px,#ffc9c9 54.5px,#fff7f7 65.5px,#fff9f9 79.5px,#fff1f1 81.5px,#ffb0b0 84.5px,#fe9e9e 87.5px,#f8acb4 95.5px,#eeb3c4 98.5px,#e7aec7 99.5px,#d69ec7 100.5px,#ad7dca 101.5px,#7455d7 102.5px,#4c3fe4 103.5px,#5439d8 104.5px,#8b3aa5 105.5px,#d03a65 106.5px,#f53942 107.5px,#fe3939 108.5px,#ff3636 116.5px,#ff6464 140.5px,#f77 157.5px)"></i><i style="left:75px;background:linear-gradient(#ffa5a5 0.5px,#ffa9a9 29.5px,#ffb5b5 43.5px,#ffcaca 54.5px,#fff2f2 63.5px,#fff9f9 67.5px,#fff6f6 76.5px,#ffeded 77.5px,#ffb4b4 80.5px,#ffabac 81.5px,#ffa9aa 83.5px,#feb9ba 86.5px,#fbecf0 91.5px,#f8f2f8 93.5px,#efeafa 96.5px,#e6def7 97.5px,#cab7ea 98.5px,#9b77d5 99.5px,#8b4ab6 100.5px,#b73d80 101.5px,#e93d51 102.5px,#fc3d40 103.5px,#ff3636 109.5px,#ff3535 115.5px,#ff6464 140.5px,#f77 157.5px)"></i><i style="left:81px;background:linear-gradient(#ffa5a5 0.5px,#ffa9a9 29.5px,#ffb6b6 43.5px,#ffc8c8 53.5px,#fff0f0 62.5px,#fff9f9 67.5px,#fff3f3 71.5px,#ffe8e8 72.5px,#ffb5b5 75.5px,#ffabab 77.5px,#ffbaba 80.5px,#fee 84.5px,#fff6f6 85.5px,#fff9f9 94.5px,#fff8f8 95.5px,#fee 96.5px,#ffbdbd 97.5px,#ff6f6f 98.5px,#ff4343 99.5px,#ff3d3d 100.5px,#ff3636 115.5px,#ff6464 140.5px,#f77 157.5px)"></i><i style="left:87px;background:linear-gradient(#ffa5a5 0.5px,#ffa9a9 29.5px,#ffb6b6 43.5px,#ffc9c9 53.5px,#fff0f0 63.5px,#ffe2e2 66.5px,#ffb1b1 70.5px,#ffadad 72.5px,#ffc0c0 75.5px,#ffe6e6 78.5px,#fff7f7 80.5px,#fff9f9 93.5px,#ffefef 95.5px,#ffc0c0 96.5px,#ff7070 97.5px,#ff4343 98.5px,#ff3d3d 99.5px,#ff3535 114.5px,#ff6060 137.5px,#f77 157.5px)"></i><i style="left:93px;background:linear-gradient(#ffa5a5 0.5px,#ffadad 34.5px,#ffbfbf 48.5px,#ffd8d8 58.5px,#ffd1d1 60.5px,#ffb2b2 64.5px,#ffafaf 66.5px,#ffc2c2 70.5px,#ffebeb 74.5px,#fff7f7 76.5px,#fff9f9 93.5px,#fff5f5 94.5px,#ffd7d7 95.5px,#ff8b8b 96.5px,#ff4d4d 97.5px,#ff3d3d 98.5px,#ff3535 114.5px,#ff6565 140.5px,#f77 157.5px)"></i><i style="left:99px;background:linear-gradient(#ffa5a5 0.5px,#ffa9a9 29.5px,#ffc6c6 52.5px,#ffaeae 60.5px,#ffc0c0 65.5px,#fff7f7 73.5px,#fff9f9 92.5px,#fff8f8 93.5px,#ffeded 94.5px,#ffb8b8 95.5px,#ff6969 96.5px,#ff4141 97.5px,#ff3d3d 98.5px,#ff3535 114.5px,#ff6565 140.5px,#f77 157.5px)"></i><i style="left:105px;background:linear-gradient(#ffa5a5 0.5px,#ffa9a9 28.5px,#ffbcbc 46.5px,#ffabab 54.5px,#ffc4c4 62.5px,#fee 69.5px,#fff8f8 72.5px,#fff9f9 92.5px,#fff7f7 93.5px,#ffe1e1 94.5px,#ff5656 96.5px,#ff3e3e 97.5px,#ff3636 114.5px,#ff6060 137.5px,#f77 157.5px)"></i><i style="left:111px;background:linear-gradient(#ffa5a5 0.5px,#ffa9a9 27.5px,#ffb5b5 40.5px,#ffa9a9 48.5px,#ffc6c6 60.5px,#fff0f0 68.5px,#fff8f8 71.5px,#fff9f9 92.5px,#fff4f4 93.5px,#ffd4d4 94.5px,#f88 95.5px,#ff4b4b 96.5px,#ff3d3d 97.5px,#ff3636 114.5px,#ff6060 137.5px,#f77 157.5px)"></i><i style="left:117px;background:linear-gradient(#ffa5a5 0.5px,#ffb0b0 35.5px,#faa 44.5px,#ffc8c8 59.5px,#fff8f8 70.5px,#fff9f9 91.5px,#fff2f2 93.5px,#ffc9c9 94.5px,#ff7a7a 95.5px,#ff4646 96.5px,#ff3c3c 97.5px,#ff3636 114.5px,#ff6363 139.5px,#f77 157.5px)"></i><i style="left:123px;background:linear-gradient(#ffa5a5 0.5px,#ffa9a9 40.5px,#ffc5c5 57.5px,#fff9f9 70.5px,#fff9f9 91.5px,#fff8f8 92.5px,#fee 93.5px,#ffbdbd 94.5px,#ff6d6d 95.5px,#ff4242 96.5px,#ff3c3c 97.5px,#ff3636 114.5px,#ff6363 139.5px,#f77 157.5px)"></i><i style="left:129px;background:linear-gradient(#ffa5a5 0.5px,#ffa9a9 37.5px,#ffc4c4 56.5px,#fff7f7 69.5px,#fff9f9 91.5px,#fff8f8 92.5px,#ffebeb 93.5px,#ffb4b4 94.5px,#f66 95.5px,#ff4141 96.5px,#ff3c3c 97.5px,#ff3636 114.5px,#ff6363 139.5px,#f77 157.5px)"></i><i style="left:135px;background:linear-gradient(#ffa5a5 0.5px,#ffa5a5 26.5px,#ffaeae 40.5px,#ffc7c7 57.5px,#fff8f8 69.5px,#fff9f9 91.5px,#fff8f8 92.5px,#ffe7e7 93.5px,#faa 94.5px,#ff5e5e 95.5px,#ff3f3f 96.5px,#ff3c3c 97.5px,#ff3535 113.5px,#ff6363 139.5px,#f77 157.5px)"></i><b><i style="left:0px;background:linear-gradient(#ffa5a5 0.5px,#ffadad 36.5px,#ffc4c4 53.5px,#fff8f8 67.5px,#fff9f9 89.5px,#fff5f5 90.5px,#ffdbdb 91.5px,#ff5a5a 93.5px,#ff3d3d 94.5px,#ff3939 95.5px,#ff3535 111.5px,#ff6464 137.5px,#ff7c7c 157.5px)"></i><i style="left:6px;background:linear-gradient(#ffa5a5 0.5px,#ffa9a9 30.5px,#ffb1b1 40.5px,#ffc9c9 55.5px,#fff8f8 67.5px,#fff9f9 88.5px,#fff4f4 90.5px,#ffd6d6 91.5px,#f55 93.5px,#ff3b3b 94.5px,#ff3939 95.5px,#ff3636 111.5px,#ff6060 134.5px,#ff8080 157.5px)"></i><i style="left:12px;background:linear-gradient(#ffa5a5 0.5px,#ffa9a9 30.5px,#ffb1b1 40.5px,#ffc9c9 55.5px,#fff8f8 67.5px,#fff9f9 88.5px,#fff2f2 90.5px,#ffcfcf 91.5px,#ff8b8b 92.5px,#ff5151 93.5px,#ff3a3a 94.5px,#ff3636 111.5px,#ff8585 157.5px)"></i><i style="left:18px;background:linear-gradient(#ffa5a5 0.5px,#ffa9a9 30.5px,#ffb1b1 40.5px,#ffc9c9 55.5px,#fff8f8 67.5px,#fff9f9 88.5px,#ffefef 90.5px,#ffc6c6 91.5px,#ff8181 92.5px,#ff4c4c 93.5px,#ff3939 94.5px,#ff3535 110.5px,#ff7a7a 149.5px,#ff7171 157.5px)"></i><i style="left:24px;background:linear-gradient(#ffa5a5 0.5px,#ffa9a9 30.5px,#ffb1b1 40.5px,#ffc6c6 54.5px,#fff8f8 67.5px,#fff9f9 88.5px,#fff8f8 89.5px,#ffeaea 90.5px,#ffbaba 91.5px,#ff7575 92.5px,#ff4646 93.5px,#ff3838 94.5px,#ff3636 110.5px,#ff7373 141.5px,#ff6969 149.5px,#ff7474 157.5px)"></i><i style="left:30px;background:linear-gradient(#ffa5a5 0.5px,#ffa9a9 30.5px,#ffb1b1 40.5px,#ffc7c7 54.5px,#fff8f8 67.5px,#fff9f9 88.5px,#fff6f6 89.5px,#ffe1e1 90.5px,#faa 91.5px,#ff6868 92.5px,#ff4242 93.5px,#ff3838 94.5px,#ff3636 109.5px,#ff7070 135.5px,#ff6060 142.5px,#ff7575 157.5px)"></i><i style="left:36px;background:linear-gradient(#ffa5a5 0.5px,#ffa9a9 30.5px,#ffb1b1 40.5px,#ffc7c7 54.5px,#fff9f9 67.5px,#fff9f9 87.5px,#fff2f2 89.5px,#ffd2d2 90.5px,#ff5a5a 92.5px,#ff3d3d 93.5px,#ff3737 94.5px,#ff3636 108.5px,#ff4848 117.5px,#ff6b6b 128.5px,#ff6a6a 130.5px,#f55 135.5px,#ff7575 157.5px)"></i><i style="left:42px;background:linear-gradient(#ffa5a5 0.5px,#ffa9a9 30.5px,#ffb1b1 40.5px,#ffc7c7 54.5px,#fff9f9 67.5px,#fff9f9 87.5px,#fff7f7 88.5px,#ffe7e7 89.5px,#ffb9b9 90.5px,#ff7b7b 91.5px,#ff4c4c 92.5px,#ff3939 93.5px,#ff3636 94.5px,#ff3737 107.5px,#ff4949 114.5px,#ff6a6a 122.5px,#ff6565 124.5px,#ff4c4c 127.5px,#ff4848 129.5px,#ff6464 142.5px,#ff7575 157.5px)"></i><i style="left:48px;background:linear-gradient(#ffa5a5 0.5px,#ffa9a9 30.5px,#ffb2b2 40.5px,#ffc7c7 54.5px,#fff7f7 66.5px,#fff9f9 86.5px,#ffefef 88.5px,#ffcdcd 89.5px,#ff6060 91.5px,#ff4141 92.5px,#ff3737 93.5px,#ff3a3a 105.5px,#ff4747 109.5px,#ff6c6c 116.5px,#ff6262 118.5px,#ff4242 121.5px,#ff3e3e 123.5px,#ff6464 141.5px,#ff7575 157.5px)"></i><i style="left:54px;background:linear-gradient(#ffa5a5 0.5px,#ffa9a9 29.5px,#ffb2b2 40.5px,#ffc8c8 54.5px,#fff7f7 66.5px,#fff9f9 85.5px,#fee 87.5px,#ffcece 88.5px,#ff6b6b 90.5px,#ff4a4a 91.5px,#ff3b3b 92.5px,#ff3636 93.5px,#ff3d3d 101.5px,#ff4a4a 104.5px,#fd7273 110.5px,#fb6f73 111.5px,#fc6669 112.5px,#ff3c3c 115.5px,#ff3636 117.5px,#ff6464 141.5px,#f77 157.5px)"></i><i style="left:60px;background:linear-gradient(#ffa5a5 0.5px,#ffa9a9 29.5px,#ffb2b2 40.5px,#ffc8c8 54.5px,#fff8f8 66.5px,#fff9f9 84.5px,#fff4f4 85.5px,#ffdfdf 86.5px,#ff6e6e 89.5px,#ff5758 90.5px,#fe4747 92.5px,#fe4a4c 95.5px,#fb5c60 99.5px,#f27a86 103.5px,#e6859e 105.5px,#d47ea7 106.5px,#ad6ab7 107.5px,#7951ce 108.5px,#5540de 109.5px,#663ac7 110.5px,#af3882 111.5px,#ec3648 112.5px,#fd3537 113.5px,#ff3636 117.5px,#ff6060 138.5px,#f77 157.5px)"></i><i style="left:66px;background:linear-gradient(#ffa5a5 0.5px,#ffa9a9 29.5px,#ffb2b2 40.5px,#ffc8c8 54.5px,#fff8f8 66.5px,#fff9f9 81.5px,#ffecec 83.5px,#ffb7b7 85.5px,#ff8d8e 87.5px,#fe7e7f 88.5px,#fe797a 89.5px,#fc888c 94.5px,#eca2b5 100.5px,#e39eba 101.5px,#cc8cbe 102.5px,#9d6bc7 103.5px,#664bda 104.5px,#463ce7 105.5px,#4c38de 106.5px,#8139ae 107.5px,#c9396b 108.5px,#f33842 109.5px,#fe3637 110.5px,#ff3636 116.5px,#ff6161 138.5px,#f77 157.5px)"></i><i style="left:72px;background:linear-gradient(#ffa5a5 0.5px,#ffa9a9 29.5px,#ffb5b5 43.5px,#ffc9c9 54.5px,#fff7f7 65.5px,#fff9f9 77.5px,#fff1f1 79.5px,#ffb4b4 82.5px,#ffa6a7 84.5px,#feaaab 87.5px,#fcb6b9 90.5px,#f4dae5 95.5px,#ebddf0 97.5px,#e2ceeb 98.5px,#c9a9dd 99.5px,#9774d6 100.5px,#644bdb 101.5px,#653ccb 102.5px,#dd3d5c 104.5px,#f93d42 105.5px,#ff3939 107.5px,#ff3535 115.5px,#ff6464 140.5px,#f77 157.5px)"></i><i style="left:78px;background:linear-gradient(#ffa5a5 0.5px,#ffa9a9 29.5px,#ffb5b5 43.5px,#ffc7c7 53.5px,#ffefef 62.5px,#fff9f9 67.5px,#fff9f9 72.5px,#fff2f2 74.5px,#ffb0b0 78.5px,#faa 80.5px,#ffbaba 83.5px,#fee 87.5px,#fff5f5 88.5px,#fcf6f9 95.5px,#f8f1f7 96.5px,#ead3e7 97.5px,#d78eb4 98.5px,#dd5171 99.5px,#f33d48 100.5px,#fd3c3e 101.5px,#ff3636 115.5px,#ff6464 140.5px,#f77 157.5px)"></i><i style="left:84px;background:linear-gradient(#ffa5a5 0.5px,#ffa9a9 29.5px,#ffb6b6 43.5px,#ffc8c8 53.5px,#fff0f0 62.5px,#fff7f7 66.5px,#fff1f1 68.5px,#ffe7e7 69.5px,#ffb8b8 72.5px,#ffacac 74.5px,#ffb8b8 77.5px,#fff4f4 82.5px,#fff9f9 94.5px,#fff6f6 95.5px,#ffdbdb 96.5px,#ff5151 98.5px,#ff3d3d 99.5px,#ff3636 115.5px,#ff6060 137.5px,#f77 157.5px)"></i><i style="left:90px;background:linear-gradient(#ffa5a5 0.5px,#ffa9a9 29.5px,#ffb2b2 39.5px,#ffc2c2 50.5px,#ffe4e4 61.5px,#ffdbdb 63.5px,#ffb2b2 67.5px,#ffafaf 69.5px,#ffbebe 72.5px,#ffebeb 76.5px,#fff7f7 78.5px,#fff9f9 93.5px,#fff7f7 94.5px,#ffe5e5 95.5px,#ffa4a4 96.5px,#ff5a5a 97.5px,#ff3f3f 98.5px,#ff3535 114.5px,#ff6565 140.5px,#f77 157.5px)"></i><i style="left:96px;background:linear-gradient(#ffa5a5 0.5px,#ffa9a9 29.5px,#ffb6b6 42.5px,#ffcdcd 55.5px,#ffc9c9 57.5px,#ffb1b1 61.5px,#ffaeae 63.5px,#ffbfbf 67.5px,#fff6f6 74.5px,#fff9f9 92.5px,#fff1f1 94.5px,#ffc7c7 95.5px,#ff7878 96.5px,#ff4545 97.5px,#ff3d3d 98.5px,#ff3535 114.5px,#ff6565 140.5px,#f77 157.5px)"></i><i style="left:102px;background:linear-gradient(#ffa5a5 0.5px,#ffa9a9 28.5px,#ffc0c0 49.5px,#ffacac 57.5px,#ffc5c5 64.5px,#fff7f7 72.5px,#fff9f9 92.5px,#fff8f8 93.5px,#ffe7e7 94.5px,#ffa9a9 95.5px,#ff5d5d 96.5px,#ff3f3f 97.5px,#ff3d3d 98.5px,#ff3636 114.5px,#ff6060 137.5px,#f77 157.5px)"></i><i style="left:108px;background:linear-gradient(#ffa5a5 0.5px,#ffa9a9 28.5px,#ffb8b8 43.5px,#faa 51.5px,#ffc5c5 61.5px,#fff8f8 71.5px,#fff9f9 92.5px,#fff6f6 93.5px,#ffdbdb 94.5px,#ff5050 96.5px,#ff3d3d 97.5px,#ff3636 114.5px,#ff6060 137.5px,#f77 157.5px)"></i><i style="left:114px;background:linear-gradient(#ffa5a5 0.5px,#ffa9a9 27.5px,#ffb1b1 38.5px,#faa 46.5px,#ffc5c5 59.5px,#fff7f7 70.5px,#fff9f9 92.5px,#fff3f3 93.5px,#ffcece 94.5px,#ff7f7f 95.5px,#ff4848 96.5px,#ff3d3d 97.5px,#ff3636 114.5px,#ff6060 137.5px,#f77 157.5px)"></i><i style="left:120px;background:linear-gradient(#ffa5a5 0.5px,#ffadad 30.5px,#faa 42.5px,#ffc6c6 58.5px,#fff8f8 70.5px,#fff9f9 91.5px,#fff0f0 93.5px,#ffc2c2 94.5px,#ff7272 95.5px,#f44 96.5px,#ff3c3c 97.5px,#ff3636 114.5px,#ff6363 139.5px,#f77 157.5px)"></i><i style="left:126px;background:linear-gradient(#ffa5a5 0.5px,#faa 39.5px,#ffc5c5 57.5px,#fff7f7 69.5px,#fff9f9 91.5px,#fff8f8 92.5px,#ffeded 93.5px,#ffb9b9 94.5px,#ff6a6a 95.5px,#ff4141 96.5px,#ff3c3c 97.5px,#ff3636 114.5px,#ff6363 139.5px,#f77 157.5px)"></i><i style="left:132px;background:linear-gradient(#ffa5a5 0.5px,#ffa9a9 36.5px,#ffc4c4 56.5px,#fff8f8 69.5px,#fff9f9 91.5px,#fff8f8 92.5px,#ffe8e8 93.5px,#ffaeae 94.5px,#ff6262 95.5px,#ff4040 96.5px,#ff3c3c 97.5px,#ff3636 114.5px,#ff6363 139.5px,#f77 157.5px)"></i><i style="left:138px;background:linear-gradient(#ffa5a5 0.5px,#ffa5a5 24.5px,#ffadad 39.5px,#ffc5c5 56.5px,#fff8f8 69.5px,#fff9f9 91.5px,#fff7f7 92.5px,#ffe5e5 93.5px,#ffa7a7 94.5px,#ff5c5c 95.5px,#ff3e3e 96.5px,#ff3c3c 97.5px,#ff3535 113.5px,#ff6060 137.5px,#f77 157.5px)"></i></b></div>
<div class="p" style="left:489px;top:544px"><i style="left:-3px;background:linear-gradient(#ffa5a5 0.5px,#ffa9a9 28.5px,#ffb2b2 39.5px,#ffc7c7 53.5px,#fff9f9 66.5px,#fff9f9 87.5px,#fff8f8 88.5px,#fee 89.5px,#ffc4c4 90.5px,#ff7e7e 91.5px,#ff4a4a 92.5px,#ff3939 93.5px,#ff3636 110.5px,#ff6464 136.5px,#ff7d7d 157.5px)"></i><i style="left:3px;background:linear-gradient(#ffa5a5 0.5px,#ffa9a9 28.5px,#ffb2b2 39.5px,#ffc8c8 53.5px,#fff9f9 66.5px,#fff9f9 87.5px,#fff8f8 88.5px,#ffebeb 89.5px,#fbb 90.5px,#ff7676 91.5px,#ff4747 92.5px,#ff3939 93.5px,#ff3636 110.5px,#ff6060 133.5px,#ff7f7f 157.5px)"></i><i style="left:9px;background:linear-gradient(#ffa5a5 0.5px,#ffadad 34.5px,#ffc5c5 52.5px,#fff9f9 66.5px,#fff9f9 87.5px,#fff7f7 88.5px,#ffe5e5 89.5px,#ffb1b1 90.5px,#ff6d6d 91.5px,#ff4343 92.5px,#ff3838 93.5px,#ff3535 109.5px,#ff8585 157.5px)"></i><i style="left:15px;background:linear-gradient(#ffa5a5 0.5px,#ffadad 34.5px,#ffc5c5 52.5px,#fff7f7 65.5px,#fff9f9 87.5px,#fff5f5 88.5px,#ffdede 89.5px,#ff6464 91.5px,#ff4040 92.5px,#ff3838 93.5px,#ff3535 103.5px,#ff3636 109.5px,#ff6060 132.5px,#ff7676 148.5px,#ff9292 157.5px)"></i><i style="left:21px;background:linear-gradient(#ffa5a5 0.5px,#ffa9a9 28.5px,#ffb2b2 39.5px,#ffc8c8 53.5px,#fff7f7 65.5px,#fff9f9 86.5px,#fff2f2 88.5px,#ffd3d3 89.5px,#ff5a5a 91.5px,#ff3d3d 92.5px,#ff3737 93.5px,#ff3737 109.5px,#ff7575 144.5px,#f88 150.5px,#ff8383 152.5px,#ff7070 155.5px,#ff6d6d 157.5px)"></i><i style="left:27px;background:linear-gradient(#ffa5a5 0.5px,#ffa9a9 28.5px,#ffb2b2 39.5px,#ffc6c6 52.5px,#fff7f7 65.5px,#fff9f9 86.5px,#fff8f8 87.5px,#ffecec 88.5px,#ffc3c3 89.5px,#ff8484 90.5px,#ff5151 91.5px,#ff3a3a 92.5px,#ff3737 93.5px,#ff3636 108.5px,#ff8080 143.5px,#ff7d7d 145.5px,#f66 149.5px,#ff7171 157.5px)"></i><i style="left:33px;background:linear-gradient(#ffa5a5 0.5px,#ffa9a9 28.5px,#ffb2b2 39.5px,#ffc8c8 53.5px,#fff8f8 65.5px,#fff9f9 86.5px,#fff5f5 87.5px,#ffe0e0 88.5px,#ffaeae 89.5px,#ff7171 90.5px,#ff4848 91.5px,#ff3838 92.5px,#ff3636 93.5px,#ff3a3a 109.5px,#ff7c7c 137.5px,#ff5b5b 143.5px,#ff7474 157.5px)"></i><i style="left:39px;background:linear-gradient(#ffa5a5 0.5px,#ffa9a9 28.5px,#ffb1b1 38.5px,#ffc6c6 52.5px,#fff8f8 65.5px,#fff9f9 85.5px,#fee 87.5px,#ffcbcb 88.5px,#ff5f5f 90.5px,#ff4141 91.5px,#ff3737 92.5px,#ff3535 104.5px,#ff3b3b 108.5px,#ff4d4d 116.5px,#ff7c7c 130.5px,#ff7474 132.5px,#ff5353 135.5px,#ff4e4e 137.5px,#ff6868 147.5px,#ff7575 157.5px)"></i><i style="left:45px;background:linear-gradient(#ffa5a5 0.5px,#ffa9a9 28.5px,#ffb1b1 38.5px,#ffc6c6 52.5px,#fff8f8 65.5px,#fff9f9 84.5px,#fff3f3 86.5px,#ffdada 87.5px,#ff7676 89.5px,#ff4e4e 90.5px,#ff3b3b 91.5px,#ff3636 92.5px,#ff3535 102.5px,#ff4242 109.5px,#ff5f5f 117.5px,#ff8282 124.5px,#ff7e7e 125.5px,#ff5050 128.5px,#ff4343 130.5px,#ff6363 143.5px,#ff7575 157.5px)"></i><i style="left:51px;background:linear-gradient(#ffa5a5 0.5px,#ffa9a9 28.5px,#ffb1b1 38.5px,#ffc7c7 52.5px,#fff8f8 65.5px,#fff9f9 83.5px,#fff4f4 85.5px,#ffdede 86.5px,#ff5b5b 89.5px,#ff4343 90.5px,#ff3535 92.5px,#ff3636 100.5px,#ff4545 106.5px,#ff6969 113.5px,#fe9495 118.5px,#fe8c8d 119.5px,#ff4848 122.5px,#ff3939 124.5px,#ff6363 142.5px,#ff7575 157.5px)"></i><i style="left:57px;background:linear-gradient(#ffa5a5 0.5px,#ffa9a9 28.5px,#ffb1b1 38.5px,#ffc7c7 52.5px,#fff9f9 65.5px,#fff8f8 83.5px,#ffefef 84.5px,#ffd4d4 85.5px,#ff6060 88.5px,#ff4949 89.5px,#ff3939 91.5px,#ff3636 93.5px,#fe4141 99.5px,#fd5355 103.5px,#fa6f74 107.5px,#f09cac 111.5px,#eaa0b6 112.5px,#dc9abc 113.5px,#bf85c2 114.5px,#6349da 116.5px,#653ccb 117.5px,#e8364b 119.5px,#fd3537 120.5px,#ff3737 122.5px,#ff6060 139.5px,#ff7575 157.5px)"></i><i style="left:63px;background:linear-gradient(#ffa5a5 0.5px,#ffa9a9 28.5px,#ffb1b1 38.5px,#ffc8c8 52.5px,#fff7f7 64.5px,#fff9f9 80.5px,#fff1f1 82.5px,#ffdbdb 83.5px,#ff7878 86.5px,#ff5f5f 87.5px,#ff4949 89.5px,#ff4748 92.5px,#fe5c5e 97.5px,#fb767a 101.5px,#f88f96 103.5px,#efacbc 106.5px,#e9afc5 107.5px,#dba7ca 108.5px,#bb8ccd 109.5px,#5747e2 111.5px,#3f3aec 112.5px,#3937ee 113.5px,#4638e3 114.5px,#7c38b1 115.5px,#cb3767 116.5px,#f6353e 117.5px,#fe3536 118.5px,#ff6464 141.5px,#ff7575 157.5px)"></i><i style="left:69px;background:linear-gradient(#ffa5a5 0.5px,#ffa9a9 28.5px,#ffb6b6 42.5px,#ffc8c8 52.5px,#ffefef 61.5px,#fff9f9 66.5px,#fff4f4 79.5px,#ffe5e5 80.5px,#ff8181 84.5px,#ff7171 85.5px,#ff6767 87.5px,#fe7a7b 92.5px,#f8adb4 99.5px,#eed1e3 102.5px,#e6d6ee 103.5px,#d4c3ed 104.5px,#ac93e2 105.5px,#745ee0 106.5px,#4a40e8 107.5px,#3a38ee 108.5px,#3737f0 109.5px,#4037e8 111.5px,#6c38c1 112.5px,#ba3777 113.5px,#f03644 114.5px,#fe3536 115.5px,#ff3838 119.5px,#ff6464 141.5px,#f77 157.5px)"></i><i style="left:75px;background:linear-gradient(#ffa5a5 0.5px,#ffa9a9 27.5px,#ffb5b5 41.5px,#ffc9c9 52.5px,#fff6f6 63.5px,#fff9f9 74.5px,#ffeded 76.5px,#ffaeae 79.5px,#ff8787 82.5px,#ff8484 83.5px,#fea1a1 87.5px,#fcb6b9 92.5px,#f9d9df 95.5px,#f4eaf5 97.5px,#ebe6fa 99.5px,#e2ddfa 100.5px,#c9c2f5 101.5px,#5f52e7 103.5px,#3f3bed 104.5px,#3737f0 106.5px,#3d37eb 108.5px,#6139cb 109.5px,#ac3986 110.5px,#ea384b 111.5px,#fd3638 112.5px,#ff3636 117.5px,#ff6060 138.5px,#f77 157.5px)"></i><i style="left:81px;background:linear-gradient(#ffa5a5 0.5px,#ffa9a9 27.5px,#ffb5b5 41.5px,#ffcaca 52.5px,#fff4f4 62.5px,#fff9f9 68.5px,#fff1f1 71.5px,#ffaeae 75.5px,#ffa0a0 77.5px,#ff9c9d 79.5px,#feb2b3 84.5px,#fec4c5 86.5px,#fdebee 89.5px,#faf4f9 92.5px,#efeafa 96.5px,#dbd6f9 98.5px,#b7aff4 99.5px,#7c71eb 100.5px,#4b44eb 101.5px,#3a38ef 102.5px,#3737f0 103.5px,#3b37ed 105.5px,#5739d5 106.5px,#e23b56 108.5px,#fb393c 109.5px,#ff3535 111.5px,#ff3636 116.5px,#ff6161 138.5px,#f77 157.5px)"></i><i style="left:87px;background:linear-gradient(#ffa5a5 0.5px,#ffa9a9 27.5px,#ffb6b6 41.5px,#ffc8c8 51.5px,#ffebeb 59.5px,#fff3f3 63.5px,#ffe7e7 66.5px,#ffb0b0 70.5px,#ffa4a4 74.5px,#ffabab 77.5px,#ffb9b9 79.5px,#fef4f4 84.5px,#fbf6f9 89.5px,#f0ebfa 94.5px,#e1ddfa 96.5px,#c6c0f7 97.5px,#574eea 99.5px,#3c3aee 100.5px,#3737f0 101.5px,#3a37ed 102.5px,#5139da 103.5px,#dc3d5e 105.5px,#fa3d41 106.5px,#ff3b3b 107.5px,#ff3636 116.5px,#ff6464 140.5px,#f77 157.5px)"></i><i style="left:93px;background:linear-gradient(#ffa5a5 0.5px,#ffa9a9 27.5px,#ffb2b2 37.5px,#ffc2c2 48.5px,#ffe0e0 58.5px,#ffd4d4 61.5px,#ffacac 65.5px,#ffa6a6 69.5px,#ffbdbd 74.5px,#fff3f4 79.5px,#fbf5f9 88.5px,#efeafa 93.5px,#dfdafa 95.5px,#c0b9f5 96.5px,#867aec 97.5px,#5048ea 98.5px,#3d39ec 99.5px,#5039db 100.5px,#903ba2 101.5px,#da3d60 102.5px,#f93d42 103.5px,#ff3d3d 104.5px,#ff3535 115.5px,#ff6464 140.5px,#f77 157.5px)"></i><i style="left:99px;background:linear-gradient(#ffa5a5 0.5px,#ffa9a9 27.5px,#ffb6b6 40.5px,#fcc 53.5px,#ffc8c8 55.5px,#ffa9a9 60.5px,#ffa7a7 63.5px,#ffbebe 69.5px,#ffecec 74.5px,#fff7f7 76.5px,#fcf6f9 87.5px,#f1ecfa 92.5px,#e4dffa 94.5px,#c9c3f6 95.5px,#9587ea 96.5px,#704fd4 97.5px,#963e9f 98.5px,#da3d5f 99.5px,#fa3d42 100.5px,#ff3d3d 101.5px,#ff3636 115.5px,#ff6060 137.5px,#f77 157.5px)"></i><i style="left:105px;background:linear-gradient(#ffa5a5 0.5px,#ffa9a9 26.5px,#ffc0c0 47.5px,#fbb 50.5px,#ffa9a9 54.5px,#ffa7a7 57.5px,#ffc1c1 65.5px,#fff6f6 73.5px,#fff9f9 93.5px,#fef3f4 94.5px,#fccacd 95.5px,#fc787b 96.5px,#fe4647 97.5px,#ff3d3e 98.5px,#ff3535 114.5px,#ff6565 140.5px,#f77 157.5px)"></i><i style="left:111px;background:linear-gradient(#ffa5a5 0.5px,#ffa9a9 26.5px,#ffb9b9 41.5px,#ffa6a6 51.5px,#ffc3c3 62.5px,#fee 69.5px,#fff8f8 72.5px,#fff9f9 92.5px,#fff8f8 93.5px,#ffe8e8 94.5px,#ffa8a8 95.5px,#ff5b5b 96.5px,#ff4040 97.5px,#ff3d3d 98.5px,#ff3535 114.5px,#ff6565 140.5px,#f77 157.5px)"></i><i style="left:117px;background:linear-gradient(#ffa5a5 0.5px,#ffa9a9 25.5px,#ffb2b2 36.5px,#ffa6a6 45.5px,#ffc2c2 59.5px,#ffd2d2 63.5px,#fff0f0 68.5px,#fff8f8 71.5px,#fff9f9 92.5px,#fff6f6 93.5px,#ffd8d8 94.5px,#ff8989 95.5px,#ff4c4c 96.5px,#ff3e3e 97.5px,#ff3535 114.5px,#ff6060 137.5px,#f77 157.5px)"></i><i style="left:123px;background:linear-gradient(#ffa5a5 0.5px,#ffadad 28.5px,#ffa6a6 40.5px,#ffc1c1 57.5px,#fff8f8 70.5px,#fff9f9 91.5px,#fff1f1 93.5px,#ffc4c4 94.5px,#ff7171 95.5px,#f44 96.5px,#ff3d3d 97.5px,#ff3636 114.5px,#ff6363 139.5px,#f77 157.5px)"></i><i style="left:129px;background:linear-gradient(#ffa5a5 0.5px,#ffa9a9 40.5px,#ffc5c5 57.5px,#fff8f8 69.5px,#fff9f9 91.5px,#fff8f8 92.5px,#ffecec 93.5px,#ffb2b2 94.5px,#ff6262 95.5px,#ff4141 96.5px,#ff3d3d 97.5px,#ff3636 114.5px,#ff6363 139.5px,#f77 157.5px)"></i><i style="left:135px;background:linear-gradient(#ffa5a5 0.5px,#faa 38.5px,#ffc4c4 56.5px,#fff8f8 69.5px,#fff9f9 91.5px,#fff8f8 92.5px,#ffe6e6 93.5px,#ffa4a4 94.5px,#ff5959 95.5px,#ff3f3f 96.5px,#ff3d3d 97.5px,#ff3636 114.5px,#ff6363 139.5px,#f77 157.5px)"></i><b><i style="left:0px;background:linear-gradient(#ffa5a5 0.5px,#ffa9a9 28.5px,#ffb2b2 39.5px,#ffc5c5 52.5px,#fff9f9 66.5px,#fff9f9 87.5px,#fff8f8 88.5px,#ffeded 89.5px,#ffc0c0 90.5px,#ff7a7a 91.5px,#ff4848 92.5px,#ff3939 93.5px,#ff3636 110.5px,#ff6464 136.5px,#ff7d7d 157.5px)"></i><i style="left:6px;background:linear-gradient(#ffa5a5 0.5px,#ffa9a9 28.5px,#ffb2b2 39.5px,#ffc8c8 53.5px,#fff2f2 63.5px,#fff9f9 66.5px,#fff9f9 87.5px,#fff7f7 88.5px,#ffe8e8 89.5px,#ffb6b6 90.5px,#ff7272 91.5px,#ff4545 92.5px,#ff3838 93.5px,#ff3535 109.5px,#ff6060 133.5px,#ff8181 157.5px)"></i><i style="left:12px;background:linear-gradient(#ffa5a5 0.5px,#ffadad 34.5px,#ffc5c5 52.5px,#fff7f7 65.5px,#fff9f9 87.5px,#fff6f6 88.5px,#ffe2e2 89.5px,#ffabab 90.5px,#ff6969 91.5px,#ff4242 92.5px,#ff3838 93.5px,#ff3636 109.5px,#ff6060 132.5px,#f77 150.5px,#ff8b8b 157.5px)"></i><i style="left:18px;background:linear-gradient(#ffa5a5 0.5px,#ffa9a9 28.5px,#ffb2b2 39.5px,#ffc8c8 53.5px,#fff7f7 65.5px,#fff9f9 86.5px,#fff4f4 88.5px,#ffd9d9 89.5px,#ff5f5f 91.5px,#ff3e3e 92.5px,#ff3737 93.5px,#ff3636 109.5px,#f77 147.5px,#ff8d8d 154.5px,#ff7d7d 157.5px)"></i><i style="left:24px;background:linear-gradient(#ffa5a5 0.5px,#ffa9a9 28.5px,#ffb2b2 39.5px,#ffc8c8 53.5px,#fff7f7 65.5px,#fff9f9 86.5px,#fff0f0 88.5px,#fcc 89.5px,#f55 91.5px,#ff3b3b 92.5px,#ff3737 93.5px,#ff3636 108.5px,#ff7373 141.5px,#ff8585 147.5px,#ff6b6b 152.5px,#ff7070 157.5px)"></i><i style="left:30px;background:linear-gradient(#ffa5a5 0.5px,#ffa9a9 28.5px,#ffb2b2 39.5px,#ffc8c8 53.5px,#fff8f8 65.5px,#fff9f9 86.5px,#fff7f7 87.5px,#ffe7e7 88.5px,#ffb9b9 89.5px,#ff7b7b 90.5px,#ff4c4c 91.5px,#ff3939 92.5px,#ff3636 93.5px,#ff3a3a 110.5px,#ff7e7e 140.5px,#ff6060 146.5px,#ff7272 157.5px)"></i><i style="left:36px;background:linear-gradient(#ffa5a5 0.5px,#ffa9a9 28.5px,#ffb1b1 38.5px,#ffc8c8 53.5px,#fff8f8 65.5px,#fff9f9 85.5px,#fff3f3 87.5px,#ffd7d7 88.5px,#ff6868 90.5px,#f44 91.5px,#ff3737 92.5px,#ff3535 93.5px,#ff3b3b 109.5px,#ff7b7b 133.5px,#f77 135.5px,#ff5b5b 138.5px,#f55 140.5px,#ff7575 157.5px)"></i><i style="left:42px;background:linear-gradient(#ffa5a5 0.5px,#ffa9a9 28.5px,#ffb1b1 38.5px,#ffc6c6 52.5px,#fff8f8 65.5px,#fff9f9 85.5px,#fff7f7 86.5px,#ffe7e7 87.5px,#ffbcbc 88.5px,#ff8585 89.5px,#ff5656 90.5px,#ff3e3e 91.5px,#ff3636 92.5px,#ff3b3b 107.5px,#ff4c4c 114.5px,#ff7e7e 127.5px,#ff7b7b 128.5px,#ff5656 131.5px,#ff4848 133.5px,#ff6464 144.5px,#ff7575 157.5px)"></i><i style="left:48px;background:linear-gradient(#ffa5a5 0.5px,#ffa9a9 28.5px,#ffb1b1 38.5px,#ffc9c9 53.5px,#fff8f8 65.5px,#fff9f9 84.5px,#fff8f8 85.5px,#ffecec 86.5px,#ffc9c9 87.5px,#ff6868 89.5px,#ff4848 90.5px,#ff3939 91.5px,#ff3636 92.5px,#ff3535 101.5px,#ff4545 108.5px,#ff6868 116.5px,#ff8989 121.5px,#ff8383 122.5px,#ff4c4c 125.5px,#ff3e3e 127.5px,#ff6464 143.5px,#ff7575 157.5px)"></i><i style="left:54px;background:linear-gradient(#ffa5a5 0.5px,#ffa9a9 28.5px,#ffb5b5 42.5px,#ffcaca 53.5px,#fff8f8 65.5px,#fff9f9 83.5px,#fff7f7 84.5px,#ffeaea 85.5px,#ffc8c8 86.5px,#ff7070 88.5px,#ff5050 89.5px,#ff3f3f 90.5px,#ff3535 92.5px,#ff3737 98.5px,#fe4849 104.5px,#fc6c6f 110.5px,#f697a0 114.5px,#f19ca9 115.5px,#e394af 116.5px,#c47ab2 117.5px,#ab5aa9 118.5px,#c64479 119.5px,#f03a48 120.5px,#fe3637 121.5px,#ff3636 122.5px,#ff6161 140.5px,#ff7575 157.5px)"></i><i style="left:60px;background:linear-gradient(#ffa5a5 0.5px,#ffa9a9 28.5px,#ffb1b1 38.5px,#ffc7c7 52.5px,#fff7f7 64.5px,#fff9f9 81.5px,#fff2f2 83.5px,#ffdada 84.5px,#ff6e6e 87.5px,#ff5454 88.5px,#ff3f3f 90.5px,#ff3d3d 93.5px,#fe4b4c 98.5px,#fc6265 102.5px,#f97d83 105.5px,#f1a1af 108.5px,#e3a4c0 110.5px,#cc94c4 111.5px,#a174cc 112.5px,#6d52da 113.5px,#493ee7 114.5px,#4239e8 115.5px,#6738c5 116.5px,#b5377c 117.5px,#ef3645 118.5px,#fe3536 119.5px,#ff6060 139.5px,#ff7575 157.5px)"></i><i style="left:66px;background:linear-gradient(#ffa5a5 0.5px,#ffa9a9 28.5px,#ffb6b6 42.5px,#ffcbcb 53.5px,#fff7f7 64.5px,#fff9f9 79.5px,#fee 81.5px,#ff7e7e 85.5px,#ff6969 86.5px,#ff5758 88.5px,#ff5a5b 91.5px,#fd7072 96.5px,#fc7f82 98.5px,#fa969b 100.5px,#ebc 104.5px,#e6bfd7 105.5px,#d5afd8 106.5px,#ae89d5 107.5px,#785ddb 108.5px,#4d41e7 109.5px,#3b39ee 110.5px,#3837f0 111.5px,#3b37ed 112.5px,#5438d6 113.5px,#e03653 115.5px,#fb3539 116.5px,#ff3636 119.5px,#ff6464 141.5px,#ff7575 157.5px)"></i><i style="left:72px;background:linear-gradient(#ffa5a5 0.5px,#ffa9a9 28.5px,#ffb6b6 42.5px,#ffcbcb 53.5px,#fff8f8 64.5px,#fff9f9 76.5px,#ffecec 78.5px,#ffbcbc 80.5px,#ff8283 83.5px,#ff7475 85.5px,#ff7c7d 87.5px,#fe9d9e 91.5px,#fbadb0 95.5px,#f8bec5 97.5px,#f3dae7 99.5px,#e8e1f8 101.5px,#dad2f7 102.5px,#b6a7ed 103.5px,#7e6be4 104.5px,#4e44e8 105.5px,#3b39ee 106.5px,#3737f0 108.5px,#3937ee 109.5px,#4c38dd 110.5px,#8a39a5 111.5px,#d6375d 112.5px,#f9363b 113.5px,#ff3535 114.5px,#ff3737 118.5px,#ff6565 141.5px,#f77 157.5px)"></i><i style="left:78px;background:linear-gradient(#ffa5a5 0.5px,#ffa9a9 27.5px,#ffb5b5 41.5px,#ffc9c9 52.5px,#fff6f6 63.5px,#fff9f9 71.5px,#fff5f5 73.5px,#ffeaea 74.5px,#ffb0b0 77.5px,#ff9494 80.5px,#ff9393 81.5px,#feb7b8 88.5px,#faedf2 93.5px,#f6f0f9 95.5px,#e9e5fa 98.5px,#ddd8f9 99.5px,#bcb4f4 100.5px,#8377ea 101.5px,#5048ea 102.5px,#3b39ee 103.5px,#3737f0 105.5px,#3837ef 106.5px,#4638e3 107.5px,#7d3ab3 108.5px,#cb3a6a 109.5px,#f63841 110.5px,#fe3637 111.5px,#ff3636 117.5px,#ff6060 138.5px,#f77 157.5px)"></i><i style="left:84px;background:linear-gradient(#ffa5a5 0.5px,#ffa9a9 27.5px,#ffb6b6 41.5px,#ffc8c8 51.5px,#ffefef 60.5px,#fff8f8 65.5px,#fff1f1 68.5px,#ffabab 73.5px,#ffa1a1 76.5px,#ffb2b2 81.5px,#fdf4f6 87.5px,#fbf5f9 90.5px,#efeafa 95.5px,#ddd8fa 97.5px,#bbb4f5 98.5px,#8176ec 99.5px,#4e46eb 100.5px,#3a38ef 101.5px,#3737f0 102.5px,#3837ef 103.5px,#4238e7 104.5px,#713abe 105.5px,#c03c77 106.5px,#f23c48 107.5px,#fe3a3b 108.5px,#ff3636 116.5px,#ff6464 140.5px,#f77 157.5px)"></i><i style="left:90px;background:linear-gradient(#ffa5a5 0.5px,#ffa9a9 27.5px,#ffb6b6 41.5px,#ffc6c6 50.5px,#ffe6e6 58.5px,#ffebeb 61.5px,#ffe3e3 63.5px,#ffabab 68.5px,#ffa6a6 72.5px,#ffb7b7 76.5px,#ffe6e7 80.5px,#fef6f7 82.5px,#fbf5f9 89.5px,#f2ecfa 93.5px,#e6e1fa 95.5px,#d3cef9 96.5px,#a79ef1 97.5px,#695eea 98.5px,#423ded 99.5px,#3937ef 100.5px,#4138e8 101.5px,#6b3ac3 102.5px,#b93c7d 103.5px,#ef3d4c 104.5px,#fe3d3e 105.5px,#ff3535 115.5px,#ff5f5f 137.5px,#f77 157.5px)"></i><i style="left:96px;background:linear-gradient(#ffa5a5 0.5px,#ffadad 32.5px,#ffbaba 43.5px,#ffd4d4 56.5px,#ffcece 58.5px,#ffa8a8 63.5px,#ffa6a6 66.5px,#fbb 71.5px,#fff4f4 77.5px,#fbf5f9 88.5px,#ede8fa 93.5px,#e6e2fa 94.5px,#d5d0f9 95.5px,#a99ff1 96.5px,#6b5fe9 97.5px,#4c3ee4 98.5px,#6c3ac2 99.5px,#b93c7d 100.5px,#ef3d4c 101.5px,#fd3d3e 102.5px,#ff3636 115.5px,#ff6464 140.5px,#f77 157.5px)"></i><i style="left:102px;background:linear-gradient(#ffa5a5 0.5px,#faa 27.5px,#ffc5c5 50.5px,#ffbfbf 53.5px,#ffa9a9 57.5px,#ffa7a7 60.5px,#ffc0c0 67.5px,#fff1f1 73.5px,#fff8f8 75.5px,#fdf8f9 87.5px,#f6f0f9 93.5px,#ece5f8 94.5px,#ccbbeb 95.5px,#b174bd 96.5px,#ca4778 97.5px,#f13e4b 98.5px,#fe3d3e 99.5px,#ff3636 115.5px,#ff6060 137.5px,#f77 157.5px)"></i><i style="left:108px;background:linear-gradient(#ffa5a5 0.5px,#ffa9a9 26.5px,#ffbcbc 44.5px,#ffa7a7 54.5px,#ffc0c0 63.5px,#fff7f7 72.5px,#fff9f9 92.5px,#fff8f8 93.5px,#ffefef 94.5px,#ffbaba 95.5px,#ff6868 96.5px,#ff4242 97.5px,#ff3d3d 98.5px,#ff3535 114.5px,#ff6565 140.5px,#f77 157.5px)"></i><i style="left:114px;background:linear-gradient(#ffa5a5 0.5px,#ffa9a9 25.5px,#ffb5b5 38.5px,#ffa6a6 48.5px,#ffc5c5 61.5px,#fff8f8 71.5px,#fff9f9 92.5px,#fff7f7 93.5px,#ffe0e0 94.5px,#ff5252 96.5px,#ff3e3e 97.5px,#ff3535 114.5px,#ff6060 137.5px,#f77 157.5px)"></i><i style="left:120px;background:linear-gradient(#ffa5a5 0.5px,#ffb1b1 33.5px,#ffa5a5 42.5px,#ffc2c2 58.5px,#fff8f8 70.5px,#fff9f9 92.5px,#fff4f4 93.5px,#ffcfcf 94.5px,#ff7d7d 95.5px,#ff4747 96.5px,#ff3d3d 97.5px,#ff3636 114.5px,#ff6060 137.5px,#f77 157.5px)"></i><i style="left:126px;background:linear-gradient(#ffa5a5 0.5px,#ffadad 27.5px,#ffa5a5 34.5px,#faa 42.5px,#ffc6c6 58.5px,#fff7f7 69.5px,#fff9f9 91.5px,#ffefef 93.5px,#ffbdbd 94.5px,#ff6a6a 95.5px,#ff4242 96.5px,#ff3d3d 97.5px,#ff3636 114.5px,#ff6363 139.5px,#f77 157.5px)"></i><i style="left:132px;background:linear-gradient(#ffa5a5 0.5px,#faa 39.5px,#ffc3c3 56.5px,#fff8f8 69.5px,#fff9f9 91.5px,#fff8f8 92.5px,#ffe9e9 93.5px,#faa 94.5px,#ff5c5c 95.5px,#ff4040 96.5px,#ff3d3d 97.5px,#ff3636 114.5px,#ff6363 139.5px,#f77 157.5px)"></i><i style="left:138px;background:linear-gradient(#ffa5a5 0.5px,#faa 37.5px,#ffc3c3 55.5px,#fff9f9 69.5px,#fff9f9 91.5px,#fff7f7 92.5px,#ffe1e1 93.5px,#ff5353 95.5px,#ff3f3f 96.5px,#ff3535 113.5px,#ff6161 137.5px,#f77 157.5px)"></i></b></div>
<div class="ins" style="left:48px;top:50px"><i style="left:0px;background:linear-gradient(#ec540f 0.5px,#f66d1a 8.5px,#fd992c 17.5px,#fab536 22.5px,#edcd39 26.5px,#d1e637 30.5px,#aef53f 33.5px,#8ef950 35.5px,#45f389 39.5px,#30ef9d 41.5px,#2dee9f 42.5px,#30ef9c 43.5px,#45f389 45.5px,#8cfa50 49.5px,#abf63f 51.5px,#d5e437 55.5px,#ead339 59.5px)"></i><i style="left:2px;background:linear-gradient(#ec540f 0.5px,#f66d1a 8.5px,#fd992c 17.5px,#fab536 22.5px,#edcd39 26.5px,#d1e637 30.5px,#aef53f 33.5px,#8ef950 35.5px,#45f389 39.5px,#30ef9d 41.5px,#2dee9f 42.5px,#30ef9c 43.5px,#45f389 45.5px,#8cfa50 49.5px,#abf63f 51.5px,#d5e437 55.5px,#ead339 59.5px)"></i><i style="left:4px;background:linear-gradient(#ec540f 0.5px,#f66d1a 8.5px,#fd992c 17.5px,#fab536 22.5px,#edcd39 26.5px,#d1e637 30.5px,#aef53f 33.5px,#8ef950 35.5px,#45f389 39.5px,#30ef9d 41.5px,#2dee9f 42.5px,#30ef9c 43.5px,#45f389 45.5px,#8cfa50 49.5px,#abf63f 51.5px,#d5e437 55.5px,#ead339 59.5px)"></i><i style="left:6px;background:linear-gradient(#ec540f 0.5px,#f66d1a 8.5px,#fd992c 17.5px,#fab536 22.5px,#edcd39 26.5px,#d1e637 30.5px,#aef53f 33.5px,#8ef950 35.5px,#45f389 39.5px,#30ef9c 41.5px,#2dee9f 42.5px,#30ef9c 43.5px,#45f388 45.5px,#8dfa50 49.5px,#abf63f 51.5px,#d5e437 55.5px,#ead339 59.5px)"></i><i style="left:8px;background:linear-gradient(#ec540f 0.5px,#f66d1a 8.5px,#fd992c 17.5px,#fab536 22.5px,#edcd39 26.5px,#d1e637 30.5px,#aef53f 33.5px,#8ef950 35.5px,#45f389 39.5px,#30ef9c 41.5px,#2eee9f 42.5px,#31ef9c 43.5px,#46f488 45.5px,#8dfa50 49.5px,#abf63f 51.5px,#d5e437 55.5px,#ead339 59.5px)"></i><i style="left:10px;background:linear-gradient(#ec540f 0.5px,#f66d1a 8.5px,#fd992c 17.5px,#fab536 22.5px,#edcd39 26.5px,#d1e637 30.5px,#aef53f 33.5px,#8ef950 35.5px,#45f389 39.5px,#30ef9c 41.5px,#2eee9f 42.5px,#31ef9c 43.5px,#46f488 45.5px,#8dfa50 49.5px,#acf63f 51.5px,#d5e437 55.5px,#ead239 59.5px)"></i><i style="left:12px;background:linear-gradient(#ec540f 0.5px,#f66d1a 8.5px,#fd992c 17.5px,#fab536 22.5px,#edcd39 26.5px,#d1e637 30.5px,#aef53f 33.5px,#8ef950 35.5px,#45f389 39.5px,#30ef9c 41.5px,#2eee9f 42.5px,#31ef9c 43.5px,#46f488 45.5px,#8dfa4f 49.5px,#acf63f 51.5px,#d5e437 55.5px,#ebd239 59.5px)"></i><i style="left:14px;background:linear-gradient(#ec540f 0.5px,#f66d1a 8.5px,#fd992c 17.5px,#fab536 22.5px,#edcd39 26.5px,#d1e637 30.5px,#aef53f 33.5px,#8df950 35.5px,#45f389 39.5px,#31ef9c 41.5px,#2eee9e 42.5px,#31ef9b 43.5px,#46f487 45.5px,#8dfa4f 49.5px,#acf63f 51.5px,#d5e437 55.5px,#ebd239 59.5px)"></i><i style="left:16px;background:linear-gradient(#ec540f 0.5px,#f66d1a 8.5px,#fd992c 17.5px,#fab536 22.5px,#edcd39 26.5px,#d1e637 30.5px,#aef53f 33.5px,#8df950 35.5px,#45f389 39.5px,#31ef9c 41.5px,#2eee9e 42.5px,#31ef9b 43.5px,#47f487 45.5px,#8dfa4f 49.5px,#acf63f 51.5px,#d5e437 55.5px,#ebd239 59.5px)"></i><i style="left:18px;background:linear-gradient(#ec540f 0.5px,#f66d1a 8.5px,#fd992c 17.5px,#fab536 22.5px,#edcd39 26.5px,#d1e637 30.5px,#aef53f 33.5px,#8df950 35.5px,#45f389 39.5px,#31ef9c 41.5px,#2eee9e 42.5px,#32ef9b 43.5px,#47f487 45.5px,#8efa4f 49.5px,#acf63e 51.5px,#d5e437 55.5px,#ebd239 59.5px)"></i><i style="left:20px;background:linear-gradient(#ec540f 0.5px,#f66d1a 8.5px,#fd992c 17.5px,#fab536 22.5px,#edcd39 26.5px,#d1e637 30.5px,#adf53f 33.5px,#8df950 35.5px,#45f489 39.5px,#31ef9b 41.5px,#2fef9e 42.5px,#32ef9a 43.5px,#47f486 45.5px,#8efa4f 49.5px,#acf63e 51.5px,#d5e437 55.5px,#ead239 59.5px)"></i><i style="left:22px;background:linear-gradient(#ec540f 0.5px,#f66d1a 8.5px,#fd992c 17.5px,#fab536 22.5px,#edcd39 26.5px,#d1e637 30.5px,#adf53f 33.5px,#8df950 35.5px,#45f488 39.5px,#31ef9b 41.5px,#2fef9d 42.5px,#33f09a 43.5px,#48f486 45.5px,#8efa4e 49.5px,#adf63e 51.5px,#d5e437 55.5px,#ead339 59.5px)"></i><i style="left:24px;background:linear-gradient(#ec540f 0.5px,#f66d1a 8.5px,#fd992c 17.5px,#fab536 22.5px,#edcd39 26.5px,#d1e637 30.5px,#adf53f 33.5px,#8df950 35.5px,#46f488 39.5px,#32f09a 41.5px,#30ef9c 42.5px,#33f099 43.5px,#49f585 45.5px,#8ffa4e 49.5px,#adf63e 51.5px,#d5e437 55.5px,#ead339 59.5px)"></i><i style="left:26px;background:linear-gradient(#ec540f 0.5px,#f66d1a 8.5px,#fd992c 17.5px,#fab536 22.5px,#edcd39 26.5px,#d1e637 30.5px,#aef53f 33.5px,#8efa50 35.5px,#46f487 39.5px,#32f09a 41.5px,#30ef9c 42.5px,#34f098 43.5px,#49f584 45.5px,#8ffa4e 49.5px,#acf63e 51.5px,#d5e437 55.5px,#ead339 59.5px)"></i><i style="left:28px;background:linear-gradient(#ec540f 0.5px,#f66d1a 8.5px,#fd992c 17.5px,#fab536 22.5px,#edcd39 26.5px,#d1e637 30.5px,#aef53f 33.5px,#8efa4f 35.5px,#47f487 39.5px,#33f099 41.5px,#31f09b 42.5px,#34f098 43.5px,#4af584 45.5px,#8efa4e 49.5px,#acf63e 51.5px,#d4e537 55.5px,#ead339 59.5px)"></i><i style="left:30px;background:linear-gradient(#ec540f 0.5px,#f66d1a 8.5px,#fd992c 17.5px,#f1c739 25.5px,#d9e037 29.5px,#aef53e 33.5px,#8efa4f 35.5px,#48f586 39.5px,#34f098 41.5px,#32f09a 42.5px,#35f197 43.5px,#49f584 45.5px,#8dfa4f 49.5px,#abf63f 51.5px,#d4e536 55.5px,#e9d439 59.5px)"></i><i style="left:32px;background:linear-gradient(#ec540f 0.5px,#f66d1a 8.5px,#fd992c 17.5px,#f1c739 25.5px,#d9e037 29.5px,#aef53e 33.5px,#8efa4f 35.5px,#49f585 39.5px,#34f197 41.5px,#32f09a 42.5px,#35f197 43.5px,#49f585 45.5px,#8dfa4f 49.5px,#aaf73f 51.5px,#d3e536 55.5px,#e9d439 59.5px)"></i><i style="left:34px;background:linear-gradient(#ec540f 0.5px,#f66d1a 8.5px,#fd992c 17.5px,#fab636 22.5px,#edcd39 26.5px,#d1e637 30.5px,#aef53e 33.5px,#8ffa4e 35.5px,#49f584 39.5px,#35f197 41.5px,#32f09a 42.5px,#35f197 43.5px,#48f585 45.5px,#8cfa50 49.5px,#aaf73f 51.5px,#d3e536 55.5px,#e9d439 59.5px)"></i><i style="left:36px;background:linear-gradient(#ed540f 0.5px,#f66e1a 8.5px,#fd992c 17.5px,#fab636 22.5px,#edcd39 26.5px,#d1e637 30.5px,#aff53e 33.5px,#90fa4e 35.5px,#4af583 39.5px,#35f197 41.5px,#32f09a 42.5px,#34f197 43.5px,#47f586 45.5px,#8bfa50 49.5px,#a9f73f 51.5px,#d3e636 55.5px,#e9d439 59.5px)"></i><i style="left:38px;background:linear-gradient(#ed540f 0.5px,#f66e1a 8.5px,#fd992c 17.5px,#fab636 22.5px,#edcd39 26.5px,#d1e637 30.5px,#b0f53e 33.5px,#91fa4d 35.5px,#4bf583 39.5px,#35f197 41.5px,#32f09a 42.5px,#34f198 43.5px,#46f587 45.5px,#8afa51 49.5px,#a9f740 51.5px,#d3e636 55.5px,#e9d439 59.5px)"></i><i style="left:40px;background:linear-gradient(#ed540f 0.5px,#f76e1a 8.5px,#fd992d 17.5px,#fab636 22.5px,#edcd39 26.5px,#d2e637 30.5px,#b0f43d 33.5px,#92f94d 35.5px,#4bf583 39.5px,#35f197 41.5px,#31f09a 42.5px,#33f099 43.5px,#46f487 45.5px,#8afa51 49.5px,#a9f740 51.5px,#d3e637 55.5px,#e9d439 59.5px)"></i><i style="left:42px;background:linear-gradient(#ed540f 0.5px,#f76e1a 8.5px,#fd9a2d 17.5px,#fab636 22.5px,#edcd39 26.5px,#d2e537 30.5px,#b1f43d 33.5px,#92f94c 35.5px,#4bf583 39.5px,#35f097 41.5px,#31f09b 42.5px,#32f099 43.5px,#45f488 45.5px,#89fa52 49.5px,#a8f740 51.5px,#d3e637 55.5px,#e9d439 59.5px)"></i><i style="left:44px;background:linear-gradient(#ed540f 0.5px,#f56a18 7.5px,#fd9a2d 17.5px,#fab536 22.5px,#edcd39 26.5px,#d3e537 30.5px,#b1f43d 33.5px,#93f94c 35.5px,#4bf583 39.5px,#34f098 41.5px,#30ef9c 42.5px,#32f09a 43.5px,#44f489 45.5px,#89fa52 49.5px,#a8f740 51.5px,#d3e637 55.5px,#e9d439 59.5px)"></i><i style="left:46px;background:linear-gradient(#ed540f 0.5px,#f56a18 7.5px,#fd992c 17.5px,#fab536 22.5px,#eecc39 26.5px,#d3e537 30.5px,#a3f743 34.5px,#81fa58 36.5px,#4bf584 39.5px,#34f099 41.5px,#30ef9c 42.5px,#31ef9b 43.5px,#44f48a 45.5px,#89fa52 49.5px,#a8f740 51.5px,#d3e637 55.5px,#e9d439 59.5px)"></i><i style="left:48px;background:linear-gradient(#ed540f 0.5px,#f56a18 7.5px,#fd992c 17.5px,#fab536 22.5px,#eecc39 26.5px,#d3e537 30.5px,#a3f743 34.5px,#81fa58 36.5px,#4af584 39.5px,#33f099 41.5px,#2fef9d 42.5px,#31ef9c 43.5px,#43f38a 45.5px,#89fa52 49.5px,#a8f740 51.5px,#d3e637 55.5px,#e9d439 59.5px)"></i><i style="left:50px;background:linear-gradient(#ed540f 0.5px,#f56a18 7.5px,#fd992c 17.5px,#fab436 22.5px,#eecc39 26.5px,#d3e437 30.5px,#b1f43d 33.5px,#92f94d 35.5px,#4af485 39.5px,#33ef9a 41.5px,#2fee9e 42.5px,#30ef9c 43.5px,#43f38b 45.5px,#89fa52 49.5px,#a8f740 51.5px,#d3e637 55.5px,#e9d439 59.5px)"></i><i style="left:52px;background:linear-gradient(#ed540f 0.5px,#f76e1a 8.5px,#fd982c 17.5px,#fab436 22.5px,#eecc39 26.5px,#d3e437 30.5px,#b1f43d 33.5px,#92f94d 35.5px,#49f485 39.5px,#32ef9a 41.5px,#2eee9e 42.5px,#30ef9d 43.5px,#43f38b 45.5px,#89fa52 49.5px,#a8f740 51.5px,#d3e637 55.5px,#e9d439 59.5px)"></i><i style="left:54px;background:linear-gradient(#ed540f 0.5px,#f76e1a 8.5px,#fd982c 17.5px,#fab436 22.5px,#eecb39 26.5px,#d3e437 30.5px,#b1f43d 33.5px,#91f94d 35.5px,#48f486 39.5px,#32ef9b 41.5px,#2eee9e 42.5px,#30ef9d 43.5px,#43f38b 45.5px,#89fa52 49.5px,#a8f740 51.5px,#d3e537 55.5px,#e9d439 59.5px)"></i><i style="left:56px;background:linear-gradient(#ed540f 0.5px,#f66e1a 8.5px,#fd982c 17.5px,#fab436 22.5px,#eecc39 26.5px,#d3e537 30.5px,#b1f43e 33.5px,#91f94e 35.5px,#48f486 39.5px,#32ef9b 41.5px,#2eee9f 42.5px,#30ef9d 43.5px,#43f38b 45.5px,#89fa52 49.5px,#a9f740 51.5px,#d3e537 55.5px,#e9d439 59.5px)"></i><i style="left:58px;background:linear-gradient(#ed540f 0.5px,#f66d1a 8.5px,#fd972c 17.5px,#fab436 22.5px,#eecc39 26.5px,#d3e537 30.5px,#b1f43e 33.5px,#91f94e 35.5px,#48f486 39.5px,#32ef9b 41.5px,#2eee9f 42.5px,#30ef9d 43.5px,#43f38b 45.5px,#89fa52 49.5px,#a9f740 51.5px,#d3e537 55.5px,#e9d439 59.5px)"></i><i style="left:60px;background:linear-gradient(#ed540f 0.5px,#f66d19 8.5px,#fd972c 17.5px,#fab436 22.5px,#eecc39 26.5px,#d3e537 30.5px,#b1f43e 33.5px,#91f94e 35.5px,#48f486 39.5px,#32ef9b 41.5px,#2eee9f 42.5px,#30ef9d 43.5px,#43f38b 45.5px,#89fa52 49.5px,#a9f740 51.5px,#d3e537 55.5px,#e9d439 59.5px)"></i></div>
<div class="ins" style="left:48px;top:386px"><i style="left:0px;background:linear-gradient(#ec530f 0.5px,#f66c19 8.5px,#fd972c 17.5px,#fab436 22.5px,#eecc39 26.5px,#d3e537 30.5px,#b1f43e 33.5px,#91f94e 35.5px,#48f486 39.5px,#31ef9b 41.5px,#2eee9f 42.5px,#2fef9d 43.5px,#42f38b 45.5px,#88fa53 49.5px,#a8f740 51.5px,#d3e637 55.5px,#e9d439 59.5px)"></i><i style="left:2px;background:linear-gradient(#ec530f 0.5px,#f66c19 8.5px,#fd972c 17.5px,#fab436 22.5px,#eecc39 26.5px,#d3e537 30.5px,#b1f43e 33.5px,#91f94e 35.5px,#48f486 39.5px,#31ef9b 41.5px,#2eee9f 42.5px,#2fef9d 43.5px,#42f38b 45.5px,#89fa52 49.5px,#a8f740 51.5px,#d3e637 55.5px,#e9d439 59.5px)"></i><i style="left:4px;background:linear-gradient(#ec530f 0.5px,#f66c19 8.5px,#fd972c 17.5px,#fab436 22.5px,#eecc39 26.5px,#d3e537 30.5px,#b1f43e 33.5px,#91f94e 35.5px,#48f486 39.5px,#31ef9b 41.5px,#2eee9f 42.5px,#2fef9d 43.5px,#43f38b 45.5px,#89fa52 49.5px,#a8f740 51.5px,#d3e537 55.5px,#e9d439 59.5px)"></i><i style="left:6px;background:linear-gradient(#ec530f 0.5px,#f66d19 8.5px,#fd972c 17.5px,#fab436 22.5px,#eecc39 26.5px,#d3e537 30.5px,#b1f43e 33.5px,#91f94e 35.5px,#48f486 39.5px,#31ef9b 41.5px,#2eee9f 42.5px,#30ef9d 43.5px,#43f38b 45.5px,#89fa52 49.5px,#a9f740 51.5px,#d3e537 55.5px,#e9d439 59.5px)"></i><i style="left:8px;background:linear-gradient(#ec530f 0.5px,#f66d19 8.5px,#fd982c 17.5px,#fab436 22.5px,#eecc39 26.5px,#d3e537 30.5px,#b1f43e 33.5px,#91f94e 35.5px,#48f486 39.5px,#32ef9b 41.5px,#2eee9f 42.5px,#30ef9d 43.5px,#43f38b 45.5px,#89fa52 49.5px,#a9f740 51.5px,#d3e537 55.5px,#e9d439 59.5px)"></i><i style="left:10px;background:linear-gradient(#ec530f 0.5px,#f66d19 8.5px,#fd982c 17.5px,#fab436 22.5px,#eecc39 26.5px,#d3e537 30.5px,#b1f43e 33.5px,#91f94e 35.5px,#48f486 39.5px,#32ef9b 41.5px,#2eee9f 42.5px,#30ef9d 43.5px,#43f38b 45.5px,#89fa52 49.5px,#a9f740 51.5px,#d3e537 55.5px,#ead339 59.5px)"></i><i style="left:12px;background:linear-gradient(#ec530f 0.5px,#f66d19 8.5px,#fd982c 17.5px,#fab436 22.5px,#eecc39 26.5px,#d3e537 30.5px,#b0f43e 33.5px,#91f94e 35.5px,#48f486 39.5px,#32ef9b 41.5px,#2eee9f 42.5px,#30ef9d 43.5px,#43f38a 45.5px,#8afa52 49.5px,#a9f740 51.5px,#d4e537 55.5px,#ead339 59.5px)"></i><i style="left:14px;background:linear-gradient(#ec530f 0.5px,#f66d19 8.5px,#fd982c 17.5px,#fab436 22.5px,#eecc39 26.5px,#d3e537 30.5px,#b0f43e 33.5px,#91f94e 35.5px,#48f486 39.5px,#32ef9b 41.5px,#2eee9f 42.5px,#30ef9d 43.5px,#43f38a 45.5px,#8afa52 49.5px,#a9f740 51.5px,#d4e537 55.5px,#ead339 59.5px)"></i><i style="left:16px;background:linear-gradient(#ec530f 0.5px,#f66d19 8.5px,#fd982c 17.5px,#fab436 22.5px,#eecc39 26.5px,#d3e537 30.5px,#b0f43e 33.5px,#91f94e 35.5px,#48f486 39.5px,#32ef9b 41.5px,#2eee9e 42.5px,#30ef9c 43.5px,#44f38a 45.5px,#8afa51 49.5px,#a9f640 51.5px,#d4e537 55.5px,#ead339 59.5px)"></i><i style="left:18px;background:linear-gradient(#ec530f 0.5px,#f66d19 8.5px,#fd982c 17.5px,#fab436 22.5px,#eecc39 26.5px,#d3e537 30.5px,#b0f43e 33.5px,#91f94e 35.5px,#48f486 39.5px,#32ef9b 41.5px,#2eee9e 42.5px,#31ef9c 43.5px,#44f389 45.5px,#8afa51 49.5px,#aaf640 51.5px,#d4e537 55.5px,#ead339 59.5px)"></i><i style="left:20px;background:linear-gradient(#ec530f 0.5px,#f56918 7.5px,#fd982c 17.5px,#fab436 22.5px,#eecc39 26.5px,#d3e537 30.5px,#b0f43e 33.5px,#91f94e 35.5px,#48f486 39.5px,#32ef9a 41.5px,#2fef9e 42.5px,#31ef9b 43.5px,#45f489 45.5px,#8afa51 49.5px,#aaf63f 51.5px,#d4e537 55.5px,#ead339 59.5px)"></i><i style="left:22px;background:linear-gradient(#ec530f 0.5px,#f56918 7.5px,#fd982c 17.5px,#fab436 22.5px,#eecc39 26.5px,#d3e537 30.5px,#b0f43e 33.5px,#91f94e 35.5px,#48f486 39.5px,#32f09a 41.5px,#2fef9d 42.5px,#31ef9b 43.5px,#45f489 45.5px,#8bfa51 49.5px,#aaf63f 51.5px,#d4e537 55.5px,#e9d439 59.5px)"></i><i style="left:24px;background:linear-gradient(#ec530f 0.5px,#f56918 7.5px,#fd982c 17.5px,#fab436 22.5px,#eecc39 26.5px,#d2e537 30.5px,#b0f43e 33.5px,#91f94e 35.5px,#48f485 39.5px,#33f099 41.5px,#30ef9d 42.5px,#32f09a 43.5px,#45f488 45.5px,#8bfa51 49.5px,#aaf73f 51.5px,#d3e536 55.5px,#e9d439 59.5px)"></i><i style="left:26px;background:linear-gradient(#ec530f 0.5px,#f56918 7.5px,#fd982c 17.5px,#fab436 22.5px,#eecc39 26.5px,#d2e537 30.5px,#b0f43e 33.5px,#91f94e 35.5px,#49f585 39.5px,#33f099 41.5px,#30ef9c 42.5px,#32f09a 43.5px,#46f488 45.5px,#8bfa51 49.5px,#a9f73f 51.5px,#d3e636 55.5px,#e9d439 59.5px)"></i><i style="left:28px;background:linear-gradient(#ec530f 0.5px,#f56918 7.5px,#fd982c 17.5px,#fab436 22.5px,#eecc39 26.5px,#d2e537 30.5px,#b0f43e 33.5px,#91f94d 35.5px,#4af584 39.5px,#34f098 41.5px,#31f09b 42.5px,#33f099 43.5px,#46f487 45.5px,#8afa51 49.5px,#a9f740 51.5px,#d3e636 55.5px,#e8d539 59.5px)"></i><i style="left:30px;background:linear-gradient(#ec530f 0.5px,#f56918 7.5px,#fd982c 17.5px,#fab436 22.5px,#eecc39 26.5px,#d2e537 30.5px,#b0f43d 33.5px,#91f94d 35.5px,#4bf583 39.5px,#35f197 41.5px,#31f09a 42.5px,#33f099 43.5px,#46f487 45.5px,#8afa51 49.5px,#a8f740 51.5px,#d2e636 55.5px,#e8d539 59.5px)"></i><i style="left:32px;background:linear-gradient(#ec530f 0.5px,#f56918 7.5px,#fd982c 17.5px,#fab436 22.5px,#eecc39 26.5px,#d2e537 30.5px,#b1f43d 33.5px,#92f94d 35.5px,#4bf582 39.5px,#35f196 41.5px,#32f09a 42.5px,#33f198 43.5px,#46f487 45.5px,#89fa52 49.5px,#a8f740 51.5px,#d2e636 55.5px,#e8d539 59.5px)"></i><i style="left:34px;background:linear-gradient(#ec530f 0.5px,#f56918 7.5px,#fd982c 17.5px,#fab436 22.5px,#eecc39 26.5px,#d3e537 30.5px,#b1f43d 33.5px,#93f94c 35.5px,#4cf582 39.5px,#36f196 41.5px,#32f09a 42.5px,#34f198 43.5px,#45f488 45.5px,#88fa52 49.5px,#a7f740 51.5px,#d2e636 55.5px,#e8d539 59.5px)"></i><i style="left:36px;background:linear-gradient(#ec530f 0.5px,#f56918 7.5px,#fd982c 17.5px,#fab436 22.5px,#eecc39 26.5px,#d3e537 30.5px,#b2f43d 33.5px,#93f94c 35.5px,#4df681 39.5px,#36f196 41.5px,#32f099 42.5px,#33f198 43.5px,#45f488 45.5px,#88fa53 49.5px,#a7f741 51.5px,#d1e736 55.5px,#e8d539 59.5px)"></i><i style="left:38px;background:linear-gradient(#ec530f 0.5px,#f56918 7.5px,#fd982c 17.5px,#fab536 22.5px,#eecc39 26.5px,#d3e537 30.5px,#a4f743 34.5px,#83fa56 36.5px,#4ef681 39.5px,#36f196 41.5px,#32f09a 42.5px,#33f099 43.5px,#44f489 45.5px,#87fa53 49.5px,#a6f741 51.5px,#d1e736 55.5px,#e8d539 59.5px)"></i><i style="left:40px;background:linear-gradient(#ec530f 0.5px,#f56918 7.5px,#fd982c 17.5px,#fab436 22.5px,#eecc39 26.5px,#d4e437 30.5px,#a5f742 34.5px,#84fa56 36.5px,#4ef680 39.5px,#36f196 41.5px,#32f09a 42.5px,#32f099 43.5px,#43f48a 45.5px,#86fa54 49.5px,#a6f741 51.5px,#d1e737 55.5px,#e8d539 59.5px)"></i><i style="left:42px;background:linear-gradient(#ec530f 0.5px,#f56918 7.5px,#fd982c 17.5px,#fab436 22.5px,#eecc39 26.5px,#d4e437 30.5px,#a6f742 34.5px,#84fa56 36.5px,#4ef680 39.5px,#36f196 41.5px,#31f09b 42.5px,#32f09a 43.5px,#42f38b 45.5px,#86fa54 49.5px,#a5f741 51.5px,#d1e637 55.5px,#e8d539 59.5px)"></i><i style="left:44px;background:linear-gradient(#ec540f 0.5px,#f66d1a 8.5px,#fd982c 17.5px,#fab436 22.5px,#eecb39 26.5px,#d4e437 30.5px,#a6f742 34.5px,#84fa55 36.5px,#4ef581 39.5px,#36f197 41.5px,#30ef9c 42.5px,#31ef9b 43.5px,#41f38c 45.5px,#85fa55 49.5px,#a5f742 51.5px,#d1e637 55.5px,#e8d539 59.5px)"></i><i style="left:46px;background:linear-gradient(#ec540f 0.5px,#f66d1a 8.5px,#fd982c 17.5px,#fab436 22.5px,#efcb39 26.5px,#d5e437 30.5px,#a6f742 34.5px,#84fa56 36.5px,#4ef581 39.5px,#35f097 41.5px,#30ef9c 42.5px,#30ef9c 43.5px,#41f38c 45.5px,#85fa55 49.5px,#a5f742 51.5px,#d2e637 55.5px,#e8d539 59.5px)"></i><i style="left:48px;background:linear-gradient(#ec540f 0.5px,#f66d1a 8.5px,#fd982c 17.5px,#fab436 22.5px,#efcb39 26.5px,#d5e337 30.5px,#a6f742 34.5px,#84fa56 36.5px,#4df581 39.5px,#35f098 41.5px,#2fef9d 42.5px,#30ef9c 43.5px,#40f38d 45.5px,#85fa55 49.5px,#a5f742 51.5px,#d2e637 55.5px,#e8d539 59.5px)"></i><i style="left:50px;background:linear-gradient(#ec540f 0.5px,#f66d1a 8.5px,#fd982c 17.5px,#fab336 22.5px,#efcb39 26.5px,#d5e337 30.5px,#a6f742 34.5px,#84fa56 36.5px,#4df582 39.5px,#34f098 41.5px,#2fef9d 42.5px,#30ef9d 43.5px,#40f38d 45.5px,#85fa55 49.5px,#a5f742 51.5px,#d2e637 55.5px,#e8d539 59.5px)"></i><i style="left:52px;background:linear-gradient(#ed540f 0.5px,#f66d1a 8.5px,#fd972c 17.5px,#fbb335 22.5px,#efca39 26.5px,#d5e337 30.5px,#a6f742 34.5px,#84fa56 36.5px,#4cf582 39.5px,#34f099 41.5px,#2fee9e 42.5px,#2fef9d 43.5px,#40f38d 45.5px,#85fa55 49.5px,#a5f742 51.5px,#d2e637 55.5px,#e8d539 59.5px)"></i><i style="left:54px;background:linear-gradient(#ed540f 0.5px,#f66d1a 8.5px,#fd972b 17.5px,#fbb335 22.5px,#efca39 26.5px,#d5e337 30.5px,#a5f742 34.5px,#83fa57 36.5px,#4cf583 39.5px,#33ef99 41.5px,#2eee9e 42.5px,#2fee9e 43.5px,#40f38d 45.5px,#85fa55 49.5px,#a5f742 51.5px,#d2e637 55.5px,#e8d539 59.5px)"></i><i style="left:56px;background:linear-gradient(#ed540f 0.5px,#f66d19 8.5px,#fd962b 17.5px,#fbb335 22.5px,#efca39 26.5px,#d5e337 30.5px,#a5f743 34.5px,#83fa57 36.5px,#4bf583 39.5px,#33ef9a 41.5px,#2eee9e 42.5px,#2fee9e 43.5px,#40f28d 45.5px,#85fa55 49.5px,#a5f741 51.5px,#d2e637 55.5px,#e8d539 59.5px)"></i><i style="left:58px;background:linear-gradient(#ed540f 0.5px,#f66c19 8.5px,#fd962b 17.5px,#fbb335 22.5px,#efca39 26.5px,#d5e337 30.5px,#a5f743 34.5px,#82fa57 36.5px,#4bf484 39.5px,#33ef9a 41.5px,#2eee9f 42.5px,#2fee9e 43.5px,#40f28d 45.5px,#85fa55 49.5px,#a6f741 51.5px,#d2e637 55.5px,#e8d539 59.5px)"></i><i style="left:60px;background:linear-gradient(#ec540f 0.5px,#f66c19 8.5px,#fd962b 17.5px,#fbb335 22.5px,#efcb39 26.5px,#d5e437 30.5px,#a5f743 34.5px,#82fa57 36.5px,#4bf484 39.5px,#33ef9a 41.5px,#2eee9f 42.5px,#2fee9e 43.5px,#40f28d 45.5px,#86fa54 49.5px,#a6f741 51.5px,#d2e637 55.5px,#e8d539 59.5px)"></i></div>
<svg width="685" height="736" viewBox="0 0 685 736"><defs><clipPath id="c00"><rect x="43" y="39" width="139" height="158"/></clipPath><clipPath id="c01"><rect x="192" y="39" width="139" height="158"/></clipPath><clipPath id="c02"><rect x="341" y="39" width="139" height="158"/></clipPath><clipPath id="c03"><rect x="489" y="39" width="139" height="158"/></clipPath><clipPath id="c10"><rect x="43" y="207" width="139" height="158"/></clipPath><clipPath id="c11"><rect x="192" y="207" width="139" height="158"/></clipPath><clipPath id="c12"><rect x="341" y="207" width="139" height="158"/></clipPath><clipPath id="c13"><rect x="489" y="207" width="139" height="158"/></clipPath><clipPath id="c20"><rect x="43" y="374" width="139" height="158"/></clipPath><clipPath id="c21"><rect x="192" y="374" width="139" height="158"/></clipPath><clipPath id="c22"><rect x="341" y="374" width="139" height="158"/></clipPath><clipPath id="c23"><rect x="489" y="374" width="139" height="158"/></clipPath><clipPath id="c30"><rect x="43" y="544" width="139" height="158"/></clipPath><clipPath id="c31"><rect x="192" y="544" width="139" height="158"/></clipPath><clipPath id="c32"><rect x="341" y="544" width="139" height="158"/></clipPath><clipPath id="c33"><rect x="489" y="544" width="139" height="158"/></clipPath></defs><g fill="none" stroke="#000" stroke-width="1" stroke-dasharray="2.8 2"><g clip-path="url(#c00)"><path d="M43 134.3 H182"/><path d="M41.0 224.5 L184.0 64.2"/></g><g clip-path="url(#c01)"><path d="M190.0 134.0 L192.0 134.0 L194.0 134.0 L196.0 134.0 L198.1 134.0 L200.1 133.9 L202.1 133.9 L204.1 133.9 L206.1 133.9 L208.1 133.9 L210.1 133.9 L212.2 133.8 L214.2 133.8 L216.2 133.8 L218.2 133.8 L220.2 133.8 L222.2 133.7 L224.2 133.7 L226.3 133.7 L228.3 133.6 L230.3 133.6 L232.3 133.5 L234.3 133.5 L236.3 133.4 L238.3 133.3 L240.4 133.2 L242.4 133.2 L244.4 133.0 L246.4 132.9 L248.4 132.7 L250.4 132.6 L252.4 132.3 L254.5 132.0 L256.5 131.6 L258.5 131.1 L260.5 130.5 L262.5 129.7 L264.5 128.7 L266.5 127.4 L268.5 126.0 L270.6 124.4 L272.6 122.6 L274.6 120.8 L276.6 118.9 L278.6 116.9 L280.6 114.9 L282.6 112.8 L284.7 110.8 L286.7 108.7 L288.7 106.7 L290.7 104.6 L292.7 102.5 L294.7 100.4 L296.7 98.3 L298.8 96.2 L300.8 94.1 L302.8 92.0 L304.8 90.0 L306.8 87.9 L308.8 85.8 L310.8 83.7 L312.9 81.7 L314.9 79.6 L316.9 77.5 L318.9 75.5 L320.9 73.4 L322.9 71.4 L324.9 69.3 L327.0 67.3 L329.0 65.3 L331.0 63.2 L333.0 61.2"/><path d="M190.0 221.7 L192.0 219.3 L194.0 216.8 L196.0 214.4 L198.1 211.9 L200.1 209.5 L202.1 207.1 L204.1 204.7 L206.1 202.3 L208.1 199.9 L210.1 197.5 L212.2 195.1 L214.2 192.7 L216.2 190.4 L218.2 188.0 L220.2 185.6 L222.2 183.3 L224.2 181.0 L226.3 178.6 L228.3 176.3 L230.3 174.0 L232.3 171.7 L234.3 169.4 L236.3 167.2 L238.3 164.9 L240.4 162.7 L242.4 160.5 L244.4 158.3 L246.4 156.1 L248.4 154.0 L250.4 151.9 L252.4 149.8 L254.5 147.9 L256.5 146.0 L258.5 144.2 L260.5 142.6 L262.5 141.2 L264.5 139.9 L266.5 139.0 L268.5 138.2 L270.6 137.6 L272.6 137.1 L274.6 136.7 L276.6 136.4 L278.6 136.2 L280.6 136.0 L282.6 135.9 L284.7 135.7 L286.7 135.6 L288.7 135.5 L290.7 135.4 L292.7 135.4 L294.7 135.3 L296.7 135.3 L298.8 135.2 L300.8 135.2 L302.8 135.1 L304.8 135.1 L306.8 135.1 L308.8 135.0 L310.8 135.0 L312.9 135.0 L314.9 135.0 L316.9 134.9 L318.9 134.9 L320.9 134.9 L322.9 134.9 L324.9 134.9 L327.0 134.8 L329.0 134.8 L331.0 134.8 L333.0 134.8"/></g><g clip-path="url(#c02)"><path d="M339.0 131.4 L341.0 131.4 L343.0 131.4 L345.0 131.3 L347.1 131.3 L349.1 131.3 L351.1 131.2 L353.1 131.2 L355.1 131.1 L357.1 131.1 L359.1 131.1 L361.2 131.0 L363.2 130.9 L365.2 130.9 L367.2 130.8 L369.2 130.8 L371.2 130.7 L373.2 130.6 L375.3 130.5 L377.3 130.4 L379.3 130.3 L381.3 130.2 L383.3 130.0 L385.3 129.9 L387.3 129.7 L389.4 129.5 L391.4 129.3 L393.4 129.0 L395.4 128.7 L397.4 128.4 L399.4 128.0 L401.4 127.5 L403.5 126.9 L405.5 126.3 L407.5 125.5 L409.5 124.6 L411.5 123.6 L413.5 122.5 L415.5 121.2 L417.5 119.8 L419.6 118.2 L421.6 116.6 L423.6 114.9 L425.6 113.1 L427.6 111.3 L429.6 109.4 L431.6 107.5 L433.7 105.6 L435.7 103.6 L437.7 101.6 L439.7 99.6 L441.7 97.6 L443.7 95.6 L445.7 93.6 L447.8 91.6 L449.8 89.5 L451.8 87.5 L453.8 85.5 L455.8 83.4 L457.8 81.4 L459.8 79.3 L461.9 77.3 L463.9 75.3 L465.9 73.3 L467.9 71.2 L469.9 69.2 L471.9 67.2 L473.9 65.2 L476.0 63.2 L478.0 61.2 L480.0 59.1 L482.0 57.2"/><path d="M339.0 218.6 L341.0 216.2 L343.0 213.7 L345.0 211.3 L347.1 208.9 L349.1 206.5 L351.1 204.1 L353.1 201.7 L355.1 199.3 L357.1 197.0 L359.1 194.6 L361.2 192.3 L363.2 189.9 L365.2 187.6 L367.2 185.3 L369.2 183.0 L371.2 180.7 L373.2 178.4 L375.3 176.1 L377.3 173.9 L379.3 171.7 L381.3 169.4 L383.3 167.2 L385.3 165.1 L387.3 162.9 L389.4 160.8 L391.4 158.7 L393.4 156.7 L395.4 154.7 L397.4 152.8 L399.4 150.9 L401.4 149.1 L403.5 147.4 L405.5 145.8 L407.5 144.3 L409.5 142.9 L411.5 141.7 L413.5 140.6 L415.5 139.6 L417.5 138.8 L419.6 138.1 L421.6 137.5 L423.6 137.0 L425.6 136.6 L427.6 136.2 L429.6 135.9 L431.6 135.6 L433.7 135.4 L435.7 135.2 L437.7 135.0 L439.7 134.9 L441.7 134.7 L443.7 134.6 L445.7 134.5 L447.8 134.4 L449.8 134.3 L451.8 134.2 L453.8 134.1 L455.8 134.0 L457.8 134.0 L459.8 133.9 L461.9 133.8 L463.9 133.8 L465.9 133.7 L467.9 133.7 L469.9 133.7 L471.9 133.6 L473.9 133.6 L476.0 133.5 L478.0 133.5 L480.0 133.5 L482.0 133.4"/></g><g clip-path="url(#c03)"><path d="M487.0 130.5 L489.0 130.5 L491.0 130.5 L493.0 130.4 L495.1 130.4 L497.1 130.3 L499.1 130.3 L501.1 130.2 L503.1 130.2 L505.1 130.1 L507.1 130.0 L509.2 130.0 L511.2 129.9 L513.2 129.8 L515.2 129.7 L517.2 129.6 L519.2 129.5 L521.2 129.4 L523.3 129.3 L525.3 129.2 L527.3 129.1 L529.3 128.9 L531.3 128.7 L533.3 128.6 L535.3 128.4 L537.4 128.1 L539.4 127.9 L541.4 127.6 L543.4 127.3 L545.4 127.0 L547.4 126.6 L549.4 126.1 L551.5 125.6 L553.5 125.1 L555.5 124.4 L557.5 123.7 L559.5 122.9 L561.5 122.0 L563.5 120.9 L565.5 119.8 L567.6 118.6 L569.6 117.2 L571.6 115.8 L573.6 114.3 L575.6 112.7 L577.6 111.0 L579.6 109.3 L581.7 107.5 L583.7 105.7 L585.7 103.8 L587.7 102.0 L589.7 100.1 L591.7 98.1 L593.7 96.2 L595.8 94.2 L597.8 92.3 L599.8 90.3 L601.8 88.3 L603.8 86.3 L605.8 84.3 L607.8 82.3 L609.9 80.3 L611.9 78.3 L613.9 76.3 L615.9 74.3 L617.9 72.3 L619.9 70.3 L621.9 68.3 L624.0 66.3 L626.0 64.3 L628.0 62.3 L630.0 60.3"/><path d="M487.0 223.9 L489.0 221.5 L491.0 219.1 L493.0 216.7 L495.1 214.2 L497.1 211.8 L499.1 209.4 L501.1 207.1 L503.1 204.7 L505.1 202.3 L507.1 200.0 L509.2 197.6 L511.2 195.3 L513.2 193.0 L515.2 190.7 L517.2 188.4 L519.2 186.1 L521.2 183.8 L523.3 181.6 L525.3 179.3 L527.3 177.1 L529.3 174.9 L531.3 172.7 L533.3 170.6 L535.3 168.4 L537.4 166.3 L539.4 164.2 L541.4 162.2 L543.4 160.2 L545.4 158.2 L547.4 156.3 L549.4 154.5 L551.5 152.7 L553.5 151.0 L555.5 149.4 L557.5 147.8 L559.5 146.4 L561.5 145.1 L563.5 143.8 L565.5 142.7 L567.6 141.7 L569.6 140.9 L571.6 140.1 L573.6 139.4 L575.6 138.8 L577.6 138.2 L579.6 137.7 L581.7 137.3 L583.7 137.0 L585.7 136.6 L587.7 136.3 L589.7 136.1 L591.7 135.8 L593.7 135.6 L595.8 135.4 L597.8 135.3 L599.8 135.1 L601.8 135.0 L603.8 134.8 L605.8 134.7 L607.8 134.6 L609.9 134.5 L611.9 134.4 L613.9 134.3 L615.9 134.2 L617.9 134.2 L619.9 134.1 L621.9 134.0 L624.0 134.0 L626.0 133.9 L628.0 133.8 L630.0 133.8"/></g><g clip-path="url(#c10)"><path d="M43 301.4 H182"/><path d="M41.0 391.6 L184.0 231.3"/></g><g clip-path="url(#c11)"><path d="M190.0 301.0 L192.0 301.0 L194.0 301.0 L196.0 301.0 L198.1 301.0 L200.1 300.9 L202.1 300.9 L204.1 300.9 L206.1 300.9 L208.1 300.9 L210.1 300.9 L212.2 300.8 L214.2 300.8 L216.2 300.8 L218.2 300.8 L220.2 300.8 L222.2 300.7 L224.2 300.7 L226.3 300.7 L228.3 300.6 L230.3 300.6 L232.3 300.5 L234.3 300.5 L236.3 300.4 L238.3 300.3 L240.4 300.2 L242.4 300.2 L244.4 300.0 L246.4 299.9 L248.4 299.7 L250.4 299.6 L252.4 299.3 L254.5 299.0 L256.5 298.6 L258.5 298.1 L260.5 297.5 L262.5 296.7 L264.5 295.7 L266.5 294.4 L268.5 293.0 L270.6 291.4 L272.6 289.6 L274.6 287.8 L276.6 285.9 L278.6 283.9 L280.6 281.9 L282.6 279.8 L284.7 277.8 L286.7 275.7 L288.7 273.7 L290.7 271.6 L292.7 269.5 L294.7 267.4 L296.7 265.3 L298.8 263.2 L300.8 261.1 L302.8 259.0 L304.8 257.0 L306.8 254.9 L308.8 252.8 L310.8 250.7 L312.9 248.7 L314.9 246.6 L316.9 244.5 L318.9 242.5 L320.9 240.4 L322.9 238.4 L324.9 236.3 L327.0 234.3 L329.0 232.3 L331.0 230.2 L333.0 228.2"/><path d="M190.0 388.7 L192.0 386.3 L194.0 383.8 L196.0 381.4 L198.1 378.9 L200.1 376.5 L202.1 374.1 L204.1 371.7 L206.1 369.3 L208.1 366.9 L210.1 364.5 L212.2 362.1 L214.2 359.7 L216.2 357.4 L218.2 355.0 L220.2 352.6 L222.2 350.3 L224.2 348.0 L226.3 345.6 L228.3 343.3 L230.3 341.0 L232.3 338.7 L234.3 336.4 L236.3 334.2 L238.3 331.9 L240.4 329.7 L242.4 327.5 L244.4 325.3 L246.4 323.1 L248.4 321.0 L250.4 318.9 L252.4 316.8 L254.5 314.9 L256.5 313.0 L258.5 311.2 L260.5 309.6 L262.5 308.2 L264.5 306.9 L266.5 306.0 L268.5 305.2 L270.6 304.6 L272.6 304.1 L274.6 303.7 L276.6 303.4 L278.6 303.2 L280.6 303.0 L282.6 302.9 L284.7 302.7 L286.7 302.6 L288.7 302.5 L290.7 302.4 L292.7 302.4 L294.7 302.3 L296.7 302.3 L298.8 302.2 L300.8 302.2 L302.8 302.1 L304.8 302.1 L306.8 302.1 L308.8 302.0 L310.8 302.0 L312.9 302.0 L314.9 302.0 L316.9 301.9 L318.9 301.9 L320.9 301.9 L322.9 301.9 L324.9 301.9 L327.0 301.8 L329.0 301.8 L331.0 301.8 L333.0 301.8"/></g><g clip-path="url(#c12)"><path d="M339.0 299.5 L341.0 299.4 L343.0 299.4 L345.0 299.4 L347.1 299.3 L349.1 299.3 L351.1 299.3 L353.1 299.2 L355.1 299.2 L357.1 299.2 L359.1 299.1 L361.2 299.1 L363.2 299.0 L365.2 298.9 L367.2 298.9 L369.2 298.8 L371.2 298.7 L373.2 298.6 L375.3 298.6 L377.3 298.5 L379.3 298.3 L381.3 298.2 L383.3 298.1 L385.3 297.9 L387.3 297.7 L389.4 297.5 L391.4 297.3 L393.4 297.1 L395.4 296.8 L397.4 296.4 L399.4 296.0 L401.4 295.5 L403.5 295.0 L405.5 294.3 L407.5 293.6 L409.5 292.7 L411.5 291.7 L413.5 290.5 L415.5 289.2 L417.5 287.8 L419.6 286.3 L421.6 284.7 L423.6 283.0 L425.6 281.2 L427.6 279.4 L429.6 277.5 L431.6 275.6 L433.7 273.6 L435.7 271.7 L437.7 269.7 L439.7 267.7 L441.7 265.7 L443.7 263.7 L445.7 261.6 L447.8 259.6 L449.8 257.6 L451.8 255.5 L453.8 253.5 L455.8 251.5 L457.8 249.4 L459.8 247.4 L461.9 245.4 L463.9 243.3 L465.9 241.3 L467.9 239.3 L469.9 237.3 L471.9 235.2 L473.9 233.2 L476.0 231.2 L478.0 229.2 L480.0 227.2 L482.0 225.2"/><path d="M339.0 386.6 L341.0 384.2 L343.0 381.8 L345.0 379.4 L347.1 376.9 L349.1 374.5 L351.1 372.1 L353.1 369.8 L355.1 367.4 L357.1 365.0 L359.1 362.7 L361.2 360.3 L363.2 358.0 L365.2 355.6 L367.2 353.3 L369.2 351.0 L371.2 348.7 L373.2 346.5 L375.3 344.2 L377.3 341.9 L379.3 339.7 L381.3 337.5 L383.3 335.3 L385.3 333.1 L387.3 331.0 L389.4 328.9 L391.4 326.8 L393.4 324.7 L395.4 322.7 L397.4 320.8 L399.4 318.9 L401.4 317.1 L403.5 315.4 L405.5 313.8 L407.5 312.3 L409.5 310.9 L411.5 309.7 L413.5 308.6 L415.5 307.7 L417.5 306.9 L419.6 306.2 L421.6 305.6 L423.6 305.1 L425.6 304.7 L427.6 304.3 L429.6 304.0 L431.6 303.7 L433.7 303.5 L435.7 303.3 L437.7 303.1 L439.7 302.9 L441.7 302.8 L443.7 302.6 L445.7 302.5 L447.8 302.4 L449.8 302.3 L451.8 302.2 L453.8 302.2 L455.8 302.1 L457.8 302.0 L459.8 302.0 L461.9 301.9 L463.9 301.8 L465.9 301.8 L467.9 301.7 L469.9 301.7 L471.9 301.7 L473.9 301.6 L476.0 301.6 L478.0 301.6 L480.0 301.5 L482.0 301.5"/></g><g clip-path="url(#c13)"><path d="M487.0 297.9 L489.0 297.9 L491.0 297.9 L493.0 297.8 L495.1 297.8 L497.1 297.7 L499.1 297.7 L501.1 297.6 L503.1 297.6 L505.1 297.5 L507.1 297.4 L509.2 297.4 L511.2 297.3 L513.2 297.2 L515.2 297.1 L517.2 297.0 L519.2 296.9 L521.2 296.8 L523.3 296.7 L525.3 296.6 L527.3 296.5 L529.3 296.3 L531.3 296.1 L533.3 296.0 L535.3 295.8 L537.4 295.5 L539.4 295.3 L541.4 295.0 L543.4 294.7 L545.4 294.4 L547.4 294.0 L549.4 293.5 L551.5 293.0 L553.5 292.5 L555.5 291.8 L557.5 291.1 L559.5 290.3 L561.5 289.4 L563.5 288.3 L565.5 287.2 L567.6 286.0 L569.6 284.6 L571.6 283.2 L573.6 281.7 L575.6 280.1 L577.6 278.4 L579.6 276.7 L581.7 274.9 L583.7 273.1 L585.7 271.2 L587.7 269.4 L589.7 267.5 L591.7 265.5 L593.7 263.6 L595.8 261.6 L597.8 259.7 L599.8 257.7 L601.8 255.7 L603.8 253.7 L605.8 251.7 L607.8 249.7 L609.9 247.7 L611.9 245.7 L613.9 243.7 L615.9 241.7 L617.9 239.7 L619.9 237.7 L621.9 235.7 L624.0 233.7 L626.0 231.7 L628.0 229.7 L630.0 227.7"/><path d="M487.0 391.3 L489.0 388.9 L491.0 386.5 L493.0 384.1 L495.1 381.6 L497.1 379.2 L499.1 376.8 L501.1 374.5 L503.1 372.1 L505.1 369.7 L507.1 367.4 L509.2 365.0 L511.2 362.7 L513.2 360.4 L515.2 358.1 L517.2 355.8 L519.2 353.5 L521.2 351.2 L523.3 349.0 L525.3 346.7 L527.3 344.5 L529.3 342.3 L531.3 340.1 L533.3 338.0 L535.3 335.8 L537.4 333.7 L539.4 331.6 L541.4 329.6 L543.4 327.6 L545.4 325.6 L547.4 323.7 L549.4 321.9 L551.5 320.1 L553.5 318.4 L555.5 316.8 L557.5 315.2 L559.5 313.8 L561.5 312.5 L563.5 311.2 L565.5 310.1 L567.6 309.1 L569.6 308.3 L571.6 307.5 L573.6 306.8 L575.6 306.2 L577.6 305.6 L579.6 305.1 L581.7 304.7 L583.7 304.4 L585.7 304.0 L587.7 303.7 L589.7 303.5 L591.7 303.2 L593.7 303.0 L595.8 302.8 L597.8 302.7 L599.8 302.5 L601.8 302.4 L603.8 302.2 L605.8 302.1 L607.8 302.0 L609.9 301.9 L611.9 301.8 L613.9 301.7 L615.9 301.6 L617.9 301.6 L619.9 301.5 L621.9 301.4 L624.0 301.4 L626.0 301.3 L628.0 301.2 L630.0 301.2"/></g><g clip-path="url(#c20)"><path d="M43 469.0 H182"/><path d="M41.0 559.2 L184.0 398.9"/></g><g clip-path="url(#c21)"><path d="M190.0 468.8 L192.0 468.7 L194.0 468.7 L196.0 468.7 L198.1 468.7 L200.1 468.7 L202.1 468.7 L204.1 468.7 L206.1 468.7 L208.1 468.6 L210.1 468.6 L212.2 468.6 L214.2 468.6 L216.2 468.6 L218.2 468.5 L220.2 468.5 L222.2 468.5 L224.2 468.4 L226.3 468.4 L228.3 468.4 L230.3 468.3 L232.3 468.3 L234.3 468.2 L236.3 468.2 L238.3 468.1 L240.4 468.0 L242.4 467.9 L244.4 467.8 L246.4 467.7 L248.4 467.5 L250.4 467.3 L252.4 467.1 L254.5 466.8 L256.5 466.4 L258.5 465.9 L260.5 465.3 L262.5 464.4 L264.5 463.4 L266.5 462.2 L268.5 460.7 L270.6 459.1 L272.6 457.4 L274.6 455.5 L276.6 453.6 L278.6 451.6 L280.6 449.6 L282.6 447.6 L284.7 445.5 L286.7 443.5 L288.7 441.4 L290.7 439.3 L292.7 437.2 L294.7 435.1 L296.7 433.1 L298.8 431.0 L300.8 428.9 L302.8 426.8 L304.8 424.7 L306.8 422.6 L308.8 420.5 L310.8 418.5 L312.9 416.4 L314.9 414.3 L316.9 412.3 L318.9 410.2 L320.9 408.2 L322.9 406.1 L324.9 404.1 L327.0 402.0 L329.0 400.0 L331.0 398.0 L333.0 396.0"/><path d="M190.0 556.5 L192.0 554.0 L194.0 551.6 L196.0 549.1 L198.1 546.7 L200.1 544.3 L202.1 541.8 L204.1 539.4 L206.1 537.0 L208.1 534.6 L210.1 532.2 L212.2 529.9 L214.2 527.5 L216.2 525.1 L218.2 522.7 L220.2 520.4 L222.2 518.0 L224.2 515.7 L226.3 513.4 L228.3 511.1 L230.3 508.8 L232.3 506.5 L234.3 504.2 L236.3 501.9 L238.3 499.7 L240.4 497.4 L242.4 495.2 L244.4 493.0 L246.4 490.9 L248.4 488.7 L250.4 486.6 L252.4 484.6 L254.5 482.6 L256.5 480.7 L258.5 479.0 L260.5 477.4 L262.5 475.9 L264.5 474.7 L266.5 473.7 L268.5 472.9 L270.6 472.3 L272.6 471.8 L274.6 471.5 L276.6 471.2 L278.6 470.9 L280.6 470.8 L282.6 470.6 L284.7 470.5 L286.7 470.4 L288.7 470.3 L290.7 470.2 L292.7 470.1 L294.7 470.1 L296.7 470.0 L298.8 470.0 L300.8 469.9 L302.8 469.9 L304.8 469.8 L306.8 469.8 L308.8 469.8 L310.8 469.8 L312.9 469.7 L314.9 469.7 L316.9 469.7 L318.9 469.7 L320.9 469.6 L322.9 469.6 L324.9 469.6 L327.0 469.6 L329.0 469.6 L331.0 469.6 L333.0 469.6"/></g><g clip-path="url(#c22)"><path d="M339.0 466.5 L341.0 466.4 L343.0 466.4 L345.0 466.4 L347.1 466.3 L349.1 466.3 L351.1 466.3 L353.1 466.2 L355.1 466.2 L357.1 466.2 L359.1 466.1 L361.2 466.1 L363.2 466.0 L365.2 465.9 L367.2 465.9 L369.2 465.8 L371.2 465.7 L373.2 465.6 L375.3 465.6 L377.3 465.5 L379.3 465.3 L381.3 465.2 L383.3 465.1 L385.3 464.9 L387.3 464.7 L389.4 464.5 L391.4 464.3 L393.4 464.1 L395.4 463.8 L397.4 463.4 L399.4 463.0 L401.4 462.5 L403.5 462.0 L405.5 461.3 L407.5 460.6 L409.5 459.7 L411.5 458.7 L413.5 457.5 L415.5 456.2 L417.5 454.8 L419.6 453.3 L421.6 451.7 L423.6 450.0 L425.6 448.2 L427.6 446.4 L429.6 444.5 L431.6 442.6 L433.7 440.6 L435.7 438.7 L437.7 436.7 L439.7 434.7 L441.7 432.7 L443.7 430.7 L445.7 428.6 L447.8 426.6 L449.8 424.6 L451.8 422.5 L453.8 420.5 L455.8 418.5 L457.8 416.4 L459.8 414.4 L461.9 412.4 L463.9 410.3 L465.9 408.3 L467.9 406.3 L469.9 404.3 L471.9 402.2 L473.9 400.2 L476.0 398.2 L478.0 396.2 L480.0 394.2 L482.0 392.2"/><path d="M339.0 553.6 L341.0 551.2 L343.0 548.8 L345.0 546.4 L347.1 543.9 L349.1 541.5 L351.1 539.1 L353.1 536.8 L355.1 534.4 L357.1 532.0 L359.1 529.7 L361.2 527.3 L363.2 525.0 L365.2 522.6 L367.2 520.3 L369.2 518.0 L371.2 515.7 L373.2 513.5 L375.3 511.2 L377.3 508.9 L379.3 506.7 L381.3 504.5 L383.3 502.3 L385.3 500.1 L387.3 498.0 L389.4 495.9 L391.4 493.8 L393.4 491.7 L395.4 489.7 L397.4 487.8 L399.4 485.9 L401.4 484.1 L403.5 482.4 L405.5 480.8 L407.5 479.3 L409.5 477.9 L411.5 476.7 L413.5 475.6 L415.5 474.7 L417.5 473.9 L419.6 473.2 L421.6 472.6 L423.6 472.1 L425.6 471.7 L427.6 471.3 L429.6 471.0 L431.6 470.7 L433.7 470.5 L435.7 470.3 L437.7 470.1 L439.7 469.9 L441.7 469.8 L443.7 469.6 L445.7 469.5 L447.8 469.4 L449.8 469.3 L451.8 469.2 L453.8 469.2 L455.8 469.1 L457.8 469.0 L459.8 469.0 L461.9 468.9 L463.9 468.8 L465.9 468.8 L467.9 468.7 L469.9 468.7 L471.9 468.7 L473.9 468.6 L476.0 468.6 L478.0 468.6 L480.0 468.5 L482.0 468.5"/></g><g clip-path="url(#c23)"><path d="M487.0 465.7 L489.0 465.6 L491.0 465.6 L493.0 465.6 L495.1 465.5 L497.1 465.5 L499.1 465.4 L501.1 465.4 L503.1 465.3 L505.1 465.2 L507.1 465.2 L509.2 465.1 L511.2 465.0 L513.2 465.0 L515.2 464.9 L517.2 464.8 L519.2 464.7 L521.2 464.6 L523.3 464.5 L525.3 464.3 L527.3 464.2 L529.3 464.1 L531.3 463.9 L533.3 463.7 L535.3 463.5 L537.4 463.3 L539.4 463.0 L541.4 462.8 L543.4 462.5 L545.4 462.1 L547.4 461.7 L549.4 461.3 L551.5 460.8 L553.5 460.2 L555.5 459.6 L557.5 458.8 L559.5 458.0 L561.5 457.1 L563.5 456.1 L565.5 454.9 L567.6 453.7 L569.6 452.4 L571.6 450.9 L573.6 449.4 L575.6 447.8 L577.6 446.2 L579.6 444.4 L581.7 442.7 L583.7 440.8 L585.7 439.0 L587.7 437.1 L589.7 435.2 L591.7 433.3 L593.7 431.3 L595.8 429.4 L597.8 427.4 L599.8 425.4 L601.8 423.5 L603.8 421.5 L605.8 419.5 L607.8 417.5 L609.9 415.5 L611.9 413.5 L613.9 411.5 L615.9 409.5 L617.9 407.5 L619.9 405.5 L621.9 403.5 L624.0 401.5 L626.0 399.5 L628.0 397.5 L630.0 395.5"/><path d="M487.0 559.1 L489.0 556.7 L491.0 554.2 L493.0 551.8 L495.1 549.4 L497.1 547.0 L499.1 544.6 L501.1 542.2 L503.1 539.8 L505.1 537.5 L507.1 535.1 L509.2 532.8 L511.2 530.4 L513.2 528.1 L515.2 525.8 L517.2 523.5 L519.2 521.2 L521.2 519.0 L523.3 516.7 L525.3 514.5 L527.3 512.2 L529.3 510.0 L531.3 507.9 L533.3 505.7 L535.3 503.6 L537.4 501.5 L539.4 499.4 L541.4 497.3 L543.4 495.3 L545.4 493.4 L547.4 491.5 L549.4 489.6 L551.5 487.9 L553.5 486.1 L555.5 484.5 L557.5 483.0 L559.5 481.5 L561.5 480.2 L563.5 479.0 L565.5 477.9 L567.6 476.9 L569.6 476.0 L571.6 475.2 L573.6 474.5 L575.6 473.9 L577.6 473.4 L579.6 472.9 L581.7 472.5 L583.7 472.1 L585.7 471.8 L587.7 471.5 L589.7 471.2 L591.7 471.0 L593.7 470.8 L595.8 470.6 L597.8 470.4 L599.8 470.3 L601.8 470.1 L603.8 470.0 L605.8 469.9 L607.8 469.8 L609.9 469.7 L611.9 469.6 L613.9 469.5 L615.9 469.4 L617.9 469.3 L619.9 469.2 L621.9 469.2 L624.0 469.1 L626.0 469.1 L628.0 469.0 L630.0 468.9"/></g><g clip-path="url(#c30)"><path d="M43 638.5 H182"/><path d="M41.0 728.7 L184.0 568.4"/></g><g clip-path="url(#c31)"><path d="M190.0 637.7 L192.0 637.6 L194.0 637.6 L196.0 637.6 L198.1 637.6 L200.1 637.6 L202.1 637.6 L204.1 637.6 L206.1 637.6 L208.1 637.5 L210.1 637.5 L212.2 637.5 L214.2 637.5 L216.2 637.5 L218.2 637.4 L220.2 637.4 L222.2 637.4 L224.2 637.3 L226.3 637.3 L228.3 637.3 L230.3 637.2 L232.3 637.2 L234.3 637.1 L236.3 637.1 L238.3 637.0 L240.4 636.9 L242.4 636.8 L244.4 636.7 L246.4 636.6 L248.4 636.4 L250.4 636.2 L252.4 636.0 L254.5 635.7 L256.5 635.3 L258.5 634.8 L260.5 634.2 L262.5 633.3 L264.5 632.3 L266.5 631.1 L268.5 629.6 L270.6 628.0 L272.6 626.3 L274.6 624.4 L276.6 622.5 L278.6 620.5 L280.6 618.5 L282.6 616.5 L284.7 614.4 L286.7 612.4 L288.7 610.3 L290.7 608.2 L292.7 606.1 L294.7 604.0 L296.7 602.0 L298.8 599.9 L300.8 597.8 L302.8 595.7 L304.8 593.6 L306.8 591.5 L308.8 589.4 L310.8 587.4 L312.9 585.3 L314.9 583.2 L316.9 581.2 L318.9 579.1 L320.9 577.1 L322.9 575.0 L324.9 573.0 L327.0 570.9 L329.0 568.9 L331.0 566.9 L333.0 564.9"/><path d="M190.0 725.4 L192.0 722.9 L194.0 720.5 L196.0 718.0 L198.1 715.6 L200.1 713.2 L202.1 710.7 L204.1 708.3 L206.1 705.9 L208.1 703.5 L210.1 701.1 L212.2 698.8 L214.2 696.4 L216.2 694.0 L218.2 691.6 L220.2 689.3 L222.2 686.9 L224.2 684.6 L226.3 682.3 L228.3 680.0 L230.3 677.7 L232.3 675.4 L234.3 673.1 L236.3 670.8 L238.3 668.6 L240.4 666.3 L242.4 664.1 L244.4 661.9 L246.4 659.8 L248.4 657.6 L250.4 655.5 L252.4 653.5 L254.5 651.5 L256.5 649.6 L258.5 647.9 L260.5 646.3 L262.5 644.8 L264.5 643.6 L266.5 642.6 L268.5 641.8 L270.6 641.2 L272.6 640.7 L274.6 640.4 L276.6 640.1 L278.6 639.8 L280.6 639.7 L282.6 639.5 L284.7 639.4 L286.7 639.3 L288.7 639.2 L290.7 639.1 L292.7 639.0 L294.7 639.0 L296.7 638.9 L298.8 638.9 L300.8 638.8 L302.8 638.8 L304.8 638.7 L306.8 638.7 L308.8 638.7 L310.8 638.7 L312.9 638.6 L314.9 638.6 L316.9 638.6 L318.9 638.6 L320.9 638.5 L322.9 638.5 L324.9 638.5 L327.0 638.5 L329.0 638.5 L331.0 638.5 L333.0 638.5"/></g><g clip-path="url(#c32)"><path d="M339.0 636.7 L341.0 636.7 L343.0 636.7 L345.0 636.6 L347.1 636.6 L349.1 636.6 L351.1 636.5 L353.1 636.5 L355.1 636.4 L357.1 636.4 L359.1 636.4 L361.2 636.3 L363.2 636.2 L365.2 636.2 L367.2 636.1 L369.2 636.1 L371.2 636.0 L373.2 635.9 L375.3 635.8 L377.3 635.7 L379.3 635.6 L381.3 635.5 L383.3 635.3 L385.3 635.2 L387.3 635.0 L389.4 634.8 L391.4 634.6 L393.4 634.3 L395.4 634.0 L397.4 633.7 L399.4 633.3 L401.4 632.8 L403.5 632.2 L405.5 631.6 L407.5 630.8 L409.5 629.9 L411.5 628.9 L413.5 627.8 L415.5 626.5 L417.5 625.1 L419.6 623.5 L421.6 621.9 L423.6 620.2 L425.6 618.4 L427.6 616.6 L429.6 614.7 L431.6 612.8 L433.7 610.9 L435.7 608.9 L437.7 606.9 L439.7 604.9 L441.7 602.9 L443.7 600.9 L445.7 598.9 L447.8 596.9 L449.8 594.8 L451.8 592.8 L453.8 590.8 L455.8 588.7 L457.8 586.7 L459.8 584.6 L461.9 582.6 L463.9 580.6 L465.9 578.6 L467.9 576.5 L469.9 574.5 L471.9 572.5 L473.9 570.5 L476.0 568.5 L478.0 566.5 L480.0 564.4 L482.0 562.5"/><path d="M339.0 723.9 L341.0 721.5 L343.0 719.0 L345.0 716.6 L347.1 714.2 L349.1 711.8 L351.1 709.4 L353.1 707.0 L355.1 704.6 L357.1 702.3 L359.1 699.9 L361.2 697.6 L363.2 695.2 L365.2 692.9 L367.2 690.6 L369.2 688.3 L371.2 686.0 L373.2 683.7 L375.3 681.4 L377.3 679.2 L379.3 677.0 L381.3 674.7 L383.3 672.5 L385.3 670.4 L387.3 668.2 L389.4 666.1 L391.4 664.0 L393.4 662.0 L395.4 660.0 L397.4 658.1 L399.4 656.2 L401.4 654.4 L403.5 652.7 L405.5 651.1 L407.5 649.6 L409.5 648.2 L411.5 647.0 L413.5 645.9 L415.5 644.9 L417.5 644.1 L419.6 643.4 L421.6 642.8 L423.6 642.3 L425.6 641.9 L427.6 641.5 L429.6 641.2 L431.6 640.9 L433.7 640.7 L435.7 640.5 L437.7 640.3 L439.7 640.2 L441.7 640.0 L443.7 639.9 L445.7 639.8 L447.8 639.7 L449.8 639.6 L451.8 639.5 L453.8 639.4 L455.8 639.3 L457.8 639.3 L459.8 639.2 L461.9 639.1 L463.9 639.1 L465.9 639.0 L467.9 639.0 L469.9 639.0 L471.9 638.9 L473.9 638.9 L476.0 638.8 L478.0 638.8 L480.0 638.8 L482.0 638.7"/></g><g clip-path="url(#c33)"><path d="M487.0 635.3 L489.0 635.2 L491.0 635.2 L493.0 635.2 L495.1 635.1 L497.1 635.1 L499.1 635.0 L501.1 635.0 L503.1 634.9 L505.1 634.8 L507.1 634.8 L509.2 634.7 L511.2 634.6 L513.2 634.6 L515.2 634.5 L517.2 634.4 L519.2 634.3 L521.2 634.2 L523.3 634.1 L525.3 633.9 L527.3 633.8 L529.3 633.7 L531.3 633.5 L533.3 633.3 L535.3 633.1 L537.4 632.9 L539.4 632.6 L541.4 632.4 L543.4 632.1 L545.4 631.7 L547.4 631.3 L549.4 630.9 L551.5 630.4 L553.5 629.8 L555.5 629.2 L557.5 628.4 L559.5 627.6 L561.5 626.7 L563.5 625.7 L565.5 624.5 L567.6 623.3 L569.6 622.0 L571.6 620.5 L573.6 619.0 L575.6 617.4 L577.6 615.8 L579.6 614.0 L581.7 612.3 L583.7 610.4 L585.7 608.6 L587.7 606.7 L589.7 604.8 L591.7 602.9 L593.7 600.9 L595.8 599.0 L597.8 597.0 L599.8 595.0 L601.8 593.1 L603.8 591.1 L605.8 589.1 L607.8 587.1 L609.9 585.1 L611.9 583.1 L613.9 581.1 L615.9 579.1 L617.9 577.1 L619.9 575.1 L621.9 573.1 L624.0 571.1 L626.0 569.1 L628.0 567.1 L630.0 565.1"/><path d="M487.0 728.7 L489.0 726.3 L491.0 723.8 L493.0 721.4 L495.1 719.0 L497.1 716.6 L499.1 714.2 L501.1 711.8 L503.1 709.4 L505.1 707.1 L507.1 704.7 L509.2 702.4 L511.2 700.0 L513.2 697.7 L515.2 695.4 L517.2 693.1 L519.2 690.8 L521.2 688.6 L523.3 686.3 L525.3 684.1 L527.3 681.8 L529.3 679.6 L531.3 677.5 L533.3 675.3 L535.3 673.2 L537.4 671.1 L539.4 669.0 L541.4 666.9 L543.4 664.9 L545.4 663.0 L547.4 661.1 L549.4 659.2 L551.5 657.5 L553.5 655.7 L555.5 654.1 L557.5 652.6 L559.5 651.1 L561.5 649.8 L563.5 648.6 L565.5 647.5 L567.6 646.5 L569.6 645.6 L571.6 644.8 L573.6 644.1 L575.6 643.5 L577.6 643.0 L579.6 642.5 L581.7 642.1 L583.7 641.7 L585.7 641.4 L587.7 641.1 L589.7 640.8 L591.7 640.6 L593.7 640.4 L595.8 640.2 L597.8 640.0 L599.8 639.9 L601.8 639.7 L603.8 639.6 L605.8 639.5 L607.8 639.4 L609.9 639.3 L611.9 639.2 L613.9 639.1 L615.9 639.0 L617.9 638.9 L619.9 638.8 L621.9 638.8 L624.0 638.7 L626.0 638.7 L628.0 638.6 L630.0 638.5"/></g></g><g fill="none" stroke="#000" stroke-opacity=".6" stroke-width="1"><rect x="43.5" y="39.5" width="138" height="157"/><rect x="192.5" y="39.5" width="138" height="157"/><rect x="341.5" y="39.5" width="138" height="157"/><rect x="489.5" y="39.5" width="138" height="157"/><rect x="43.5" y="207.5" width="138" height="157"/><rect x="192.5" y="207.5" width="138" height="157"/><rect x="341.5" y="207.5" width="138" height="157"/><rect x="489.5" y="207.5" width="138" height="157"/><rect x="43.5" y="374.5" width="138" height="157"/><rect x="192.5" y="374.5" width="138" height="157"/><rect x="341.5" y="374.5" width="138" height="157"/><rect x="489.5" y="374.5" width="138" height="157"/><rect x="43.5" y="544.5" width="138" height="157"/><rect x="192.5" y="544.5" width="138" height="157"/><rect x="341.5" y="544.5" width="138" height="157"/><rect x="489.5" y="544.5" width="138" height="157"/></g><clipPath id="ci0"><rect x="48" y="50" width="61" height="60"/></clipPath><g clip-path="url(#ci0)" fill="none" stroke="#1a1a1a" stroke-opacity=".85" stroke-width=".8" stroke-dasharray="1.1 2"><path d="M48.2 92.4 L49.2 92.4 L50.2 92.4 L51.2 92.4 L52.2 92.4 L53.2 92.4 L54.2 92.4 L55.2 92.4 L56.2 92.4 L57.2 92.4 L58.2 92.4 L59.2 92.4 L60.2 92.4 L61.2 92.4 L62.2 92.4 L63.2 92.4 L64.2 92.4 L65.2 92.4 L66.2 92.4 L67.2 92.4 L68.2 92.3 L69.2 92.3 L70.2 92.3 L71.2 92.3 L72.2 92.3 L73.2 92.3 L74.2 92.3 L75.2 92.2 L76.2 92.2 L77.2 92.2 L78.2 92.1 L79.2 92.0 L80.2 91.9 L81.2 91.7 L82.2 91.5 L83.2 91.0 L84.2 90.2 L85.2 89.1 L86.2 87.8 L87.2 86.3 L88.2 84.7 L89.2 83.1 L90.2 81.4 L91.2 79.8 L92.2 78.1 L93.2 76.4 L94.2 74.8 L95.2 73.1 L96.2 71.4 L97.2 69.7 L98.2 68.0 L99.2 66.3 L100.2 64.7 L101.2 63.0 L102.2 61.3 L103.2 59.6 L104.2 57.9 L105.2 56.2 L106.2 54.6 L107.2 52.9 L108.2 51.2"/><path d="M48.2 154.5 L49.2 152.8 L50.2 151.0 L51.2 149.3 L52.2 147.5 L53.2 145.8 L54.2 144.0 L55.2 142.3 L56.2 140.5 L57.2 138.8 L58.2 137.1 L59.2 135.3 L60.2 133.6 L61.2 131.9 L62.2 130.1 L63.2 128.4 L64.2 126.7 L65.2 124.9 L66.2 123.2 L67.2 121.5 L68.2 119.7 L69.2 118.0 L70.2 116.3 L71.2 114.6 L72.2 112.9 L73.2 111.2 L74.2 109.5 L75.2 107.8 L76.2 106.1 L77.2 104.4 L78.2 102.7 L79.2 101.1 L80.2 99.5 L81.2 97.9 L82.2 96.5 L83.2 95.2 L84.2 94.3 L85.2 93.7 L86.2 93.4 L87.2 93.2 L88.2 93.0 L89.2 92.9 L90.2 92.9 L91.2 92.8 L92.2 92.8 L93.2 92.8 L94.2 92.7 L95.2 92.7 L96.2 92.7 L97.2 92.7 L98.2 92.7 L99.2 92.7 L100.2 92.6 L101.2 92.6 L102.2 92.6 L103.2 92.6 L104.2 92.6 L105.2 92.6 L106.2 92.6 L107.2 92.6 L108.2 92.6"/></g><rect x="47.5" y="49.5" width="62" height="61" fill="none" stroke="#4a1a05" stroke-opacity=".7" stroke-width="1"/><clipPath id="ci1"><rect x="48" y="386" width="61" height="60"/></clipPath><g clip-path="url(#ci1)" fill="none" stroke="#1a1a1a" stroke-opacity=".85" stroke-width=".8" stroke-dasharray="1.1 2"><path d="M48.2 428.6 L49.2 428.6 L50.2 428.6 L51.2 428.6 L52.2 428.6 L53.2 428.6 L54.2 428.6 L55.2 428.6 L56.2 428.6 L57.2 428.6 L58.2 428.6 L59.2 428.6 L60.2 428.6 L61.2 428.6 L62.2 428.6 L63.2 428.6 L64.2 428.6 L65.2 428.6 L66.2 428.6 L67.2 428.6 L68.2 428.5 L69.2 428.5 L70.2 428.5 L71.2 428.5 L72.2 428.5 L73.2 428.5 L74.2 428.5 L75.2 428.4 L76.2 428.4 L77.2 428.4 L78.2 428.3 L79.2 428.2 L80.2 428.1 L81.2 427.9 L82.2 427.7 L83.2 427.2 L84.2 426.4 L85.2 425.3 L86.2 424.0 L87.2 422.5 L88.2 420.9 L89.2 419.3 L90.2 417.6 L91.2 416.0 L92.2 414.3 L93.2 412.6 L94.2 411.0 L95.2 409.3 L96.2 407.6 L97.2 405.9 L98.2 404.2 L99.2 402.5 L100.2 400.9 L101.2 399.2 L102.2 397.5 L103.2 395.8 L104.2 394.1 L105.2 392.4 L106.2 390.8 L107.2 389.1 L108.2 387.4"/><path d="M48.2 490.7 L49.2 489.0 L50.2 487.2 L51.2 485.5 L52.2 483.7 L53.2 482.0 L54.2 480.2 L55.2 478.5 L56.2 476.7 L57.2 475.0 L58.2 473.3 L59.2 471.5 L60.2 469.8 L61.2 468.1 L62.2 466.3 L63.2 464.6 L64.2 462.9 L65.2 461.1 L66.2 459.4 L67.2 457.7 L68.2 455.9 L69.2 454.2 L70.2 452.5 L71.2 450.8 L72.2 449.1 L73.2 447.4 L74.2 445.7 L75.2 444.0 L76.2 442.3 L77.2 440.6 L78.2 438.9 L79.2 437.3 L80.2 435.7 L81.2 434.1 L82.2 432.7 L83.2 431.4 L84.2 430.5 L85.2 429.9 L86.2 429.6 L87.2 429.4 L88.2 429.2 L89.2 429.1 L90.2 429.1 L91.2 429.0 L92.2 429.0 L93.2 429.0 L94.2 428.9 L95.2 428.9 L96.2 428.9 L97.2 428.9 L98.2 428.9 L99.2 428.9 L100.2 428.8 L101.2 428.8 L102.2 428.8 L103.2 428.8 L104.2 428.8 L105.2 428.8 L106.2 428.8 L107.2 428.8 L108.2 428.8"/></g><rect x="47.5" y="385.5" width="62" height="61" fill="none" stroke="#4a1a05" stroke-opacity=".7" stroke-width="1"/></svg>
<svg width="685" height="736" viewBox="0 0 685 736" style="z-index:3"><g stroke="#000" stroke-opacity=".35" stroke-width=".8"><path d="M639.5 63.0 H642.5"/><path d="M639.5 81.4 H642.5"/><path d="M639.5 99.8 H642.5"/><path d="M639.5 118.2 H642.5"/><path d="M639.5 136.6 H642.5"/><path d="M639.5 155.0 H642.5"/><path d="M639.5 173.4 H642.5"/><path d="M639.5 230.6 H642.5"/><path d="M639.5 249.0 H642.5"/><path d="M639.5 267.4 H642.5"/><path d="M639.5 285.8 H642.5"/><path d="M639.5 304.1 H642.5"/><path d="M639.5 322.5 H642.5"/><path d="M639.5 340.9 H642.5"/><path d="M639.5 398.1 H642.5"/><path d="M639.5 416.5 H642.5"/><path d="M639.5 434.9 H642.5"/><path d="M639.5 453.4 H642.5"/><path d="M639.5 471.8 H642.5"/><path d="M639.5 490.2 H642.5"/><path d="M639.5 508.6 H642.5"/><path d="M639.5 568.0 H642.5"/><path d="M639.5 586.4 H642.5"/><path d="M639.5 604.7 H642.5"/><path d="M639.5 623.1 H642.5"/><path d="M639.5 641.5 H642.5"/><path d="M639.5 659.9 H642.5"/><path d="M639.5 678.2 H642.5"/></g></svg>
<div class="cb" style="left:634.2px;top:44.6px;height:147.2px;background:linear-gradient(#7a0403 0%,#8e0a01 2.5%,#a11201 5%,#b41b01 7.5%,#c32503 10%,#d02f05 12.5%,#dd3d08 15%,#e7490c 17.5%,#f05b12 20%,#f66c19 22.5%,#fb7e21 25%,#fe932a 27.5%,#fea431 30%,#fbb637 32.5%,#f6c33a 35%,#eecf3a 37.5%,#e1dd37 40%,#d4e735 42.5%,#c3f134 45%,#b4f836 47.5%,#a4fc3c 50%,#8fff49 52.5%,#79fe59 55%,#5dfc6f 57.5%,#46f884 60%,#32f298 62.5%,#20eaac 65%,#19e2bb 67.5%,#19d5cd 70%,#1fc9dd 72.5%,#28bceb 75%,#35abf8 77.5%,#3e9bfe 80%,#458afc 82.5%,#477bf2 85%,#466be3 87.5%,#4559cb 90%,#4249b1 92.5%,#3d358b 95%,#372466 97.5%,#30123b 100%)"></div>
<div class="cb" style="left:635.0px;top:212.2px;height:147.1px;background:linear-gradient(#800000 0%,#f00 25%,#fff 50%,#00f 75%,#000080 100%)"></div>
<div class="cb" style="left:635.0px;top:379.7px;height:147.3px;background:linear-gradient(#7a0403 0%,#8e0a01 2.5%,#a11201 5%,#b41b01 7.5%,#c32503 10%,#d02f05 12.5%,#dd3d08 15%,#e7490c 17.5%,#f05b12 20%,#f66c19 22.5%,#fb7e21 25%,#fe932a 27.5%,#fea431 30%,#fbb637 32.5%,#f6c33a 35%,#eecf3a 37.5%,#e1dd37 40%,#d4e735 42.5%,#c3f134 45%,#b4f836 47.5%,#a4fc3c 50%,#8fff49 52.5%,#79fe59 55%,#5dfc6f 57.5%,#46f884 60%,#32f298 62.5%,#20eaac 65%,#19e2bb 67.5%,#19d5cd 70%,#1fc9dd 72.5%,#28bceb 75%,#35abf8 77.5%,#3e9bfe 80%,#458afc 82.5%,#477bf2 85%,#466be3 87.5%,#4559cb 90%,#4249b1 92.5%,#3d358b 95%,#372466 97.5%,#30123b 100%)"></div>
<div class="cb" style="left:635.0px;top:549.6px;height:147.0px;background:linear-gradient(#800000 0%,#f00 25%,#fff 50%,#00f 75%,#000080 100%)"></div>
<div id="tx"><div class="t1" style="left:12.7px"><i>d</i> = 3 mm</div>
<div class="t2" style="left:12.7px"><em>(</em><i class="k">&kappa;</i><span class="sl">/</span><i class="k">&kappa;</i><sub>C</sub><span class="ap">&asymp;</span>0.1<em>)</em></div>
<div class="xt" style="left:25.4px">40</div>
<div class="xt" style="left:90.3px">60</div>
<div class="xt" style="left:153.0px">80</div>
<div class="xl" style="left:49.0px"><i>&mu;</i><sub>0</sub><i>H</i> (mT)</div>
<div class="t1" style="left:161.7px"><i>d</i> = 0.8 mm</div>
<div class="t2" style="left:161.7px"><em>(</em><i class="k">&kappa;</i><span class="sl">/</span><i class="k">&kappa;</i><sub>C</sub><span class="ap">&asymp;</span>0.5<em>)</em></div>
<div class="xt" style="left:174.4px">40</div>
<div class="xt" style="left:239.3px">60</div>
<div class="xt" style="left:302.0px">80</div>
<div class="xl" style="left:198.0px"><i>&mu;</i><sub>0</sub><i>H</i> (mT)</div>
<div class="t1" style="left:310.7px"><i>d</i> = 0.2 mm</div>
<div class="t2" style="left:310.7px"><em>(</em><i class="k">&kappa;</i><span class="sl">/</span><i class="k">&kappa;</i><sub>C</sub><span class="ap">&asymp;</span>0.8<em>)</em></div>
<div class="xt" style="left:323.4px">40</div>
<div class="xt" style="left:388.3px">60</div>
<div class="xt" style="left:451.0px">80</div>
<div class="xl" style="left:347.0px"><i>&mu;</i><sub>0</sub><i>H</i> (mT)</div>
<div class="t1" style="left:458.7px"><i>d</i> = 0 mm</div>
<div class="t2" style="left:458.7px"><em>(</em><i class="k">&kappa;</i><span class="sl">/</span><i class="k">&kappa;</i><sub>C</sub><span class="ap">&asymp;</span>1.0<em>)</em></div>
<div class="xt" style="left:471.4px">40</div>
<div class="xt" style="left:536.3px">60</div>
<div class="xt" style="left:599.0px">80</div>
<div class="xl" style="left:495.0px"><i>&mu;</i><sub>0</sub><i>H</i> (mT)</div>
<div class="yt" style="top:37.0px">4.2</div>
<div class="yt" style="top:110.2px">3.5</div>
<div class="yt" style="top:183.6px">2.8</div>
<div class="yl" style="top:123.0px"><i>f</i><sub>AC</sub> (GHz)</div>
<div class="yt" style="top:204.9px">4.2</div>
<div class="yt" style="top:278.5px">3.5</div>
<div class="yt" style="top:351.5px">2.8</div>
<div class="yl" style="top:291.0px"><i>f</i><sub>AC</sub> (GHz)</div>
<div class="yt" style="top:371.0px">4.2</div>
<div class="yt" style="top:445.3px">3.5</div>
<div class="yt" style="top:518.1px">2.8</div>
<div class="yl" style="top:458.0px"><i>f</i><sub>AC</sub> (GHz)</div>
<div class="yt" style="top:541.8px">4.2</div>
<div class="yt" style="top:615.9px">3.5</div>
<div class="yt" style="top:688.9px">2.8</div>
<div class="yl" style="top:628.0px"><i>f</i><sub>AC</sub> (GHz)</div>
<div class="ct" style="top:38.9px;font-size:14px">0</div><div class="ct c4" style="top:180.7px">-40</div>
<div class="ct c1" style="top:210.1px">15</div><div class="ct c4" style="top:347.3px;left:644.6px">-15</div>
<div class="ct" style="top:373.9px;font-size:14px">0</div><div class="ct c4" style="top:515.7px">-40</div>
<div class="ct c1" style="top:545.1px">15</div><div class="ct c4" style="top:684.3px;left:644.6px">-15</div>
<div class="cs" style="top:96.6px">|S<sub>21</sub><span style="margin-left:1px">|</span></div><div class="cd" style="top:118.6px">(<i>dB</i>)</div>
<div class="cs" style="top:429.6px;left:648.6px">|S<sub>12</sub><span style="margin-left:1.6px">|</span></div><div class="cd" style="top:451.8px;left:647px">(<i>dB</i>)</div>
<div class="cn" style="top:270px"><i>n</i>&prime;<sub>21</sub></div>
<div class="cn" style="top:605px"><i>n</i>&prime;<sub>12</sub></div></div>
</div></body></html>
